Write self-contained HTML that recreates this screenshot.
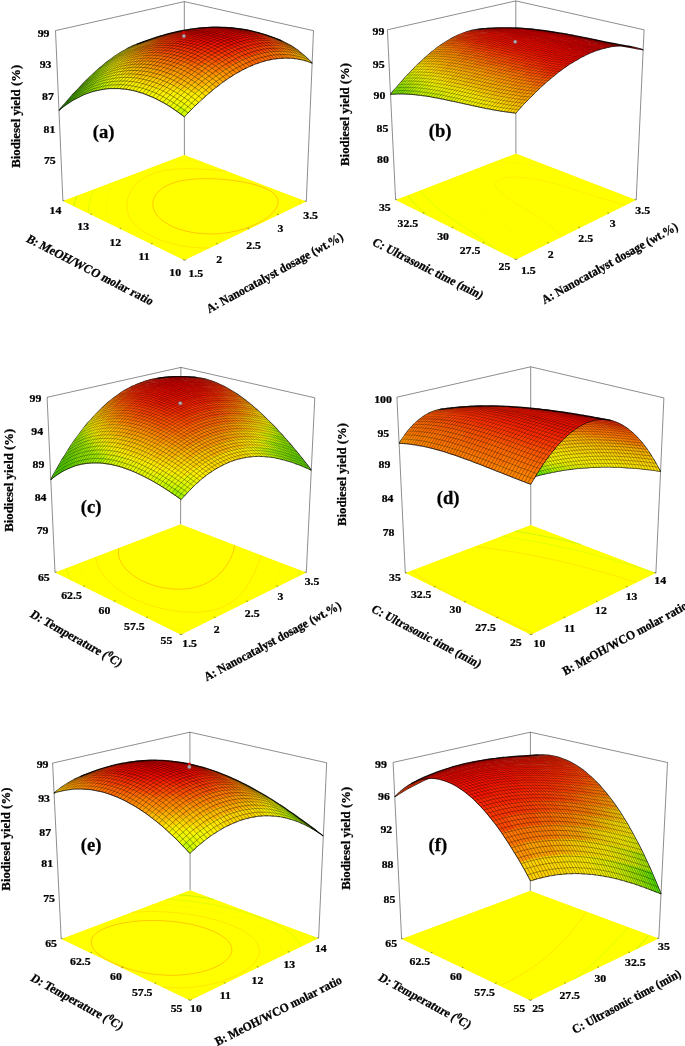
<!DOCTYPE html>
<html><head><meta charset="utf-8"><title>Response surface plots</title>
<style>
html,body{margin:0;padding:0;background:#fff;}
svg{display:block;will-change:transform;}
text{font-family:"Liberation Serif",serif;font-weight:bold;fill:#000;stroke:#000;stroke-width:.28px;}
</style></head><body>
<svg width="685" height="1046" viewBox="0 0 685 1046">
<rect width="685" height="1046" fill="#fff"/>
<g id="p_a">
<polygon points="184.4,260.3 306.3,201.5 184.4,155 62.9,200.9" fill="#ffff00"/>
<path d="M253.7 225.3 256.6 223.9 258.8 222.9 260.9 221.7 263.5 220.2 265.9 218.5 268.2 216.9 269.2 216 271.2 214.3 272.2 213.4 273.8 211.6 274.6 210.6 275.9 208.7 276.5 207.7 277 206.6 277.6 204.8 277.9 203.4 278 202.3 278 201.1 277.8 199.8 277.4 198.5 276.7 197 275.8 195.7 275 194.7 273.9 193.7 271.9 192 270.7 191.2 268.1 189.7 265.2 188.3 262.1 187 258.8 185.9 255.3 184.8 251.7 183.9 249.8 183.4 245.9 182.6 243.8 182.2 239.7 181.5 237.6 181.1 234.5 180.7 231 180.2 228.7 180 226.2 179.7 222.5 179.4 219.1 179.1 216.6 179 214 178.8 211.3 178.7 208.5 178.7 205.7 178.7 202.7 178.7 199.6 178.8 196.4 178.9 193.2 179.1 190.9 179.4 188.6 179.6 184.5 180.2 182.4 180.6 178.7 181.4 176.8 181.8 173.5 182.9 170.4 184 167.6 185.2 165 186.6 163.6 187.4 161.6 188.9 160.1 190 158.6 191.4 157.8 192.3 156.5 193.9 155.6 195.2 155 196.3 154.4 197.3 153.9 198.7 153.4 200.1 153.1 201.5 152.9 202.8 152.9 204.1 152.9 205.4 153.1 206.6 153.3 207.8 153.7 209.2 154.4 210.9 155.1 212.3 155.7 213.4 156.6 214.7 158 216.4 158.9 217.4 160.9 219.3 162 220.2 164.4 222 167 223.6 168.4 224.4 171.4 226 174.6 227.4 176.3 228.1 180 229.4 184 230.5 186.1 231.1 190.5 232 192.8 232.5 197 233.1 200.5 233.5 203.3 233.7 206.3 233.8 209.4 233.9 212.7 233.9 216.2 233.8 220 233.6 223.4 233.2 225.9 232.9 228.9 232.5 233 231.7 235.2 231.3 239.3 230.3 241.3 229.7 245.1 228.6 248.6 227.3 252 226 253.7 225.3" fill="none" stroke="#ff6a00" stroke-opacity=".75" stroke-width="0.5"/>
<path d="M299.6 204.7 300 203 300.2 201.4 300.2 200.3 300.2 199.1" fill="none" stroke="#ffb000" stroke-opacity=".75" stroke-width="0.4"/>
<path d="M227 171.2 224.5 170.9 222.2 170.7 219.3 170.4 215.6 170.1 212.9 169.9 210.6 169.7 208.2 169.5 205.3 169.3 202 169.2 198.8 169 195.8 168.9 192.9 168.8 190.2 168.8 187.4 168.8 184.5 168.8 181.7 168.9 179.2 169 176.7 169.1 174.4 169.3 171.2 169.6 167.8 170 165.7 170.3 161.9 171.1 160.1 171.5 156.6 172.4 153.5 173.4 150.6 174.5 147.9 175.8 145.3 177.1 144.1 177.9 141.9 179.3 140.5 180.4 138.9 181.7 137.9 182.5 136.2 184.3 135.3 185.2 134.5 186.1 133.2 187.8 132.3 188.9 131.7 190 131 191 130.2 192.4 129.5 193.9 128.9 195.3 128.5 196.4 128.1 197.6 127.7 198.8 127.4 200 127.2 201.3 127 202.6 126.9 203.9 126.8 205.3 126.8 206.7 127 208.2 127.1 209.6 127.4 210.8 127.7 212 128 213.1 128.6 214.7 129.4 216.5 129.9 217.6 130.5 218.7 131.9 220.8 132.7 221.8 133.8 223.2 135.3 224.8 136.5 225.9 138.3 227.6 140.6 229.4 141.8 230.4 144.4 232.1 147.1 233.8 150.1 235.4 153.2 236.9 156.5 238.4 160.1 239.8 163.8 241.2 167.6 242.4 169.8 243 174.1 244.1 176.4 244.7 181 245.6 183.5 246.1 186.3 246.5 190.9 247.1 194.2 247.4 197.1 247.7 200.1 247.8 203.2 248 206.5 248 210 248" fill="none" stroke="#ffb000" stroke-opacity=".75" stroke-width="0.4"/>
<path d="M180.7 258.5 183.8 258.9 186.6 259.3" fill="none" stroke="#f4ec00" stroke-opacity=".75" stroke-width="0.35"/>
<path d="M203.3 162.2 199.6 161.8 197.4 161.6 195.1 161.4 192.3 161.1 188.8 160.8 186 160.6 183.7 160.5 181.4 160.3 178.8 160.1 175.6 160 172.5 159.8" fill="none" stroke="#f4ec00" stroke-opacity=".75" stroke-width="0.35"/>
<path d="M116.4 180.7 115.8 181.7 115.1 182.6 114.4 183.7 113.5 185.1 112.7 186.6 112 187.8 111.5 188.8 110.9 189.9 110.4 191 109.9 192.2 109.3 193.6 108.8 195 108.3 196.3 107.9 197.7 107.5 199 107.2 200.3 106.9 201.6 106.7 202.9 106.5 204.2 106.4 205.5 106.3 206.8 106.3 208 106.3 209.3 106.3 210.5 106.4 211.7 106.6 213.2 106.9 214.8 107.3 216.4 107.7 217.6 108 218.8 108.6 220.2 109.5 222.1 110.1 223.2 110.7 224.3" fill="none" stroke="#f4ec00" stroke-opacity=".75" stroke-width="0.35"/>
<path d="M94.3 189.1 93.7 190.4 93.2 191.7 92.6 193.1 92.1 194.4 91.6 195.8 91.2 197.1 90.8 198.4 90.4 199.7 90.1 200.9 89.7 202.2 89.4 203.5 89.2 204.8 88.9 206.2 88.8 207.6 88.6 208.8 88.5 210.1 88.5 211.4 88.4 212.6" fill="none" stroke="#a8f000" stroke-opacity=".75" stroke-width="0.45"/>
<path d="M77 195.6 76.5 196.9 76 198.3 75.6 199.6 75.1 200.9 74.7 202.3 74.3 203.6 74 204.9 73.6 206.2" fill="none" stroke="#58e000" stroke-opacity=".75" stroke-width="0.45"/>
<path d="M62.9 200.9L55.5 30.6M55.5 30.6L184.3 1.6M184.3 1.6L313.5 30.7M313.5 30.7L306.3 201.5M184.3 1.6L184.4 155" fill="none" stroke="#000" stroke-opacity=".75" stroke-width=".6"/>
<path d="M184.4 260.3L182.8 259.5M217.9 244.1L216.3 243.4M249.3 229L247.6 228.3M278.7 214.8L277 214.1M306.3 201.5L304.6 200.8M184.4 260.3L186.1 259.5M150.9 244L152.6 243.2M119.7 228.7L121.3 228M90.4 214.4L92 213.7M62.9 200.9L64.5 200.3" fill="none" stroke="#000" stroke-opacity=".6" stroke-width=".7"/>
<g transform="scale(.2)" fill="none" stroke="#000" stroke-opacity="0.6" stroke-width="3" stroke-linejoin="round">
<path d="M295 552l17-20 17-19 16-19 17-19 17-18 17-18 16-17 17-17 16-16 17-16 16-15 16-14 17-14 16-14 16-12 16-12 16-12 16-10 16-10 16-9 15-9 16-8 15-7 16-6 15-5 16-5 15-4 15-2 15-3 15-1 15 0 15 1 15 1 15 3 14 3 15 4 14 6 14 6 15 7 14 8M1561 316l-18-18-17-16-18-15-17-14-17-12-18-12-17-9-17-9-17-8-17-6-17-6-17-5-16-3-17-3-17-2-16-2-17-1-16 0-16 1-16 1-16 2-16 1-16 3-16 3-15 3-16 3-15 3-16 4-15 4-15 4-15 3-15 4-15 4-14 4-15 3-14 4-15 3-14 3-14 3-14 2" stroke-opacity="0.8" stroke-width="6"/>
<g stroke="none"><path fill="#93e500" d="M936 227l14 8-28 5-14-8z"/><path fill="#a8ef00" d="M922 219l14 8 4 2-28 5-4-2-15-7z"/><path fill="#befa00" d="M907 213l15 6 4 2-28 6-5-2-14-6z"/><path fill="#cdfb00" d="M893 207l14 6 5 2-29 5-4-1-14-6z"/><path fill="#ddfb00" d="M879 203l14 4 4 2-28 6-4-2-15-4z"/><path fill="#ecfc00" d="M849 196l15 3 15 4 4 1-28 6-5-1-14-3-15-3z"/><path fill="#f2f800" d="M834 194l15 2 5 1-29 7-4-1-15-1z"/><path fill="#f9f400" d="M790 194l30-1 14 1 5 1-28 7-5 0-15-1-30 1z"/><path fill="#fff000" d="M698 217l31-11 30-8 31-4 4 0-28 8-5 0-30 5-31 9-31 11z"/><path fill="#f9f400" d="M650 238l32-15 16-6 4-2-28 10-5 2-15 7-31 17z"/><path fill="#f2f800" d="M619 257l16-10 15-9 5-2-28 12-4 3-16 9-16 10z"/><path fill="#ecfc00" d="M603 267l16-10 4-3-27 13-5 3-16 10z"/><path fill="#ddfb00" d="M587 278l16-11 4-3-27 13-5 3-16 12z"/><path fill="#cdfb00" d="M571 289l16-11 4-3-27 13-5 4-16 12z"/><path fill="#befa00" d="M538 315l16-13 17-13 4-3-27 14-5 4-16 12-16 14z"/><path fill="#a8ef00" d="M505 342l17-14 16-13 5-4-28 15-4 4-17 14-16 14z"/><path fill="#93e500" d="M472 372l17-15 16-15 5-4-27 16-5 4-16 15-17 16z"/><path fill="#7dda00" d="M456 388l16-16 5-5-27 17-5 5-16 16z"/><path fill="#6bd000" d="M422 421l17-17 17-16 5-5-27 17-5 5-17 17-16 17z"/><path fill="#5ac600" d="M389 456l17-18 16-17 5-5-26 18-5 5-17 18-17 18z"/><path fill="#48bc00" d="M372 474l17-18 5-5-27 19-5 5-17 19z"/><path fill="#3caf00" d="M338 512l17-19 17-19 5-5-27 19-5 6-16 19-17 19z"/><path fill="#30a300" d="M321 531l17-19 5-6-26 20-5 6-17 20z"/></g>
<g stroke="none"><path fill="#a8ef00" d="M965 220l14 9-33 7-14-8z"/><path fill="#befa00" d="M950 213l15 7 4 3-33 7-4-2-15-8z"/><path fill="#cdfb00" d="M936 206l14 7 5 2-33 7-5-2-14-6z"/><path fill="#ddfb00" d="M922 200l14 6 4 2-33 8-4-2-14-6z"/><path fill="#ecfc00" d="M907 196l15 4 4 2-33 8-4-2-15-4z"/><path fill="#f2f800" d="M893 192l14 4 5 1-33 8-5-1-14-4z"/><path fill="#f9f400" d="M878 189l15 3 4 1-33 8-4-1-15-3z"/><path fill="#fff000" d="M848 185l15 2 15 2 4 1-33 8-4-1-15-2-15 0z"/><path fill="#ffe300" d="M818 186l15-1 15 0 5 1-33 9-5 0-15 0-15 0z"/><path fill="#ffd500" d="M710 212l32-11 30-9 31-5 15-1 5-1-33 10-5 0-15 2-30 6-31 9-31 13z"/><path fill="#ffe300" d="M679 227l16-8 15-7 5-2-33 13-4 2-16 7-16 8z"/><path fill="#fff000" d="M647 244l16-9 16-8 4-3-32 14-5 2-16 9-15 10z"/><path fill="#f9f400" d="M615 265l16-11 16-10 5-2-33 14-4 3-16 10-17 11z"/><path fill="#f2f800" d="M599 276l16-11 5-3-33 15-5 3-16 12z"/><path fill="#ecfc00" d="M582 288l17-12 4-3-32 15-5 4-16 12z"/><path fill="#ddfb00" d="M566 300l16-12 5-4-32 16-5 4-16 13z"/><path fill="#cdfb00" d="M550 313l16-13 5-4-32 17-5 4-16 13z"/><path fill="#befa00" d="M517 341l16-14 17-14 5-4-32 17-5 4-17 14-16 15z"/><path fill="#a8ef00" d="M500 356l17-15 5-4-32 18-5 4-17 15z"/><path fill="#93e500" d="M467 388l16-16 17-16 5-4-32 18-5 4-16 16-17 17z"/><path fill="#7dda00" d="M433 421l17-17 17-16 5-5-32 19-5 5-17 17-16 17z"/><path fill="#6bd000" d="M416 438l17-17 5-5-31 20-5 5-17 18z"/><path fill="#5ac600" d="M382 475l17-19 17-18 5-5-31 20-5 6-17 18-17 19z"/><path fill="#48bc00" d="M365 494l17-19 5-6-31 21-5 6-17 19z"/><path fill="#3caf00" d="M348 513l17-19 5-6-31 21-5 6-17 19z"/></g>
<path stroke-opacity=".4" d="M308 541l-13 11 17-20 13-10 17-19-13 10 16-19 14-10 16-19-13 10 17-18 13-10 17-17-13 9 16-17 14-9 16-17M321 531l-13 10 17-19 13-10 17-19-13 10 17-19 13-10 17-18-14 9 17-18 14-9 16-17-13 9 17-17 13-9 17-16"/><path stroke-opacity=".35" d="M442 396l-13 9 16-16 14-9 16-15-13 8 16-15 14-8 16-14-14 8 17-14 13-8 17-13-14 7 16-12 14-7 16-12M456 388l-14 8 17-16 13-8 17-15-14 8 17-15 13-8 17-14-14 8 16-14 14-7 16-13-13 7 16-12 14-8 16-11"/><path stroke-opacity=".25" d="M573 285l-14 7 16-12 14-6 16-11-14 7 16-10 14-7 15-9-13 7 15-9 14-6 16-7-14 5 15-7 14-5 16-6-14 5 15-5 14-5 16-5-14 5 15-4 14-4 15-3-14 5 15-3 14-4 15-1-14 4 15 0 14-4 15 1M587 278l-14 7 16-11 14-7 16-10-14 6 16-10 14-6 15-9-14 6 16-8 14-6 16-7-14 6 15-7 15-5 15-6"/><path stroke-opacity=".45" d="M820 198l-14 4 15 1 14-3 15 2-14 4 14 3 14-3 15 4-14 3 14 6 14-3 15 6-15 3 15 7 14-3 14 9-14 2M834 194l-14 4 15 2 14-4 15 3-14 3 14 4 15-3 14 4-14 3 14 6 14-3 15 6-14 3 14 7 14-2 14 8-14 3"/><path stroke-opacity=".3" d="M713 211l-14 5 15-5 15-5 15-4-14 4 15-3 14-5 15-2-14 4 15-2 15-4 15-1-15 4 15 0 15-4 14 1"/>
<g stroke="none"><path fill="#befa00" d="M994 213l14 9-34 8-14-9z"/><path fill="#cdfb00" d="M979 206l15 7 4 3-33 8-5-3-14-7z"/><path fill="#ecfc00" d="M965 199l14 7 5 2-34 8-4-2-14-7z"/><path fill="#f2f800" d="M951 193l14 6 4 2-33 8-4-2-15-6z"/><path fill="#f9f400" d="M936 188l15 5 4 2-33 8-5-2-14-4z"/><path fill="#fff000" d="M922 184l14 4 5 2-34 8-4-1-15-4z"/><path fill="#ffe300" d="M892 179l15 2 15 3 4 1-33 9-5-1-14-3-15-2z"/><path fill="#ffd500" d="M877 177l15 2 5 0-34 9-4 0-15-1z"/><path fill="#ffc800" d="M847 177l15 0 15 0 5 1-34 9-4 0-15-1-15 1z"/><path fill="#ffbb00" d="M739 202l31-11 31-8 31-5 15-1 5 0-34 10-4 0-15 1-31 5-31 9-31 12z"/><path fill="#ffc800" d="M692 224l31-16 16-6 5-2-33 12-5 2-16 7-31 16z"/><path fill="#ffd500" d="M659 242l17-9 16-9 4-3-33 13-4 3-16 9-16 10z"/><path fill="#ffe300" d="M643 252l16-10 5-3-33 14-4 3-16 11z"/><path fill="#fff000" d="M627 263l16-11 5-3-33 14-4 4-17 11z"/><path fill="#f9f400" d="M594 287l17-12 16-12 5-3-33 15-5 3-16 12-16 12z"/><path fill="#f2f800" d="M578 300l16-13 5-4-32 16-5 3-17 13z"/><path fill="#ecfc00" d="M561 313l17-13 5-4-33 16-5 3-16 14z"/><path fill="#ddfb00" d="M545 327l16-14 5-4-32 16-5 4-17 15z"/><path fill="#cdfb00" d="M528 342l17-15 5-4-33 16-5 5-16 15z"/><path fill="#befa00" d="M511 357l17-15 5-5-32 17-5 5-17 15z"/><path fill="#a8ef00" d="M478 389l17-16 16-16 5-5-32 17-5 5-17 16-16 17z"/><path fill="#93e500" d="M461 406l17-17 5-5-32 18-5 5-17 17z"/><path fill="#7dda00" d="M427 440l17-17 17-17 5-5-32 17-5 6-17 17-17 18z"/><path fill="#6bd000" d="M410 459l17-19 5-5-32 19-5 5-17 18z"/><path fill="#5ac600" d="M375 496l17-19 18-18 5-6-32 19-5 5-17 19-17 19z"/></g>
<path stroke-opacity=".4" d="M334 522l-13 9 17-19 13-10 17-18-13 9 17-19 13-9 17-18-13 9 17-18 13-9 17-17-14 9 17-17 14-8 17-17M348 513l-14 9 17-20 14-8 17-19-14 9 17-19 14-9 17-18-14 9 17-18 14-8 17-17-14 8 17-16 14-8 16-16"/><path stroke-opacity=".35" d="M470 379l-14 9 16-16 14-8 17-15-14 8 16-15 14-8 17-13-14 7 16-13 14-8 16-12-14 7 17-13 13-6 17-12M483 372l-13 7 16-15 14-8 17-15-14 8 16-15 14-7 17-14-14 8 16-14 14-7 16-12-14 7 16-12 15-7 16-11"/><path stroke-opacity=".25" d="M601 271l-14 7 16-11 14-7 16-10-14 7 16-10 14-6 16-8-15 5 16-8 14-5 16-7-14 5 16-6 14-6 15-5M615 265l-14 6 16-11 14-6 16-10-14 6 16-9 14-6 16-8-14 6 15-8 15-6 15-7-14 6 16-7 14-5 16-5"/><path stroke-opacity=".3" d="M727 206l-14 5 16-5 14-5 15-4-14 5 15-4 14-4 16-3-15 5 16-2 14-4 15-1-14 4 15 0 14-4 15 2M742 201l-15 5 16-5 14-5 15-4-14 5 15-3 15-5 15-2-14 4 15-1 14-4 15-1-14 4 15 0 14-4 15 2"/><path stroke-opacity=".45" d="M849 191l-15 3 15 2 15-3 14 2-14 4 15 4 14-4 14 5-14 3 14 6 15-3 14 6-14 3 14 8 14-3 14 8-14 3M863 187l-14 4 15 2 14-4 15 3-15 3 15 4 14-3 15 4-15 4 15 6 14-4 14 7-14 3 14 8 15-4 14 9-15 3"/>
<g stroke="none"><path fill="#ddfb00" d="M1023 206l14 8-34 9-14-9z"/><path fill="#ecfc00" d="M1009 198l14 8 4 2-33 9-5-3-14-7z"/><path fill="#f2f800" d="M995 191l14 7 4 2-34 9-4-2-14-7z"/><path fill="#fff000" d="M980 185l15 6 4 2-34 9-4-2-15-6z"/><path fill="#ffe300" d="M966 180l14 5 5 2-34 9-5-2-14-5z"/><path fill="#ffd500" d="M951 176l15 4 4 2-34 9-4-2-15-4z"/><path fill="#ffc800" d="M922 170l14 3 15 3 5 1-34 9-5-1-14-3-15-2z"/><path fill="#ffbb00" d="M907 169l15 1 4 1-34 9-4 0-15-2z"/><path fill="#ffad00" d="M861 169l31-1 15 1 4 0-34 10-4-1-15 0-30 1z"/><path fill="#ffa000" d="M768 192l32-11 31-7 30-5 5 0-34 10-4 0-31 5-31 8-31 11z"/><path fill="#ffad00" d="M721 213l32-15 15-6 5-2-33 11-5 2-16 7-32 15z"/><path fill="#ffbb00" d="M689 231l16-9 16-9 5-2-34 12-5 2-16 9-16 10z"/><path fill="#ffc800" d="M672 241l17-10 4-3-33 13-5 3-16 10z"/><path fill="#ffd500" d="M640 263l16-11 16-11 5-3-33 13-5 3-16 11-17 12z"/><path fill="#ffe300" d="M623 275l17-12 5-3-34 13-5 4-16 12z"/><path fill="#fff000" d="M607 288l16-13 5-4-33 14-5 4-16 13z"/><path fill="#f9f400" d="M590 301l17-13 5-4-33 14-5 4-17 13z"/><path fill="#f2f800" d="M573 315l17-14 5-4-33 14-5 4-16 14z"/><path fill="#ecfc00" d="M557 329l16-14 5-5-32 15-5 4-17 15z"/><path fill="#ddfb00" d="M540 344l17-15 5-4-33 15-5 4-17 15z"/><path fill="#cdfb00" d="M523 359l17-15 5-5-33 16-5 4-17 16z"/><path fill="#befa00" d="M506 375l17-16 5-4-33 15-5 5-17 16z"/><path fill="#a8ef00" d="M472 409l17-17 17-17 5-4-32 15-6 5-16 17-17 17z"/><path fill="#93e500" d="M455 426l17-17 5-5-32 16-5 5-17 18z"/><path fill="#7dda00" d="M420 463l18-19 17-18 5-5-32 16-5 6-18 18-17 19z"/><path fill="#6bd000" d="M403 482l17-19 5-6-32 17-5 6-17 19z"/></g>
<path stroke-opacity=".45" d="M361 504l-13 9 17-19 14-9 17-19-14 9 17-19 14-8 17-18-14 8 17-17 14-8 17-17-14 8 17-16 14-8 16-16M878 183l-15 4 15 2 14-4 15 3-14 4 14 4 15-4 14 5-14 3 14 6 15-3 14 6-15 4 15 7 14-3 14 8-14 4M375 496l-14 8 18-19 13-8 18-18-14 7 17-18 14-8 17-17-14 7 17-17 14-7 17-17-14 7 17-16 14-7 16-16M892 179l-14 4 14 2 15-4 15 3-15 4 15 4 14-4 15 5-15 4 15 6 14-4 14 7-14 3 14 8 15-4 14 9-15 3"/><path stroke-opacity=".35" d="M497 364l-14 8 17-16 14-7 17-15-14 7 16-14 14-7 17-14-14 7 16-13 14-7 16-12-14 7 17-12 14-7 16-11"/><path stroke-opacity=".25" d="M629 258l-14 7 16-11 14-6 16-10-14 6 16-9 14-6 16-8-14 6 16-8 14-5 16-7-15 5 16-6 14-5 16-6M643 252l-14 6 16-10 14-6 17-9-15 5 16-9 15-5 16-8-15 5 16-7 14-6 16-6-14 5 15-6 15-5 15-5"/><path stroke-opacity=".3" d="M756 195l-14 6 15-5 14-5 16-4-15 5 16-3 14-5 15-2-14 5 15-1 15-5 15 0-15 4 15 0 15-4 15 2M770 191l-14 4 15-4 15-5 15-3-14 4 15-3 15-4 15-2-15 4 16-1 14-4 15 0-14 4 15 0 14-4 15 2"/><path stroke-opacity=".4" d="M511 357l-14 7 17-15 14-7 17-15-14 7 16-14 14-7 17-13-14 6 16-13 14-6 17-12-15 6 17-12 14-6 16-11"/>
<g stroke="none"><path fill="#f2f800" d="M1053 198l14 9-34 8-14-8z"/><path fill="#f9f400" d="M1039 190l14 8 4 3-34 8-4-2-14-8z"/><path fill="#fff000" d="M1025 184l14 6 4 3-34 8-4-2-15-7z"/><path fill="#ffe300" d="M1010 178l15 6 4 2-34 8-5-2-14-6z"/><path fill="#ffc800" d="M981 168l15 5 14 5 5 1-35 9-4-2-15-5-14-4z"/><path fill="#ffbb00" d="M966 165l15 3 4 2-34 9-4-2-15-3z"/><path fill="#ffad00" d="M952 163l14 2 5 1-35 9-4-1-15-2z"/><path fill="#ffa000" d="M922 160l15 1 15 2 4 0-34 9-5 0-15-2-15-1z"/><path fill="#ff9200" d="M891 161l16-1 15 0 4 0-34 10-5-1-15 1-15 1z"/><path fill="#ff8400" d="M798 183l32-11 31-7 30-4 5 0-34 9-5 1-31 4-31 7-31 11z"/><path fill="#ff9200" d="M750 204l32-15 16-6 5-2-34 10-5 2-16 7-32 15z"/><path fill="#ffa000" d="M718 221l16-9 16-8 5-3-34 11-5 3-16 8-16 10z"/><path fill="#ffad00" d="M685 242l17-11 16-10 5-2-34 11-5 3-16 10-16 10z"/><path fill="#ffbb00" d="M669 253l16-11 5-4-33 12-5 3-17 12z"/><path fill="#ffc800" d="M653 264l16-11 5-4-34 12-5 4-16 12z"/><path fill="#ffd500" d="M636 277l17-13 4-3-33 12-5 4-17 12z"/><path fill="#ffe300" d="M619 290l17-13 5-4-34 13-5 3-16 14z"/><path fill="#fff000" d="M603 303l16-13 5-4-33 13-5 4-17 13z"/><path fill="#f9f400" d="M586 318l17-15 5-4-34 13-5 4-17 15z"/><path fill="#f2f800" d="M569 332l17-14 5-5-34 13-5 5-16 15z"/><path fill="#ecfc00" d="M552 348l17-16 5-4-33 13-5 5-17 15z"/><path fill="#ddfb00" d="M535 364l17-16 5-5-33 14-5 4-17 16z"/><path fill="#cdfb00" d="M518 380l17-16 5-5-33 14-5 4-17 17z"/><path fill="#befa00" d="M501 397l17-17 5-5-33 14-5 5-17 17z"/><path fill="#a8ef00" d="M483 414l18-17 5-5-33 14-5 5-17 17z"/><path fill="#93e500" d="M449 451l17-19 17-18 6-5-33 14-5 5-18 18-17 19z"/><path fill="#7dda00" d="M431 469l18-18 5-6-33 14-5 6-17 19z"/></g>
<path stroke-opacity=".45" d="M389 489l-14 7 17-19 14-7 17-19-13 8 17-19 14-7 17-17-14 7 17-17 14-8 17-16-14 7 17-16 14-7 17-16M403 482l-14 7 17-19 14-7 18-19-15 7 18-18 14-7 17-17-14 7 17-18 14-6 17-17-14 7 17-16 14-7 17-15"/><path stroke-opacity=".4" d="M526 350l-15 7 17-15 14-7 17-14-14 6 16-14 15-6 16-13-14 6 16-13 15-6 16-12-14 6 16-12 14-6 17-10M540 344l-14 6 16-15 15-6 16-14-14 6 17-14 14-6 17-13-15 6 17-13 14-6 17-12-15 6 16-12 15-5 16-11"/><path stroke-opacity=".25" d="M658 247l-15 5 16-10 15-6 16-9-14 6 16-9 14-6 16-8-14 6 15-8 15-5 16-6-15 5 16-6 14-5 16-5M672 241l-14 6 16-11 15-5 16-9-15 5 16-9 15-5 16-8-15 5 16-7 15-5 15-6-14 5 15-6 15-5 16-5"/><path stroke-opacity=".3" d="M785 186l-15 5 16-5 15-5 15-3-15 5 16-3 14-5 16-1-15 4 15-1 15-4 15-1-15 5 15 0 15-4 15 1M800 181l-15 5 16-5 14-4 16-3-15 4 15-3 15-4 15-2-14 5 15-1 15-5 15 0-15 4 15 1 15-4 15 1"/><path stroke-opacity=".5" d="M907 174l-15 5 15 2 15-4 14 3-14 4 14 4 15-4 14 5-14 4 14 6 15-4 14 7-15 4 15 7 14-3 14 8-14 4M922 170l-15 4 15 3 14-4 15 3-15 4 15 4 15-4 14 5-15 4 15 6 15-4 14 7-15 4 14 8 15-4 14 8-15 4"/>
<g stroke="none"><path fill="#f9f400" d="M1083 191l14 8-34 9-14-9z"/><path fill="#ffe300" d="M1069 183l14 8 5 2-35 9-4-3-15-7z"/><path fill="#ffd500" d="M1055 176l14 7 4 2-34 9-5-2-14-7z"/><path fill="#ffc800" d="M1041 170l14 6 4 2-35 9-4-2-14-6z"/><path fill="#ffbb00" d="M1026 165l15 5 4 2-35 9-4-2-15-5z"/><path fill="#ffad00" d="M1011 161l15 4 4 2-34 8-5-1-14-4z"/><path fill="#ffa000" d="M997 158l14 3 5 1-35 9-4-1-15-4z"/><path fill="#ff9200" d="M982 155l15 3 4 1-35 8-4-1-15-2z"/><path fill="#ff8400" d="M952 153l15 1 15 1 4 1-34 9-5-1-15-2-15-1z"/><path fill="#ff7600" d="M906 155l31-2 15 0 4 0-34 9-5-1-15 0-30 3z"/><path fill="#ff6700" d="M828 175l32-10 31-7 15-3 5 0-35 8-4 1-16 2-31 8-31 10z"/><path fill="#ff7600" d="M780 195l32-14 16-6 5-2-35 9-4 2-16 6-32 15z"/><path fill="#ff8400" d="M748 213l16-9 16-9 5-2-34 10-5 2-16 9-16 9z"/><path fill="#ff9200" d="M732 222l16-9 5-3-35 10-4 3-17 10z"/><path fill="#ffa000" d="M699 244l16-11 17-11 5-3-35 11-5 3-16 10-16 11z"/><path fill="#ffad00" d="M682 255l17-11 5-4-34 11-5 3-17 12z"/><path fill="#ffbb00" d="M666 268l16-13 5-3-34 10-5 4-16 12z"/><path fill="#ffc800" d="M649 281l17-13 5-4-34 11-5 3-17 13z"/><path fill="#ffd500" d="M632 294l17-13 5-4-34 11-5 3-17 14z"/><path fill="#ffe300" d="M615 308l17-14 5-4-34 11-5 4-17 14z"/><path fill="#fff000" d="M598 323l17-15 5-4-34 11-5 4-16 15z"/><path fill="#f9f400" d="M581 338l17-15 6-5-34 12-5 4-17 15z"/><path fill="#f2f800" d="M564 354l17-16 6-4-34 11-5 4-17 16z"/><path fill="#ecfc00" d="M547 370l17-16 5-5-33 12-5 4-17 17z"/><path fill="#ddfb00" d="M530 387l17-17 5-5-33 12-5 5-18 17z"/><path fill="#befa00" d="M495 422l18-18 17-17 5-5-33 12-6 5-17 17-17 18z"/><path fill="#a8ef00" d="M478 441l17-19 5-5-33 12-5 5-18 18z"/><path fill="#93e500" d="M460 459l18-18 5-6-33 12-6 5-17 19z"/></g>
<path stroke-opacity=".5" d="M417 475l-14 7 17-19 14-7 18-18-14 6 17-18 14-6 17-17-14 6 17-17 14-6 17-17-14 6 17-16 14-6 17-15M937 167l-15 3 14 3 15-4 15 3-15 4 15 4 15-4 14 5-15 4 15 6 15-4 14 7-15 4 14 8 15-4 14 8-15 4M431 469l-14 6 17-19 15-5 17-19-14 6 17-18 14-6 18-17-15 6 17-17 15-6 17-16-15 5 17-16 15-5 17-16M952 163l-15 4 14 2 15-4 15 3-15 4 15 4 15-3 14 5-15 3 15 6 15-3 14 6-15 4 14 8 15-4 14 9-15 3"/><path stroke-opacity=".4" d="M554 338l-14 6 17-15 14-6 17-14-15 6 17-14 15-6 16-13-14 6 16-13 15-5 16-12-14 5 16-11 15-6 16-10M569 332l-15 6 17-15 15-5 17-15-15 6 17-14 14-5 17-13-15 5 17-12 15-6 16-11-15 5 17-12 14-4 17-11"/><path stroke-opacity=".25" d="M687 236l-15 5 17-10 14-5 16-9-14 5 16-9 14-5 16-7-14 4 16-7 14-5 16-6-15 5 16-6 15-5 16-4"/><path stroke-opacity=".3" d="M815 177l-15 4 15-4 15-4 16-4-15 5 15-3 15-4 15-2-15 4 16-1 15-4 15 0-15 4 15 1 15-4 15 2M702 231l-15 5 16-10 15-5 16-9-15 5 16-9 15-4 16-8-15 5 16-8 15-4 16-6-15 4 16-6 15-4 16-5-15 5 15-4 15-5 16-3-15 4 15-2 15-4 15-2-15 4 16-1 15-4 15 0-15 4 15 1 15-4 15 2"/>
<g stroke="none"><path fill="#ffe300" d="M1114 184l14 8-35 8-14-8z"/><path fill="#ffd500" d="M1100 176l14 8 4 2-35 8-4-2-14-8z"/><path fill="#ffbb00" d="M1086 170l14 6 4 2-35 8-4-2-15-7z"/><path fill="#ffad00" d="M1071 164l15 6 4 2-35 7-5-2-14-6z"/><path fill="#ffa000" d="M1057 159l14 5 5 2-36 7-4-2-15-5z"/><path fill="#ff9200" d="M1042 155l15 4 4 1-35 8-5-2-14-4z"/><path fill="#ff8400" d="M1027 152l15 3 5 1-36 8-4-2-15-3z"/><path fill="#ff7600" d="M998 147l15 2 14 3 5 0-35 8-5-1-15-3-15-1z"/><path fill="#ff6700" d="M983 147l15 0 4 1-35 7-5 0-15-1z"/><path fill="#ff5900" d="M937 149l31-2 15 0 4 0-35 7-5 0-15 0-30 2z"/><path fill="#ff4a00" d="M859 168l31-10 32-7 15-2 5-1-36 8-4 0-16 3-31 7-31 10z"/><path fill="#ff5900" d="M811 189l32-15 16-6 5-1-35 7-5 2-16 6-32 15z"/><path fill="#ff6700" d="M779 206l16-9 16-8 5-3-35 8-5 3-16 8-16 9z"/><path fill="#ff7600" d="M762 215l17-9 4-3-35 8-4 3-17 10z"/><path fill="#ff8400" d="M729 237l17-11 16-11 5-3-35 9-5 3-16 10-17 11z"/><path fill="#ff9200" d="M713 248l16-11 5-4-35 9-5 3-16 12z"/><path fill="#ffa000" d="M696 260l17-12 5-3-35 8-5 4-17 12z"/><path fill="#ffad00" d="M679 273l17-13 5-3-35 8-5 4-16 13z"/><path fill="#ffbb00" d="M662 287l17-14 5-4-34 9-5 4-17 13z"/><path fill="#ffc800" d="M645 301l17-14 5-4-34 8-5 4-17 15z"/><path fill="#ffd500" d="M628 315l17-14 6-5-35 9-5 5-17 14z"/><path fill="#ffe300" d="M611 330l17-15 6-4-35 9-5 4-17 15z"/><path fill="#fff000" d="M594 346l17-16 6-4-35 9-5 4-17 16z"/><path fill="#f9f400" d="M577 362l17-16 5-5-34 10-5 4-17 17z"/><path fill="#f2f800" d="M560 379l17-17 5-4-34 9-5 5-17 16z"/><path fill="#ddfb00" d="M542 397l18-18 5-5-34 9-5 5-18 18z"/><path fill="#cdfb00" d="M525 414l17-17 6-6-35 10-5 5-17 18z"/><path fill="#befa00" d="M507 433l18-19 5-5-34 9-5 6-18 18z"/><path fill="#a8ef00" d="M490 452l17-19 6-6-34 10-6 5-17 19z"/></g>
<path stroke-opacity=".5" d="M446 464l-15 5 18-18 14-6 18-18-15 5 17-18 15-5 17-17-14 5 17-17 14-5 18-16-15 5 17-16 15-5 17-16M967 159l-15 4 14 2 16-4 14 4-15 3 15 5 15-4 14 5-15 4 15 6 15-4 14 7-15 3 14 8 15-4 14 9-15 4M982 155l-15 4 15 2 15-3 14 3-15 4 15 4 15-4 15 5-16 4 15 6 15-4 14 7-15 4 14 7 15-3 14 8-15 4"/><path stroke-opacity=".45" d="M584 327l-15 5 17-14 15-5 16-14-14 4 16-13 15-5 17-13-15 5 17-13 14-4 17-12-15 5 16-11 15-5 17-10M598 323l-14 4 17-14 14-5 17-14-15 5 17-14 15-4 17-13-15 4 16-12 15-5 17-11-15 4 16-11 15-4 17-11"/><path stroke-opacity=".3" d="M717 227l-15 4 16-10 15-4 16-9-15 4 16-8 15-5 16-7-15 4 16-7 15-4 16-6-15 4 16-6 15-4 16-5-15 4 15-4 15-4 16-3-15 4 15-2 15-4 15-2-15 4 16-1 15-4 15 0-15 4 15 1 15-4 15 2M732 222l-15 5 16-10 15-4 16-9-15 4 16-9 15-4 16-7-15 4 16-7 15-4 16-6-15 4 16-6 15-4 16-4-15 3 15-4 15-3 16-3-15 3 15-2 15-4 16-1-16 3 16-1 15-3 15 0-15 3 15 1 15-3 15 1"/><path stroke-opacity=".55" d="M460 459l-14 5 17-19 15-4 17-19-14 5 17-18 15-5 17-17-15 5 17-17 15-5 17-16-14 5 17-16 14-5 17-15"/>
<g stroke="none"><path fill="#ffc800" d="M1145 177l14 9-36 7-14-8z"/><path fill="#ffbb00" d="M1131 170l14 7 4 3-35 7-5-2-14-8z"/><path fill="#ffad00" d="M1117 164l14 6 4 2-35 7-5-2-14-6z"/><path fill="#ffa000" d="M1102 158l15 6 4 2-36 6-4-1-14-6z"/><path fill="#ff9200" d="M1088 153l14 5 5 2-36 6-4-1-15-5z"/><path fill="#ff8400" d="M1073 149l15 4 4 2-35 6-5-1-14-4z"/><path fill="#ff7600" d="M1059 146l14 3 5 2-36 6-4-1-15-4z"/><path fill="#ff6700" d="M1044 144l15 2 4 1-36 6-4-1-15-2z"/><path fill="#ff5900" d="M1029 142l15 2 4 1-36 6-4-1-15-2z"/><path fill="#ff4a00" d="M999 142l15-1 15 1 4 1-35 6-5-1-15 0-15-1z"/><path fill="#fe3e00" d="M968 144l16-2 15 0 4 0-35 5-5 0-15 1-16 2z"/><path fill="#fd3200" d="M890 163l32-10 31-7 15-2 5-1-36 6-5 1-15 2-31 7-32 10z"/><path fill="#fe3e00" d="M842 183l32-14 16-6 5-2-36 6-5 2-16 6-32 15z"/><path fill="#ff4a00" d="M810 200l16-8 16-9 5-2-36 6-5 3-16 8-16 9z"/><path fill="#ff5900" d="M793 210l17-10 4-2-35 6-5 3-16 9z"/><path fill="#ff6700" d="M777 220l16-10 5-3-35 6-5 3-17 11z"/><path fill="#ff7600" d="M743 243l17-12 17-11 5-3-36 7-5 3-16 11-17 11z"/><path fill="#ff8400" d="M727 255l16-12 5-4-35 7-5 3-17 12z"/><path fill="#ff9200" d="M710 268l17-13 5-4-36 7-5 3-16 13z"/><path fill="#ffa000" d="M693 281l17-13 5-4-35 6-5 4-17 14z"/><path fill="#ffad00" d="M676 295l17-14 5-4-35 7-5 4-17 14z"/><path fill="#ffbb00" d="M659 310l17-15 5-4-35 6-5 5-17 14z"/><path fill="#ffc800" d="M642 325l17-15 5-5-35 7-5 4-17 15z"/><path fill="#ffd500" d="M625 341l17-16 5-5-35 7-5 4-17 16z"/><path fill="#fff000" d="M607 357l18-16 5-5-35 7-5 4-17 17z"/><path fill="#f9f400" d="M590 374l17-17 6-5-35 7-5 5-18 16z"/><path fill="#f2f800" d="M573 391l17-17 5-5-35 6-5 5-17 18z"/><path fill="#ecfc00" d="M555 409l18-18 5-5-35 6-5 6-18 18z"/><path fill="#cdfb00" d="M538 427l17-18 5-5-34 6-6 6-17 18z"/><path fill="#befa00" d="M520 446l18-19 5-5-35 6-5 6-18 19z"/></g>
<path stroke-opacity=".55" d="M475 455l-15 4 18-18 15-5 17-18-15 4 18-18 14-4 18-17-15 4 17-17 15-4 17-16-15 4 17-16 15-4 17-15M490 452l-15 3 18-19 14-3 18-19-15 4 17-18 15-3 18-18-15 4 17-17 15-4 17-16-15 4 17-16 15-4 17-15"/><path stroke-opacity=".45" d="M613 319l-15 4 17-15 15-4 17-14-15 4 17-13 15-4 17-13-15 4 16-13 15-3 17-12-15 4 16-11 16-4 16-10M997 152l-15 3 15 3 15-3 15 3-16 3 15 4 15-3 15 5-15 3 14 6 15-3 14 6-15 4 14 8 16-4 14 8-16 4M628 315l-15 4 17-15 15-3 17-14-15 3 17-13 15-4 17-13-15 4 16-12 16-4 16-11-15 3 17-11 15-3 16-11M1013 149l-16 3 15 3 15-3 15 3-15 3 14 4 16-3 14 5-15 3 14 6 16-3 14 6-16 3 15 8 15-3 14 8-15 3"/><path stroke-opacity=".3" d="M747 219l-15 3 16-9 15-4 16-9-15 4 16-9 16-3 16-8-16 4 16-7 16-4 16-6-16 4 16-6 15-3 16-5"/><path stroke-opacity=".25" d="M875 161l-15 4 15-4 16-4 15-3-15 4 15-3 16-3 15-2-15 4 15-1 15-3 15 0-15 3 15 1 15-4 15 2M890 158l-15 3 16-4 15-3 16-3-16 3 16-2 15-3 15-2-15 3 15 0 16-3 15 0-16 3 15 0 16-3 15 2"/><path stroke-opacity=".35" d="M762 215l-15 4 16-10 16-3 16-9-16 3 17-8 15-3 16-8-15 3 16-7 15-3 16-6-15 3 15-5 16-3 15-5"/>
<g stroke="none"><path fill="#ffbb00" d="M1177 173l14 7-36 6-15-8z"/><path fill="#ffa000" d="M1163 166l14 7 4 2-36 6-5-3-14-7z"/><path fill="#ff9200" d="M1148 159l15 7 4 2-36 5-5-2-14-6z"/><path fill="#ff8400" d="M1134 154l14 5 5 2-37 6-4-2-14-6z"/><path fill="#ff7600" d="M1120 149l14 5 4 1-36 6-4-2-15-5z"/><path fill="#ff6700" d="M1105 145l15 4 4 2-36 5-5-2-14-4z"/><path fill="#ff5900" d="M1090 142l15 3 4 2-36 4-4-1-15-3z"/><path fill="#ff4a00" d="M1075 140l15 2 5 1-37 5-4-1-15-2z"/><path fill="#fe3e00" d="M1046 138l15 1 14 1 5 1-36 4-5 0-15-2-15-1z"/><path fill="#fd3200" d="M1030 138l16 0 4 0-36 4-5 0-15 0z"/><path fill="#fc2600" d="M984 143l31-4 15-1 5 0-36 4-5 0-15 1-31 4z"/><path fill="#fa1f00" d="M922 160l31-10 31-7 5-1-36 4-5 1-31 7-32 10z"/><path fill="#fc2600" d="M890 173l16-7 16-6 4-2-36 4-5 2-16 6-16 7z"/><path fill="#fd3200" d="M857 188l16-8 17-7 4-2-36 4-5 2-16 7-16 8z"/><path fill="#fe3e00" d="M825 207l16-10 16-9 5-2-36 4-5 2-16 9-17 10z"/><path fill="#ff4a00" d="M808 217l17-10 4-3-36 4-5 3-16 10z"/><path fill="#ff5900" d="M791 228l17-11 5-3-36 4-5 3-17 11z"/><path fill="#ff6700" d="M775 239l16-11 5-4-36 5-5 3-16 11z"/><path fill="#ff7600" d="M758 251l17-12 5-3-36 4-5 3-17 13z"/><path fill="#ff8400" d="M741 264l17-13 5-3-36 4-5 4-17 12z"/><path fill="#ff9200" d="M724 278l17-14 5-4-36 5-5 3-17 14z"/><path fill="#ffa000" d="M707 292l17-14 5-4-35 4-6 4-17 14z"/><path fill="#ffad00" d="M690 306l17-14 5-5-35 5-6 4-17 14z"/><path fill="#ffbb00" d="M673 321l17-15 5-4-35 4-6 4-17 16z"/><path fill="#ffc800" d="M656 337l17-16 5-4-36 4-5 5-17 15z"/><path fill="#ffd500" d="M638 353l18-16 5-5-36 5-5 4-17 17z"/><path fill="#ffe300" d="M621 370l17-17 6-4-36 4-5 5-17 16z"/><path fill="#fff000" d="M603 388l18-18 5-5-35 4-5 5-18 18z"/><path fill="#f2f800" d="M586 406l17-18 6-5-36 4-5 5-17 18z"/><path fill="#ecfc00" d="M568 424l18-18 5-6-35 4-5 6-18 18z"/><path fill="#ddfb00" d="M550 443l18-19 6-5-36 4-5 5-18 19z"/></g>
<path stroke-opacity=".55" d="M505 449l-15 3 17-19 15-3 18-19-15 3 17-17 15-3 18-18-15 3 17-17 15-3 17-16-15 3 17-16 16-3 17-15"/><path stroke-opacity=".5" d="M644 312l-16 3 17-14 16-3 17-14-16 3 17-14 16-3 16-13-15 3 17-12 15-3 17-11-16 3 17-11 15-3 17-11M659 310l-15 2 17-14 15-3 17-14-15 3 17-14 15-2 17-13-16 2 17-12 15-2 17-12-15 3 16-11 16-3 16-10"/><path stroke-opacity=".35" d="M778 212l-16 3 17-9 15-3 16-9-15 3 16-8 15-3 17-8-16 3 16-7 16-3 15-6-15 3 16-5 15-3 16-5M793 210l-15 2 16-9 16-3 16-8-16 2 16-8 16-3 16-7-15 2 16-7 15-2 16-6-16 2 16-5 16-2 16-5"/><path stroke-opacity=".25" d="M906 155l-16 3 16-4 16-2 15-3-15 2 15-2 16-3 15-1-16 2 16 0 15-3 15 0-15 3 15 0 15-2 15 1M922 153l-16 2 16-3 15-3 16-3-16 3 16-3 15-2 16-2-16 3 15-1 16-2 15-1-16 3 15 1 16-3 15 2"/><path stroke-opacity=".45" d="M1028 146l-15 3 14 3 16-3 15 3-16 3 15 4 15-3 15 5-16 3 15 6 15-3 14 6-15 3 14 8 16-4 14 9-16 3M1044 144l-16 2 15 3 16-3 14 3-15 3 14 4 16-3 14 5-15 3 14 6 16-3 14 6-16 3 15 7 15-3 14 9-15 3"/><path stroke-opacity=".6" d="M520 446l-15 3 17-19 16-3 17-18-15 2 17-17 16-3 17-17-15 2 17-17 15-2 18-16-16 2 18-16 15-2 17-15"/>
<g stroke="none"><path fill="#ffa000" d="M1209 169l14 8-37 4-14-8z"/><path fill="#ff9200" d="M1195 163l14 6 4 3-37 4-4-3-14-7z"/><path fill="#ff8400" d="M1180 156l15 7 4 2-37 3-4-2-14-6z"/><path fill="#ff7600" d="M1166 151l14 5 5 2-37 4-4-2-15-6z"/><path fill="#ff6700" d="M1152 147l14 4 4 2-36 3-5-2-14-4z"/><path fill="#ff4a00" d="M1137 143l15 4 4 1-37 3-4-1-15-4z"/><path fill="#fe3e00" d="M1108 138l14 2 15 3 4 1-36 3-5-1-14-3-15-2z"/><path fill="#fd3200" d="M1093 137l15 1 4 1-37 2-4 0-15-2z"/><path fill="#fc2600" d="M1078 136l15 1 4 0-37 3-4-1-15-1z"/><path fill="#fa1f00" d="M1062 136l16 0 4 0-37 3-4-1-15 0z"/><path fill="#f81900" d="M1032 139l15-2 15-1 5 0-37 2-4 0-16 1-15 2z"/><path fill="#f61200" d="M938 165l31-12 32-8 31-6 4-1-36 2-5 1-31 5-31 9-32 11z"/><path fill="#f81900" d="M922 171l16-6 4-2-36 1-5 2-16 7z"/><path fill="#fa1f00" d="M905 179l17-8 4-2-36 2-5 2-16 8z"/><path fill="#fc2600" d="M873 196l16-9 16-8 5-2-36 1-5 3-16 8-17 9z"/><path fill="#fd3200" d="M856 205l17-9 5-3-37 2-5 3-16 9z"/><path fill="#fe3e00" d="M840 216l16-11 5-2-36 1-5 3-17 10z"/><path fill="#ff4a00" d="M807 238l16-11 17-11 5-3-37 1-5 3-16 11-17 12z"/><path fill="#ff5900" d="M790 250l17-12 5-3-37 1-5 4-17 12z"/><path fill="#ff6700" d="M773 263l17-13 5-3-37 1-5 4-17 13z"/><path fill="#ff7600" d="M756 276l17-13 5-4-36 2-6 4-16 13z"/><path fill="#ff8400" d="M739 290l17-14 5-4-36 2-5 4-17 14z"/><path fill="#ff9200" d="M722 305l17-15 5-4-36 2-5 4-18 15z"/><path fill="#ffa000" d="M704 320l18-15 5-4-36 1-6 5-17 15z"/><path fill="#ffbb00" d="M687 336l17-16 6-4-37 1-5 5-17 16z"/><path fill="#ffc800" d="M670 352l17-16 5-5-36 2-5 5-17 16z"/><path fill="#ffd500" d="M652 369l18-17 5-4-36 1-5 5-18 17z"/><path fill="#ffe300" d="M635 387l17-18 6-5-36 2-6 5-17 17z"/><path fill="#f9f400" d="M617 405l18-18 5-5-36 1-5 5-18 18z"/><path fill="#f2f800" d="M599 423l18-18 5-5-35 1-6 5-17 19z"/><path fill="#ecfc00" d="M582 443l17-20 6-5-36 1-5 6-18 18z"/></g>
<path stroke-opacity=".6" d="M535 444l-15 2 18-19 15-2 17-18-15 2 18-18 15-2 17-17-15 2 17-17 16-2 17-16-15 2 17-16 15-2 18-15M550 443l-15 1 18-19 15-1 18-18-16 1 18-18 15-1 18-18-16 2 18-17 15-2 18-16-16 2 17-16 16-2 17-15"/><path stroke-opacity=".5" d="M675 308l-16 2 17-15 16-2 17-14-16 2 17-13 15-2 17-13-15 2 16-12 16-2 17-12-16 2 17-11 15-2 17-10"/><path stroke-opacity=".4" d="M809 208l-16 2 17-10 15-1 16-9-15 2 16-9 16-1 16-8-16 2 16-7 16-2 16-6-16 2 16-5 16-2 15-5M825 207l-16 1 16-9 16-2 16-9-16 2 17-8 15-2 17-7-16 1 16-7 16-1 16-6-16 1 16-5 15-2 16-4"/><path stroke-opacity=".25" d="M937 151l-15 2 15-4 16-2 16-3-16 2 15-2 16-2 15-2-15 2 15 0 16-2 15-1-16 2 15 1 16-2 15 2M953 150l-16 1 16-4 16-1 15-3-15 1 15-2 16-2 15-1-16 1 16 0 15-2 16 0-16 1 15 1 16-1 14 1"/><path stroke-opacity=".45" d="M1060 142l-16 2 15 2 15-2 15 3-16 2 15 4 16-2 14 5-16 2 15 6 16-3 14 7-16 2 14 7 16-2 14 8-16 3M1075 140l-15 2 14 2 16-2 15 3-16 2 15 4 16-2 14 5-16 2 15 5 15-2 15 7-16 2 14 7 16-2 14 7-16 3"/><path stroke-opacity=".55" d="M690 306l-15 2 17-15 15-1 17-14-15 1 16-13 16-2 17-13-16 2 17-12 16-2 16-11-15 1 16-11 16-1 17-10"/>
<g stroke="none"><path fill="#ff9200" d="M1241 168l14 7-37 2-14-7z"/><path fill="#ff8400" d="M1227 161l14 7 4 2-37 2-4-2-14-7z"/><path fill="#ff7600" d="M1213 156l14 5 4 2-37 2-4-2-14-6z"/><path fill="#ff5900" d="M1198 151l15 5 4 1-37 2-4-2-15-5z"/><path fill="#ff4a00" d="M1184 146l14 5 5 1-37 1-5-1-14-5z"/><path fill="#fe3e00" d="M1169 143l15 3 4 2-37 0-4-1-15-4z"/><path fill="#fd3200" d="M1155 140l14 3 5 1-37 0-5-1-14-3z"/><path fill="#fc2600" d="M1140 138l15 2 4 1-37 0-4-1-15-2z"/><path fill="#fa1f00" d="M1125 137l15 1 4 1-37 0-4-1-15-1z"/><path fill="#f81900" d="M1110 137l15 0 5 0-38 0-4 0-15-1z"/><path fill="#f61200" d="M1095 137l15 0 5 0-38 0-4-1-15 1z"/><path fill="#f20f00" d="M1080 138l15-1 5 0-38-1-4 1-16 0z"/><path fill="#ee0b00" d="M970 166l32-12 31-9 31-5 16-2 4 0-37-1-5 0-15 2-31 6-31 8-32 12z"/><path fill="#f20f00" d="M954 172l16-6 5-2-37-1-5 2-16 6z"/><path fill="#f61200" d="M922 188l16-8 16-8 5-2-37-1-5 2-16 8-17 8z"/><path fill="#f81900" d="M905 197l17-9 4-2-37-1-5 2-16 9z"/><path fill="#fc2600" d="M889 207l16-10 5-3-37-1-5 3-16 10z"/><path fill="#fd3200" d="M856 228l16-11 17-10 5-3-37-1-5 3-17 10-17 11z"/><path fill="#fe3e00" d="M839 239l17-11 5-4-38-1-5 4-16 11z"/><path fill="#ff4a00" d="M822 251l17-12 5-3-37-1-5 3-17 12z"/><path fill="#ff5900" d="M805 264l17-13 5-3-37-1-5 3-17 13z"/><path fill="#ff6700" d="M788 278l17-14 5-4-37-1-5 4-17 14z"/><path fill="#ff7600" d="M771 292l17-14 5-4-37-2-5 5-17 14z"/><path fill="#ff8400" d="M754 306l17-14 5-4-37-2-5 5-17 14z"/><path fill="#ffa000" d="M737 322l17-16 5-4-37-1-5 4-17 15z"/><path fill="#ffad00" d="M719 338l18-16 5-5-37-1-5 4-18 16z"/><path fill="#ffbb00" d="M702 354l17-16 5-5-36-2-6 5-17 17z"/><path fill="#ffc800" d="M684 371l18-17 5-5-37-1-5 5-17 16z"/><path fill="#ffd500" d="M667 389l17-18 5-5-36-2-5 5-18 18z"/><path fill="#fff000" d="M649 407l18-18 5-6-37-1-5 5-18 18z"/><path fill="#f9f400" d="M631 425l18-18 5-6-36-1-6 5-17 18z"/><path fill="#f2f800" d="M613 445l18-20 5-5-36-2-5 5-18 20z"/></g>
<path stroke-opacity=".6" d="M566 443l-16 0 18-19 16 0 17-19-15 1 17-18 16-1 18-17-16 0 17-17 16 0 17-17-15 1 17-16 16 0 17-16"/><path stroke-opacity=".55" d="M706 305l-16 1 17-14 16-1 17-14-16 1 17-14 16-1 17-12-16 0 17-12 16-1 16-11-16 1 17-11 16-1 16-10M722 305l-16 0 17-14 16-1 17-14-16 1 17-14 16 0 17-13-16 1 17-13 16 0 16-11-16 0 17-11 16 0 16-11"/><path stroke-opacity=".4" d="M840 206l-15 1 16-10 16-1 16-9-16 1 16-8 16-1 17-7-16 1 16-7 16-1 16-6-16 1 15-6 16 0 16-5M1091 139l-16 1 15 2 16-1 15 3-16 1 15 4 16-1 14 4-16 2 14 5 16-1 15 6-16 2 14 7 16-2 14 8-16 1M1108 138l-17 1 15 2 16-1 15 3-16 1 15 4 16-1 14 4-16 1 14 6 16-2 15 7-16 1 14 7 16-2 14 8-16 2"/><path stroke-opacity=".25" d="M969 149l-16 1 16-4 16-1 15-3-16 1 16-3 16-1 15-1-16 1 15-1 16-1 16 0-16 1 15 1 16-2 14 2M985 149l-16 0 16-4 16 0 15-4-16 1 16-3 16 0 15-2-16 1 15-1 16-1 16 0-16 1 15 0 16 0 15 1"/><path stroke-opacity=".65" d="M582 443l-16 0 18-19 15-1 18-18-16 0 18-18 16 0 17-18-15 1 17-17 16-1 17-16-16 0 18-15 15-1 18-15"/><path stroke-opacity=".45" d="M856 205l-16 1 17-10 16 0 16-9-16 0 16-8 16 0 17-8-16 1 16-7 16 0 16-6-16 0 15-5 16-1 16-4"/>
<g stroke="none"><path fill="#ff8400" d="M1274 169l14 7-38 0-14-8z"/><path fill="#ff7600" d="M1260 163l14 6 4 2-38-1-4-2-14-6z"/><path fill="#ff6700" d="M1246 157l14 6 4 2-38-1-4-2-14-6z"/><path fill="#ff4a00" d="M1231 152l15 5 4 2-38-2-4-1-14-5z"/><path fill="#fe3e00" d="M1217 148l14 4 5 2-38-2-4-1-15-5z"/><path fill="#fd3200" d="M1202 145l15 3 4 2-38-2-4-2-14-3z"/><path fill="#fc2600" d="M1188 143l14 2 5 1-38-2-4-1-15-3z"/><path fill="#fa1f00" d="M1173 141l15 2 4 0-38-2-4-1-15-2z"/><path fill="#f81900" d="M1158 140l15 1 4 0-37-2-5-1-15-1z"/><path fill="#f20f00" d="M1143 139l15 1 4 0-37-3-5 0-15-1z"/><path fill="#ee0b00" d="M1113 141l15-1 15-1 4 1-37-3-5-1-15 1-15 1z"/><path fill="#ea0800" d="M1082 145l15-2 16-2 4 0-38-4-4 1-16 1-15 3z"/><path fill="#e60500" d="M1035 158l31-9 16-4 4 0-37-4-5 1-16 3-31 9z"/><path fill="#ea0800" d="M987 176l32-13 16-5 5-2-38-4-5 2-16 5-32 13z"/><path fill="#ee0b00" d="M971 184l16-8 5-2-38-4-5 2-16 8z"/><path fill="#f20f00" d="M954 192l17-8 5-3-38-4-5 3-16 8z"/><path fill="#f61200" d="M938 201l16-9 5-3-37-4-5 3-17 9z"/><path fill="#f81900" d="M922 210l16-9 5-3-38-4-5 3-16 9z"/><path fill="#fa1f00" d="M905 221l17-11 5-3-38-4-5 3-17 11z"/><path fill="#fd3200" d="M872 243l16-12 17-10 5-4-38-4-5 4-16 10-17 12z"/><path fill="#fe3e00" d="M855 255l17-12 5-3-38-4-5 3-17 12z"/><path fill="#ff4a00" d="M838 268l17-13 5-3-38-5-5 4-17 13z"/><path fill="#ff5900" d="M821 282l17-14 5-4-38-4-5 4-17 13z"/><path fill="#ff7600" d="M804 296l17-14 5-5-38-4-5 4-17 14z"/><path fill="#ff8400" d="M786 310l18-14 5-5-38-4-5 4-17 15z"/><path fill="#ff9200" d="M769 326l17-16 6-4-38-4-5 4-17 15z"/><path fill="#ffa000" d="M752 342l17-16 5-5-37-4-5 4-18 16z"/><path fill="#ffad00" d="M734 358l18-16 5-5-37-5-6 5-17 17z"/><path fill="#ffbb00" d="M717 375l17-17 5-5-37-4-5 5-18 17z"/><path fill="#ffc800" d="M699 393l18-18 5-5-37-4-6 5-17 17z"/><path fill="#ffe300" d="M681 411l18-18 5-6-37-4-5 5-18 18z"/><path fill="#fff000" d="M663 430l18-19 6-6-38-4-5 5-18 19z"/><path fill="#f9f400" d="M646 449l17-19 6-6-37-5-6 6-17 19z"/></g>
<path stroke-opacity=".65" d="M597 443l-15 0 17-20 16 1 18-19-16 0 18-18 16 0 17-17-16-1 18-17 16 1 17-17-16 0 17-16 16 1 18-16M613 445l-16-2 18-19 16 1 18-18-16-2 18-18 16 2 17-18-16-1 18-17 16 1 17-16-16-2 17-15 17 1 17-16"/><path stroke-opacity=".55" d="M738 305l-16 0 17-15 16 1 17-14-16-1 17-13 16 0 17-12-16-1 17-12 16 0 16-11-16 0 17-11 16 0 17-10"/><path stroke-opacity=".45" d="M873 206l-17-1 17-9 16 0 16-9-16 0 16-8 17 0 16-7-16-1 16-6 16 0 16-6-16 0 15-6 17 0 15-4M889 207l-16-1 16-10 16 1 17-9-17-1 17-8 16 1 16-8-16 0 16-7 16 1 16-6-16-1 16-6 16 1 16-5"/><path stroke-opacity=".25" d="M1001 149l-16 0 16-4 16 0 16-3-17-1 16-2 16 0 15-2-16 0 15-1 17 0 15 0-16 0 15 1 16 0 15 1M1018 149l-17 0 16-4 16 0 16-3-16 0 15-3 16 1 16-2-17-1 16-1 16 1 15 0-16-1 15 1 16 0 15 1"/><path stroke-opacity=".4" d="M1124 138l-16 0 14 2 17 0 14 3-16 0 15 4 16-1 14 5-16 0 14 5 17 0 14 6-16 1 14 6 16-1 14 8-16 1M1140 138l-16 0 15 2 16 0 14 3-16 0 15 3 16 0 14 5-16 0 15 5 16 0 14 5-16 1 14 6 16 0 14 7-16 1"/><path stroke-opacity=".6" d="M754 306l-16-1 17-14 16 1 17-14-16-1 17-14 16 1 17-13-16 0 17-13 16 1 17-11-17-1 17-11 16 1 17-10"/>
<g stroke="none"><path fill="#ff8400" d="M1307 173l14 7-38-4-14-7z"/><path fill="#ff6700" d="M1293 167l14 6 4 2-38-4-4-2-14-6z"/><path fill="#ff5900" d="M1279 162l14 5 4 2-38-5-4-1-14-6z"/><path fill="#ff4a00" d="M1264 157l15 5 4 1-38-4-4-2-15-5z"/><path fill="#fe3e00" d="M1250 153l14 4 5 1-38-4-5-2-14-4z"/><path fill="#fd3200" d="M1236 150l14 3 4 1-38-5-4-1-15-3z"/><path fill="#fa1f00" d="M1221 148l15 2 4 1-38-5-5-1-14-3z"/><path fill="#f81900" d="M1206 146l15 2 4 1-38-6-4-1-15-2z"/><path fill="#f61200" d="M1191 145l15 1 5 1-39-6-4-1-15-1z"/><path fill="#ee0b00" d="M1176 145l15 0 5 1-38-6-5-1-15 0z"/><path fill="#ea0800" d="M1146 147l15-1 15-1 5 0-38-6-5 0-15 0-15 1z"/><path fill="#e60500" d="M1036 176l32-12 32-9 31-6 15-2 5 0-39-7-4 0-16 2-31 6-31 9-32 12z"/><path fill="#ea0800" d="M1004 190l16-8 16-6 5-2-38-7-5 2-16 6-16 8z"/><path fill="#ee0b00" d="M988 198l16-8 5-2-38-7-5 2-16 8z"/><path fill="#f20f00" d="M971 207l17-9 5-2-39-7-4 2-17 9z"/><path fill="#f61200" d="M955 217l16-10 5-3-38-7-5 3-16 10z"/><path fill="#fa1f00" d="M938 227l17-10 5-3-38-7-5 3-17 10z"/><path fill="#fc2600" d="M922 238l16-11 5-3-38-7-5 3-17 11z"/><path fill="#fd3200" d="M905 250l17-12 5-3-39-7-5 3-16 11z"/><path fill="#fe3e00" d="M888 262l17-12 5-4-38-7-5 3-17 13z"/><path fill="#ff4a00" d="M871 275l17-13 5-4-38-7-5 4-17 12z"/><path fill="#ff5900" d="M854 288l17-13 5-4-38-7-5 3-17 14z"/><path fill="#ff6700" d="M837 302l17-14 5-4-38-7-5 4-17 14z"/><path fill="#ff7600" d="M819 317l18-15 5-4-38-7-5 4-18 15z"/><path fill="#ff8400" d="M802 332l17-15 6-5-38-7-6 5-17 15z"/><path fill="#ff9200" d="M785 348l17-16 5-4-38-8-5 5-17 16z"/><path fill="#ffad00" d="M767 365l18-17 5-5-38-7-5 5-18 16z"/><path fill="#ffbb00" d="M750 382l17-17 5-5-37-8-6 5-17 17z"/><path fill="#ffc800" d="M732 400l18-18 5-5-38-8-5 5-18 18z"/><path fill="#ffd500" d="M714 418l18-18 5-6-38-7-5 5-18 18z"/><path fill="#fff000" d="M696 437l18-19 5-6-37-7-6 5-17 19z"/><path fill="#f9f400" d="M678 456l18-19 6-6-38-8-5 6-18 19z"/></g>
<path stroke-opacity=".65" d="M629 446l-16-1 18-20 16 2 18-19-16-1 18-18 16 1 17-17-16-2 18-17 16 2 17-17-16-1 18-16 16 1 17-15M646 449l-17-3 18-19 16 3 18-19-16-3 18-18 16 3 18-18-17-2 18-17 16 2 18-16-17-3 18-16 16 3 17-16"/><path stroke-opacity=".6" d="M770 308l-16-2 17-14 16 1 17-14-16-1 17-14 16 2 17-13-16-2 17-12 16 2 17-12-16-1 16-11 17 1 16-10M786 310l-16-2 17-15 17 3 17-14-17-3 17-13 17 2 17-13-17-2 17-12 17 2 16-12-16-2 17-11 16 3 17-11"/><path stroke-opacity=".5" d="M905 208l-16-1 16-10 17 2 16-9-16-2 16-8 16 1 16-7-16-2 16-6 16 1 16-6-16-1 16-6 16 2 16-5M922 210l-17-2 17-9 16 2 16-9-16-2 16-9 17 3 16-8-17-2 16-7 17 2 16-6-17-2 16-5 17 2 16-5"/><path stroke-opacity=".3" d="M1034 151l-16-2 15-4 17 2 15-3-16-2 15-2 17 1 15-2-16-1 15-1 16 1 15 0-16-1 15 0 17 1 14 1M1051 153l-17-2 16-4 16 2 16-4-17-1 16-3 16 2 16-2-17-2 15-1 17 2 15-1-17-1 16 0 16 2 15 1"/><path stroke-opacity=".35" d="M1156 139l-16-1 15 2 16 1 15 3-17-1 15 3 16 1 15 4-17 0 15 5 16 0 14 6-16-1 14 7 16 0 14 7-16 0M1173 141l-17-2 15 2 17 2 14 2-16-1 14 3 17 1 14 4-16-1 14 5 17 1 14 6-17-1 14 6 17 1 14 7-17-1"/>
<g stroke="none"><path fill="#ff7600" d="M1340 180l14 6-38-7-14-7z"/><path fill="#ff6700" d="M1326 174l14 6 5 2-39-8-4-2-14-6z"/><path fill="#ff5900" d="M1312 169l14 5 5 2-39-8-4-2-14-5z"/><path fill="#ff4a00" d="M1298 165l14 4 5 2-39-9-4-1-15-5z"/><path fill="#fd3200" d="M1284 161l14 4 4 1-38-8-5-2-14-4z"/><path fill="#fc2600" d="M1269 158l15 3 4 1-39-8-4-2-14-3z"/><path fill="#fa1f00" d="M1255 156l14 2 5 1-39-9-4-1-15-2z"/><path fill="#f81900" d="M1240 155l15 1 4 1-39-9-4-1-15-2z"/><path fill="#f20f00" d="M1225 154l15 1 4 0-38-9-5-1-15-1z"/><path fill="#ee0b00" d="M1210 154l15 0 4 0-38-9-5-1-15 0z"/><path fill="#ea0800" d="M1180 156l15-1 15-1 4 0-38-10-5 0-15 1-15 1z"/><path fill="#e60500" d="M1070 185l32-12 31-9 31-6 16-2 4-1-38-9-5 0-15 2-31 6-32 9-32 11z"/><path fill="#ea0800" d="M1038 199l16-7 16-7 5-2-39-10-5 1-16 7-16 8z"/><path fill="#ee0b00" d="M1022 208l16-9 5-2-39-10-5 2-16 8z"/><path fill="#f20f00" d="M1005 217l17-9 4-3-38-10-5 2-17 9z"/><path fill="#f61200" d="M989 226l16-9 5-3-39-11-5 3-16 10z"/><path fill="#f81900" d="M972 236l17-10 5-3-39-10-5 3-17 10z"/><path fill="#fc2600" d="M955 247l17-11 5-3-39-10-5 3-16 11z"/><path fill="#fd3200" d="M938 259l17-12 5-3-38-10-5 3-17 11z"/><path fill="#fe3e00" d="M922 271l16-12 6-4-39-10-5 3-17 13z"/><path fill="#ff4a00" d="M905 284l17-13 5-4-39-10-5 4-17 12z"/><path fill="#ff5900" d="M887 297l18-13 5-4-39-10-5 3-17 14z"/><path fill="#ff6700" d="M870 312l17-15 6-4-39-10-5 4-17 14z"/><path fill="#ff7600" d="M853 326l17-14 5-5-38-10-5 4-18 15z"/><path fill="#ff8400" d="M836 342l17-16 5-4-38-11-6 5-17 15z"/><path fill="#ff9200" d="M818 358l18-16 5-5-39-10-5 4-17 16z"/><path fill="#ffa000" d="M801 374l17-16 5-5-38-11-5 5-18 17z"/><path fill="#ffad00" d="M783 391l18-17 5-5-39-10-5 5-17 17z"/><path fill="#ffc800" d="M765 409l18-18 5-5-38-10-5 5-18 17z"/><path fill="#ffd500" d="M747 428l18-19 6-5-39-11-5 5-18 19z"/><path fill="#ffe300" d="M730 447l17-19 6-6-39-11-5 6-18 19z"/><path fill="#f9f400" d="M712 466l18-19 5-6-38-11-6 6-18 19z"/></g>
<path stroke-opacity=".65" d="M662 452l-16-3 17-19 17 3 18-19-17-3 18-18 16 3 18-18-16-3 17-17 17 3 17-16-16-3 17-16 17 3 17-16M678 456l-16-4 18-19 16 4 18-19-16-4 17-18 17 4 18-18-17-4 18-17 16 4 18-17-17-3 18-16 16 3 17-15-16-4 17-14 17 3 17-14-17-4 17-13 17 4 17-13-17-4 17-12 17 4 17-12-17-4 17-11 16 4 17-10"/><path stroke-opacity=".6" d="M803 313l-17-3 18-14 16 3 17-15-16-2 17-14 16 3 17-13-16-3 17-12 16 3 17-12-17-3 17-10 17 2 16-10"/><path stroke-opacity=".5" d="M938 213l-16-3 16-9 17 3 16-9-17-3 17-8 16 2 17-7-17-3 16-7 17 3 16-6-17-3 16-5 16 2 16-4"/><path stroke-opacity=".35" d="M1067 156l-16-3 15-4 17 3 15-4-16-3 15-2 17 2 15-1-16-3 15-1 16 2 16 0-17-3 15 1 17 2 14 1"/><path stroke-opacity=".3" d="M1189 143l-16-2 15 2 16 2 15 2-17-2 15 3 16 2 15 4-17-2 15 5 16 2 14 5-16-1 14 6 16 2 14 7-16-2M1206 146l-17-3 15 2 17 3 15 2-17-3 14 3 17 3 14 4-16-3 14 5 17 3 14 5-17-3 14 7 17 2 14 7-17-2"/><path stroke-opacity=".55" d="M955 217l-17-4 17-9 16 3 17-9-17-3 16-9 17 4 16-8-16-3 16-7 16 4 16-7-16-3 15-6 17 4 16-5"/><path stroke-opacity=".4" d="M1084 159l-17-3 16-4 17 3 15-3-17-4 16-3 17 4 15-2-17-3 15-2 17 4 15-1-16-3 15 0 16 3 15 1"/>
<g stroke="none"><path fill="#ff7600" d="M1374 190l14 7-39-12-14-6z"/><path fill="#ff6700" d="M1360 185l14 5 4 2-38-11-5-2-14-6z"/><path fill="#ff5900" d="M1346 180l14 5 4 2-38-12-5-2-14-5z"/><path fill="#ff4a00" d="M1332 176l14 4 4 2-39-13-4-1-14-4z"/><path fill="#fe3e00" d="M1318 173l14 3 4 1-39-12-4-1-14-4z"/><path fill="#fd3200" d="M1303 170l15 3 4 1-39-13-4-1-15-3z"/><path fill="#fc2600" d="M1289 168l14 2 4 1-39-13-4-1-14-2z"/><path fill="#f81900" d="M1274 167l15 1 4 1-39-14-4 0-15-2z"/><path fill="#f61200" d="M1259 166l15 1 4 0-39-13-4-1-15-1z"/><path fill="#f20f00" d="M1244 166l15 0 4 0-39-13-4-1-15 0z"/><path fill="#ee0b00" d="M1229 167l15-1 5 0-40-14-4 0-15 1z"/><path fill="#ea0800" d="M1199 170l15-2 15-1 5 0-40-14-4 0-15 1-16 2z"/><path fill="#e60500" d="M1120 191l32-10 31-8 16-3 4 0-39-14-5 0-15 3-31 8-32 10z"/><path fill="#ea0800" d="M1088 204l16-6 16-7 5-1-39-14-5 1-16 6-16 7z"/><path fill="#ee0b00" d="M1056 220l16-8 16-8 5-2-39-14-5 2-16 8-17 8z"/><path fill="#f20f00" d="M1039 229l17-9 5-2-40-14-5 2-16 9z"/><path fill="#f81900" d="M1023 239l16-10 5-2-39-15-5 3-16 10z"/><path fill="#fa1f00" d="M1006 249l17-10 5-3-40-14-4 3-17 10z"/><path fill="#fc2600" d="M989 260l17-11 5-3-39-14-5 3-17 11z"/><path fill="#fd3200" d="M973 271l16-11 5-3-39-14-5 3-17 11z"/><path fill="#fe3e00" d="M956 284l17-13 5-3-40-14-5 3-16 13z"/><path fill="#ff4a00" d="M939 296l17-12 5-4-39-14-5 4-17 12z"/><path fill="#ff5900" d="M922 310l17-14 5-3-39-14-5 3-18 14z"/><path fill="#ff6700" d="M904 324l18-14 5-4-39-14-6 4-17 14z"/><path fill="#ff7600" d="M887 339l17-15 6-4-40-14-5 4-17 15z"/><path fill="#ff8400" d="M870 354l17-15 5-5-39-14-5 5-17 15z"/><path fill="#ff9200" d="M852 370l18-16 5-5-39-13-5 4-18 16z"/><path fill="#ffa000" d="M835 387l17-17 5-5-39-14-5 5-17 17z"/><path fill="#ffbb00" d="M817 404l18-17 5-5-39-14-5 5-18 17z"/><path fill="#ffc800" d="M799 422l18-18 5-5-39-14-5 5-18 18z"/><path fill="#ffd500" d="M781 440l18-18 5-6-38-14-6 6-18 18z"/><path fill="#ffe300" d="M763 459l18-19 6-5-39-14-6 5-17 19z"/><path fill="#f9f400" d="M745 479l18-20 6-6-39-14-5 6-18 19z"/></g>
<path stroke-opacity=".65" d="M695 461l-17-5 18-19 17 4 18-19-17-4 18-18 16 4 18-18-16-4 17-17 17 4 17-16-16-5 17-16 17 5 17-16-17-4 18-15 16 5 18-15-17-4 17-13 17 4 17-13-17-4 17-12 17 4 16-12-16-4 16-11 17 4 17-10M712 466l-17-5 18-20 17 6 17-19-16-6 17-18 17 5 18-18-17-5 18-17 17 5 17-16-17-5 18-16 17 5 17-16-17-5 17-14 17 5 17-15-16-5 17-13 17 5 17-13-17-5 17-12 16 5 17-12-17-5 17-11 17 5 17-10"/><path stroke-opacity=".55" d="M972 221l-17-4 16-10 17 4 17-8-17-5 16-8 17 4 16-7-17-5 16-6 17 4 16-6-17-5 16-5 17 4 16-5M989 226l-17-5 16-10 17 6 17-9-17-5 16-9 17 5 16-7-17-5 16-7 17 5 16-6-17-5 16-6 17 5 16-5"/><path stroke-opacity=".4" d="M1101 163l-17-4 16-4 16 4 16-3-17-4 16-3 16 4 16-2-17-4 15-1 17 4 15-1-17-4 15 0 17 4 15 1"/><path stroke-opacity=".25" d="M1223 150l-17-4 15 2 17 4 14 2-16-4 14 3 17 4 14 4-17-4 15 5 16 3 15 5-17-3 14 6 17 3 14 7-17-3M1240 155l-17-5 15 2 17 4 14 2-17-4 15 3 17 4 14 4-17-4 14 4 17 4 14 5-16-4 14 6 16 4 14 6-16-3"/><path stroke-opacity=".45" d="M1118 168l-17-5 15-4 17 5 16-3-17-5 15-3 17 5 16-2-17-5 15-1 17 5 15-1-17-5 15 0 17 5 15 1"/>
<g stroke="none"><path fill="#ff8400" d="M1408 205l14 6-39-16-14-6z"/><path fill="#ff7600" d="M1394 200l14 5 4 2-39-16-4-2-14-6z"/><path fill="#ff6700" d="M1380 195l14 5 5 1-40-16-4-2-14-5z"/><path fill="#ff4a00" d="M1366 191l14 4 5 2-40-17-4-2-14-4z"/><path fill="#fe3e00" d="M1352 188l14 3 4 1-39-17-4-1-14-3z"/><path fill="#fd3200" d="M1337 186l15 2 4 1-39-17-4-1-15-3z"/><path fill="#fc2600" d="M1323 184l14 2 5 0-40-17-4-1-15-2z"/><path fill="#fa1f00" d="M1308 182l15 2 4 0-39-17-5-1-14-1z"/><path fill="#f81900" d="M1293 182l15 0 5 1-40-18-4 0-15-1z"/><path fill="#f61200" d="M1278 182l15 0 5 0-40-18-4 0-15 0z"/><path fill="#f20f00" d="M1248 184l15-1 15-1 5 0-40-18-4 0-15 1-15 1z"/><path fill="#ee0b00" d="M1218 189l15-2 15-3 5 0-40-18-4 0-16 2-15 3z"/><path fill="#ea0800" d="M1155 208l31-11 32-8 4 0-39-19-5 1-31 8-32 10z"/><path fill="#ee0b00" d="M1123 221l16-7 16-6 5-2-40-18-5 1-16 7-16 6z"/><path fill="#f20f00" d="M1107 228l16-7 5-2-40-19-5 2-16 8z"/><path fill="#f61200" d="M1090 236l17-8 4-2-39-18-5 2-16 8z"/><path fill="#f81900" d="M1074 245l16-9 5-2-40-18-4 2-17 9z"/><path fill="#fa1f00" d="M1057 255l17-10 5-2-40-18-5 2-16 10z"/><path fill="#fc2600" d="M1041 265l16-10 5-3-39-18-5 3-17 10z"/><path fill="#fd3200" d="M1024 276l17-11 5-3-40-18-5 3-17 11z"/><path fill="#fe3e00" d="M990 299l17-12 17-11 5-3-40-18-5 3-16 11-17 13z"/><path fill="#ff4a00" d="M973 312l17-13 5-3-39-18-5 4-17 12z"/><path fill="#ff5900" d="M956 326l17-14 5-4-39-17-5 3-18 14z"/><path fill="#ff7600" d="M939 340l17-14 5-4-39-18-6 4-17 14z"/><path fill="#ff8400" d="M922 354l17-14 5-5-40-17-5 4-17 15z"/><path fill="#ff9200" d="M904 370l18-16 5-4-40-18-5 5-17 15z"/><path fill="#ffa000" d="M887 386l17-16 5-5-39-17-5 4-18 16z"/><path fill="#ffad00" d="M869 402l18-16 5-5-40-18-5 5-18 17z"/><path fill="#ffbb00" d="M851 419l18-17 5-5-39-17-6 5-17 17z"/><path fill="#ffc800" d="M834 437l17-18 6-5-40-17-5 5-18 18z"/><path fill="#ffd500" d="M816 455l18-18 5-5-40-18-5 6-18 18z"/><path fill="#fff000" d="M798 474l18-19 5-5-39-17-6 5-18 19z"/><path fill="#f9f400" d="M780 494l18-20 5-5-39-18-6 6-18 20z"/></g>
<path stroke-opacity=".65" d="M728 472l-16-6 18-19 16 5 18-19-17-5 18-19 17 6 18-18-17-6 18-17 17 6 17-16-17-6 18-16 17 6 17-16-17-6 17-14 17 5 17-14-17-6 18-13 17 6 17-13-17-6 16-12 18 6 16-12-17-6 17-11 17 6 17-10M745 479l-17-7 18-20 17 7 18-19-17-7 18-18 17 7 18-18-17-7 18-17 17 7 17-17-17-6 18-16 17 6 17-15-17-7 17-15 17 7 18-14-18-7 18-13 17 6 17-12-17-7 17-12 17 6 16-11-17-7 17-11 17 7 17-10"/><path stroke-opacity=".6" d="M1006 232l-17-6 16-9 17 5 17-8-17-6 16-9 17 6 16-7-17-6 16-7 17 6 16-6-17-6 16-6 17 6 16-5M1023 239l-17-7 16-10 17 7 17-9-17-6 16-9 17 7 16-8-17-6 16-7 17 7 16-7-17-6 16-6 17 7 16-5"/><path stroke-opacity=".45" d="M1135 174l-17-6 15-4 17 6 16-3-17-6 15-3 17 6 16-2-17-6 15-1 17 5 15 0-17-6 15 0 17 6 15 0M1152 181l-17-7 15-4 18 7 15-4-17-6 15-3 18 6 15-2-17-6 15-2 17 7 15-1-17-6 15 0 17 6 15 1"/><path stroke-opacity=".25" d="M1257 160l-17-5 15 1 17 6 14 2-17-6 15 3 17 5 14 4-17-5 14 4 17 5 14 5-17-5 14 6 17 5 14 6-17-5M1274 167l-17-7 15 2 17 6 14 2-17-6 15 2 17 7 14 3-17-6 14 4 17 6 14 5-17-6 14 6 17 5 14 7-17-6"/>
<g stroke="none"><path fill="#ff9200" d="M1443 224l13 5-39-20-14-6z"/><path fill="#ff8400" d="M1429 219l14 5 4 1-40-21-4-1-14-6z"/><path fill="#ff7600" d="M1415 214l14 5 4 1-40-21-4-2-14-4z"/><path fill="#ff6700" d="M1401 211l14 3 4 2-40-22-4-1-14-4z"/><path fill="#ff5900" d="M1386 208l15 3 4 1-40-22-4-1-14-3z"/><path fill="#ff4a00" d="M1372 205l14 3 5 1-40-22-4-1-15-3z"/><path fill="#fe3e00" d="M1357 204l15 1 4 1-39-22-5-1-14-2z"/><path fill="#fd3200" d="M1343 202l14 2 5 0-40-22-4-1-15-1z"/><path fill="#fc2600" d="M1328 202l15 0 4 1-40-23-4 0-15-1z"/><path fill="#fa1f00" d="M1298 203l15-1 15 0 5 0-40-22-5-1-15 1-15 0z"/><path fill="#f81900" d="M1283 205l15-2 5 0-40-23-5 0-15 2z"/><path fill="#f61200" d="M1237 213l31-6 15-2 5-1-40-23-5 1-15 2-31 6z"/><path fill="#f20f00" d="M1206 222l15-5 16-4 5-1-40-23-5 1-16 5-15 4z"/><path fill="#f61200" d="M1158 241l32-13 16-6 4-1-40-23-4 1-16 6-32 13z"/><path fill="#f81900" d="M1142 248l16-7 5-2-41-23-4 2-17 8z"/><path fill="#fa1f00" d="M1125 256l17-8 4-2-40-23-5 3-16 8z"/><path fill="#fc2600" d="M1092 274l17-9 16-9 5-2-40-23-5 3-16 9-17 9z"/><path fill="#fd3200" d="M1076 284l16-10 5-2-40-23-5 3-16 10z"/><path fill="#fe3e00" d="M1059 295l17-11 5-3-40-22-5 3-17 11z"/><path fill="#ff4a00" d="M1025 319l17-12 17-12 5-3-40-22-5 3-17 12-17 12z"/><path fill="#ff5900" d="M1008 331l17-12 5-4-40-22-5 4-17 13z"/><path fill="#ff6700" d="M991 344l17-13 5-4-40-21-5 4-17 13z"/><path fill="#ff7600" d="M974 358l17-14 5-3-40-22-5 4-17 14z"/><path fill="#ff8400" d="M957 373l17-15 5-4-40-21-5 4-18 15z"/><path fill="#ff9200" d="M939 388l18-15 5-4-40-22-6 5-17 15z"/><path fill="#ffa000" d="M922 404l17-16 5-4-40-21-5 4-18 16z"/><path fill="#ffad00" d="M904 421l18-17 5-5-40-21-6 5-17 17z"/><path fill="#ffbb00" d="M886 438l18-17 5-5-40-21-5 5-18 17z"/><path fill="#ffd500" d="M868 455l18-17 6-5-41-21-5 5-18 18z"/><path fill="#ffe300" d="M851 474l17-19 6-5-40-21-6 6-18 18z"/><path fill="#fff000" d="M832 493l19-19 5-6-40-21-6 6-17 19z"/><path fill="#f9f400" d="M814 512l18-19 6-6-40-21-5 6-19 20z"/></g>
<path stroke-opacity=".65" d="M762 486l-17-7 18-20 17 7 18-19-17-7 18-18 17 7 18-18-17-7 18-17 17 7 17-17-17-7 18-16 17 7 17-15-17-7 17-15 18 7 17-14-17-7 17-14 17 8 17-13-17-7 17-13 17 8 17-12-18-7 17-11 17 8 17-11M780 494l-18-8 18-20 18 8 18-19-18-8 18-18 18 8 17-18-17-8 18-17 17 8 18-16-18-9 18-16 17 9 18-16-18-8 18-15 17 9 17-14-17-9 17-13 17 8 17-13-17-8 17-12 17 8 17-11-17-9 16-10 18 8 16-10-17-9 17-9 17 8 16-9-17-8 16-8 18 8 16-7-18-9 17-7 17 9 16-6-17-9 15-6 18 9 15-5"/><path stroke-opacity=".6" d="M1040 246l-17-7 16-10 18 8 16-9-17-8 16-8 17 8 16-8-17-8 16-6 18 7 16-6-18-8 16-5 17 7 16-4"/><path stroke-opacity=".5" d="M1169 189l-17-8 16-4 17 7 15-3-17-8 16-3 17 8 15-2-17-8 15-1 17 7 15 0-17-8 15 0 17 7 15 1M1186 197l-17-8 16-5 17 9 16-4-18-8 16-3 17 9 15-3-17-8 15-2 17 9 15-1-17-8 15-1 17 9 15 0"/><path stroke-opacity=".3" d="M1291 174l-17-7 15 1 17 7 14 2-17-7 15 3 17 7 14 3-17-7 14 4 17 7 14 5-17-7 14 5 17 7 14 6-17-6M1308 182l-17-8 15 1 17 9 14 2-17-9 15 3 17 8 14 3-17-8 14 4 17 8 14 5-17-8 14 5 17 8 14 6-17-8"/>
<g stroke="none"><path fill="#ffa000" d="M1477 247l14 6-40-27-13-5z"/><path fill="#ff9200" d="M1463 243l14 4 4 2-39-27-4-1-14-5z"/><path fill="#ff8400" d="M1450 239l13 4 5 1-40-27-4-1-14-5z"/><path fill="#ff7600" d="M1435 235l15 4 4 1-40-27-4-2-15-3z"/><path fill="#ff6700" d="M1421 232l14 3 5 1-40-27-5-1-14-3z"/><path fill="#ff5900" d="M1392 228l15 2 14 2 4 1-40-27-4-1-14-3-15-2z"/><path fill="#ff4a00" d="M1378 227l14 1 5 1-40-28-5-1-14-1z"/><path fill="#fe3e00" d="M1348 227l15 0 15 0 4 0-40-27-4-1-15 0-15 0z"/><path fill="#fd3200" d="M1318 229l15-1 15-1 5 0-41-28-4 0-15 1-15 1z"/><path fill="#fc2600" d="M1193 265l32-13 32-10 31-8 30-5 5 0-41-28-4 0-31 6-31 7-31 11-32 12z"/><path fill="#fd3200" d="M1144 288l33-16 16-7 5-2-41-28-4 2-17 8-32 17z"/><path fill="#fe3e00" d="M1128 298l16-10 5-2-40-27-5 3-17 9z"/><path fill="#ff4a00" d="M1095 318l16-10 17-10 5-3-41-27-5 3-16 10-17 11z"/><path fill="#ff5900" d="M1078 329l17-11 5-3-41-26-5 3-17 11z"/><path fill="#ff6700" d="M1061 341l17-12 5-3-41-26-5 3-17 13z"/><path fill="#ff7600" d="M1044 354l17-13 5-3-41-26-5 4-17 12z"/><path fill="#ff8400" d="M1009 381l18-14 17-13 5-4-41-26-5 4-17 14-17 13z"/><path fill="#ff9200" d="M992 395l17-14 6-4-41-26-5 4-18 15z"/><path fill="#ffa000" d="M975 410l17-15 5-4-40-25-6 4-17 15z"/><path fill="#ffad00" d="M957 426l18-16 5-4-41-25-5 4-18 16z"/><path fill="#ffbb00" d="M939 442l18-16 5-5-40-25-6 5-17 17z"/><path fill="#ffc800" d="M922 459l17-17 6-5-41-24-5 5-18 17z"/><path fill="#ffe300" d="M904 477l18-18 5-5-41-24-5 5-18 17z"/><path fill="#fff000" d="M886 495l18-18 5-6-40-24-6 5-18 19z"/><path fill="#f9f400" d="M868 514l18-19 5-5-40-25-6 6-18 19z"/><path fill="#f2f800" d="M850 533l18-19 5-6-40-24-6 6-18 19z"/></g>
<path stroke-opacity=".65" d="M797 503l-17-9 18-20 17 9 18-19-17-9 18-18 17 9 18-18-18-9 18-17 17 9 18-17-17-8 17-16 18 8 17-15-17-9 17-14 17 9 18-14-18-9 17-14 18 9 17-12-18-10 17-12 18 9 17-11-18-9 17-11 17 9 17-10-18-9 17-10 17 10 17-9-18-10 17-8 17 10 16-8-17-9 16-7 17 9 16-6-17-9 16-6 17 10 16-5M814 512l-17-9 18-20 17 10 19-19-18-10 18-18 17 9 18-17-17-10 17-17 18 10 18-17-18-10 18-16 17 10 18-15-18-10 17-14 18 9 17-14-17-9 17-14 17 10 17-12-17-10 17-13 17 11 17-12-17-10 16-11 18 10 16-10-17-10 16-9 18 10 16-9-17-10 16-8 18 10 16-7-18-11 16-7 18 11 16-6-18-11 16-5 18 10 15-5"/><path stroke-opacity=".55" d="M1204 207l-18-10 16-4 17 10 16-4-17-10 15-2 17 9 16-2-18-10 15-1 18 9 15 0-18-10 15 0 18 9 14 1M1221 217l-17-10 15-4 18 10 15-3-17-11 15-3 18 11 15-2-17-11 15-2 17 11 15-1-17-10 15-1 17 11 15 0"/><path stroke-opacity=".35" d="M1325 192l-17-10 15 2 17 9 15 2-18-9 15 2 17 9 14 3-17-9 14 4 18 9 14 5-18-9 14 5 17 9 14 6-17-9"/><path stroke-opacity=".4" d="M1343 202l-18-10 15 1 17 11 15 1-17-10 14 2 17 11 15 3-18-11 15 4 17 10 14 5-17-10 13 5 18 10 13 5-17-9"/>
<g stroke="none"><path fill="#ffbb00" d="M1512 276l14 6-40-33-14-5z"/><path fill="#ffad00" d="M1498 272l14 4 4 2-40-33-4-1-14-5z"/><path fill="#ffa000" d="M1484 268l14 4 4 1-40-33-4-1-14-4z"/><path fill="#ff9200" d="M1470 264l14 4 5 1-41-33-4-1-14-4z"/><path fill="#ff8400" d="M1442 259l14 2 14 3 5 1-41-33-4-1-14-3-14-2z"/><path fill="#ff7600" d="M1428 258l14 1 4 1-40-33-4-1-15-2z"/><path fill="#ff6700" d="M1398 256l15 0 15 2 4 0-41-33-4-1-14-1-15 0z"/><path fill="#ff5900" d="M1384 256l14 0 5 0-41-33-4 0-15 0z"/><path fill="#ff4a00" d="M1338 261l31-4 15-1 4 0-41-33-4 0-15 1-30 4z"/><path fill="#fe3e00" d="M1229 293l32-13 31-9 31-8 15-2 5-1-41-33-4 1-16 2-31 8-31 10-32 13z"/><path fill="#ff4a00" d="M1180 316l33-16 16-7 5-2-41-32-5 2-16 7-33 17z"/><path fill="#ff5900" d="M1147 335l17-10 16-9 5-2-41-32-5 3-16 9-17 10z"/><path fill="#ff6700" d="M1130 345l17-10 5-3-41-31-5 3-17 11z"/><path fill="#ff7600" d="M1097 368l17-12 16-11 5-3-41-31-5 4-17 11-17 12z"/><path fill="#ff8400" d="M1080 380l17-12 5-4-41-30-6 4-17 12z"/><path fill="#ff9200" d="M1063 393l17-13 5-4-41-29-6 3-17 13z"/><path fill="#ffa000" d="M1045 407l18-14 5-4-42-30-5 4-17 14z"/><path fill="#ffad00" d="M1010 436l18-15 17-14 5-5-41-29-5 4-17 15-18 15z"/><path fill="#ffbb00" d="M993 451l17-15 6-5-42-29-5 5-17 15z"/><path fill="#ffc800" d="M975 467l18-16 5-5-41-28-5 4-18 17z"/><path fill="#ffe300" d="M957 484l18-17 6-5-42-28-5 5-18 17z"/><path fill="#fff000" d="M940 501l17-17 6-5-41-28-6 5-18 17z"/><path fill="#f9f400" d="M922 519l18-18 5-5-41-28-6 5-17 19z"/><path fill="#f2f800" d="M904 538l18-19 5-5-41-28-5 6-19 19z"/><path fill="#ecfc00" d="M885 557l19-19 5-6-41-27-6 6-18 19z"/></g>
<path stroke-opacity=".65" d="M832 522l-18-10 18-19 18 10 18-19-17-10 17-19 18 11 18-18-18-10 18-17 18 10 17-16-17-11 17-16 18 11 17-15-17-11 17-15 18 11 17-14-18-11 17-13 18 11 17-13-18-10 17-12 18 11 17-12-18-11 17-11 17 12 17-10-18-12 17-9 18 11 16-8-18-12 17-8 17 11 16-7-17-11 16-7 17 11 16-6-17-11 16-6 17 12 16-5M850 533l-18-11 18-19 18 11 18-19-18-11 18-18 18 11 18-18-18-11 18-17 17 11 18-16-18-11 18-16 18 11 17-15-18-11 18-15 17 12 18-14-18-12 17-13 18 12 17-13-18-12 17-11 18 11 17-11-18-12 16-10 18 12 17-10-18-12 17-10 17 12 17-8-18-12 16-9 18 13 16-7-18-13 16-7 18 13 16-6-18-13 16-5 18 12 16-4"/><path stroke-opacity=".55" d="M1239 229l-18-12 16-4 18 12 15-4-18-11 16-3 17 12 16-3-18-11 15-2 18 12 15-1-18-12 15 0 18 12 14 0"/><path stroke-opacity=".45" d="M1360 214l-17-12 14 2 18 11 14 2-17-12 14 3 18 11 14 3-17-11 14 3 17 12 14 4-17-11 14 5 17 11 14 6-18-12M1378 227l-18-13 15 1 17 13 15 2-18-13 15 2 17 13 14 3-17-13 14 4 18 13 13 4-17-13 14 5 17 12 14 6-17-12"/><path stroke-opacity=".6" d="M1257 242l-18-13 16-4 17 13 16-4-18-13 15-2 18 12 15-2-17-13 15-1 17 13 15-1-17-13 15 0 17 13 15 0"/>
<g stroke="none"><path fill="#ffe300" d="M1547 311l14 5-40-39-14-5z"/><path fill="#ffc800" d="M1519 302l14 4 14 5 4 1-40-39-4-1-14-5-14-4z"/><path fill="#ffbb00" d="M1506 299l13 3 5 2-41-40-4-1-14-3z"/><path fill="#ffad00" d="M1491 296l15 3 4 1-41-39-4-1-14-3z"/><path fill="#ffa000" d="M1477 294l14 2 5 1-41-39-4-1-14-2z"/><path fill="#ff9200" d="M1448 291l15 1 14 2 4 1-40-40-4 0-15-2-14-1z"/><path fill="#ff8400" d="M1419 291l15 0 14 0 5 1-41-40-4 0-15-1-15 1z"/><path fill="#ff7600" d="M1374 295l30-3 15-1 4 0-40-39-5 0-15 1-30 3z"/><path fill="#ff6700" d="M1249 332l32-13 31-10 31-8 31-6 5-1-41-39-5 1-31 6-31 9-32 11-32 14z"/><path fill="#ff7600" d="M1200 357l33-17 16-8 5-2-42-37-5 3-16 7-33 18z"/><path fill="#ff8400" d="M1167 376l16-10 17-9 5-3-42-36-5 3-16 10-17 10z"/><path fill="#ff9200" d="M1133 398l17-11 17-11 5-3-42-35-5 3-17 11-17 12z"/><path fill="#ffa000" d="M1116 410l17-12 5-3-42-35-5 4-17 12z"/><path fill="#ffad00" d="M1082 436l17-13 17-13 5-3-42-35-5 4-17 13-17 14z"/><path fill="#ffbb00" d="M1064 450l18-14 5-4-42-34-5 5-17 14z"/><path fill="#ffc800" d="M1047 465l17-15 5-4-41-33-5 4-18 15z"/><path fill="#ffd500" d="M1029 480l18-15 5-5-42-33-5 5-17 15z"/><path fill="#ffe300" d="M1012 496l17-16 5-5-41-32-5 4-18 16z"/><path fill="#fff000" d="M994 512l18-16 5-5-42-33-5 5-18 17z"/><path fill="#f9f400" d="M976 529l18-17 5-5-42-32-5 5-18 18z"/><path fill="#f2f800" d="M958 547l18-18 5-5-41-32-6 6-18 18z"/><path fill="#ecfc00" d="M940 565l18-18 5-5-41-32-6 6-18 18z"/><path fill="#cdfb00" d="M922 584l18-19 5-5-41-31-6 5-18 20z"/></g>
<path stroke-opacity=".65" d="M867 545l-17-12 18-19 18 12 18-19-18-12 18-18 18 12 18-18-18-12 17-17 18 12 18-16-18-12 18-16 17 12 18-15-18-12 17-14 18 12 18-13-18-13 17-13 18 12 17-12-18-13 17-12 18 13 16-11-17-13 16-10 18 13 17-10-18-13 16-10 18 14 17-9-18-13 16-8 18 13 16-7-18-13 16-7 18 14 16-6-18-14 16-6 18 14 15-4M885 557l-18-12 19-19 18 12 18-19-18-12 18-18 18 12 17-17-17-13 17-17 18 13 18-16-18-13 17-16 18 14 18-15-18-14 17-14 18 14 18-14-18-13 17-14 18 14 17-12-18-14 17-12 18 14 16-11-18-14 17-10 18 14 17-10-18-14 16-9 18 14 16-8-17-15 16-8 18 15 16-7-18-15 16-6 18 14 16-6-18-14 16-6 18 15 15-4-18-15 16-4 18 15 15-4-18-15 16-3 17 16 16-2-18-16 15-1 18 15 15-1-18-15 15 0 17 15 15 0"/><path stroke-opacity=".6" d="M1274 256l-17-14 15-4 18 14 15-4-17-14 15-3 18 14 15-2-18-14 15-1 18 14 15-1-18-14 15 0 18 14 14 0"/><path stroke-opacity=".5" d="M1395 241l-17-14 14 1 18 14 14 2-17-14 14 2 18 14 14 3-18-14 15 4 17 13 14 5-18-14 14 4 18 14 13 6-17-14M1413 256l-18-15 15 1 18 16 14 1-18-15 15 2 17 15 14 3-17-15 14 3 17 16 14 4-17-15 14 4 17 15 14 6-18-15"/>
<path stroke-opacity=".65" d="M904 571l-19-14 19-19 18 13 18-18-18-14 18-18 18 14 18-17-19-14 18-17 18 14 18-16-18-14 17-15 19 14 17-15-18-14 17-14 18 14 18-14-18-14 17-13 18 15 17-12-18-15 17-12 18 15 16-11-18-15 17-10 18 15 17-10-18-15 16-9 18 16 16-9-18-15 17-8 18 16 16-7-18-16 16-7 18 16 16-6-18-16 16-5 17 16 16-4-18-16 16-4 18 16 15-3-18-17 15-2 18 16 15-2-17-16 15-2 17 17 15-1-17-17 14 0 18 17 15 0M922 584l-18-13 18-20 18 14 18-18-18-14 18-18 18 14 18-17-18-14 17-17 19 15 17-16-18-15 18-15 18 15 17-15-18-15 17-14 19 15 17-13-18-16 17-12 18 15 17-12-18-15 17-12 18 16 17-11-19-16 17-10 18 16 17-9-18-17 16-8 18 16 17-8-19-17 17-7 18 16 16-6-18-17 16-7 18 17 16-5-18-18 15-5 18 18 16-5-18-17 16-4 17 18 16-4-18-17 15-3 18 18 15-2-18-18 15-1 18 18 15-1-18-18 15 0 18 18 14 0"/><path stroke-opacity=".55" d="M1431 273l-18-17 15 2 17 16 15 2-18-17 14 2 18 17 14 3-18-17 14 4 18 16 14 4-18-16 14 4 18 17 13 5-17-16M1448 291l-17-18 14 1 18 18 14 2-17-18 14 2 17 18 15 3-18-18 14 3 17 18 14 4-17-18 14 5 17 18 14 5-18-18"/>
<path d="M1391 197l14 6M1391 197l-17-7M1360 185l14 5M1360 185l-17-6M1329 174l14 5M1329 174l-17-5M1298 165l14 4M1298 165l-17-4M1267 157l14 4M1267 157l-17-4M1236 150l14 3M1236 150l-17-3M1204 145l15 2M1204 145l-16-2M1173 141l15 2M1173 141l-17-2M1142 138l14 1M1142 138l-17-1M1110 137l15 0M1110 137l-16-1M1094 136l-16 0M1062 136l16 0M1062 136l-16 1M1031 138l15-1M1031 138l-16 1M1015 139l-16 1M984 142l15-2M984 142l-16 2M968 144l-15 2M937 149l16-3M937 149l-15 2M922 151l-16 3M891 157l15-3M891 157l-16 4M875 161l-15 3M845 168l15-4M845 168l-15 4M830 172l-15 5M815 177l-15 4M784 186l16-5M784 186l-15 5M769 191l-14 5M755 196l-15 5M740 201l-14 5M726 206l-14 5M712 211l-14 6M698 217l15-6M713 211l-14 5M699 216l-14 5" stroke-opacity="0.75" stroke-width="6.5" stroke-linecap="round"/>
<path d="M922 584l18-19 18-18 18-18 18-17 18-16 17-16 18-15 17-15 18-14 17-13 17-13 17-12 17-11 17-11 16-10 17-9 16-9 17-8 16-8 16-6 16-7 16-5 15-5 16-5 15-3 16-4 15-2 15-2 15-1 15-1 15 0 14 0 15 1 14 2 14 2 15 3 13 3 14 4 14 5 14 5M922 584l-18-13-19-14-18-12-17-12-18-11-18-10-17-9-17-9-18-8-17-7-17-7-16-6-17-5-17-5-16-4-16-3-17-3-16-1-16-2-15 0-16 0-16 0-15 1-15 2-15 3-15 3-15 3-15 4-14 5-15 5-14 6-14 7-14 7-14 7-14 8-13 9-14 9-13 9-13 10-13 11" stroke-opacity="0.8" stroke-width="4"/>
</g>
<circle cx="183.9" cy="32.2" r="1.5" fill="#e00000"/>
<circle cx="183.9" cy="36.1" r="1.8" fill="#b8acb0" stroke="#7a5a60" stroke-width=".5"/>
<text transform="translate(49.5 37.3) scale(1 0.86)" font-size="11.8" text-anchor="end">99</text>
<text transform="translate(51.5 67.7) scale(1 0.86)" font-size="11.8" text-anchor="end">93</text>
<text transform="translate(53.8 99.9) scale(1 0.86)" font-size="11.8" text-anchor="end">87</text>
<text transform="translate(55.3 132.5) scale(1 0.86)" font-size="11.8" text-anchor="end">81</text>
<text transform="translate(55.7 163.7) scale(1 0.86)" font-size="11.8" text-anchor="end">75</text>
<text transform="translate(55.5 214.4) scale(1 0.86)" font-size="11.8" text-anchor="middle">14</text>
<text transform="translate(83.2 230.4) scale(1 0.86)" font-size="11.8" text-anchor="middle">13</text>
<text transform="translate(115.3 245.6) scale(1 0.86)" font-size="11.8" text-anchor="middle">12</text>
<text transform="translate(144 260.2) scale(1 0.86)" font-size="11.8" text-anchor="middle">11</text>
<text transform="translate(175.2 276.2) scale(1 0.86)" font-size="11.8" text-anchor="middle">10</text>
<text transform="translate(195.8 277.1) scale(1 0.86)" font-size="11.8" text-anchor="middle">1.5</text>
<text transform="translate(219.2 262.5) scale(1 0.86)" font-size="11.8" text-anchor="middle">2</text>
<text transform="translate(253.6 248.5) scale(1 0.86)" font-size="11.8" text-anchor="middle">2.5</text>
<text transform="translate(280.5 232.4) scale(1 0.86)" font-size="11.8" text-anchor="middle">3</text>
<text transform="translate(310.6 218.7) scale(1 0.86)" font-size="11.8" text-anchor="middle">3.5</text>
<text transform="translate(103.6 138.3)" font-size="18.6" text-anchor="middle">(a)</text>
<text transform="translate(19.6 116.3) rotate(-90)" font-size="12.8" text-anchor="middle">Biodiesel yield (%)</text>
<text transform="translate(87.9 273.3) rotate(27.2) skewX(-7) scale(0.94 1)" font-size="12.4" text-anchor="middle">B: MeOH/WCO molar ratio</text>
<text transform="translate(276.7 276.2) rotate(-28.7) scale(0.94 1)" font-size="12.4" text-anchor="middle">A: Nanocatalyst dosage (wt.%)</text>
</g>
<g id="p_b">
<polygon points="515.8,259.7 636.2,200 515.9,153.6 395.6,199.9" fill="#ffff00"/>
<path d="M407.8 195.2 408.4 196.1 409.8 197.9 410.5 198.8 411.9 200.6 412.7 201.5 414.2 203.2 415.1 204.1 416.8 205.9 417.6 206.7 419.4 208.5 420.3 209.3 422.2 211.1 423.7 212.4 425.2 213.7 427.2 215.4" fill="none" stroke="#78f000" stroke-opacity=".75" stroke-width="0.45"/>
<path d="M420.7 190.3 421.3 191.2 422.3 192.7 423.2 193.9 424.1 194.9 425.4 196.5 426.2 197.4 427.8 199.1 428.6 200 430.3 201.7 431.4 202.7 433.1 204.2 434.9 205.9 436 206.8 438 208.4 439.1 209.3 441.1 210.9 443.3 212.6 444.4 213.4 446.6 215.1 448.9 216.8 450.4 217.8 452.4 219.3 454.8 220.9 457.3 222.6 458.5 223.4 461 225.1 463.5 226.8 466 228.5 467.3 229.4 469.9 231.1 472.5 232.8 474.9 234.5 476.4 235.5 479 237.3 481.6 239.1 483.2 240.2 485.5 241.8 488.1 243.7 490.6 245.5 492 246.5 494.6 248.5 497 250.3" fill="none" stroke="#98f800" stroke-opacity=".75" stroke-width="0.45"/>
<path d="M560 170.6 557.1 170 553.5 169.1 551.7 168.7 548 168 546.2 167.6 542.4 166.9 540.5 166.5 536.7 165.8 534.7 165.5 531.5 165 528.8 164.5 526.8 164.3 522.8 163.7 520.5 163.4 518.4 163.2 515.1 162.9 511.9 162.5 509.6 162.4 507.3 162.2 504.9 162 501.7 161.9 498.7 161.8 495.8 161.7" fill="none" stroke="#e8f000" stroke-opacity=".75" stroke-width="0.35"/>
<path d="M449.6 179.2 449.7 180.2 449.9 181.3 450.4 182.8 451 184.2 451.5 185.1 452.1 186.2 453.2 187.9 453.9 188.8 454.9 190.1 456.1 191.4 457 192.3 458.6 193.9 459.5 194.9 461.3 196.4 462.8 197.7 464.3 198.9 466.4 200.5 467.4 201.3 469.6 202.9 471.9 204.5 473.1 205.3 475.4 206.9 477.8 208.5 479.6 209.6 481.5 210.8 484 212.4 486.6 214 488.4 215.1 490.5 216.4 493.1 218 495.7 219.6 498.1 221.1 499.7 222 502.4 223.7 505.1 225.4 507.1 226.7 509 228 511.7 229.7 514.3 231.5 515.6 232.4 518.2 234.2 520.7 236.1 522 237.1 524.5 239 525.8 240 528.2 242 530 243.6 531.8 245.1 533.7 246.9 535.2 248.4" fill="none" stroke="#e8f000" stroke-opacity=".75" stroke-width="0.35"/>
<path d="M625.8 205.1 623.8 204.6 619.8 203.6 615.9 202.5 613.9 202 610.1 200.9 606.4 199.8 603.3 198.9 600.9 198.1 597.3 197 593.8 195.9 590.3 194.7 588.3 194.1 585.1 193 581.6 191.9 578.2 190.8 574.8 189.7 571.7 188.7 569.7 188 566.2 187 562.8 185.9 559.3 184.9 557.6 184.4 554 183.4 550.4 182.5 548.6 182 544.9 181.1 543 180.7 539.2 179.9 537.2 179.5 533.2 178.8 531.1 178.5 528 178.1 524.6 177.7 522.2 177.5 519.8 177.3 517.2 177.1 514.3 177.1 511.5 177.1 508.2 177.4 504.7 177.8 502.8 178.2 499.6 179.3 497.5 180.6 496.4 181.6 495.8 182.5 495.4 183.7 495.4 184.9 495.7 186.2 496.4 187.7 497.2 189 497.9 189.9 499.4 191.6 500.5 192.5 502.2 194 503.4 195 505.6 196.6 506.7 197.4 509 199 511.4 200.6 512.7 201.3 515.2 202.9 517.7 204.4 519.8 205.7 521.6 206.7 524.3 208.3 526.9 209.8 528.7 210.9 530.9 212.2 533.5 213.8 536.2 215.5 537.5 216.3 540 218.1 542.2 219.6 543.8 220.7 546.2 222.5 547.4 223.5 549.8 225.4 550.9 226.4 553.1 228.4 554.2 229.4 556.3 231.5 557.4 232.6 558.7 234.1 560.3 236 561.3 237.1" fill="none" stroke="#ffc800" stroke-opacity=".75" stroke-width="0.35"/>
<path d="M395.6 199.9L387.4 29.8M387.4 29.8L515.8 0.9M515.8 0.9L644.1 29.8M644.1 29.8L636.2 200M515.8 0.9L515.9 153.6" fill="none" stroke="#000" stroke-opacity=".75" stroke-width=".6"/>
<path d="M515.8 259.7L514.2 258.8M549 243.2L547.4 242.4M580 227.8L578.4 227.1M609 213.4L607.4 212.8M636.2 200L634.5 199.3M515.8 259.7L517.5 258.8M482.6 243.2L484.3 242.4M451.6 227.8L453.3 227.1M422.7 213.4L424.3 212.7M395.6 199.9L397.2 199.3" fill="none" stroke="#000" stroke-opacity=".6" stroke-width=".7"/>
<g transform="scale(.2)" fill="none" stroke="#000" stroke-opacity="0.6" stroke-width="3" stroke-linejoin="round">
<path d="M1953 472l14-17 14-16 14-16 14-16 14-16 14-15 14-14 14-15 13-14 14-13 14-13 14-13 13-12 14-12 13-11 14-11 13-10 14-10 13-9 14-9 13-8 13-8 13-7 14-7 13-6 13-5 13-5 13-5 13-4 12-3 13-3 13-2 13-1 12-1 13 0 12 0 13 1 12 2 12 2 13 3 12 3 12 4 12 5 12 6 12 6 12 6 11 8 12 8M3216 249l-15-3-15-2-15-3-15-3-14-2-15-3-15-3-14-3-14-2-15-3-14-3-14-3-14-3-14-2-14-3-14-3-14-2-13-3-14-2-14-3-13-2-13-2-14-2-13-2-13-2-13-1-13-2-13-1-13-1-13-1-13-1-13-1-12 0-13 0-12 0-13 0-12 0-13 1-12 1-12 1-12 2-12 1-12 2-12 2-12 3-12 3-11 3-12 3" stroke-opacity="0.8" stroke-width="6"/>
<g stroke="none"><path fill="#ff5200" d="M2591 175l11 7 12 8-35 9-12-8-11-8z"/><path fill="#fd4400" d="M2579 169l12 6 3 2-35 9-3-3-12-6z"/><path fill="#fc3600" d="M2555 158l12 5 12 6 3 2-35 8-3-2-12-6-12-6z"/><path fill="#fa2800" d="M2519 147l36 11 4 2-36 7-3-2-36-12z"/><path fill="#f92100" d="M2394 149l38-7 37-1 38 4 12 2 3 1-35 6-3-1-13-3-37-5-37 1-39 6z"/><path fill="#fa2800" d="M2355 162l39-13 3 0-35 2-4 1-38 12z"/><path fill="#fc3600" d="M2329 172l13-5 13-5 4-2-35 2-4 2-13 5-13 5z"/><path fill="#fd4400" d="M2302 185l14-6 13-7 4-1-35 2-4 1-13 6-14 7z"/><path fill="#ff5200" d="M2289 193l13-8 4-2-35 2-4 2-13 7z"/><path fill="#ff6400" d="M2263 209l13-8 13-8 4-2-35 1-4 2-13 8-13 8z"/><path fill="#ff7600" d="M2236 227l13-9 14-9 4-3-35 2-4 2-14 9-13 9z"/><path fill="#ff8800" d="M2222 237l14-10 4-3-35 2-4 2-14 10z"/><path fill="#ff9500" d="M2209 247l13-10 4-3-34 1-5 3-13 10z"/><path fill="#ffa300" d="M2181 269l14-11 14-11 4-3-35 1-4 3-14 11-13 11z"/><path fill="#ffb000" d="M2168 281l13-12 5-3-35 1-4 3-14 12z"/><path fill="#ffbb00" d="M2154 293l14-12 4-4-35 2-4 3-13 12z"/><path fill="#ffc700" d="M2140 306l14-13 4-4-34 2-4 3-14 13z"/><path fill="#ffd200" d="M2126 319l14-13 4-4-34 1-4 4-14 13z"/><path fill="#ffe100" d="M2113 332l13-13 5-4-35 1-4 4-14 13z"/><path fill="#fbec00" d="M2099 346l14-14 4-4-34 1-5 4-13 14z"/><path fill="#f6f000" d="M2085 360l14-14 4-4-34 1-4 4-14 15z"/><path fill="#e4f300" d="M2071 375l14-15 4-4-34 1-4 5-14 14z"/><path fill="#d6f300" d="M2057 390l14-15 4-5-34 2-4 4-14 15z"/><path fill="#c8f200" d="M2043 405l14-15 4-5-34 2-4 4-14 16z"/><path fill="#b1ed00" d="M2029 421l14-16 4-4-34 1-4 5-14 16z"/><path fill="#99e900" d="M2015 437l14-16 4-5-34 2-4 5-14 16z"/><path fill="#82e400" d="M2000 453l15-16 4-5-34 2-4 5-14 16z"/><path fill="#7ce300" d="M1986 470l14-17 5-5-34 2-4 5-14 17z"/></g>
<g stroke="none"><path fill="#fc3600" d="M2638 176l12 7-39 8-12-8z"/><path fill="#fa2800" d="M2615 164l11 6 12 6 4 2-40 7-3-2-12-7-12-6z"/><path fill="#f92100" d="M2591 154l12 5 12 5 3 2-39 6-4-2-12-6-11-5z"/><path fill="#f71900" d="M2567 147l12 3 12 4 3 1-39 5-3-1-12-5-13-3z"/><path fill="#f61200" d="M2429 149l39-8 37-2 37 3 25 5 3 1-39 4-4-1-24-6-37-4-38 2-38 7z"/><path fill="#f71900" d="M2404 157l12-5 13-3 4-1-39 1-4 1-13 3-13 4z"/><path fill="#f92100" d="M2377 167l14-6 13-4 3-2-39 1-4 1-13 5-13 5z"/><path fill="#fa2800" d="M2351 179l13-6 13-6 4-2-39 0-4 2-13 6-13 6z"/><path fill="#fc3600" d="M2338 186l13-7 4-2-39 0-4 2-13 7z"/><path fill="#fd4400" d="M2311 201l14-8 13-7 4-2-39 0-4 2-13 7-14 8z"/><path fill="#ff5200" d="M2298 210l13-9 4-2-39-1-4 3-13 8z"/><path fill="#ff6400" d="M2271 228l14-10 13-8 4-3-39 0-4 2-13 9-14 9z"/><path fill="#ff7600" d="M2258 238l13-10 4-3-39-1-4 3-13 10z"/><path fill="#ff8800" d="M2244 248l14-10 4-3-39-1-4 3-14 10z"/><path fill="#ff9500" d="M2217 270l13-11 14-11 4-3-39-1-4 3-13 11-14 11z"/><path fill="#ffa300" d="M2203 282l14-12 4-3-39-1-4 3-14 12z"/><path fill="#ffb000" d="M2189 294l14-12 4-4-39 0-4 3-13 12z"/><path fill="#ffbb00" d="M2175 306l14-12 4-4-38 0-4 3-14 13z"/><path fill="#ffc700" d="M2162 319l13-13 5-3-39-1-4 4-14 13z"/><path fill="#ffd200" d="M2148 333l14-14 4-3-39-1-4 4-14 13z"/><path fill="#ffe100" d="M2134 347l14-14 4-4-39-1-4 4-14 14z"/><path fill="#fbec00" d="M2120 361l14-14 4-5-39 0-4 4-14 14z"/><path fill="#f6f000" d="M2106 375l14-14 4-5-38 0-5 4-14 15z"/><path fill="#e4f300" d="M2092 390l14-15 4-4-38-1-5 5-14 15z"/><path fill="#d6f300" d="M2077 406l15-16 4-4-38-1-5 5-14 15z"/><path fill="#c8f200" d="M2063 421l14-15 5-5-38 0-5 4-14 16z"/><path fill="#b1ed00" d="M2049 437l14-16 4-5-37 0-5 5-14 16z"/><path fill="#99e900" d="M2035 454l14-17 4-5-38 0-4 5-14 16z"/><path fill="#82e400" d="M2020 470l15-16 4-5-38 0-4 4-14 17z"/></g>
<path stroke-opacity=".4" d="M1964 471l-11 1 14-17 11-1 14-16-11 1 14-16 11-1 14-16-11 1 14-16 11 0 14-15-11 0 14-14 11-1 14-14-11 0 13-14 12 0 14-14-12 1 14-13 11-1 14-12-11 0 13-12 12 0 13-12-11 0 13-11 12 0 13-11M1975 471l-11 0 14-17 11 0 14-17-11 1 14-16 11-1 14-16-11 1 14-15 11-1 14-15-11 1 14-15 11-1 14-14-11 1 14-14 11-1 14-13-11 0 13-13 12 0 13-13-11 1 14-12 11-1 14-12-12 1 14-11 11-1 14-11M1986 470l-11 1 14-17 11-1 15-16-12 0 14-16 12 0 14-16-12 0 14-15 12 0 14-15-12 0 14-15 12 0 14-14-12 0 14-14 12 0 13-13-11 0 14-13 11 0 14-13-12 0 14-12 12 0 13-12-11 0 13-11 12 0 14-11"/><path stroke-opacity=".3" d="M2185 248l-11 0 13-10 12 0 13-10-11 0 13-9 12-1 13-8-11 0 13-8 12-1 13-7-12 0 13-7 12-1 13-6M2519 147l-12 2 12 3 12-2 12 4-12 2 12 4 12-2 12 5-12 2 12 6 12-2 12 6-12 3 12 7 11-3 12 8-12 3"/><path stroke-opacity=".2" d="M2292 180l-11 0 13-6 11-1 13-5-11 1 13-5 11-1 13-5-11 1 13-4 11-1 13-3-12 1 13-3 12-1 13-2-12 1 13-1 11-2 13-1-12 2 13 0 11-2 13 0-12 2 13 1 11-2 13 2-12 2 12 2 12-2 12 3M2407 145l-11 1 12-2 12-1 13-1-12 1 12 0 12-1 13 0-12 1 12 1 12-1 12 1-11 2 12 2 12-2 12 3M2419 144l-12 1 13-2 12-1 12-1-11 1 12 0 12-1 12 0-11 1 12 1 12-2 12 2-12 1 13 2 12-1 12 2"/><path stroke-opacity=".35" d="M2495 151l-11 2 12 3 11-2 13 4-12 2 12 5 12-2 12 5-12 3 12 6 11-3 12 6-11 3 11 8 12-3 12 8-12 3M2197 247l-12 1 14-10 12-1 13-10-12 1 14-10 11 0 14-9-12 1 14-9 11 0 13-8-11 1 13-8 12 0 13-7M2507 149l-12 2 12 3 12-2 12 4-11 2 12 5 11-3 12 5-11 3 11 6 12-3 12 7-12 2 12 8 12-3 11 8-11 3M2209 247l-12 0 14-10 11 0 14-10-12 0 13-9 12 0 14-9-12 0 13-8 12 0 13-8-12 0 14-7 11-1 14-6"/><path stroke-opacity=".25" d="M2304 179l-12 1 13-7 12 0 13-6-12 1 13-5 12-1 13-5-12 1 13-4 12-1 13-3-12 1 13-3 12-1 12-2M2316 179l-12 0 13-6 12-1 13-5-12 0 13-5 12 0 13-5-12 0 13-4 12 0 13-4-12 1 13-3 11-1 13-2"/>
<g stroke="none"><path fill="#f92100" d="M2675 172l11 7-40 5-11-7z"/><path fill="#f71900" d="M2651 161l12 5 12 6 3 2-40 5-3-2-12-7-12-6z"/><path fill="#f61200" d="M2627 152l12 4 12 5 4 2-40 3-4-2-12-5-12-5z"/><path fill="#f40f00" d="M2579 141l36 7 12 4 4 1-40 3-4-2-12-4-36-8z"/><path fill="#f20b00" d="M2517 140l37-1 25 2 4 0-41 1-3 0-25-3-37 1z"/><path fill="#f40f00" d="M2466 150l38-8 13-2 3 0-40 0-3 0-13 1-38 8z"/><path fill="#f61200" d="M2427 163l39-13 4-1-40-1-4 1-39 12z"/><path fill="#f71900" d="M2414 169l13-6 4-1-40-2-4 1-13 6z"/><path fill="#f92100" d="M2388 181l13-6 13-6 4-2-40-2-4 2-13 6-13 6z"/><path fill="#fa2800" d="M2374 188l14-7 3-2-39-2-4 2-14 7z"/><path fill="#fc3600" d="M2348 204l13-8 13-8 4-2-40-2-4 2-13 7-13 8z"/><path fill="#fd4400" d="M2334 212l14-8 4-3-40-2-4 2-14 8z"/><path fill="#ff5200" d="M2321 221l13-9 4-3-40-2-4 2-13 9z"/><path fill="#ff6400" d="M2294 240l13-10 14-9 4-3-40-2-4 2-13 10-14 10z"/><path fill="#ff7600" d="M2280 251l14-11 4-3-40-2-4 3-14 10z"/><path fill="#ff8800" d="M2253 273l13-12 14-10 4-3-39-3-5 3-13 11-14 11z"/><path fill="#ff9500" d="M2239 284l14-11 4-4-40-2-4 3-14 12z"/><path fill="#ffa300" d="M2225 296l14-12 4-3-39-3-5 4-13 12z"/><path fill="#ffb000" d="M2211 309l14-13 4-3-39-3-4 4-14 12z"/><path fill="#ffbb00" d="M2197 322l14-13 4-4-39-2-4 3-14 13z"/><path fill="#ffc700" d="M2183 335l14-13 4-4-39-3-4 4-14 14z"/><path fill="#ffd200" d="M2169 349l14-14 4-4-39-2-4 4-14 13z"/><path fill="#ffe100" d="M2155 363l14-14 4-4-39-3-4 4-14 15z"/><path fill="#fbec00" d="M2141 378l14-15 4-4-39-3-4 5-14 14z"/><path fill="#f6f000" d="M2127 392l14-14 4-5-39-2-4 4-14 15z"/><path fill="#e4f300" d="M2113 408l14-16 4-4-39-2-4 4-14 15z"/><path fill="#d6f300" d="M2099 423l14-15 4-5-39-2-4 4-14 16z"/><path fill="#c8f200" d="M2084 439l15-16 4-4-39-3-4 5-14 16z"/><path fill="#b1ed00" d="M2070 455l14-16 5-5-39-2-4 5-15 16z"/><path fill="#99e900" d="M2056 472l14-17 4-4-38-2-5 4-14 17z"/></g>
<path stroke-opacity=".45" d="M1998 470l-12 0 14-17 12 0 14-16-11 0 14-16 11 0 14-16-11 0 14-15 11 0 14-15-11 0 14-15 11 0 14-14M2009 470l-11 0 14-17 11 0 14-16-11 0 14-16 12 0 14-16-12 0 14-15 12 0 14-15-12 0 14-15 12 0 14-14M2020 470l-11 0 14-17 12 1 14-17-12 0 15-16 11 0 14-15-11-1 14-15 12 0 14-15-12 0 14-15 12 1 14-14"/><path stroke-opacity=".4" d="M2110 346l-11 0 14-14 11 0 14-13-12 0 14-13 12 0 14-13-12 0 14-12 11 0 14-12-12 0 14-11 12 0 13-11M2122 346l-12 0 14-14 12 0 14-13-12 0 14-13 12 0 13-13-11 0 13-12 12 0 14-11-12-1 14-11 12 0 13-10M2134 347l-12-1 14-14 12 1 14-14-12 0 14-13 11 0 14-12-12-1 14-12 12 1 14-12-12 0 14-12 11 1 14-11"/><path stroke-opacity=".35" d="M2220 247l-11 0 13-10 12 0 13-10-11 0 13-9 12 0 13-9-11 0 13-8 12 0 13-8-12 0 13-8 12 0 13-6M2232 248l-12-1 14-10 12 0 13-10-12 0 14-9 12 0 13-9-12 0 14-8 11 0 14-8-12 0 13-8 12 1 13-7M2244 248l-12 0 14-11 12 1 13-10-12-1 14-9 12 0 13-8-12-1 13-8 12 0 14-8-12 0 13-7 12 0 13-7"/><path stroke-opacity=".25" d="M2327 179l-11 0 13-7 12 0 13-5-12 0 13-5 12-1 13-4-12 0 13-4 12 0 12-4-11 0 12-3 12 0 13-2M2339 179l-12 0 14-7 11 0 14-5-12 0 13-6 12 0 13-4-12 0 13-4 11-1 13-3-12 0 13-3 12 0 13-3M2351 179l-12 0 13-7 12 1 13-6-11 0 13-6 12 0 13-4-12 0 12-5 12 0 13-3-12 0 13-3 12 0 13-3"/><path stroke-opacity=".15" d="M2431 144l-12 0 13-2 12 0 12-1-12 0 13 0 12-1 12 0-12 1 13 0 12-1 12 2-12 1 13 2 11-2 13 3M2443 143l-12 1 13-2 12-1 12-1-12 1 13-1 12-1 12 0-12 1 13 0 12 0 12 1-12 1 12 1 12-1 13 3M2455 143l-12 0 13-2 12 0 12-1-12 0 13-1 12 0 12 0-12 0 13 1 12-1 12 1-12 1 12 1 12 0 13 2"/><path stroke-opacity=".3" d="M2531 146l-12 1 12 3 12-1 12 3-12 2 12 4 12-1 12 4-12 2 12 6 12-2 12 6-12 2 11 7 12-2 12 7-12 3M2543 145l-12 1 12 3 12-1 12 3-12 1 12 5 12-2 12 5-12 1 12 6 12-2 11 6-11 2 11 7 12-2 12 7-12 2M2555 144l-12 1 12 3 12-1 12 3-12 1 12 4 12-1 12 5-12 1 12 5 12-1 11 6-12 1 12 7 12-2 12 7-12 2"/>
<g stroke="none"><path fill="#f61200" d="M2700 165l12 6 11 6-40 2-12-6-12-6z"/><path fill="#f40f00" d="M2676 156l12 4 12 5 3 2-40 1-4-1-12-6-11-5z"/><path fill="#f20b00" d="M2628 144l36 8 12 4 4 1-41 1-3-2-12-4-37-9z"/><path fill="#f00800" d="M2554 143l37-2 37 3 4 0-41-1-4 0-36-4-38 1z"/><path fill="#f20b00" d="M2503 153l38-8 13-2 4-1-41-2-4 0-13 2-38 8z"/><path fill="#f40f00" d="M2464 167l39-14 4-1-41-3-4 1-39 13z"/><path fill="#f61200" d="M2451 172l13-5 4-2-41-3-4 1-13 5z"/><path fill="#f71900" d="M2424 185l14-7 13-6 4-1-41-4-4 1-13 6-13 7z"/><path fill="#f92100" d="M2411 192l13-7 4-2-40-4-4 2-13 7z"/><path fill="#fa2800" d="M2384 208l14-8 13-8 4-2-40-4-4 2-14 7-13 8z"/><path fill="#fc3600" d="M2371 216l13-8 4-3-40-4-4 2-13 9z"/><path fill="#fd4400" d="M2358 225l13-9 4-2-40-5-4 3-14 9z"/><path fill="#ff5200" d="M2344 235l14-10 4-3-41-4-4 3-13 9z"/><path fill="#ff6400" d="M2317 255l13-11 14-9 4-3-40-5-4 3-14 10-14 10z"/><path fill="#ff7600" d="M2303 266l14-11 4-3-41-5-4 3-13 11z"/><path fill="#ff8800" d="M2289 277l14-11 4-4-40-4-4 3-14 11z"/><path fill="#ff9500" d="M2262 301l13-13 14-11 4-4-40-4-4 3-14 12-14 12z"/><path fill="#ffa300" d="M2248 313l14-12 4-4-40-5-5 4-13 13z"/><path fill="#ffb000" d="M2234 326l14-13 4-4-40-4-4 4-14 13z"/><path fill="#ffbb00" d="M2220 339l14-13 4-4-40-4-4 4-14 13z"/><path fill="#ffc700" d="M2206 353l14-14 4-4-40-4-4 4-14 14z"/><path fill="#ffd200" d="M2191 367l15-14 4-4-40-4-4 4-14 14z"/><path fill="#ffe100" d="M2177 381l14-14 5-4-40-4-4 4-14 14z"/><path fill="#fbec00" d="M2163 396l14-15 5-4-40-4-4 4-15 15z"/><path fill="#f2f400" d="M2149 411l14-15 4-4-39-4-5 4-14 15z"/><path fill="#e4f300" d="M2135 427l14-16 4-4-40-4-4 4-14 16z"/><path fill="#d6f300" d="M2120 443l15-16 4-5-40-4-4 5-14 16z"/><path fill="#c8f200" d="M2106 459l14-16 4-5-39-4-4 5-15 16z"/><path fill="#b1ed00" d="M2091 476l15-17 4-5-39-4-5 5-14 17z"/></g>
<path stroke-opacity=".45" d="M2032 471l-12-1 15-16 11 0 15-16-12-1 14-16 12 1 14-16-12 0 15-16 11 1 14-15-11-1 14-14 11 0 14-14M2044 471l-12 0 14-17 12 1 14-17-11 0 14-16 12 0 14-15-12-1 14-15 12 1 14-15-12-1 14-15 12 1 14-14M2056 472l-12-1 14-16 12 0 14-16-12-1 15-16 12 1 14-15-12-1 14-15 12 0 14-14-12-1 14-15 12 1 14-14"/><path stroke-opacity=".4" d="M2145 347l-11 0 14-14 11 0 14-13-11-1 13-13 12 1 14-12-12-1 14-12 12 0 14-11-12-1 13-11 12 1 14-11M2157 348l-12-1 14-14 12 1 14-13-12-1 14-13 12 1 14-13-12 0 14-13 12 1 14-11-12-1 13-11 12 0 14-10M2169 349l-12-1 14-14 12 1 14-13-12-1 14-13 12 1 14-13-12-1 14-12 12 1 14-11-12-1 13-12 12 1 14-10"/><path stroke-opacity=".35" d="M2256 249l-12-1 14-10 12 0 13-9-12-1 14-10 12 1 13-9-12 0 13-9 12 1 14-8-12-1 13-7 12 0 13-7M2268 250l-12-1 14-11 12 1 13-10-12 0 14-10 12 1 13-9-12-1 13-8 12 1 14-8-12-1 13-8 12 1 13-7M2280 251l-12-1 14-11 12 1 13-10-12-1 14-9 12 1 13-9-12-1 13-8 13 1 13-8-12-1 13-8 12 1 14-7"/><path stroke-opacity=".25" d="M2363 179l-12 0 13-6 12 0 14-6-13 0 14-6 12 1 13-5-12 0 12-5 13 1 12-4-12 0 13-3 12 0 13-3"/><path stroke-opacity=".15" d="M2467 143l-12 0 13-2 12 0 12-1-12 0 13-1 12 0 12 0-12 0 13 0 12 0 12 1-12 0 12 2 12-1 13 2M2479 144l-12-1 13-2 12 1 12-2-12 0 13-1 12 0 13 0-13 0 13 0 12 0 12 1-12 0 12 1 13 0 12 2M2491 144l-12 0 13-2 12 0 13-2-13 0 13-1 12 0 13 0-12 0 12 0 12 0 13 1-13 0 13 1 12 0 12 2"/><path stroke-opacity=".3" d="M2567 143l-12 1 12 3 12-1 12 3-12 1 12 4 12-1 12 4-12 2 12 5 12-1 12 5-13 2 12 6 12-1 12 7-12 1M2375 180l-12-1 13-6 13 1 13-6-12-1 13-5 12 0 13-4-12-1 13-4 12 0 13-3-13-1 13-3 12 0 13-2M2579 143l-12 0 12 3 12-1 12 4-12 0 12 4 12-1 12 5-12 0 12 6 12-1 12 5-12 1 11 7 12-2 12 7-12 2M2388 181l-13-1 14-6 12 1 13-6-12-1 13-6 12 1 13-5-12 0 13-5 12 1 13-4-12 0 12-4 13 1 12-3M2591 143l-12 0 12 2 12 0 12 3-12 1 12 3 12 0 12 4-12 1 12 5 12-1 12 5-12 1 11 6 13-1 11 7-12 1"/>
<g stroke="none"><path fill="#f40f00" d="M2749 171l12 6-42 0-11-6z"/><path fill="#f20b00" d="M2726 161l11 5 12 5 4 2-42 0-3-2-12-6-12-5z"/><path fill="#f00800" d="M2654 145l36 6 36 10 3 2-41-1-4-2-35-12-37-6z"/><path fill="#ec0500" d="M2617 144l37 1 3 0-41-3-4 0-37-1z"/><path fill="#f00800" d="M2553 154l38-7 26-3 3 0-41-3-4 0-25 1-38 8z"/><path fill="#f20b00" d="M2515 167l38-13 4 0-41-5-4 1-39 11z"/><path fill="#f40f00" d="M2488 178l14-6 13-5 3-2-41-5-4 1-13 5-13 6z"/><path fill="#f61200" d="M2462 190l13-6 13-6 4-2-41-6-4 2-13 6-13 7z"/><path fill="#f71900" d="M2449 197l13-7 4-2-41-5-4 2-14 7z"/><path fill="#f92100" d="M2435 205l14-8 4-2-42-6-4 3-13 7z"/><path fill="#fa2800" d="M2409 222l13-9 13-8 4-2-41-6-4 2-13 8-14 9z"/><path fill="#fc3600" d="M2395 231l14-9 4-3-42-6-4 3-13 9z"/><path fill="#fd4400" d="M2381 240l14-9 4-3-41-6-4 3-14 9z"/><path fill="#ff5200" d="M2368 250l13-10 4-3-41-6-4 3-13 10z"/><path fill="#ff6400" d="M2340 271l14-11 14-10 4-3-41-6-4 3-14 10-14 11z"/><path fill="#ff7600" d="M2327 282l13-11 4-3-41-6-4 3-13 11z"/><path fill="#ff8800" d="M2313 294l14-12 4-3-41-6-4 3-14 12z"/><path fill="#ff9500" d="M2299 306l14-12 4-4-41-6-4 4-14 12z"/><path fill="#ffa300" d="M2271 331l14-13 14-12 4-4-41-6-4 4-14 13-14 12z"/><path fill="#ffb000" d="M2257 345l14-14 4-4-41-5-4 3-14 14z"/><path fill="#ffbb00" d="M2243 358l14-13 4-4-41-6-4 4-14 13z"/><path fill="#ffc700" d="M2228 372l15-14 4-4-41-6-4 4-14 15z"/><path fill="#ffd900" d="M2214 387l14-15 5-4-41-6-4 5-14 14z"/><path fill="#ffe800" d="M2200 401l14-14 4-5-40-5-4 4-15 15z"/><path fill="#fbec00" d="M2186 417l14-16 4-4-40-6-5 5-14 15z"/><path fill="#f2f400" d="M2171 432l15-15 4-5-41-6-4 5-14 16z"/><path fill="#e4f300" d="M2157 448l14-16 5-5-41-5-4 5-14 15z"/><path fill="#d6f300" d="M2142 464l15-16 4-5-40-5-4 4-15 17z"/><path fill="#c8f200" d="M2128 480l14-16 5-5-41-5-4 5-14 16z"/></g>
<path stroke-opacity=".45" d="M2067 473l-11-1 14-17 12 1 14-16-12-1 15-16 11 1 15-15-12-1 14-16 12 2 14-15-12-1 14-15 12 1 14-14M2079 474l-12-1 15-17 12 2 14-17-12-1 14-16 12 2 15-16-12-1 14-15 12 1 14-15-12-1 14-15 12 2 14-15M2091 476l-12-2 15-16 12 1 14-16-12-2 14-15 13 1 14-16-12-1 14-15 12 1 14-15-12-1 14-14 12 1 15-14"/><path stroke-opacity=".4" d="M2181 350l-12-1 14-14 12 1 14-13-12-1 14-13 12 1 14-12-12-2 14-12 12 2 14-12-12-1 13-12 12 2 14-11M2193 351l-12-1 14-14 12 2 14-14-12-1 14-13 12 2 14-13-12-1 14-12 12 1 14-12-12-1 13-11 13 1 13-11M2206 353l-13-2 14-13 13 1 14-13-13-2 14-12 13 1 14-12-13-2 14-12 12 1 14-11-12-2 14-11 12 2 14-11"/><path stroke-opacity=".35" d="M2292 252l-12-1 14-11 12 1 13-9-12-2 14-9 12 1 13-9-12-1 14-8 12 1 13-8-12-1 13-8 12 1 14-7M2304 253l-12-1 14-11 12 2 14-10-13-1 14-10 12 2 14-9-13-2 14-8 12 1 13-8-12-1 13-8 13 2 13-7M2317 255l-13-2 14-10 12 1 14-9-12-2 13-9 13 1 13-9-12-1 13-9 12 2 14-8-13-2 14-7 12 1 13-7"/><path stroke-opacity=".3" d="M2400 182l-12-1 13-6 12 1 13-6-12-1 13-6 12 1 13-5-12-1 13-4 12 1 13-4-12-1 13-3 12 1 13-3M2412 184l-12-2 13-6 12 1 13-6-12-1 13-6 12 1 14-5-13-1 13-4 12 1 13-4-12-1 13-3 12 1 13-3M2424 185l-12-1 13-7 13 1 13-6-13-1 13-6 13 2 13-5-12-2 12-4 13 1 13-4-13-1 13-3 13 1 12-3"/><path stroke-opacity=".15" d="M2504 145l-13-1 13-2 12 1 13-2-12-1 12-1 13 1 12-1-12 0 12 0 12 0 13 1-12 0 12 1 12 0 12 2M2516 146l-12-1 12-2 13 1 12-2-12-1 13-1 12 1 12-1-12-1 12 0 13 1 12 0-12 0 12 1 12 0 13 2M2528 147l-12-1 13-2 12 1 13-2-13-1 13-1 12 1 13-1-13-1 13 0 12 1 13 0-13-1 12 1 13 1 12 2"/><path stroke-opacity=".25" d="M2603 143l-12 0 12 2 13 0 12 3-13 0 12 4 13 0 12 4-13 0 12 5 12-1 12 6-12 0 12 6 12 0 11 6-12 1M2616 143l-13 0 13 2 12 0 12 3-12 0 12 4 12 0 12 4-12 0 11 4 13 0 11 5-12 1 12 6 12-1 12 6-13 1M2628 144l-12-1 12 2 12 1 12 2-12 0 12 4 12 0 12 4-12 0 12 4 12 0 12 5-13 0 12 6 13 0 11 6-12 0"/>
<g stroke="none"><path fill="#f20b00" d="M2787 173l12 6-42-2-12-6z"/><path fill="#f00800" d="M2752 160l35 13 4 2-42-2-4-2-35-14z"/><path fill="#ec0500" d="M2604 157l38-6 38-2 36 3 36 8 4 1-42-3-4-1-36-9-36-4-38 1-38 6z"/><path fill="#f00800" d="M2566 168l38-11 4-1-42-6-4 1-38 11z"/><path fill="#f20b00" d="M2540 178l13-5 13-5 4-1-42-7-4 2-13 4-13 5z"/><path fill="#f40f00" d="M2514 190l13-6 13-6 4-1-42-7-4 1-13 6-14 6z"/><path fill="#f61200" d="M2487 204l13-7 14-7 3-2-42-7-4 2-13 7-13 7z"/><path fill="#f71900" d="M2474 212l13-8 4-2-42-7-4 2-13 7z"/><path fill="#f92100" d="M2460 220l14-8 4-3-42-7-4 2-14 8z"/><path fill="#fa2800" d="M2447 228l13-8 4-3-42-7-4 2-13 9z"/><path fill="#fc3600" d="M2433 237l14-9 4-2-42-8-4 3-14 9z"/><path fill="#fd4400" d="M2406 257l14-10 13-10 4-2-42-8-4 3-13 9-14 10z"/><path fill="#ff5200" d="M2392 267l14-10 4-3-42-8-4 3-14 11z"/><path fill="#ff6400" d="M2378 278l14-11 4-3-42-7-4 3-13 10z"/><path fill="#ff7600" d="M2351 301l13-12 14-11 4-3-41-8-4 3-14 12-14 11z"/><path fill="#ff8800" d="M2337 313l14-12 4-4-42-7-4 3-14 12z"/><path fill="#ff9500" d="M2323 325l14-12 4-4-42-7-4 3-14 13z"/><path fill="#ffa300" d="M2309 338l14-13 4-4-42-7-4 4-14 13z"/><path fill="#ffb000" d="M2294 351l15-13 4-4-42-7-4 4-14 13z"/><path fill="#ffbb00" d="M2280 365l14-14 5-4-42-7-4 4-14 14z"/><path fill="#ffc700" d="M2266 379l14-14 4-4-41-7-4 4-14 14z"/><path fill="#ffd200" d="M2252 393l14-14 4-4-41-7-4 4-15 14z"/><path fill="#ffd900" d="M2237 408l15-15 4-4-41-7-5 4-14 15z"/><path fill="#ffe800" d="M2223 423l14-15 5-5-42-7-4 5-14 15z"/><path fill="#f6f000" d="M2209 438l14-15 4-5-41-7-4 5-15 16z"/><path fill="#f2f400" d="M2194 454l15-16 4-4-41-7-5 5-14 15z"/><path fill="#e4f300" d="M2180 470l14-16 4-5-41-6-4 4-14 16z"/><path fill="#c8f200" d="M2165 487l15-17 4-5-41-6-4 4-15 17z"/></g>
<path stroke-opacity=".45" d="M2103 477l-12-1 15-17 12 2 14-17-12-1 15-16 12 2 14-16-12-2 14-15 12 2 14-15-12-2 14-14 13 2 14-14-12-2 14-14 12 2 14-13-12-2 14-13 12 2 14-13-12-1 13-13 13 2 14-12-13-1 14-11 12 1 14-11M2116 479l-13-2 15-16 12 1 14-16-12-2 15-15 12 1 14-15-12-2 14-15 13 2 14-15-13-2 15-14 12 1 14-14-12-1 14-14 12 2 14-14-12-1 14-13 12 2 14-13-12-2 14-12 12 2 14-12-12-2 13-11 13 2 14-11M2128 480l-12-1 14-17 12 2 15-16-13-2 15-16 12 2 15-15-13-2 15-15 12 1 14-14-12-2 14-15 12 2 15-14-13-2 14-13 13 2 14-14-13-2 14-12 13 1 14-12-13-2 14-12 13 2 14-12-13-2 14-11 12 2 14-11"/><path stroke-opacity=".4" d="M2329 256l-12-1 13-11 13 2 13-10-12-1 14-10 12 2 13-9-12-2 13-8 13 1 13-8-12-1 13-8 13 2 13-7M2342 258l-13-2 14-10 12 2 14-10-13-2 14-9 12 2 14-9-13-2 14-9 12 2 14-8-13-2 14-7 12 1 13-7M2354 260l-12-2 13-10 13 2 13-10-12-2 13-9 13 2 14-9-13-2 13-9 13 2 13-8-12-2 13-8 13 2 13-7"/><path stroke-opacity=".3" d="M2437 187l-13-2 14-7 12 2 13-6-12-2 13-5 12 1 13-5-12-1 13-5 12 2 13-4-12-2 13-3 12 1 13-3M2449 188l-12-1 13-7 13 2 13-6-13-2 13-6 13 2 13-5-13-2 13-4 13 1 13-4-13-1 13-4 13 2 12-3M2462 190l-13-2 14-6 12 2 13-6-12-2 13-6 13 2 13-5-13-2 13-5 13 2 12-4-12-2 13-3 12 1 13-3"/><path stroke-opacity=".2" d="M2541 148l-13-1 13-2 13 1 12-2-12-1 12-1 13 1 12-1-12-1 12 0 13 1 12 0-12-1 12 1 12 1 13 1M2553 150l-12-2 13-2 12 1 13-2-13-1 13-1 12 1 13-1-13-1 13 0 12 1 13 0-13-1 12 1 13 1 12 1M2566 151l-13-1 13-3 13 2 12-2-12-2 12-1 13 1 13-1-13-1 12 0 13 1 12 0-12-1 12 1 13 1 12 1"/><path stroke-opacity=".25" d="M2641 144l-13 0 12 2 13 0 12 3-13-1 12 4 13 0 12 4-13 0 12 4 13 0 11 5-12 0 12 6 12 0 12 6-13 0M2653 145l-12-1 12 2 12 1 12 3-12-1 12 3 12 1 12 3-12 0 12 4 12 1 12 4-13 0 12 6 13 0 11 6-12 0M2666 146l-13-1 12 2 13 1 12 3-13-1 12 3 13 1 12 3-13-1 12 5 13 0 11 5-12-1 12 6 12 0 12 6-13 0"/>
<g stroke="none"><path fill="#f00800" d="M2826 177l12 5-43-3-12-6z"/><path fill="#ec0500" d="M2743 156l36 6 35 11 12 4 4 2-43-4-4-2-11-5-36-11-36-7z"/><path fill="#e80300" d="M2706 155l37 1 4 1-43-6-4-1-37-1z"/><path fill="#ec0500" d="M2631 167l38-8 37-4 4 0-43-6-4 0-37 3-38 8z"/><path fill="#f00800" d="M2592 180l39-13 3-1-42-7-4 1-39 12z"/><path fill="#f20b00" d="M2566 191l13-5 13-6 4-1-43-8-4 1-13 6-13 5z"/><path fill="#f40f00" d="M2539 204l13-6 14-7 4-1-43-8-4 1-13 6-14 7z"/><path fill="#f61200" d="M2526 212l13-8 4-2-43-8-4 2-13 7z"/><path fill="#f71900" d="M2512 219l14-7 4-3-43-8-4 2-13 8z"/><path fill="#f92100" d="M2485 236l14-9 13-8 4-2-42-8-4 2-14 8-13 9z"/><path fill="#fa2800" d="M2472 245l13-9 5-3-43-8-4 3-14 9z"/><path fill="#fc3600" d="M2458 254l14-9 4-3-43-8-4 3-13 9z"/><path fill="#fd4400" d="M2445 264l13-10 4-2-42-9-4 3-14 10z"/><path fill="#ff5200" d="M2431 275l14-11 4-3-43-8-4 3-14 10z"/><path fill="#ff6400" d="M2403 297l14-12 14-10 4-3-43-9-4 3-14 11-13 11z"/><path fill="#ff7600" d="M2389 308l14-11 4-4-42-8-4 3-14 12z"/><path fill="#ff8800" d="M2375 320l14-12 4-3-42-9-4 4-14 12z"/><path fill="#ff9500" d="M2347 345l14-12 14-13 4-3-42-9-4 4-14 12-14 13z"/><path fill="#ffa300" d="M2333 359l14-14 4-3-42-9-4 4-14 13z"/><path fill="#ffb000" d="M2319 372l14-13 4-4-42-8-4 3-15 14z"/><path fill="#ffbb00" d="M2304 386l15-14 4-4-42-8-5 4-14 14z"/><path fill="#ffc700" d="M2290 400l14-14 5-4-43-8-4 4-14 14z"/><path fill="#ffd200" d="M2276 415l14-15 4-4-42-8-4 4-14 15z"/><path fill="#ffe100" d="M2261 430l15-15 4-4-42-8-4 4-15 15z"/><path fill="#fbec00" d="M2247 446l14-16 5-4-42-8-5 4-14 16z"/><path fill="#f2f400" d="M2232 461l15-15 4-5-42-8-4 5-15 15z"/><path fill="#e4f300" d="M2218 477l14-16 5-4-42-8-5 4-14 17z"/><path fill="#d6f300" d="M2203 494l15-17 4-4-42-8-4 5-15 16z"/></g>
<path stroke-opacity=".45" d="M2140 482l-12-2 14-16 13 2 14-16-12-2 14-16 13 2 14-15-12-2 14-16 12 2 15-14-13-2 14-15 13 2 14-14-12-2 14-13 12 2 14-14-12-2 14-13 12 3 14-13-12-2 14-12 12 2 14-12-12-2 13-11 13 2 14-11M2153 484l-13-2 15-16 12 2 15-16-13-2 15-16 12 2 14-15-12-2 14-16 13 3 14-15-12-2 14-15 12 2 15-14-13-2 14-13 13 2 14-13-13-3 14-12 13 2 14-13-13-2 14-12 13 2 14-11-13-3 14-11 13 2 13-10M2165 487l-12-3 14-16 13 2 14-16-12-2 14-16 13 2 14-15-13-2 15-15 12 2 15-15-13-2 14-15 13 3 14-14-12-3 14-13 12 2 15-13-13-2 14-13 13 2 14-12-13-3 14-12 13 3 13-12-12-2 14-12 12 3 14-11"/><path stroke-opacity=".4" d="M2367 262l-13-2 14-10 12 2 14-10-13-2 14-9 13 2 13-9-12-2 13-9 13 2 13-8-13-2 14-8 12 2 14-7M2379 265l-12-3 13-10 13 2 14-10-13-2 14-9 12 2 14-9-13-2 14-9 12 2 14-8-13-2 13-8 13 3 13-7M2392 267l-13-2 14-11 13 3 14-10-13-3 13-9 13 2 14-9-13-2 13-9 13 3 14-8-13-3 13-7 13 2 13-7"/><path stroke-opacity=".3" d="M2475 192l-13-2 13-6 13 2 13-6-13-2 14-6 12 2 13-5-12-2 13-5 12 2 13-4-13-2 13-4 13 2 13-3M2487 195l-12-3 13-6 13 2 13-6-13-2 13-6 13 2 13-5-13-2 13-5 13 2 13-4-13-2 13-4 13 2 13-3"/><path stroke-opacity=".2" d="M2579 153l-13-2 13-2 13 2 12-2-13-2 13-2 13 2 12-1-12-2 12 0 13 2 12 0-13-2 13 1 12 1 12 2-12-2 12 2 13 1 12 3-13-1 12 3 13 1 12 3-13-1 12 4 12 1 12 5-13-1 12 5 13 1 11 5-12 0M2592 155l-13-2 13-2 12 1 13-2-13-1 13-2 12 2 13-1-13-2 13 0 12 1 13 0-13-1 12 0 13 2 12 1-13-1 13 1 12 2 12 2-12-1 12 3 12 1 12 3-12-1 11 4 13 1 12 4-13 0 12 5 12 0 12 6-13-1M2604 157l-12-2 12-3 13 3 13-3-13-2 12-1 13 2 13-1-13-2 12-1 13 2 13 0-13-2 12 1 13 2 12 1-13-2 12 2 13 1 12 2-13-1 12 3 13 1 12 3-13-1 12 4 13 1 12 4-13-1 11 5 13 1 12 6-13-1"/><path stroke-opacity=".35" d="M2500 197l-13-2 14-7 13 2 13-6-13-2 13-6 13 2 13-5-13-2 13-5 13 2 13-4-13-2 13-4 13 2 12-3"/>
<g stroke="none"><path fill="#ec0500" d="M2830 171l35 11 12 5-43-5-12-5-35-13z"/><path fill="#e80300" d="M2721 165l37-3 37 2 35 7 4 1-43-6-4-2-36-7-36-3-38 3z"/><path fill="#ec0500" d="M2657 179l39-10 25-4 4-1-44-8-4 1-25 4-38 10z"/><path fill="#f00800" d="M2618 194l39-15 4-1-43-9-4 2-39 14z"/><path fill="#f20b00" d="M2592 206l13-6 13-6 4-2-43-9-4 2-13 6-13 6z"/><path fill="#f40f00" d="M2579 213l13-7 4-2-44-9-3 2-14 7z"/><path fill="#f61200" d="M2552 228l13-8 14-7 4-2-44-9-4 2-13 7-13 7z"/><path fill="#f71900" d="M2539 236l13-8 4-3-43-9-4 2-14 9z"/><path fill="#f92100" d="M2525 244l14-8 4-3-44-9-4 3-13 8z"/><path fill="#fa2800" d="M2511 253l14-9 4-2-43-9-4 2-14 9z"/><path fill="#fc3600" d="M2498 263l13-10 4-2-43-10-4 3-14 10z"/><path fill="#fd4400" d="M2470 283l14-10 14-10 4-3-44-9-4 3-13 10-14 10z"/><path fill="#ff5200" d="M2456 294l14-11 4-3-43-9-4 3-14 11z"/><path fill="#ff6400" d="M2442 305l14-11 5-3-44-10-4 4-14 11z"/><path fill="#ff7600" d="M2414 329l14-12 14-12 5-3-44-10-4 4-14 11-14 12z"/><path fill="#ff8800" d="M2400 341l14-12 5-4-44-9-4 3-14 13z"/><path fill="#ff9500" d="M2386 354l14-13 5-4-44-9-4 4-14 13z"/><path fill="#ffa300" d="M2372 367l14-13 4-4-43-9-4 4-14 13z"/><path fill="#ffb000" d="M2358 380l14-13 4-4-43-9-4 4-14 13z"/><path fill="#ffbb00" d="M2343 394l15-14 4-4-43-9-4 4-15 14z"/><path fill="#ffc700" d="M2329 409l14-15 5-4-43-9-5 4-14 15z"/><path fill="#ffd200" d="M2315 423l14-14 4-5-43-9-4 5-14 14z"/><path fill="#ffd900" d="M2300 438l15-15 4-4-43-9-4 4-15 15z"/><path fill="#ffe800" d="M2286 454l14-16 4-4-42-9-5 4-14 16z"/><path fill="#f6f000" d="M2271 469l15-15 4-5-43-9-4 5-15 16z"/><path fill="#f2f400" d="M2256 485l15-16 4-4-42-9-5 5-14 16z"/><path fill="#e4f300" d="M2242 502l14-17 5-4-43-9-4 5-15 16z"/></g>
<path stroke-opacity=".5" d="M2178 489l-13-2 15-17 12 2 15-16-13-2 15-16 12 3 15-16-13-2 14-15 13 2 14-15-12-2 14-14 13 2 14-14M2190 491l-12-2 14-17 13 3 14-16-12-3 14-15 13 2 14-15-12-3 14-15 13 3 14-15-13-3 15-14 12 3 15-14M2203 494l-13-3 15-16 13 2 14-16-13-2 15-16 13 3 14-16-13-2 15-15 13 2 14-15-13-2 14-14 13 2 15-14"/><path stroke-opacity=".45" d="M2293 367l-13-2 14-14 13 3 14-14-12-2 14-13 12 3 14-13-12-2 14-12 12 2 14-12-13-2 14-11 13 2 14-11M2306 370l-13-3 14-13 13 2 14-13-13-3 14-12 13 2 14-12-13-3 14-12 13 3 14-12-13-3 14-11 13 3 14-11M2319 372l-13-2 14-14 13 3 14-14-13-2 14-13 13 3 14-13-13-2 14-12 13 2 14-11-13-3 14-11 13 2 14-10"/><path stroke-opacity=".4" d="M2405 269l-13-2 14-10 13 2 13-10-12-2 13-10 13 3 14-9-13-3 13-8 13 2 13-8-12-2 13-8 13 2 13-7M2418 272l-13-3 14-10 13 3 13-10-13-3 14-9 13 2 13-9-12-2 13-9 13 3 13-8-13-3 14-8 13 3 13-7M2431 275l-13-3 14-10 13 2 13-10-13-2 14-10 13 3 13-9-13-3 14-8 13 2 13-8-13-2 14-8 13 3 13-8"/><path stroke-opacity=".35" d="M2513 199l-13-2 14-7 12 3 14-7-13-2 13-6 13 3 13-6-13-2 13-5 13 3 13-5-13-2 13-4 13 3 12-4M2526 202l-13-3 13-6 13 2 14-6-13-3 13-5 13 2 13-5-13-3 13-4 13 2 13-4-13-3 13-3 13 2 12-3M2539 204l-13-2 13-7 13 3 14-7-13-2 13-6 13 3 13-6-13-2 13-5 13 3 13-5-13-2 13-4 13 2 12-3"/><path stroke-opacity=".2" d="M2617 159l-13-2 13-2 13 2 13-3-13-2 12-1 13 2 13-1-13-2 12-1 13 2 13 0-13-2 12 1 13 1 12 1-13-1 12 1 13 2 12 2-13-2 12 3 13 2 12 3-13-2 12 4 13 1 12 5-13-2 11 5 13 2 12 5-13-1M2730 154l-13-2 12 2 13 2 12 2-13-2 12 3 13 1 12 3-13-1 12 3 13 2 11 4-12-1 11 5 13 1 12 5-13-1M2743 156l-13-2 12 2 13 2 12 2-13-2 12 2 13 2 12 3-13-2 12 4 13 1 11 5-13-2 12 5 13 1 12 5-13-1"/><path stroke-opacity=".25" d="M2630 162l-13-3 13-2 13 2 13-2-13-3 12-1 13 2 13-1-13-2 12-1 13 2 12 0-12-2 12 0 13 2 12 1M2643 164l-13-2 13-3 13 2 13-2-13-2 12-2 13 2 13-1-13-2 12-1 13 2 13 0-14-2 13 0 13 2 12 1"/>
<g stroke="none"><path fill="#ec0500" d="M2894 185l11 4 12 4-44-6-11-5-12-5z"/><path fill="#e80300" d="M2749 175l37-4 37 0 36 4 35 10 3 1-44-7-3-2-35-9-36-6-37 0-38 4z"/><path fill="#ec0500" d="M2698 188l38-10 13-3 3 0-44-10-4 1-12 2-39 11z"/><path fill="#f00800" d="M2659 203l39-15 4-1-45-10-4 2-39 14z"/><path fill="#f20b00" d="M2632 215l14-6 13-6 4-2-45-9-4 1-13 6-13 6z"/><path fill="#f40f00" d="M2606 229l13-7 13-7 4-2-44-10-4 2-13 7-14 7z"/><path fill="#f61200" d="M2592 237l14-8 4-2-45-10-4 2-13 8z"/><path fill="#f71900" d="M2579 245l13-8 4-3-44-9-4 2-13 8z"/><path fill="#f92100" d="M2565 253l14-8 4-3-44-9-4 2-14 9z"/><path fill="#fa2800" d="M2538 272l14-10 13-9 4-2-44-10-4 3-14 9-13 9z"/><path fill="#fc3600" d="M2524 282l14-10 4-3-44-10-4 3-14 10z"/><path fill="#fd4400" d="M2510 292l14-10 4-3-44-10-4 3-14 10z"/><path fill="#ff5200" d="M2496 303l14-11 4-3-44-10-4 3-14 11z"/><path fill="#ff6400" d="M2468 325l14-11 14-11 5-3-44-10-5 3-14 11-13 12z"/><path fill="#ff7600" d="M2454 337l14-12 5-3-44-10-4 4-15 12z"/><path fill="#ff8800" d="M2440 350l14-13 5-3-44-10-5 4-14 12z"/><path fill="#ff9500" d="M2426 362l14-12 5-4-44-10-5 4-14 13z"/><path fill="#ffa300" d="M2398 389l14-13 14-14 4-3-44-10-4 4-14 13-14 14z"/><path fill="#ffb000" d="M2383 403l15-14 4-4-44-9-4 4-15 13z"/><path fill="#ffbb00" d="M2369 417l14-14 4-4-43-10-5 4-14 15z"/><path fill="#ffc700" d="M2354 432l15-15 4-4-44-10-4 5-14 14z"/><path fill="#ffd200" d="M2340 447l14-15 5-5-44-9-4 4-15 15z"/><path fill="#ffe800" d="M2325 462l15-15 4-5-43-9-5 4-14 16z"/><path fill="#fbec00" d="M2310 478l15-16 4-4-43-10-4 5-15 16z"/><path fill="#f2f400" d="M2296 494l14-16 5-5-44-9-4 5-15 16z"/><path fill="#e4f300" d="M2281 510l15-16 4-5-43-9-5 5-14 16z"/></g>
<path stroke-opacity=".5" d="M2216 496l-13-2 15-17 12 3 15-16-13-3 15-15 13 2 14-15-13-3 15-15 13 3 14-15-13-3 14-14 13 3 15-14M2229 499l-13-3 14-16 13 3 15-16-13-3 15-16 13 3 14-15-13-3 15-15 13 2 14-14-13-3 14-14 13 3 15-14M2242 502l-13-3 14-16 13 2 15-16-13-2 15-16 13 3 14-16-13-2 15-16 13 3 14-14-13-3 14-14 13 2 15-14"/><path stroke-opacity=".45" d="M2332 375l-13-3 14-13 13 2 14-13-13-3 14-12 13 2 14-12-13-3 14-12 13 3 14-12-13-2 14-12 13 3 14-11M2345 378l-13-3 14-14 13 3 14-13-13-3 14-13 13 3 14-12-13-3 14-12 13 3 14-12-13-3 14-11 13 3 14-11M2358 380l-13-2 14-14 13 3 14-13-13-3 14-13 13 3 14-12-13-3 14-12 13 3 14-12-13-3 14-11 13 3 14-11"/><path stroke-opacity=".4" d="M2444 277l-13-2 14-11 13 3 13-10-13-3 14-9 13 3 14-9-14-3 14-9 13 3 14-8-14-3 14-7 13 2 13-7M2457 280l-13-3 14-10 13 3 13-10-13-3 14-9 13 3 14-9-13-3 13-9 13 3 14-8-13-3 13-8 13 3 13-7M2470 283l-13-3 14-10 13 3 14-10-14-3 14-9 13 2 14-9-13-2 13-9 14 3 13-8-13-3 13-8 13 3 14-7"/><path stroke-opacity=".35" d="M2552 207l-13-3 13-6 14 2 13-6-13-3 13-5 13 2 13-5-13-3 13-4 13 2 13-4-13-3 13-4 13 3 13-3M2565 210l-13-3 14-7 13 3 13-6-13-3 13-6 13 3 13-5-13-3 13-5 13 3 13-4-13-3 13-4 13 3 13-4M2579 213l-14-3 14-7 13 3 13-6-13-3 13-6 13 3 13-5-13-3 13-5 13 3 13-5-13-2 13-4 13 3 13-4"/><path stroke-opacity=".25" d="M2657 167l-14-3 13-3 13 3 13-2-13-3 12-2 13 3 13-2-13-2 12-1 13 3 13-1-13-2 12 0 13 3 12 0M2670 169l-13-2 12-3 13 3 13-3-13-2 12-2 14 2 12-1-13-3 12 0 14 2 12 0-13-3 12 1 13 2 12 1M2683 172l-13-3 12-2 14 2 12-2-13-3 13-2 13 3 12-1-13-3 13-1 13 3 12-1-13-2 12 0 13 2 13 1"/><path stroke-opacity=".2" d="M2756 158l-13-2 12 2 13 2 12 2-13-2 12 2 13 2 12 3-13-2 12 3 13 2 12 4-14-1 12 4 13 2 12 5-13-2M2769 161l-13-3 12 2 13 2 12 2-13-2 12 2 13 2 12 3-13-2 12 3 13 2 12 4-13-2 11 5 13 1 12 5-13-1"/><path stroke-opacity=".15" d="M2783 163l-14-2 12 1 14 2 12 2-14-2 12 2 14 2 11 3-13-2 12 3 13 2 12 4-13-2 11 4 13 2 12 5-13-2"/>
<g stroke="none"><path fill="#e80300" d="M2777 187l38-6 36-2 37 2 35 8 35 11-45-7-35-13-35-7-36-4-37 2-38 6z"/><path fill="#ec0500" d="M2726 202l38-12 13-3 4-1-45-10-4 1-13 3-38 12z"/><path fill="#f00800" d="M2700 212l13-5 13-5 4-1-45-11-4 2-13 5-13 5z"/><path fill="#f20b00" d="M2673 224l13-6 14-6 4-1-45-11-4 2-14 6-13 6z"/><path fill="#f40f00" d="M2647 238l13-7 13-7 4-2-45-10-4 2-13 7-13 7z"/><path fill="#f61200" d="M2633 246l14-8 4-2-45-10-4 2-14 8z"/><path fill="#f71900" d="M2606 263l14-9 13-8 4-2-45-11-4 3-13 8-14 8z"/><path fill="#f92100" d="M2592 272l14-9 4-3-45-10-4 2-13 9z"/><path fill="#fa2800" d="M2579 281l13-9 5-3-45-10-4 2-14 10z"/><path fill="#fc3600" d="M2565 291l14-10 4-3-45-10-4 3-14 10z"/><path fill="#fd4400" d="M2551 301l14-10 4-3-45-10-4 3-14 10z"/><path fill="#ff5200" d="M2523 323l14-11 14-11 4-3-45-10-4 3-14 11-14 11z"/><path fill="#ff6400" d="M2509 334l14-11 4-3-44-10-5 3-14 12z"/><path fill="#ff7600" d="M2495 346l14-12 4-3-44-10-5 4-14 11z"/><path fill="#ff8800" d="M2467 371l14-12 14-13 4-3-44-10-5 3-14 13-14 13z"/><path fill="#ff9500" d="M2452 385l15-14 4-3-45-10-4 4-14 13z"/><path fill="#ffa300" d="M2438 398l14-13 5-4-45-10-4 4-14 13z"/><path fill="#ffb000" d="M2424 412l14-14 4-4-44-10-4 4-15 14z"/><path fill="#ffbb00" d="M2409 426l15-14 4-4-45-10-4 4-14 14z"/><path fill="#ffc700" d="M2395 441l14-15 5-4-45-10-4 4-15 15z"/><path fill="#ffd200" d="M2380 456l15-15 4-5-44-9-5 4-14 15z"/><path fill="#ffe100" d="M2365 471l15-15 4-5-44-10-4 5-15 15z"/><path fill="#fbec00" d="M2351 487l14-16 5-5-45-9-4 4-15 16z"/><path fill="#f6f000" d="M2336 503l15-16 4-5-44-10-5 5-14 16z"/><path fill="#f2f400" d="M2321 519l15-16 4-5-44-10-4 5-15 16z"/></g>
<path stroke-opacity=".5" d="M2255 505l-13-3 14-17 13 3 15-16-13-3 15-15 13 2 14-15-13-3 15-15 13 3 14-15-13-2 14-15 14 3 14-14M2268 507l-13-2 14-17 13 3 15-16-13-3 15-16 13 3 14-15-13-3 15-15 13 3 14-15-13-3 15-14 13 3 14-14M2281 510l-13-3 14-16 14 3 14-16-13-3 15-16 13 3 15-15-14-3 15-15 13 3 15-15-14-3 15-14 13 3 15-14"/><path stroke-opacity=".45" d="M2371 383l-13-3 14-13 13 3 14-13-13-3 14-13 14 3 14-13-14-2 14-12 14 2 14-11-14-3 14-11 14 3 13-11M2384 386l-13-3 14-13 13 3 15-14-14-2 15-13 13 3 14-13-13-3 14-12 13 3 14-11-13-3 14-11 13 3 14-11M2398 389l-14-3 14-13 14 3 14-14-13-3 14-12 13 3 14-13-13-3 14-12 13 3 14-11-13-3 14-11 13 3 14-11"/><path stroke-opacity=".4" d="M2483 286l-13-3 14-10 13 3 14-10-13-3 13-10 14 3 13-9-13-3 14-8 13 3 13-8-13-3 13-8 14 3 13-7M2497 289l-14-3 14-10 14 3 13-10-13-3 14-10 13 3 14-9-14-3 14-8 13 3 14-8-14-3 14-8 13 3 14-7M2510 292l-13-3 14-10 13 3 14-10-14-3 14-10 14 3 13-9-13-3 13-8 14 3 13-8-13-3 13-8 14 3 13-7"/><path stroke-opacity=".35" d="M2592 216l-13-3 13-7 13 3 14-6-14-3 13-6 14 3 13-5-14-3 13-5 14 3 13-5-14-3 13-3 14 2 12-3M2606 219l-14-3 13-7 14 3 13-6-13-3 13-6 13 3 13-6-13-2 13-5 13 3 13-5-13-3 13-4 13 3 13-3M2619 222l-13-3 13-7 13 3 14-6-14-3 13-6 14 3 13-5-14-4 13-4 14 3 13-5-14-3 13-4 14 3 12-3"/><path stroke-opacity=".25" d="M2696 175l-13-3 13-3 13 3 13-2-14-3 13-2 13 3 13-2-14-2 13-1 13 2 12 0-13-3 12 0 14 3 12 1M2710 178l-14-3 13-3 13 3 13-3-13-2 12-2 14 2 12-1-13-3 12-1 14 3 12 0-14-3 13 0 13 3 12 0M2723 181l-13-3 12-3 14 3 13-3-14-3 13-2 13 3 13-1-14-3 13-1 13 3 12-1-13-2 12 0 14 2 12 1"/><path stroke-opacity=".15" d="M2796 166l-13-3 12 1 13 3 12 1-13-2 12 2 13 2 12 3-14-2 12 3 13 2 12 4-13-2 11 4 14 2 11 5-13-2M2809 168l-13-2 12 1 13 2 12 2-13-3 12 2 13 3 12 2-13-2 11 3 14 3 12 3-14-2 12 4 13 2 12 5-14-2M2823 171l-14-3 12 1 14 3 12 1-14-2 12 2 14 2 12 3-14-3 12 4 13 2 12 4-13-3 11 4 13 3 12 4-13-2"/>
<g stroke="none"><path fill="#e80300" d="M2806 199l38-7 37-4 36 1 36 5 34 10 12 4-45-8-12-5-35-10-35-6-37-1-37 3-38 8z"/><path fill="#ec0500" d="M2767 211l39-12 4-1-46-10-4 1-38 12z"/><path fill="#f00800" d="M2728 227l39-16 4-1-46-10-3 1-40 16z"/><path fill="#f20b00" d="M2702 241l13-7 13-7 4-1-46-11-4 2-13 6-13 7z"/><path fill="#f40f00" d="M2688 248l14-7 4-2-46-11-4 2-14 7z"/><path fill="#f61200" d="M2661 263l14-8 13-7 4-2-46-11-4 2-13 8-13 8z"/><path fill="#f71900" d="M2648 272l13-9 4-2-45-10-4 2-14 9z"/><path fill="#f92100" d="M2634 281l14-9 4-3-46-10-4 3-14 9z"/><path fill="#fa2800" d="M2620 290l14-9 4-3-46-10-4 3-13 9z"/><path fill="#fc3600" d="M2593 310l14-10 13-10 4-3-45-10-4 3-14 10-14 10z"/><path fill="#fd4400" d="M2579 321l14-11 4-3-46-10-4 3-14 11z"/><path fill="#ff5200" d="M2565 332l14-11 4-3-46-10-4 3-14 11z"/><path fill="#ff6400" d="M2551 344l14-12 4-3-46-10-4 3-14 12z"/><path fill="#ff7600" d="M2522 368l15-13 14-11 4-4-46-10-4 4-14 11-14 13z"/><path fill="#ff8800" d="M2508 380l14-12 5-4-46-10-4 4-14 13z"/><path fill="#ff9500" d="M2494 393l14-13 4-3-45-10-4 4-15 13z"/><path fill="#ffa300" d="M2479 407l15-14 4-3-45-10-5 4-14 13z"/><path fill="#ffb000" d="M2450 435l15-14 14-14 5-4-46-10-4 4-14 14-15 14z"/><path fill="#ffbb00" d="M2436 450l14-15 5-4-46-10-4 4-14 15z"/><path fill="#ffc700" d="M2421 465l15-15 4-5-45-10-4 5-15 15z"/><path fill="#ffd900" d="M2406 480l15-15 5-5-46-10-4 5-15 15z"/><path fill="#ffe800" d="M2392 496l14-16 5-5-45-9-5 4-14 16z"/><path fill="#fbec00" d="M2377 512l15-16 4-5-45-10-4 5-15 16z"/><path fill="#f2f400" d="M2362 528l15-16 4-5-45-10-4 5-15 16z"/></g>
<path stroke-opacity=".5" d="M2294 513l-13-3 15-16 13 3 15-16-14-3 15-16 13 3 15-15-13-3 14-15 14 3 14-15-13-3 14-14 14 3 14-14M2308 516l-14-3 15-16 13 3 15-16-13-3 14-16 14 3 15-15-14-3 15-15 13 3 15-15-14-3 15-14 13 3 14-14M2321 519l-13-3 14-16 14 3 15-16-14-3 15-16 13 3 15-15-13-3 14-15 14 3 14-15-13-3 14-14 14 3 14-14"/><path stroke-opacity=".45" d="M2411 392l-13-3 14-13 13 3 15-14-14-3 14-12 14 3 14-13-14-3 14-12 14 3 14-11-14-3 14-11 14 3 14-11M2424 395l-13-3 14-13 14 3 14-14-13-3 14-12 13 3 14-13-13-3 14-12 14 3 14-11-14-3 14-11 14 3 13-11M2438 398l-14-3 15-13 13 3 15-14-14-3 14-12 14 3 14-13-14-3 15-12 13 3 14-11-13-3 14-11 13 3 14-11"/><path stroke-opacity=".4" d="M2524 295l-14-3 14-10 14 3 13-10-13-3 14-10 13 3 14-9-14-3 14-8 13 3 14-8-14-3 14-8 13 3 14-7M2537 298l-13-3 14-10 13 3 14-10-14-3 14-10 14 4 13-9-13-4 13-8 14 3 13-8-13-3 13-8 14 3 13-7M2551 301l-14-3 14-10 14 3 14-10-14-3 14-9 13 3 14-9-14-3 14-9 14 3 13-8-14-3 14-8 14 3 13-7"/><path stroke-opacity=".35" d="M2633 225l-14-3 13-7 14 3 13-6-13-3 13-6 13 3 13-5-13-3 13-5 13 3 13-5-13-3 13-4 13 3 13-3M2646 228l-13-3 13-7 14 3 13-6-14-3 13-6 14 3 13-5-14-3 13-5 14 3 13-5-14-3 13-4 14 3 13-3M2660 231l-14-3 14-7 13 3 13-6-13-3 13-6 14 3 13-5-14-3 13-5 14 3 13-5-14-3 13-4 13 3 13-3"/><path stroke-opacity=".25" d="M2737 184l-14-3 13-3 14 3 12-3-13-3 12-2 14 3 12-1-13-3 12-1 14 3 12-1-14-3 13 0 13 3 12 1M2751 187l-14-3 13-3 13 3 13-3-14-3 13-2 13 3 13-1-14-3 13-1 13 3 13-1-14-3 12 0 14 3 12 0M2764 190l-13-3 12-3 14 3 13-3-14-3 12-2 14 3 13-1-14-3 12-1 14 3 12-1-13-3 12 0 13 3 13 0"/><path stroke-opacity=".15" d="M2836 174l-13-3 12 1 13 3 12 1-13-3 12 2 13 3 12 2-13-2 11 3 14 2 11 4-13-2 11 4 14 2 11 4-13-2M2850 176l-14-2 12 1 14 2 12 2-14-3 12 2 14 3 12 2-14-3 12 3 13 3 12 3-14-2 12 4 14 2 11 5-14-3M2864 179l-14-3 12 1 14 3 12 1-14-2 12 2 13 2 12 3-13-3 11 3 14 3 12 3-14-3 12 4 13 3 12 4-14-2"/>
<g stroke="none"><path fill="#e80300" d="M2995 203l34 9 12 4-46-9-12-4-34-10z"/><path fill="#e40000" d="M2923 197l36 1 36 5 3 1-46-10-3-1-36-5-36-1z"/><path fill="#e80300" d="M2848 209l38-8 37-4 4 0-47-10-3 0-37 4-38 7z"/><path fill="#ec0500" d="M2797 226l39-14 12-3 4-1-46-11-4 1-13 4-39 13z"/><path fill="#f00800" d="M2771 237l13-6 13-5 4-2-47-10-4 1-13 6-13 6z"/><path fill="#f20b00" d="M2744 250l13-7 14-6 4-2-47-10-4 2-13 6-14 7z"/><path fill="#f40f00" d="M2717 265l14-8 13-7 4-2-47-10-4 2-13 7-13 7z"/><path fill="#f61200" d="M2704 273l13-8 4-3-46-10-4 2-14 9z"/><path fill="#f71900" d="M2690 281l14-8 4-3-47-10-4 3-13 8z"/><path fill="#f92100" d="M2663 299l13-9 14-9 4-2-46-11-4 3-14 9-14 9z"/><path fill="#fa2800" d="M2649 309l14-10 4-2-47-10-4 2-14 10z"/><path fill="#fc3600" d="M2635 319l14-10 4-3-47-10-4 3-14 10z"/><path fill="#fd4400" d="M2621 330l14-11 4-3-46-10-5 3-13 11z"/><path fill="#ff5200" d="M2593 352l14-11 14-11 4-3-46-10-4 3-14 11-15 12z"/><path fill="#ff6400" d="M2579 364l14-12 4-3-46-10-5 4-14 12z"/><path fill="#ff7600" d="M2564 376l15-12 4-3-46-10-5 4-14 12z"/><path fill="#ff8800" d="M2550 389l14-13 5-3-47-10-4 4-14 13z"/><path fill="#ff9500" d="M2521 416l15-14 14-13 4-4-46-9-4 4-14 13-15 13z"/><path fill="#ffa300" d="M2507 430l14-14 5-4-46-10-5 4-14 14z"/><path fill="#ffb000" d="M2492 444l15-14 4-5-46-9-4 4-15 14z"/><path fill="#ffbb00" d="M2478 458l14-14 5-5-46-9-5 4-14 15z"/><path fill="#ffc700" d="M2463 473l15-15 4-4-46-10-4 5-15 15z"/><path fill="#ffd200" d="M2448 489l15-16 4-4-46-10-4 5-15 15z"/><path fill="#ffe100" d="M2433 504l15-15 5-5-46-10-5 5-14 16z"/><path fill="#fbec00" d="M2419 521l14-17 5-4-46-10-4 5-15 16z"/><path fill="#f6f000" d="M2404 537l15-16 4-5-46-10-4 5-15 16z"/></g>
<path stroke-opacity=".5" d="M2335 522l-14-3 15-16 13 3 15-16-13-3 14-16 14 3 15-15-14-3 15-15 13 3 15-15-14-3 15-14 13 3 15-14M2348 525l-13-3 14-16 14 3 15-16-14-3 15-16 14 3 14-15-13-3 14-15 14 3 15-15-14-3 14-14 14 3 14-14M2362 528l-14-3 15-16 14 3 15-16-14-3 15-16 13 3 15-15-14-3 15-15 14 3 14-15-13-3 14-14 14 3 14-14"/><path stroke-opacity=".45" d="M2452 401l-14-3 14-13 14 3 14-14-13-3 14-12 14 3 14-13-14-3 14-12 14 4 14-12-14-3 14-11 14 3 14-11M2465 404l-13-3 14-13 14 3 14-14-14-3 15-12 13 3 15-13-14-3 14-11 14 3 14-12-14-3 14-11 14 3 14-11M2479 407l-14-3 15-13 14 2 14-13-14-3 14-12 14 3 15-13-14-3 14-11 14 3 14-12-14-3 14-11 14 3 14-11"/><path stroke-opacity=".4" d="M2565 304l-14-3 14-10 14 3 14-10-14-3 13-9 14 3 14-9-14-3 14-9 13 3 14-8-14-3 14-8 13 3 14-7M2579 307l-14-3 14-10 14 3 13-10-13-3 13-9 14 3 14-9-14-3 13-9 14 3 14-8-14-3 13-8 14 4 14-8M2593 310l-14-3 14-10 14 3 13-10-14-3 14-9 14 3 14-9-14-3 13-9 14 3 14-8-14-3 13-7 14 3 14-7"/><path stroke-opacity=".35" d="M2674 234l-14-3 13-7 14 3 13-6-14-3 14-6 13 3 14-5-14-3 13-5 14 3 12-4-13-4 12-4 14 4 13-4M2688 237l-14-3 13-7 14 4 13-7-14-3 13-6 14 3 13-5-13-3 13-5 13 3 13-4-14-3 13-4 14 3 13-4M2702 241l-14-4 13-6 14 3 13-7-14-3 13-6 14 4 13-6-14-3 13-5 14 3 13-4-14-3 13-4 14 3 13-4"/><path stroke-opacity=".25" d="M2778 193l-14-3 13-3 14 3 12-3-13-3 12-2 14 3 12-1-13-3 12-1 14 3 12-1-14-3 12 0 14 3 12 0M2792 196l-14-3 13-3 14 3 12-2-14-4 13-2 14 3 12-1-14-3 13-1 14 3 12-1-14-3 12 0 14 3 12 0M2806 199l-14-3 13-3 14 3 12-2-14-3 13-3 14 4 12-2-14-3 13-1 14 3 12-1-14-3 12 0 14 3 12 0"/><path stroke-opacity=".15" d="M2877 182l-13-3 12 1 13 3 12 1-13-3 11 2 14 3 12 2-14-2 12 3 14 2 11 4-13-3 11 4 14 2 11 5-13-3M2891 185l-14-3 12 1 14 3 12 1-14-3 12 2 14 3 12 2-14-3 12 3 14 3 11 3-14-2 12 3 14 3 11 4-14-2M2905 188l-14-3 12 1 14 3 12 1-14-3 12 2 14 3 12 2-14-3 12 3 13 3 12 3-14-3 12 4 13 3 12 4-14-3"/>
<g stroke="none"><path fill="#e80300" d="M3049 214l35 11-47-10-35-10z"/><path fill="#e40000" d="M2954 207l36-1 36 4 23 4 4 1-47-9-4-1-23-5-36-4-36 1z"/><path fill="#e80300" d="M2879 221l38-9 37-5 4 0-48-10-3 0-38 5-38 9z"/><path fill="#ec0500" d="M2840 235l39-14 3-1-47-10-4 1-38 14z"/><path fill="#f00800" d="M2801 252l39-17 4-2-48-10-3 2-40 17z"/><path fill="#f20b00" d="M2774 266l13-7 14-7 3-2-47-10-4 2-13 7-14 7z"/><path fill="#f40f00" d="M2760 273l14-7 4-2-48-10-4 2-13 8z"/><path fill="#f61200" d="M2733 290l14-9 13-8 4-2-47-10-4 3-14 8-13 8z"/><path fill="#f71900" d="M2720 299l13-9 4-3-47-9-4 2-14 9z"/><path fill="#f92100" d="M2706 308l14-9 4-3-48-10-4 3-14 9z"/><path fill="#fa2800" d="M2692 318l14-10 4-3-47-9-5 2-13 10z"/><path fill="#fc3600" d="M2664 338l14-10 14-10 4-3-47-10-4 3-14 10-14 11z"/><path fill="#fd4400" d="M2650 349l14-11 4-3-47-9-4 3-14 11z"/><path fill="#ff5200" d="M2636 361l14-12 4-3-47-9-4 3-14 12z"/><path fill="#ff6400" d="M2622 373l14-12 4-4-47-9-4 4-15 11z"/><path fill="#ff7600" d="M2593 397l14-12 15-12 4-4-47-9-5 3-14 13-14 12z"/><path fill="#ff8800" d="M2579 410l14-13 4-3-47-10-4 4-14 13z"/><path fill="#ff9500" d="M2564 424l15-14 4-3-47-10-4 4-15 14z"/><path fill="#ffa300" d="M2550 438l14-14 5-4-48-9-4 4-14 14z"/><path fill="#ffb000" d="M2520 467l15-15 15-14 4-4-47-9-4 4-15 14-15 15z"/><path fill="#ffbb00" d="M2506 482l14-15 5-5-47-9-5 5-14 14z"/><path fill="#ffc700" d="M2491 497l15-15 4-5-47-9-4 4-15 16z"/><path fill="#ffd900" d="M2476 513l15-16 4-5-47-9-4 5-15 16z"/><path fill="#ffe800" d="M2461 529l15-16 5-5-47-9-5 5-15 16z"/><path fill="#fbec00" d="M2446 545l15-16 5-5-47-9-5 5-15 16z"/></g>
<path stroke-opacity=".5" d="M2376 531l-14-3 15-16 14 3 15-16-14-3 14-16 14 3 15-15-14-3 15-15 14 3 14-15-14-3 15-14 14 3 14-14M2390 534l-14-3 15-16 14 3 14-16-13-3 14-16 14 3 15-16-14-2 15-15 14 3 14-15-14-3 15-14 14 3 14-14M2404 537l-14-3 15-16 14 3 14-17-14-2 15-16 14 3 15-16-14-3 15-14 14 2 14-14-14-3 15-14 14 3 14-14"/><path stroke-opacity=".45" d="M2493 410l-14-3 15-14 14 3 14-13-14-3 14-12 14 3 15-13-14-3 14-11 14 3 14-12-14-3 14-11 14 3 14-11M2507 413l-14-3 15-14 14 3 14-13-14-3 14-12 14 3 15-13-14-3 14-11 14 2 14-11-14-3 14-11 14 3 14-11M2521 416l-14-3 15-14 14 3 14-13-14-3 14-12 14 2 15-12-14-3 14-12 14 3 14-11-14-3 14-11 14 3 14-11"/><path stroke-opacity=".4" d="M2607 313l-14-3 14-10 14 3 13-10-14-3 14-9 14 3 14-9-14-3 13-9 14 4 14-9-14-3 13-7 14 3 14-7M2621 316l-14-3 14-10 14 3 13-10-14-3 14-9 14 3 14-9-14-3 13-8 14 3 14-8-14-4 13-7 14 3 14-7M2635 319l-14-3 14-10 14 3 14-10-15-3 14-9 14 3 14-9-14-3 13-8 15 3 13-8-14-3 13-8 15 3 13-7"/><path stroke-opacity=".35" d="M2716 244l-14-3 13-7 14 3 13-6-14-4 13-5 14 3 13-6-14-3 13-5 14 3 13-4-14-3 13-4 14 3 13-4M2730 247l-14-3 13-7 14 3 13-6-14-3 13-6 14 3 14-6-15-3 13-5 15 4 12-5-14-3 13-4 14 3 13-3M2744 250l-14-3 13-7 14 3 14-6-15-3 13-6 15 3 13-5-14-4 13-4 14 3 13-5-15-3 13-4 15 3 12-3"/><path stroke-opacity=".25" d="M2820 202l-14-3 13-3 14 3 12-2-14-3 13-2 14 3 12-2-14-3 13-1 14 3 12-1-14-3 12 0 14 3 12 0M2834 206l-14-4 13-3 14 4 12-3-14-3 13-2 14 3 12-2-14-3 13-1 14 3 12-1-14-3 12 0 14 3 12 0M2848 209l-14-3 13-3 14 3 13-3-15-3 13-2 14 3 12-2-14-3 13-1 14 3 12-1-14-3 12 0 14 3 12 0"/><path stroke-opacity=".15" d="M2919 191l-14-3 12 1 14 3 12 1-14-3 12 2 14 3 12 2-14-3 11 3 14 3 12 3-14-3 11 4 14 2 12 5-14-3M2933 194l-14-3 12 1 14 3 12 1-14-3 12 2 14 3 12 2-14-3 11 3 14 3 12 3-14-3 11 3 14 3 12 4-14-2M2947 197l-14-3 12 1 14 3 12 1-14-3 12 2 14 3 12 2-14-3 11 3 14 2 12 4-14-3 11 3 14 3 12 4-14-3"/>
<g stroke="none"><path fill="#e80300" d="M3116 229l11 4-48-9-11-4z"/><path fill="#e40000" d="M2973 219l37-4 36 1 35 4 35 9 3 1-48-9-3-1-35-9-35-5-36-1-37 4z"/><path fill="#e80300" d="M2910 234l38-11 25-4 4-1-48-9-4 0-25 5-39 10z"/><path fill="#ec0500" d="M2871 248l39-14 4-1-49-10-4 1-38 15z"/><path fill="#f00800" d="M2844 260l14-6 13-6 4-1-49-10-3 2-14 6-13 6z"/><path fill="#f20b00" d="M2818 274l13-7 13-7 4-2-48-9-4 2-13 7-14 7z"/><path fill="#f40f00" d="M2791 289l13-8 14-7 4-2-48-9-5 2-13 7-13 8z"/><path fill="#f61200" d="M2777 297l14-8 4-2-48-9-4 2-14 9z"/><path fill="#f71900" d="M2750 316l13-10 14-9 4-2-48-9-4 3-14 9-14 9z"/><path fill="#f92100" d="M2736 325l14-9 4-3-48-9-5 3-13 10z"/><path fill="#fa2800" d="M2722 335l14-10 4-3-48-8-4 3-14 10z"/><path fill="#fc3600" d="M2708 346l14-11 4-3-48-8-4 3-14 10z"/><path fill="#fd4400" d="M2694 357l14-11 4-3-48-9-4 3-14 11z"/><path fill="#ff5200" d="M2666 380l14-12 14-11 4-3-48-9-4 3-14 12-15 12z"/><path fill="#ff6400" d="M2651 392l15-12 4-4-48-8-5 4-14 12z"/><path fill="#ff7600" d="M2637 405l14-13 5-3-49-9-4 4-14 13z"/><path fill="#ff8800" d="M2608 431l14-13 15-13 4-4-48-8-4 4-15 13-14 13z"/><path fill="#ff9500" d="M2593 445l15-14 4-4-48-8-4 4-15 14z"/><path fill="#ffa300" d="M2579 459l14-14 5-4-48-8-5 4-14 14z"/><path fill="#ffb000" d="M2564 474l15-15 4-4-48-8-4 4-15 15z"/><path fill="#ffbb00" d="M2549 489l15-15 4-4-47-9-5 5-15 15z"/><path fill="#ffc700" d="M2534 505l15-16 5-4-48-9-5 5-14 15z"/><path fill="#ffd200" d="M2519 520l15-15 5-5-48-8-4 4-15 16z"/><path fill="#ffd900" d="M2504 537l15-17 5-4-48-9-4 5-15 16z"/><path fill="#ffe800" d="M2489 553l15-16 5-5-48-9-4 5-15 17z"/></g>
<path stroke-opacity=".5" d="M2418 540l-14-3 15-16 14 2 15-16-15-3 15-15 14 3 15-16-14-3 15-15 14 3 15-14-15-3 15-14 14 2 15-14M2432 543l-14-3 15-17 14 3 15-16-14-3 14-15 15 2 14-15-14-3 15-15 14 3 15-15-14-2 14-15 14 3 15-14M2446 545l-14-2 15-17 14 3 15-16-14-3 15-16 14 3 15-15-15-3 15-15 14 3 15-15-14-3 14-14 15 3 14-14"/><path stroke-opacity=".45" d="M2536 418l-15-2 15-14 14 3 14-13-14-3 14-13 15 3 14-12-14-3 14-12 14 3 14-11-14-3 14-11 14 3 14-11M2550 421l-14-3 14-13 14 3 15-13-15-3 15-13 14 3 14-12-14-3 14-12 14 3 15-11-15-3 14-11 15 3 14-11M2564 424l-14-3 14-13 15 2 14-13-14-2 14-13 14 3 15-12-15-3 14-12 15 3 14-12-14-2 14-11 14 2 14-10"/><path stroke-opacity=".4" d="M2649 322l-14-3 14-10 14 3 14-10-14-3 13-9 15 3 13-9-14-3 14-8 14 3 14-9-15-2 14-8 14 3 13-7M2664 325l-15-3 14-10 15 3 13-10-14-3 14-9 14 3 14-9-15-3 14-8 14 2 14-8-14-3 13-7 14 3 14-7M2678 328l-14-3 14-10 14 3 14-10-15-3 14-9 15 3 13-9-14-3 13-9 15 3 13-8-14-3 13-7 15 3 13-7"/><path stroke-opacity=".35" d="M2758 253l-14-3 13-7 15 3 13-6-14-3 13-6 14 3 13-5-14-3 13-5 14 3 13-5-14-3 13-4 14 3 13-3M2773 256l-15-3 14-7 14 3 13-6-14-3 13-6 14 3 13-5-14-3 13-5 14 3 13-5-14-3 13-4 14 3 13-3M2787 259l-14-3 13-7 15 3 13-6-15-3 13-6 15 3 13-5-15-3 13-5 15 3 13-5-15-3 13-4 15 3 12-3"/><path stroke-opacity=".25" d="M2863 212l-15-3 13-3 14 3 13-3-14-3 12-2 14 3 13-2-15-3 13-1 14 3 12-1-14-3 12 0 14 3 13 0M2877 215l-14-3 12-3 15 3 12-3-14-3 12-2 15 3 12-2-14-3 12-1 14 3 13-1-15-3 12 0 15 3 12 0M2891 218l-14-3 13-3 14 3 13-3-15-3 13-2 14 3 13-2-15-3 12-1 15 3 12-1-14-3 12 0 14 3 12 0"/><path stroke-opacity=".15" d="M2962 200l-15-3 12 1 15 3 11 1-14-3 12 2 14 3 12 2-14-3 11 2 15 3 11 3-14-2 11 3 15 3 11 4-14-3M2976 203l-14-3 12 1 14 3 12 1-15-3 12 2 15 3 11 2-14-3 12 2 14 3 11 3-14-3 12 4 14 3 11 4-14-3M2990 206l-14-3 12 1 14 3 12 1-14-3 12 2 14 3 12 2-15-3 12 2 14 3 12 3-15-3 12 4 14 3 12 4-15-3"/>
<g stroke="none"><path fill="#e40000" d="M3005 229l37-5 36-1 36 3 34 8 23 7-48-9-23-7-35-8-35-3-37 1-37 5z"/><path fill="#e80300" d="M2942 246l38-12 25-5 4-1-49-9-4 1-25 5-39 12z"/><path fill="#ec0500" d="M2902 261l40-15 3-2-49-8-4 1-39 16z"/><path fill="#f00800" d="M2876 274l13-7 13-6 4-2-49-8-4 2-13 6-13 7z"/><path fill="#f20b00" d="M2849 288l14-7 13-7 4-2-49-8-4 2-14 7-13 7z"/><path fill="#f40f00" d="M2822 304l14-8 13-8 4-2-49-8-4 2-14 8-13 9z"/><path fill="#f61200" d="M2808 313l14-9 4-2-49-8-4 3-14 9z"/><path fill="#f71900" d="M2794 322l14-9 4-3-49-7-4 3-14 9z"/><path fill="#f92100" d="M2767 342l14-10 13-10 5-3-50-7-4 3-14 9-13 11z"/><path fill="#fa2800" d="M2753 352l14-10 4-3-49-7-4 3-14 10z"/><path fill="#fc3600" d="M2739 363l14-11 4-3-49-7-4 3-15 11z"/><path fill="#fd4400" d="M2724 375l15-12 4-3-49-7-5 3-14 11z"/><path fill="#ff5200" d="M2710 386l14-11 5-4-49-7-5 3-14 12z"/><path fill="#ff6400" d="M2681 411l15-12 14-13 4-3-49-7-4 3-14 12-15 13z"/><path fill="#ff7600" d="M2667 424l14-13 5-4-49-7-5 4-14 13z"/><path fill="#ff8800" d="M2652 438l15-14 4-4-49-7-4 4-14 14z"/><path fill="#ff9500" d="M2623 466l15-14 14-14 5-4-49-7-4 4-15 13-15 15z"/><path fill="#ffa300" d="M2608 481l15-15 5-4-49-8-5 5-14 14z"/><path fill="#ffb000" d="M2594 496l14-15 5-5-49-7-4 4-15 15z"/><path fill="#ffbb00" d="M2579 511l15-15 4-5-49-7-4 4-15 16z"/><path fill="#ffc700" d="M2564 527l15-16 4-5-49-7-4 5-15 16z"/><path fill="#ffd200" d="M2549 543l15-16 4-5-48-7-5 5-15 16z"/><path fill="#ffe100" d="M2534 560l15-17 4-5-48-7-5 5-15 16z"/></g>
<path stroke-opacity=".5" d="M2460 548l-14-3 15-16 14 3 15-17-14-2 15-16 14 3 15-16-14-2 14-15 15 2 15-14-15-3 15-14 14 2 15-14M2475 551l-15-3 15-16 15 2 15-16-15-3 15-15 15 2 15-15-15-3 15-15 14 3 15-15-14-2 14-15 15 3 14-14M2489 553l-14-2 15-17 14 3 15-17-14-2 15-16 14 3 15-16-14-2 14-15 15 2 15-15-15-2 15-14 14 2 15-14"/><path stroke-opacity=".45" d="M2579 426l-15-2 15-14 14 3 15-13-15-3 14-12 15 2 14-12-14-2 14-12 14 2 15-11-15-3 14-11 15 3 14-11M2593 429l-14-3 14-13 15 2 14-13-14-2 14-13 15 3 14-12-15-3 14-12 15 3 14-12-14-2 14-11 14 2 14-10M2608 431l-15-2 15-14 14 3 15-13-15-3 15-12 14 2 15-12-15-2 14-12 15 2 14-11-15-3 14-11 15 3 14-11"/><path stroke-opacity=".4" d="M2693 330l-15-2 14-10 15 2 13-10-14-2 14-9 14 2 14-9-15-2 14-9 14 3 14-8-15-3 14-7 14 2 14-7M2707 333l-14-3 14-10 14 3 14-10-15-3 14-9 15 3 13-9-14-3 13-8 15 3 14-8-15-3 13-8 15 3 13-7M2722 335l-15-2 14-10 15 2 14-9-15-3 14-9 14 2 14-9-15-2 14-8 15 2 13-8-14-2 13-8 15 3 13-7"/><path stroke-opacity=".35" d="M2802 261l-15-2 14-7 14 3 13-7-14-2 13-6 14 3 14-6-15-2 13-5 14 3 13-5-14-3 13-4 14 3 13-3M2816 264l-14-3 13-6 15 2 13-6-15-3 13-5 15 2 13-5-14-3 12-4 15 2 13-4-15-3 13-4 15 3 13-3M2831 267l-15-3 14-7 14 3 14-6-15-3 13-6 15 3 13-5-15-3 13-5 15 3 13-4-15-3 13-4 15 3 12-4"/><path stroke-opacity=".25" d="M2906 221l-15-3 13-3 15 3 12-3-14-3 12-2 15 3 12-2-14-3 12-1 14 3 13-1-15-3 12 0 15 3 12 0M2921 224l-15-3 13-3 14 2 13-2-15-3 13-2 14 3 13-2-15-3 12-1 15 3 12-1-14-3 12 0 14 3 12 0M2935 226l-14-2 12-4 15 3 12-2-14-3 12-2 15 3 12-2-14-3 12-1 15 3 12-1-15-3 12 0 15 3 12 0"/><path stroke-opacity=".15" d="M3005 209l-15-3 12 1 15 3 12 1-15-3 12 2 14 3 12 2-14-3 11 2 15 3 11 3-14-3 11 4 15 2 11 4-14-2M3019 212l-14-3 12 1 14 3 12 1-14-3 11 2 15 2 12 2-15-2 12 2 14 3 12 3-15-3 12 3 14 3 11 4-14-3M3034 215l-15-3 12 1 15 3 12 1-15-3 12 1 14 3 12 2-14-3 11 3 15 3 11 3-14-3 11 3 15 3 11 4-15-3"/>
<g stroke="none"><path fill="#e40000" d="M3026 241l37-8 37-3 36 1 35 5 34 9 11 4-49-9-12-4-34-8-35-5-36-1-37 4-37 7z"/><path fill="#e80300" d="M2974 256l39-12 13-3 3-1-50-8-3 1-13 4-39 13z"/><path fill="#ec0500" d="M2935 273l39-17 4-1-50-7-4 2-39 17z"/><path fill="#f00800" d="M2895 294l40-21 4-2-50-6-4 2-40 20z"/><path fill="#f20b00" d="M2881 302l14-8 4-2-50-7-4 2-14 8z"/><path fill="#f40f00" d="M2854 318l14-8 13-8 4-3-50-6-4 2-14 9-13 8z"/><path fill="#f61200" d="M2840 327l14-9 4-2-50-6-4 2-14 10z"/><path fill="#f71900" d="M2826 337l14-10 4-2-50-6-4 3-14 9z"/><path fill="#f92100" d="M2798 357l14-10 14-10 4-3-50-6-4 3-14 10-14 11z"/><path fill="#fa2800" d="M2784 368l14-11 5-3-51-5-4 3-14 11z"/><path fill="#fc3600" d="M2770 380l14-12 4-3-50-6-4 4-14 11z"/><path fill="#fd4400" d="M2756 391l14-11 4-4-50-5-4 3-14 12z"/><path fill="#ff5200" d="M2741 404l15-13 4-3-50-6-4 4-15 12z"/><path fill="#ff6400" d="M2712 429l15-13 14-12 5-4-50-6-5 4-14 13-14 13z"/><path fill="#ff7600" d="M2698 443l14-14 5-4-50-5-4 4-15 13z"/><path fill="#ff8800" d="M2683 457l15-14 4-4-50-6-4 4-15 14z"/><path fill="#ff9500" d="M2669 471l14-14 5-5-50-5-5 4-14 14z"/><path fill="#ffa300" d="M2639 501l15-15 15-15 4-4-50-6-4 4-15 15-15 15z"/><path fill="#ffb000" d="M2624 516l15-15 4-5-49-6-5 5-15 16z"/><path fill="#ffbb00" d="M2609 532l15-16 4-4-49-6-5 5-15 15z"/><path fill="#ffc700" d="M2594 549l15-17 4-4-49-6-5 4-15 17z"/><path fill="#ffd200" d="M2579 566l15-17 4-5-49-6-5 5-15 16z"/></g>
<path stroke-opacity=".5" d="M2504 556l-15-3 15-16 15 2 15-16-15-3 15-15 15 2 15-16-15-2 15-15 15 2 14-14-14-3 14-14 15 2 15-13M2519 558l-15-2 15-17 15 2 15-16-15-2 15-16 15 2 15-15-15-3 15-15 15 3 14-15-15-2 15-15 15 3 15-14M2534 560l-15-2 15-17 15 2 15-16-15-2 15-16 15 2 15-15-15-2 15-15 14 2 15-15-15-2 15-14 15 2 14-14"/><path stroke-opacity=".45" d="M2623 434l-15-3 14-13 15 2 15-13-15-2 14-13 15 2 14-12-14-2 14-12 15 2 14-11-15-2 14-11 15 2 14-10M2638 436l-15-2 14-14 15 2 15-13-15-2 14-13 15 3 14-13-15-2 15-12 14 3 15-12-15-2 14-11 15 2 14-10M2652 438l-14-2 14-14 15 2 14-13-14-2 14-12 15 2 14-13-15-2 14-11 15 2 15-12-15-2 14-11 15 2 14-10"/><path stroke-opacity=".4" d="M2737 338l-15-3 14-10 15 3 14-10-15-2 13-10 15 3 14-9-15-3 14-8 15 3 13-8-15-3 14-7 15 2 13-7M2752 340l-15-2 14-10 15 2 13-10-14-2 13-9 15 2 14-9-15-2 14-8 15 2 13-8-15-2 14-8 15 2 13-7M2767 342l-15-2 14-10 15 2 13-10-15-2 14-9 15 2 14-9-15-2 14-8 15 2 13-8-15-2 14-8 15 3 13-7"/><path stroke-opacity=".35" d="M2846 269l-15-2 13-7 15 3 14-7-15-2 13-6 15 3 13-6-15-2 13-5 15 3 13-5-15-2 13-4 14 2 13-3M2861 271l-15-2 13-6 15 2 13-6-14-3 13-5 15 2 13-5-15-3 13-4 15 2 13-4-15-3 12-4 15 3 13-3M2876 274l-15-3 13-6 15 2 13-6-15-2 14-6 15 2 13-5-15-2 13-5 15 3 13-5-15-2 12-4 15 2 13-3"/><path stroke-opacity=".25" d="M2950 229l-15-3 13-3 15 3 12-3-15-2 13-2 15 2 12-1-15-3 13-1 14 3 13-1-15-3 12 0 15 3 12 0M2965 232l-15-3 13-3 15 3 12-3-15-3 13-2 15 3 12-2-15-2 12-1 15 2 12-1-14-2 12 0 15 2 12 0M2980 234l-15-2 13-3 15 2 12-2-15-3 13-2 15 3 12-2-15-3 12-1 15 3 12-1-15-3 13 0 14 3 12 0"/><path stroke-opacity=".15" d="M3049 218l-15-3 12 1 15 2 11 1-14-2 11 1 15 3 12 2-15-3 12 3 14 3 12 2-15-2 12 3 14 3 12 4-15-3M3064 220l-15-2 12 0 14 3 12 1-15-3 12 2 15 3 12 2-15-3 11 3 15 2 12 3-15-3 11 4 15 3 11 3-14-2M3078 223l-14-3 11 1 15 3 12 1-15-3 12 2 15 2 11 2-14-2 11 2 15 3 11 3-14-3 11 4 15 2 11 4-15-3"/>
<path stroke-opacity=".5" d="M2549 562l-15-2 15-17 15 2 15-16-15-2 15-16 15 2 15-15-15-2 14-15 15 1 15-14-15-2 15-14 15 1 15-13M2564 564l-15-2 15-17 15 2 15-16-15-2 15-16 15 2 15-16-15-1 14-16 16 2 14-15-15-1 15-15 15 2 15-14M2579 566l-15-2 15-17 15 2 15-17-15-1 15-16 15 1 15-15-15-2 15-15 15 2 15-15-16-2 15-14 15 2 15-14"/><path stroke-opacity=".45" d="M2668 440l-16-2 15-14 15 2 15-13-16-2 15-12 15 1 14-12-15-2 14-11 16 1 14-11-15-2 14-11 15 2 14-10M2683 441l-15-1 14-14 15 2 15-13-15-2 14-13 15 2 14-12-15-2 15-12 15 2 14-11-15-2 14-11 15 2 14-11M2698 443l-15-2 14-13 15 1 15-13-15-1 14-13 15 2 15-13-16-1 15-12 15 2 14-12-15-1 14-11 15 1 14-10"/><path stroke-opacity=".4" d="M2782 344l-15-2 14-10 15 2 14-10-16-2 14-9 15 2 14-9-15-2 14-8 15 2 13-8-15-2 14-7 15 2 13-7M2797 345l-15-1 14-10 15 1 14-9-15-2 13-9 16 2 13-9-15-2 14-8 15 2 14-8-16-2 14-7 15 2 13-7M2812 347l-15-2 14-10 15 2 14-10-15-1 14-9 15 1 14-8-16-2 14-8 15 2 14-8-15-2 13-7 15 1 14-6"/><path stroke-opacity=".35" d="M2891 276l-15-2 13-7 15 2 14-6-16-2 14-6 15 3 13-6-15-2 13-4 15 2 13-4-15-3 12-4 15 3 13-4M2906 278l-15-2 13-7 16 2 13-6-15-2 13-5 15 2 13-5-15-3 13-4 15 2 13-4-15-2 12-4 16 2 12-3M2922 280l-16-2 14-7 15 2 13-6-15-2 13-5 15 2 13-6-15-1 13-5 15 2 13-4-15-2 13-4 15 2 13-3"/><path stroke-opacity=".25" d="M2995 236l-15-2 13-3 15 2 12-2-15-2 13-2 15 2 12-2-15-2 12-1 15 2 12 0-15-3 12 0 15 2 12 1M3010 239l-15-3 13-3 15 3 12-3-15-2 13-2 15 2 12-1-15-3 12-1 15 3 13-1-16-2 12-1 16 3 12 0M3026 241l-16-2 13-3 15 2 13-3-16-2 13-2 15 2 12-1-15-2 12-1 16 2 12-1-15-2 12 0 15 2 12 0"/><path stroke-opacity=".15" d="M3093 226l-15-3 12 1 15 2 12 1-15-2 12 1 15 3 11 2-15-3 12 3 15 2 11 3-15-2 12 3 15 3 11 4-15-3M3109 228l-16-2 12 0 15 3 12 1-15-3 12 2 15 2 11 2-15-2 12 2 15 3 11 3-15-3 12 4 15 2 11 4-15-2M3124 230l-15-2 11 1 16 2 11 1-15-2 12 1 15 3 12 2-16-3 12 3 15 2 11 3-15-2 12 3 15 3 11 4-15-3"/>
<path d="M3159 234l-15-3M3144 231l-15-2M3129 229l-15-3M3114 226l11 2M3125 228l-14-2M3111 226l-15-3M3096 223l-15-3M3081 220l-14-3M3067 217l-15-2M3052 215l-14-3M3038 212l-15-3M3023 209l-14-3M3009 206l-14-3M2995 203l-14-3M2981 200l-14-3M2967 197l-14-3M2953 194l-14-3M2939 191l-14-3M2925 188l-14-2M2899 183l12 3M2899 183l-13-2M2886 181l-14-3M2872 178l-13-3M2859 175l-14-2M2845 173l-13-3M2820 168l12 2M2820 168l-13-2M2807 166l-14-2M2793 164l-13-2M2780 162l-13-2M2755 158l12 2M2755 158l-13-2M2742 156l-13-2M2729 154l-13-2M2704 151l12 1M2704 151l-13-2M2691 149l-13-1M2678 148l-12-2M2654 145l12 1M2654 145l-13-1M2641 144l-13-1M2616 142l12 1M2616 142l-12-1M2604 141l-13-1M2579 140l12 0M2579 140l-13-1M2566 139l-12 0M2554 139l-12 0M2530 139l12 0M2530 139l-13 0M2517 139l-12 0M2493 139l12 0M2493 139l-12 0M2481 139l-12 1M2456 141l13-1M2456 141l-12 0M2444 141l-11 1M2420 143l13-1M2420 143l-12 1M2408 144l-11 2" stroke-opacity="0.75" stroke-width="6.5" stroke-linecap="round"/>
<path d="M2579 566l15-17 15-17 15-16 15-15 15-15 15-15 14-14 15-14 14-14 15-13 14-12 15-13 14-11 14-12 14-11 14-10 14-10 14-10 14-9 14-8 13-8 14-8 13-8 14-6 13-7 13-6 13-5 13-6 13-4 13-4 13-4 13-3 12-3 13-3 12-2 12-1 13-1 12-1 12 0 12 0 12 1 11 1 12 2 12 2 11 2 11 3 12 4 11 4M2579 566l-15-2-15-2-15-2-15-2-15-2-15-3-14-2-15-3-14-3-14-2-14-3-14-3-14-3-14-3-14-3-14-3-13-3-14-3-13-3-14-3-13-3-13-3-13-2-13-3-13-3-13-3-13-2-13-3-12-2-13-2-12-3-13-2-12-2-12-1-13-2-12-1-12-2-12-1-11-1-12-1-12 0-12-1-11 0-11 0-12 0-11 1-11 0-11 1" stroke-opacity="0.8" stroke-width="4"/>
</g>
<circle cx="515.2" cy="41.8" r="1.8" fill="#b8acb0" stroke="#7a5a60" stroke-width=".5"/>
<text transform="translate(384.3 34.9) scale(1 0.86)" font-size="11.8" text-anchor="end">99</text>
<text transform="translate(384.6 67.7) scale(1 0.86)" font-size="11.8" text-anchor="end">95</text>
<text transform="translate(385.3 99.4) scale(1 0.86)" font-size="11.8" text-anchor="end">90</text>
<text transform="translate(388.4 132.3) scale(1 0.86)" font-size="11.8" text-anchor="end">85</text>
<text transform="translate(388.9 163.3) scale(1 0.86)" font-size="11.8" text-anchor="end">80</text>
<text transform="translate(384.8 211.1) scale(1 0.86)" font-size="11.8" text-anchor="middle">35</text>
<text transform="translate(407.8 227.2) scale(1 0.86)" font-size="11.8" text-anchor="middle">32.5</text>
<text transform="translate(443.1 239.8) scale(1 0.86)" font-size="11.8" text-anchor="middle">30</text>
<text transform="translate(470 254.4) scale(1 0.86)" font-size="11.8" text-anchor="middle">27.5</text>
<text transform="translate(504.5 269.5) scale(1 0.86)" font-size="11.8" text-anchor="middle">25</text>
<text transform="translate(528.3 273.6) scale(1 0.86)" font-size="11.8" text-anchor="middle">1.5</text>
<text transform="translate(550.7 258.1) scale(1 0.86)" font-size="11.8" text-anchor="middle">2</text>
<text transform="translate(585.7 242.1) scale(1 0.86)" font-size="11.8" text-anchor="middle">2.5</text>
<text transform="translate(612.6 226.6) scale(1 0.86)" font-size="11.8" text-anchor="middle">3</text>
<text transform="translate(642.7 214.3) scale(1 0.86)" font-size="11.8" text-anchor="middle">3.5</text>
<text transform="translate(440.2 137.4)" font-size="18.6" text-anchor="middle">(b)</text>
<text transform="translate(349.1 114.4) rotate(-90)" font-size="12.8" text-anchor="middle">Biodiesel yield (%)</text>
<text transform="translate(425.7 271.8) rotate(26.7) skewX(-7) scale(0.94 1)" font-size="12.4" text-anchor="middle">C: Ultrasonic time (min)</text>
<text transform="translate(611.6 266.6) rotate(-29.2) scale(0.94 1)" font-size="12.4" text-anchor="middle">A: Nanocatalyst dosage (wt.%)</text>
</g>
<g id="p_c">
<polygon points="181,634.8 306.3,572.5 180.6,524.2 55,572.4" fill="#ffff00"/>
<path d="M118.9 547.9 118.6 549.1 118.5 550.4 118.4 551.5 118.4 552.7 118.4 553.8 118.6 555 118.8 556.1 119.2 557.6 119.7 559.2 120.1 560.3 120.6 561.4 121.3 562.6 122.3 564.4 123 565.3 123.9 566.6 125.2 568.2 126 569.1 127.8 571 128.8 571.8 130.8 573.6 132.2 574.6 134.2 576.1 136.7 577.7 139.4 579.3 140.8 580.1 143.8 581.5 147 582.9 148.7 583.6 152.2 584.8 156 586 158.5 586.7 162.3 587.5 164.6 587.9 169.3 588.6 172.2 588.9 175 589.1 178.1 589.2 181.5 589.1 185.2 588.9 188.6 588.5 191 588.2 195.4 587.2 197.4 586.7 201.1 585.5 204.5 584.1 207.5 582.6 210.3 581.1 212.8 579.4 214 578.6 216.2 576.8 217.5 575.8 219.3 574.1 220.3 573 222 571.3 222.8 570.4 224.3 568.5 225.1 567.5 225.9 566.3 227.1 564.5 227.8 563.6 228.4 562.5 229.5 560.6 230 559.6 230.5 558.5 231.2 557.2 231.9 555.6 232.3 554.5 232.7 553.4 233.1 552.4 233.5 550.9 233.9 549.5 234.2 548.2 234.4 547.1 234.5 546.1 234.6 545" fill="none" stroke="#ff6a00" stroke-opacity=".75" stroke-width="0.5"/>
<path d="M95.7 556.8 95.9 558 96.1 559.5 96.5 561.1 96.8 562.3 97.1 563.3 97.5 564.4 98.2 566.1 98.8 567.6 99.3 568.6 100 569.9 101 571.6 101.6 572.7 102.6 574.1 103.7 575.6 104.5 576.6 106.1 578.5 106.9 579.5 108.7 581.4 109.7 582.3 111.7 584.2 112.7 585.1 114.9 586.9 116.9 588.5 118.4 589.6 120.9 591.3 123.5 593 125.5 594.2 127.7 595.5 130.6 597.1 133.7 598.6 137 600.1 140.4 601.6 143 602.7 145.8 603.7 149.6 605 153.6 606.3 155.7 606.9 160 608 162.2 608.6 166.8 609.6 169.2 610 173.6 610.8 177 611.2 179.7 611.6 182.7 611.9 186.7 612.1 190.5 612.3 193.9 612.3 197.2 612.2 200.2 612 203.3 611.7 208.1 611.1 210.8 610.6 214.1 609.9 217.4 608.9 221.3 607.6 224.7 606.1 227.9 604.5 230.8 602.8 233.4 601 235.3 599.5 236.9 598.2 239 596.2 240 595.2 241.8 593.2 242.7 592.1 244 590.5 245.1 589 245.9 588 247.3 585.8 248 584.8 248.7 583.5 249.9 581.6 250.5 580.5 251.1 579.3 252.1 577.3 252.7 576.2 253.2 575.1 254 573.5 254.7 571.9 255.2 570.9 255.7 569.8 256.5 568 257 566.6 257.5 565.6 257.9 564.4 258.6 562.7 259.1 561.4 259.5 560.4 259.9 559.3 260.5 557.6 261 556.3 261.3 555.2" fill="none" stroke="#ffb000" stroke-opacity=".75" stroke-width="0.4"/>
<path d="M274 588.6 274.6 586.7 275 585.3 275.3 584.1 275.7 582.9 276.2 581.1 276.7 579.5 277 578.3 277.4 577.2 277.8 575.7 278.3 573.9 278.7 572.7 279 571.6 279.4 570.4 279.9 568.6 280.3 567.3 280.6 566.2 280.9 565.1 281.5 563.5" fill="none" stroke="#f4ec00" stroke-opacity=".75" stroke-width="0.35"/>
<path d="M161 624.9 164 625.7 168.3 626.8 171.1 627.4 174.8 628.2 178.5 628.9 181.1 629.4 186 630.2 189.3 630.7" fill="none" stroke="#f4ec00" stroke-opacity=".75" stroke-width="0.35"/>
<path d="M79.6 563 79.9 564.1 80.1 565.1 80.5 566.6 81 568.3 81.4 569.5 81.9 570.5 82.5 572 83.2 573.7 83.8 574.7 84.4 576 85.5 577.8 86.1 578.9 87 580.3 88.2 581.9 88.9 582.9 90.4 584.9 91.3 585.9 93 587.9 93.9 588.9 95.7 590.8 96.7 591.8 98.7 593.7" fill="none" stroke="#f4ec00" stroke-opacity=".75" stroke-width="0.35"/>
<path d="M298.1 576.6 298.5 574.8 298.8 573.2 299 572.1 299.2 571" fill="none" stroke="#a8f000" stroke-opacity=".75" stroke-width="0.45"/>
<path d="M66.5 568 66.8 569.1 67.2 570.7 67.7 572.4 68.1 573.4 68.5 574.5 69.2 576.3 69.8 577.7 70.3 578.8 71.1 580.3" fill="none" stroke="#a8f000" stroke-opacity=".75" stroke-width="0.45"/>
<path d="M55 572.4L47.1 397.3M47.1 397.3L180.9 367.4M180.9 367.4L314.8 397.8M314.8 397.8L306.3 572.5M180.9 367.4L180.6 524.2" fill="none" stroke="#000" stroke-opacity=".75" stroke-width=".6"/>
<path d="M181 634.8L179.3 633.9M215.6 617.6L213.9 616.8M247.9 601.5L246.2 600.8M278.1 586.5L276.4 585.8M306.3 572.5L304.6 571.9M181 634.8L182.7 633.9M146.2 617.5L147.9 616.8M113.8 601.5L115.5 600.7M83.4 586.5L85.1 585.8M55 572.4L56.7 571.7" fill="none" stroke="#000" stroke-opacity=".6" stroke-width=".7"/>
<g transform="scale(.2)" fill="none" stroke="#000" stroke-opacity="0.6" stroke-width="3" stroke-linejoin="round">
<path d="M254 2399l14-27 15-26 14-25 14-24 15-23 14-23 14-22 14-21 15-20 14-19 14-19 14-18 14-17 15-16 14-16 14-15 14-14 14-14 14-13 13-12 14-12 14-11 14-10 14-10 13-9 14-9 13-8 14-7 13-7 14-6 13-6 13-5 14-5 13-5 13-3 13-4 13-3 13-2 13-2 12-2 13-1 13-1 12-1 13 0 12 0 13 1 12 1 12 1M1556 2351l-14-19-15-19-14-18-15-18-14-18-15-17-14-17-15-17-14-16-14-16-15-15-14-16-14-15-14-14-14-14-14-14-14-13-14-13-14-13-14-12-14-12-14-11-13-11-14-10-14-10-13-10-14-9-13-8-14-8-13-8-13-7-14-7-13-6-13-6-13-5-13-5-13-4-13-4-13-3-13-2-12-2-13-2-13-1-12-1-13 1-12 0-12 1-13 2" stroke-opacity="0.8" stroke-width="6"/>
<g stroke="none"><path fill="#f72a00" d="M917 1884l12 0 12 2-37 3-12-1-12-1z"/><path fill="#f52200" d="M879 1883l38 1 3 0-37 3-3 0-38-1z"/><path fill="#f21a00" d="M751 1904l39-10 39-7 38-4 12 0 4 0-37 3-4 0-12 1-38 4-39 7-39 12z"/><path fill="#f52200" d="M711 1919l40-15 3-1-36 6-4 1-40 16z"/><path fill="#f72a00" d="M697 1925l14-6 4-1-37 6-4 2-14 6z"/><path fill="#fa3200" d="M670 1939l14-7 13-7 4-2-37 7-4 2-13 7-14 7z"/><path fill="#fc3f00" d="M657 1946l13-7 4-2-37 7-4 2-13 8z"/><path fill="#fd4b00" d="M643 1954l14-8 4-2-37 8-4 2-14 9z"/><path fill="#ff5800" d="M615 1972l14-9 14-9 4-2-37 8-4 3-13 9-14 10z"/><path fill="#ff6500" d="M602 1982l13-10 5-3-37 10-4 3-14 10z"/><path fill="#ff7300" d="M588 1993l14-11 4-3-37 10-4 3-14 11z"/><path fill="#ff8000" d="M574 2004l14-11 4-4-37 11-4 3-14 12z"/><path fill="#ff8d00" d="M560 2015l14-11 4-4-36 12-5 3-13 12z"/><path fill="#ff9b00" d="M546 2028l14-13 4-3-36 12-4 3-14 13z"/><path fill="#ffa800" d="M532 2041l14-13 4-4-36 12-4 4-14 14z"/><path fill="#ffb500" d="M518 2054l14-13 4-4-36 13-4 4-14 14z"/><path fill="#ffd000" d="M504 2069l14-15 4-4-36 14-4 4-14 15z"/><path fill="#ffdb00" d="M489 2084l15-15 4-5-36 15-4 4-14 16z"/><path fill="#ffe500" d="M475 2099l14-15 5-5-36 15-4 5-15 16z"/><path fill="#f2f300" d="M461 2116l14-17 4-4-35 15-5 5-14 17z"/><path fill="#e5f700" d="M447 2133l14-17 4-5-35 16-5 5-14 18z"/><path fill="#d8fa00" d="M432 2151l15-18 4-5-36 17-4 5-14 19z"/><path fill="#b6f500" d="M418 2169l14-18 5-6-36 18-4 6-14 19z"/><path fill="#9def00" d="M404 2189l14-20 4-5-35 18-4 6-15 20z"/><path fill="#94eb00" d="M389 2209l15-20 4-6-35 19-5 6-14 21z"/><path fill="#8ce800" d="M375 2230l14-21 5-6-36 20-4 6-14 22z"/><path fill="#78e400" d="M360 2252l15-22 4-6-35 21-4 6-14 23z"/><path fill="#6ee200" d="M346 2274l14-22 5-7-35 22-4 7-15 23z"/><path fill="#64df00" d="M331 2298l15-24 4-6-34 22-5 7-14 24z"/><path fill="#5fde00" d="M317 2322l14-24 5-7-35 23-4 7-14 25z"/><path fill="#57dc00" d="M303 2347l14-25 4-7-34 24-4 7-15 26z"/><path fill="#4ed900" d="M288 2373l15-26 4-8-34 25-5 8-14 27z"/></g>
<g stroke="none"><path fill="#f52200" d="M954 1885l13 1 12 1-41-1-13-1-12-1z"/><path fill="#f21a00" d="M930 1884l12 0 12 1 4 0-41-1-4 0-12-1-13 0z"/><path fill="#ef1400" d="M892 1885l38-1 3 0-41-1-4 0-38 1z"/><path fill="#ed0e00" d="M775 1908l39-12 39-7 39-4 4 0-42-1-4 0-38 5-39 8-39 12z"/><path fill="#ef1400" d="M748 1917l14-5 13-4 4-2-41 2-4 1-14 5-13 6z"/><path fill="#f21a00" d="M721 1929l14-6 13-6 4-1-41 2-4 2-14 6-13 6z"/><path fill="#f52200" d="M694 1942l14-7 13-6 4-2-41 3-4 2-14 7-13 8z"/><path fill="#f72a00" d="M680 1950l14-8 4-2-41 5-4 2-14 8z"/><path fill="#fa3200" d="M666 1958l14-8 4-2-41 5-4 2-14 9z"/><path fill="#fc3f00" d="M653 1967l13-9 5-2-41 5-5 3-13 9z"/><path fill="#fd4b00" d="M639 1976l14-9 4-3-41 6-4 3-14 10z"/><path fill="#ff5800" d="M625 1986l14-10 4-2-41 6-4 3-14 10z"/><path fill="#ff6500" d="M611 1997l14-11 4-3-41 7-4 3-14 12z"/><path fill="#ff7300" d="M597 2008l14-11 4-3-41 7-4 4-14 11z"/><path fill="#ff8000" d="M583 2020l14-12 4-4-41 9-4 3-14 13z"/><path fill="#ff8d00" d="M569 2032l14-12 4-4-41 9-4 4-14 13z"/><path fill="#ff9b00" d="M554 2045l15-13 4-4-41 10-4 4-14 13z"/><path fill="#ffa800" d="M540 2059l14-14 5-4-41 10-4 4-14 15z"/><path fill="#ffb500" d="M526 2073l14-14 5-5-41 12-4 4-14 15z"/><path fill="#ffc300" d="M512 2088l14-15 4-4-40 11-4 5-14 16z"/><path fill="#ffdb00" d="M497 2104l15-16 4-5-40 13-4 5-15 16z"/><path fill="#ffe500" d="M483 2120l14-16 5-5-40 13-5 5-14 18z"/><path fill="#fff000" d="M469 2137l14-17 4-5-40 14-4 6-14 17z"/><path fill="#e5f700" d="M454 2155l15-18 4-5-40 15-4 5-15 19z"/><path fill="#d8fa00" d="M440 2174l14-19 4-5-39 16-5 5-14 20z"/><path fill="#b6f500" d="M425 2193l15-19 4-6-40 17-4 6-14 20z"/><path fill="#9def00" d="M411 2214l14-21 5-5-40 17-4 6-15 21z"/><path fill="#94eb00" d="M396 2235l15-21 4-6-39 18-5 6-14 22z"/><path fill="#82e600" d="M382 2257l14-22 4-7-39 19-4 7-15 22z"/><path fill="#78e400" d="M367 2279l15-22 4-7-39 20-5 6-14 24z"/><path fill="#69e100" d="M352 2303l15-24 4-7-39 21-4 7-14 24z"/><path fill="#64df00" d="M338 2327l14-24 5-7-39 21-4 7-15 25z"/><path fill="#57dc00" d="M323 2352l15-25 4-7-39 22-4 7-14 26z"/></g>
<path stroke-opacity=".4" d="M265 2389l-11 10 14-27 12-9 14-26-11 9 14-25 11-8 15-24-12 8 15-23 11-8 14-22-11 7 14-22 12-7 14-21M277 2381l-12 8 15-26 11-8 14-26-11 8 14-24 12-8 14-24-11 8 14-23 12-7 14-22-12 7 15-22 11-7 15-20M288 2373l-11 8 14-26 12-8 14-25-12 7 15-24 11-7 15-24-12 7 15-22 11-7 15-22-12 7 14-22 12-6 15-20-12 6 14-20 12-6 14-18-12 5 15-18 12-5 14-17-12 5 14-17 12-5 14-15-12 4 14-15 13-4 14-15"/><path stroke-opacity=".35" d="M380 2201l-12 7 15-20 11-7 15-19-12 7 14-19 12-6 14-18-12 6 14-17 12-6 14-16-11 6 14-16 11-5 15-15M392 2195l-12 6 14-20 12-6 14-19-11 6 14-18 12-6 14-17-12 5 14-17 12-5 14-16-12 5 14-15 12-5 15-15M518 2054l-12 4 14-13 12-4 14-13-12 3 14-12 12-4 14-11-12 3 13-11 13-3 14-11-13 3 14-10 12-3 14-9"/><path stroke-opacity=".3" d="M494 2063l-12 5 14-14 12-5 14-13-12 4 14-13 12-4 13-12-12 4 14-12 12-4 14-11-12 4 14-10 12-4 14-9M506 2058l-12 5 14-14 12-4 14-14-12 5 14-13 12-4 14-12-13 4 14-12 12-3 14-11-12 3 14-10 12-3 14-9"/><path stroke-opacity=".25" d="M605 1969l-12 3 13-9 12-3 14-9-12 3 13-8 13-3 13-7-12 3 13-7 13-3 13-6-12 3 13-6 12-3 14-5M617 1966l-12 3 13-9 13-3 13-9-12 3 14-8 12-2 13-7-12 2 14-7 12-2 13-6-12 2 13-6 13-2 13-5M629 1963l-12 3 14-9 12-3 14-8-13 2 14-7 12-2 14-7-13 2 14-7 12-2 14-6-13 2 14-6 12-1 13-5"/><path stroke-opacity=".15" d="M713 1912l-13 3 14-5 12-3 13-4-12 2 13-3 12-3 13-3-12 2 13-3 12-2 13-2-12 2 13-2 12-2 13-2M725 1910l-12 2 13-5 12-1 13-5-12 2 13-4 12-1 13-3-12 1 13-3 12-1 13-3-12 2 13-2 12-2 13-1-12 1 12-1 13-1 12-1-12 1 13 0 12-2 13 0-13 1 13 1 12-1 12 0-12 1 12 1 13-1 12 1-12 1M841 1885l-12 1 13-1 12-1 13-1-13 1 13-1 12 0 13 0-12 0 12 1 12-1 13 1-13 0 13 1 12-1 12 2-12 0"/><path stroke-opacity=".2" d="M817 1887l-13 2 13-1 12-2 13-1-12 2 12-1 13-1 12-1-12 2 12 0 13-1 12 0-12 2 12 1 12-2 13 1-13 2M737 1909l-12 1 13-4 13-2 13-4-13 1 13-3 13-1 13-3-13 1 13-3 13-1 13-2-13 0 13-2 13 0 12-2"/>
<g stroke="none"><path fill="#f52200" d="M1005 1892l12 1-42-6-12-1z"/><path fill="#f21a00" d="M993 1891l12 1 4 0-42-6-4 0-12-1z"/><path fill="#ef1400" d="M955 1890l38 1 3 0-42-6-3 0-38-1z"/><path fill="#ed0e00" d="M930 1891l13-1 12 0 4 0-42-6-4 0-12 0-13 1z"/><path fill="#ea0800" d="M800 1915l40-11 39-8 38-5 13 0 4-1-42-5-4 0-13 1-38 5-39 9-40 12z"/><path fill="#ed0e00" d="M759 1930l41-15 4-1-42-3-4 1-41 17z"/><path fill="#ef1400" d="M746 1936l13-6 4-1-42-2-4 2-13 7z"/><path fill="#f21a00" d="M718 1950l14-7 14-7 4-1-42-1-4 2-14 7-14 7z"/><path fill="#f52200" d="M705 1958l13-8 4-2-41 0-5 2-13 9z"/><path fill="#f72a00" d="M691 1966l14-8 4-2-42 0-4 3-14 8z"/><path fill="#fa3200" d="M677 1975l14-9 4-2-42 1-4 2-14 10z"/><path fill="#fc3f00" d="M649 1994l14-10 14-9 4-3-42 2-4 3-14 10-14 10z"/><path fill="#fd4b00" d="M635 2005l14-11 4-3-42 3-4 3-14 11z"/><path fill="#ff5800" d="M621 2016l14-11 4-3-42 3-4 3-14 12z"/><path fill="#ff6500" d="M606 2028l15-12 4-4-42 5-4 3-14 13z"/><path fill="#ff7300" d="M592 2040l14-12 5-4-42 5-4 4-14 13z"/><path fill="#ff8d00" d="M578 2053l14-13 4-4-41 6-4 4-14 13z"/><path fill="#ff9b00" d="M563 2067l15-14 4-4-41 6-4 4-15 15z"/><path fill="#ffa800" d="M549 2081l14-14 5-4-41 7-5 4-14 15z"/><path fill="#ffb500" d="M535 2096l14-15 4-4-41 7-4 5-14 16z"/><path fill="#ffd000" d="M520 2112l15-16 4-4-41 8-4 5-15 16z"/><path fill="#ffdb00" d="M506 2129l14-17 5-5-41 9-5 5-14 18z"/><path fill="#ffe500" d="M491 2146l15-17 4-5-41 9-4 6-15 18z"/><path fill="#f2f300" d="M477 2164l14-18 5-5-41 10-5 6-14 18z"/><path fill="#e5f700" d="M462 2182l15-18 4-6-41 12-4 5-14 20z"/><path fill="#c7f700" d="M447 2202l15-20 4-5-40 12-4 6-15 20z"/><path fill="#a5f200" d="M433 2222l14-20 5-6-41 13-4 6-15 21z"/><path fill="#9def00" d="M418 2243l15-21 4-6-40 14-5 6-14 22z"/><path fill="#8ce800" d="M403 2265l15-22 4-6-40 15-4 6-15 23z"/><path fill="#82e600" d="M389 2288l14-23 5-6-40 15-5 7-14 23z"/><path fill="#6ee200" d="M374 2311l15-23 4-7-40 16-4 7-15 25z"/><path fill="#69e100" d="M359 2336l15-25 4-7-39 17-5 8-14 25z"/></g>
<path stroke-opacity=".45" d="M300 2365l-12 8 15-26 11-7 15-25-12 7 14-24 12-7 15-23-12 6 14-22 12-6 15-22-12 6 14-21 12-6 15-20M311 2358l-11 7 14-25 12-7 14-25-11 7 14-24 12-6 15-23-12 6 14-22 12-6 15-21-12 5 14-21 12-5 15-20M323 2352l-12 6 15-25 12-6 14-24-12 5 15-23 12-6 15-22-12 5 14-22 12-5 15-21-12 5 14-21 12-5 15-19"/><path stroke-opacity=".4" d="M416 2183l-12 6 14-20 12-5 14-18-12 5 15-18 12-5 14-17-12 5 14-17 12-4 14-15-12 4 15-15 12-4 14-14M428 2178l-12 5 14-19 12-4 14-19-12 5 15-18 12-4 14-17-12 4 14-16 12-4 15-15-13 4 15-15 12-4 14-13M440 2174l-12 4 14-18 12-5 15-18-13 4 15-17 12-4 14-16-12 3 14-16 13-3 14-15-12 3 14-15 12-2 14-14"/><path stroke-opacity=".35" d="M530 2051l-12 3 14-13 12-4 14-13-12 4 14-13 12-3 14-11-12 3 14-11 12-3 14-10-12 2 13-10 13-2 14-9M542 2048l-12 3 14-14 12-3 14-12-12 2 14-12 12-2 14-12-12 3 14-11 12-2 14-10-12 2 14-10 12-2 14-9M554 2045l-12 3 14-14 13-2 14-12-13 2 14-12 13-2 14-11-13 1 14-10 13-2 14-10-13 2 14-10 13-1 13-9"/><path stroke-opacity=".3" d="M642 1961l-13 2 14-9 12-2 14-8-12 2 13-7 13-2 13-7-12 2 13-7 13-1 13-6-12 1 13-5 12-1 14-5M654 1959l-12 2 13-9 13-1 13-8-12 1 14-7 12-1 14-7-13 1 14-6 12-1 14-6-13 1 13-5 13-1 13-5M666 1958l-12 1 14-8 12-1 14-8-13 1 14-7 13-1 13-6-12 0 13-6 13 0 13-6-12 0 13-5 13 0 13-4"/><path stroke-opacity=".2" d="M750 1908l-13 1 14-5 12-1 13-3-12 0 13-3 12-1 13-3-12 1 13-3 12-1 13-2-12 1 13-2 12-1 13-1M762 1907l-12 1 13-5 13 0 13-4-13 1 13-4 13 0 13-3-13 0 13-3 13 0 13-2-13 0 13-2 13 1 13-2"/><path stroke-opacity=".1" d="M854 1885l-13 0 13-1 13 0 12-1-12 0 12 0 13 0 12 0-12 0 12 0 13 0 12 0-12 1 12 0 13 0 12 1-13 1M867 1885l-13 0 13-1 12 0 13-1-13 0 13 0 12 0 13 0-13 0 13 0 12 0 13 1-13-1 13 1 12 1 12 1-12-1"/><path stroke-opacity=".25" d="M775 1908l-13-1 14-4 12 0 13-3-12-1 13-3 12 0 14-2-13-1 13-3 13 1 12-2-12-1 13-1 12 0 13-1"/><path stroke-opacity=".15" d="M879 1886l-12-1 12-1 13 1 13-1-13-1 12 0 13 1 13 0-13-1 12 0 13 1 12 1-12-1 12 1 13 1 12 1-13-1"/>
<g stroke="none"><path fill="#f52200" d="M1044 1903l12 1-43-11-12-2z"/><path fill="#f21a00" d="M1019 1901l13 1 12 1 3 0-42-11-4-1-12-1-12 0z"/><path fill="#ef1400" d="M994 1900l13 1 12 0 4 0-43-11-3 0-13-1-12 0z"/><path fill="#ed0e00" d="M969 1901l13-1 12 0 4 1-43-12-3 0-13 0-13 1z"/><path fill="#ea0800" d="M931 1903l38-2 4 0-43-11-4 0-38 3z"/><path fill="#e60500" d="M839 1922l40-10 39-7 13-2 4 0-43-10-4 0-13 2-39 8-40 12z"/><path fill="#ea0800" d="M798 1936l41-14 4-1-43-8-4 2-40 15z"/><path fill="#ed0e00" d="M771 1948l14-6 13-6 4-1-42-7-4 2-14 6-14 7z"/><path fill="#ef1400" d="M743 1962l14-7 14-7 4-2-43-5-4 2-13 7-14 8z"/><path fill="#f21a00" d="M729 1970l14-8 4-2-42-4-4 2-14 8z"/><path fill="#f52200" d="M716 1978l13-8 5-3-43-3-4 2-14 9z"/><path fill="#f72a00" d="M701 1987l15-9 4-3-43-3-4 3-14 9z"/><path fill="#fa3200" d="M687 1996l14-9 5-3-43-3-4 3-14 10z"/><path fill="#fc3f00" d="M673 2006l14-10 5-3-43-2-4 3-14 11z"/><path fill="#fd4b00" d="M659 2016l14-10 5-3-43-1-4 3-14 11z"/><path fill="#ff5800" d="M645 2028l14-12 4-3-42 0-4 3-14 12z"/><path fill="#ff6500" d="M631 2039l14-11 4-4-42 0-4 4-15 12z"/><path fill="#ff7300" d="M616 2052l15-13 4-3-42 1-5 3-14 13z"/><path fill="#ff8000" d="M602 2065l14-13 5-4-43 2-4 3-14 14z"/><path fill="#ff8d00" d="M587 2079l15-14 4-4-42 2-4 4-15 15z"/><path fill="#ff9b00" d="M573 2093l14-14 5-5-42 3-5 5-14 15z"/><path fill="#ffa800" d="M558 2108l15-15 4-4-42 3-4 5-15 16z"/><path fill="#ffc300" d="M544 2124l14-16 5-4-42 4-5 5-14 16z"/><path fill="#ffd000" d="M529 2141l15-17 4-5-42 5-4 5-15 18z"/><path fill="#ffdb00" d="M514 2158l15-17 4-5-41 5-5 6-14 18z"/><path fill="#fff000" d="M500 2176l14-18 5-5-42 6-4 6-15 18z"/><path fill="#f2f300" d="M485 2195l15-19 4-6-41 8-5 5-14 20z"/><path fill="#d8fa00" d="M470 2214l15-19 4-6-41 8-4 6-15 20z"/><path fill="#b6f500" d="M455 2235l15-21 5-6-42 9-4 6-15 21z"/><path fill="#9def00" d="M441 2256l14-21 5-6-41 9-5 6-14 22z"/><path fill="#94eb00" d="M426 2278l15-22 4-7-41 11-4 6-15 23z"/><path fill="#8ce800" d="M411 2301l15-23 4-7-41 11-4 7-15 24z"/><path fill="#78e400" d="M396 2324l15-23 4-7-40 12-5 7-15 24z"/></g>
<path stroke-opacity=".45" d="M335 2346l-12 6 15-25 12-6 14-24-12 6 15-24 12-5 15-22-12 5 14-22 12-5 15-21-12 5 14-21 12-4 15-19M347 2341l-12 5 15-25 12-5 14-24-12 5 15-23 12-5 15-22-12 5 14-22 12-4 15-21-12 4 14-20 13-3 14-19M359 2336l-12 5 15-25 12-5 15-23-13 4 15-23 12-4 15-22-12 4 14-21 13-4 14-20-12 3 15-19 12-4 15-18"/><path stroke-opacity=".4" d="M452 2170l-12 4 14-19 12-3 15-18-12 3 14-17 12-3 15-16-13 3 15-16 12-3 14-15-12 3 14-14 13-3 14-13M464 2167l-12 3 14-18 13-4 14-17-12 3 14-17 13-3 14-16-12 3 14-16 13-2 14-15-13 2 15-14 12-2 14-13M477 2164l-13 3 15-19 12-2 15-17-13 2 15-17 12-2 15-16-13 2 15-15 12-2 14-14-12 1 14-14 13-1 14-13"/><path stroke-opacity=".35" d="M567 2043l-13 2 15-13 12-2 14-12-12 2 14-12 12-2 14-11-12 2 14-11 12-1 14-10-12 1 14-9 12-1 14-8M579 2041l-12 2 14-13 13-1 14-12-13 1 14-12 13-1 14-10-13 0 14-10 13-1 14-9-13 0 14-9 13 0 14-8M592 2040l-13 1 15-12 12-1 15-12-13 1 14-12 13 0 14-11-13 1 14-11 13 0 14-9-13 0 14-9 13 0 14-8"/><path stroke-opacity=".3" d="M679 1958l-13 0 14-8 13 0 14-8-13 0 14-7 12 0 14-6-13 0 14-6 12 0 14-5-13-1 14-5 12 1 14-5M692 1958l-13 0 14-8 13 0 13-8-12 0 13-7 13 1 14-7-13 0 13-6 13 1 14-6-13 0 13-5 13 1 13-5M705 1958l-13 0 14-8 12 0 14-7-13-1 14-6 13 0 13-6-12-1 13-5 13 1 13-5-12-2 13-4 13 1 13-4"/><path stroke-opacity=".25" d="M788 1908l-13 0 13-5 13 1 13-4-13 0 13-4 13 1 13-2-12-1 13-3 12 1 13-2-13-1 13-2 13 2 13-2M800 1909l-12-1 13-4 13 1 13-3-13-2 13-3 13 2 13-3-13-1 13-3 13 2 13-2-13-2 13-1 13 1 13-1M813 1911l-13-2 14-4 12 2 14-3-13-2 13-3 13 2 13-3-13-2 13-2 13 2 13-2-13-2 13-2 13 3 12-2"/><path stroke-opacity=".15" d="M892 1887l-13-1 13-1 13 1 12 0-12-2 12 0 13 2 12 0-12-2 12 0 13 2 12 1-13-2 13 1 12 1 13 2-13-2"/><path stroke-opacity=".2" d="M905 1889l-13-2 13-1 12 2 13 0-13-2 13 0 13 1 12 1-13-2 13 0 13 2 12 1-13-2 12 0 13 3 12 1-12-2M917 1891l-12-2 12-1 13 3 13-1-13-2 13-1 12 3 13 0-13-2 13 0 12 3 13 0-13-2 12 1 13 2 12 1-13-2"/>
<g stroke="none"><path fill="#f72a00" d="M1083 1919l12 1-43-17-12-1z"/><path fill="#f52200" d="M1071 1917l12 2 4 0-43-17-4 0-12-1z"/><path fill="#f21a00" d="M1046 1916l13 0 12 1 4 1-44-17-3 0-13-1-12 0z"/><path fill="#ef1400" d="M1021 1915l13 0 12 1 4 0-43-16-4 0-13-1-12 0z"/><path fill="#ed0e00" d="M996 1916l13-1 12 0 4 0-43-16-4 0-13 1-13 0z"/><path fill="#ea0800" d="M944 1920l39-4 13 0 4-1-44-15-4 0-12 1-39 5z"/><path fill="#e60500" d="M865 1937l40-10 39-7 4-1-43-14-4 1-40 8-40 12z"/><path fill="#ea0800" d="M824 1951l41-14 4-1-44-12-4 2-40 15z"/><path fill="#ed0e00" d="M797 1963l13-6 14-6 4-1-43-10-4 1-14 6-14 7z"/><path fill="#ef1400" d="M769 1977l14-7 14-7 4-2-44-9-4 2-14 7-13 8z"/><path fill="#f21a00" d="M755 1985l14-8 4-2-43-8-4 2-14 8z"/><path fill="#f52200" d="M727 2002l14-9 14-8 4-3-43-7-4 2-14 9-14 10z"/><path fill="#f72a00" d="M713 2011l14-9 4-3-43-6-4 3-15 10z"/><path fill="#fa3200" d="M698 2021l15-10 4-3-43-5-5 3-14 10z"/><path fill="#fc3f00" d="M684 2032l14-11 5-3-44-5-4 3-14 11z"/><path fill="#fd4b00" d="M670 2043l14-11 4-3-43-5-4 3-14 12z"/><path fill="#ff5800" d="M655 2055l15-12 4-3-43-4-4 3-15 13z"/><path fill="#ff6500" d="M641 2067l14-12 5-4-43-3-5 4-14 13z"/><path fill="#ff7300" d="M626 2080l15-13 4-4-43-2-4 4-15 14z"/><path fill="#ff8000" d="M612 2094l14-14 5-4-43-1-5 4-14 14z"/><path fill="#ff9b00" d="M597 2109l15-15 4-4-43-1-4 4-15 15z"/><path fill="#ffa800" d="M583 2124l14-15 5-5-43 0-5 4-14 16z"/><path fill="#ffb500" d="M568 2140l15-16 4-5-43 1-4 4-15 17z"/><path fill="#ffd000" d="M553 2156l15-16 4-5-42 1-5 5-14 17z"/><path fill="#ffdb00" d="M538 2174l15-18 4-5-42 2-4 5-15 18z"/><path fill="#ffe500" d="M523 2192l15-18 5-6-43 3-4 5-15 19z"/><path fill="#f2f300" d="M509 2211l14-19 5-6-42 4-5 5-15 20z"/><path fill="#e5f700" d="M494 2230l15-19 4-6-42 4-5 6-14 20z"/><path fill="#c7f700" d="M479 2251l15-21 4-6-42 5-4 6-15 22z"/><path fill="#a5f200" d="M464 2272l15-21 4-6-42 5-4 7-15 22z"/><path fill="#9def00" d="M449 2294l15-22 4-6-42 6-4 7-15 22z"/><path fill="#8ce800" d="M434 2317l15-23 4-6-41 7-5 6-15 24z"/></g>
<path stroke-opacity=".45" d="M371 2331l-12 5 15-25 12-4 15-23-12 4 14-23 13-3 14-22-12 3 15-21 12-3 15-20-13 3 15-20 12-2 15-19M383 2327l-12 4 15-24 12-3 15-23-12 3 15-22 12-4 15-21-13 3 15-21 13-3 14-19-12 2 14-19 13-2 15-19-13 2 15-17 12-2 15-17-13 2 15-17 13-1 14-15-13 1 15-15 13-1 14-14-13 1 15-14 12 0 15-13M514 2158l-12 1 14-17 13-1 15-17-13 1 15-16 12-1 15-15-13 1 15-15 12 0 15-14-13 0 14-13 13 0 15-13"/><path stroke-opacity=".4" d="M489 2161l-12 3 14-18 13-2 14-17-12 2 14-17 13-2 14-15-12 1 14-15 13-1 14-14-13 1 15-14 13-1 14-13-13 1 14-12 13-1 14-11-12 0 14-11 12 0 15-11-13 0 14-10 13 1 14-10-13 0 14-9 13 1 13-8M618 2039l-13 0 14-12 13 0 14-11-13 0 14-11 13 0 14-10-12-1 14-9 13 0 14-9-13-1 14-8 12 1 14-8M631 2039l-13 0 14-12 13 1 14-12-13 0 14-11 13 1 14-10-13-1 15-10 12 2 15-9-13-2 13-8 13 2 14-8"/><path stroke-opacity=".35" d="M717 1959l-12-1 13-8 13 1 14-7-13-1 14-7 13 2 13-6-13-2 14-5 13 1 13-5-13-1 14-5 13 2 13-4M730 1960l-13-1 14-8 13 2 14-7-13-2 14-6 13 2 13-6-13-2 14-6 13 2 13-4-13-3 14-4 13 2 13-4M743 1962l-13-2 14-7 13 2 14-7-13-2 14-6 13 2 13-6-13-2 14-6 13 3 13-5-13-2 14-5 13 3 13-4"/><path stroke-opacity=".3" d="M826 1913l-13-2 13-4 13 2 14-3-13-2 13-3 13 2 13-3-13-2 13-2 13 2 13-1-13-3 13-1 13 2 12-1M839 1915l-13-2 13-4 13 3 14-3-13-3 13-3 13 3 13-3-13-3 13-2 13 3 13-1-13-3 13-2 13 3 12 0M852 1918l-13-3 13-3 13 3 14-3-13-3 13-3 13 3 13-2-13-4 13-2 13 4 13-2-13-3 13-2 13 4 12-1"/><path stroke-opacity=".2" d="M930 1894l-13-3 13 0 13 2 13 0-13-3 12 0 13 3 13 0-13-3 12 1 13 3 13 0-13-3 12 1 13 3 12 1-13-3"/><path stroke-opacity=".25" d="M943 1898l-13-4 13-1 13 4 13 0-13-4 12 0 13 3 13 1-13-4 12 1 13 3 13 1-13-4 12 1 13 4 12 1-13-4M956 1901l-13-3 13-1 13 4 13-1-13-3 12-1 13 4 13 1-13-4 12 0 13 4 13 1-13-4 12 1 13 4 12 1-13-4"/><path stroke-opacity=".5" d="M396 2324l-13 3 15-23 13-3 15-23-13 3 15-23 13-2 14-21-12 2 15-21 12-2 15-19-13 2 15-19 13-2 14-18"/>
<g stroke="none"><path fill="#fa3200" d="M1111 1937l12 1 12 2-44-22-12-1-12-1z"/><path fill="#f72a00" d="M1098 1936l13 1 3 1-43-22-4 0-12-1z"/><path fill="#f52200" d="M1074 1935l12 0 12 1 4 0-44-21-3 0-13-1-12 0z"/><path fill="#f21a00" d="M1061 1934l13 1 3 0-44-21-3 0-13 0z"/><path fill="#ef1400" d="M1023 1934l38 0 4 0-44-20-4 0-38 1z"/><path fill="#ed0e00" d="M984 1937l39-3 4 0-44-20-4 1-39 3z"/><path fill="#ea0800" d="M864 1965l41-13 40-9 39-6 4 0-44-19-4 0-39 7-40 11-41 14z"/><path fill="#ed0e00" d="M823 1982l41-17 4-1-44-15-4 1-41 19z"/><path fill="#ef1400" d="M795 1996l14-7 14-7 4-2-44-13-4 2-14 7-14 8z"/><path fill="#f21a00" d="M781 2003l14-7 4-2-44-12-4 2-14 8z"/><path fill="#f52200" d="M753 2021l14-9 14-9 4-2-44-11-4 2-14 9-14 10z"/><path fill="#f72a00" d="M738 2030l15-9 4-3-44-10-4 3-15 10z"/><path fill="#fa3200" d="M724 2040l14-10 5-3-44-9-5 3-14 10z"/><path fill="#fc3f00" d="M710 2051l14-11 4-3-44-9-4 3-14 11z"/><path fill="#fd4b00" d="M695 2062l15-11 4-4-44-8-4 3-15 12z"/><path fill="#ff5800" d="M681 2074l14-12 5-4-44-7-5 3-14 13z"/><path fill="#ff6500" d="M666 2086l15-12 4-4-44-7-4 4-15 13z"/><path fill="#ff7300" d="M652 2099l14-13 5-4-44-6-5 4-14 14z"/><path fill="#ff8000" d="M637 2113l15-14 4-4-44-5-4 4-15 14z"/><path fill="#ff8d00" d="M622 2128l15-15 4-4-43-5-5 4-14 16z"/><path fill="#ffa800" d="M607 2143l15-15 5-5-44-4-4 5-15 16z"/><path fill="#ffb500" d="M593 2159l14-16 5-5-44-3-4 5-15 16z"/><path fill="#ffc300" d="M578 2176l15-17 4-5-43-3-5 5-15 18z"/><path fill="#ffdb00" d="M563 2193l15-17 4-5-43-2-5 5-14 18z"/><path fill="#ffe500" d="M548 2211l15-18 4-5-43-2-4 6-15 19z"/><path fill="#f2f300" d="M533 2230l15-19 4-5-43-1-4 6-15 20z"/><path fill="#e5f700" d="M518 2250l15-20 4-5-43 0-4 6-15 20z"/><path fill="#c7f700" d="M503 2271l15-21 4-6-43 1-4 6-15 22z"/><path fill="#a5f200" d="M488 2292l15-21 4-6-43 1-4 7-15 22z"/><path fill="#9def00" d="M472 2315l16-23 4-6-43 2-4 7-15 23z"/></g>
<path stroke-opacity=".5" d="M408 2321l-12 3 15-23 12-3 15-23-12 3 15-22 12-2 15-21-13 2 15-21 13-1 15-20-13 2 15-19 12-1 15-18M421 2319l-13 2 15-23 13-2 15-23-13 2 15-21 13-2 15-21-13 2 15-20 13-2 14-19-12 1 14-18 13-1 15-18M434 2317l-13 2 15-23 13-2 15-22-13 1 15-21 13-1 15-21-13 1 15-20 13 0 14-19-13 0 15-18 13 0 15-18"/><path stroke-opacity=".45" d="M527 2157l-13 1 15-17 13-1 15-17-13 1 14-16 13 0 15-15-13 0 14-14 13 0 15-14-13 0 14-13 13 0 15-12M540 2156l-13 1 15-17 13-1 14-16-12 0 14-15 13 0 15-15-13 0 14-14 13 0 15-13-13-1 14-13 13 1 15-12M553 2156l-13 0 15-17 13 1 15-16-14-1 15-15 13 1 15-15-13-1 14-14 13 1 15-13-13-1 14-13 13 2 15-12"/><path stroke-opacity=".4" d="M644 2040l-13-1 14-11 13 0 14-10-13-2 14-10 13 1 14-10-13-1 14-9 14 1 14-8-13-2 13-8 14 2 13-8M657 2041l-13-1 14-12 13 2 14-11-13-1 14-11 13 2 15-10-14-2 15-9 13 2 14-8-13-2 14-8 13 2 14-7M670 2043l-13-2 14-11 13 2 14-11-13-2 14-10 14 2 14-9-13-3 14-9 13 3 14-8-13-3 14-8 13 3 14-7"/><path stroke-opacity=".35" d="M756 1964l-13-2 14-7 13 2 14-6-13-3 14-6 13 3 13-6-13-3 14-5 13 3 13-5-13-3 14-4 13 3 13-3M770 1967l-14-3 14-7 13 3 14-6-13-3 14-6 13 3 14-6-14-3 14-5 13 4 14-5-14-4 14-4 13 4 13-3M783 1970l-13-3 13-7 14 3 13-6-13-3 14-6 13 3 14-5-13-4 13-4 13 3 14-4-13-4 13-4 13 4 14-3"/><path stroke-opacity=".3" d="M865 1922l-13-4 13-3 13 3 14-3-13-3 13-3 13 4 13-2-13-4 13-2 13 4 13-2-13-4 13-1 13 4 12 0M878 1926l-13-4 13-4 14 4 13-2-13-5 13-2 13 4 13-2-13-4 13-2 13 4 13-1-13-5 13-1 13 5 13-1M892 1930l-14-4 14-4 13 5 13-3-13-4 13-3 13 5 13-2-13-5 13-2 13 5 13-1-13-5 13-1 13 5 13 0-13-6 12 0 14 5 12 0-13-5 12 0 14 5 12 1-13-6 12 1 14 5 12 1-13-5 12 1 13 6 12 1-13-6"/><path stroke-opacity=".25" d="M969 1906l-13-5 13 0 13 4 13 0-13-5 12 0 13 5 13 0-13-4 12 0 13 5 13 1-13-5 12 1 13 5 12 1-13-5M983 1910l-14-4 13-1 13 5 13 0-13-5 12 0 13 5 13 0-13-5 12 1 13 5 13 1-13-5 12 1 13 5 12 1-13-5"/>
<g stroke="none"><path fill="#fd4b00" d="M1151 1961l12 2 12 1-44-26-12-2-12-1z"/><path fill="#fc3f00" d="M1139 1960l12 1 4 1-45-27-3 0-13-1z"/><path fill="#fa3200" d="M1114 1958l13 1 12 1 4 0-45-26-4 0-12-1-12-1z"/><path fill="#f72a00" d="M1102 1957l12 1 4 0-45-25-3-1-13 0z"/><path fill="#f52200" d="M1076 1956l13 1 13 0 3 0-44-25-4 0-12 0-13 0z"/><path fill="#f21a00" d="M1051 1957l13 0 12-1 4 1-44-25-4 0-13 0-13 1z"/><path fill="#ef1400" d="M1012 1960l39-3 4 0-45-24-4 0-39 4z"/><path fill="#ed0e00" d="M878 1992l41-14 40-10 40-7 13-1 4-1-45-23-4 1-13 2-40 8-40 12-41 15z"/><path fill="#ef1400" d="M836 2011l42-19 4-1-45-18-4 1-42 21z"/><path fill="#f21a00" d="M808 2025l14-7 14-7 4-2-45-17-4 3-14 7-14 9z"/><path fill="#f52200" d="M793 2034l15-9 4-2-45-15-4 3-14 8z"/><path fill="#f72a00" d="M779 2043l14-9 5-3-45-14-4 2-15 10z"/><path fill="#fa3200" d="M765 2052l14-9 4-3-44-14-5 3-14 10z"/><path fill="#fc3f00" d="M736 2073l14-11 15-10 4-3-45-13-4 3-14 11-15 11z"/><path fill="#fd4b00" d="M721 2084l15-11 4-4-44-11-5 3-14 12z"/><path fill="#ff5800" d="M707 2096l14-12 5-3-45-12-4 4-15 12z"/><path fill="#ff6500" d="M692 2108l15-12 4-4-44-10-5 3-14 14z"/><path fill="#ff7300" d="M677 2122l15-14 4-3-44-10-4 4-15 14z"/><path fill="#ff8000" d="M663 2136l14-14 5-4-45-10-4 5-15 14z"/><path fill="#ff9b00" d="M648 2150l15-14 4-5-44-8-5 4-15 15z"/><path fill="#ffa800" d="M633 2166l15-16 4-4-44-8-5 4-14 17z"/><path fill="#ffb500" d="M618 2182l15-16 4-5-44-7-4 5-15 16z"/><path fill="#ffc300" d="M603 2199l15-17 4-5-44-7-4 5-15 18z"/><path fill="#ffdb00" d="M588 2216l15-17 4-6-44-5-4 5-15 18z"/><path fill="#ffe500" d="M573 2235l15-19 4-5-44-5-4 5-15 19z"/><path fill="#f2f300" d="M558 2254l15-19 4-6-44-4-4 5-15 20z"/><path fill="#e5f700" d="M542 2274l16-20 4-6-44-4-4 6-15 21z"/><path fill="#c7f700" d="M527 2295l15-21 5-6-44-3-4 6-15 21z"/><path fill="#a5f200" d="M512 2316l15-21 5-7-44-2-4 6-15 23z"/></g>
<path stroke-opacity=".5" d="M446 2316l-12 1 15-23 13-1 15-22-13 1 15-21 13-1 15-20-13 0 15-19 13-1 14-18-13 0 15-18 13 0 15-17M459 2315l-13 1 16-23 13-1 15-21-13 0 15-21 13 0 15-20-13 0 15-20 13 1 15-19-14 0 15-18 13 1 15-17M472 2315l-13 0 16-23 13 0 15-21-13 0 15-21 13 0 15-20-13 0 15-19 13 0 15-18-13-1 14-17 14 1 15-17"/><path stroke-opacity=".45" d="M566 2157l-13-1 15-16 13 0 15-15-13-1 14-15 13 1 15-15-13-1 14-14 14 2 14-13-13-2 14-12 14 2 14-12M579 2158l-13-1 15-17 13 1 15-15-13-1 14-15 14 1 14-14-13-2 15-13 13 2 14-13-13-2 15-12 13 2 14-11M593 2159l-14-1 15-17 13 2 15-15-13-2 15-15 13 2 15-14-14-2 15-13 13 2 15-12-14-3 15-12 13 3 15-11"/><path stroke-opacity=".4" d="M683 2045l-13-2 14-11 13 2 15-10-14-3 15-10 13 3 14-9-13-3 14-9 13 3 14-8-13-3 14-8 13 3 14-7M696 2048l-13-3 14-11 14 3 14-10-13-3 14-10 13 3 14-9-13-3 14-9 14 4 14-8-14-4 14-8 14 4 14-6M710 2051l-14-3 15-11 13 3 14-10-13-3 14-10 14 4 14-9-14-4 15-8 13 3 14-7-13-4 14-8 13 5 14-7-13-4 13-7 14 5 14-6-14-5 14-5 13 5 14-5-13-5 13-4 14 5 13-4-13-5 13-4 13 6 14-3"/><path stroke-opacity=".35" d="M796 1973l-13-3 14-7 13 4 14-6-14-4 14-6 13 5 14-6-13-4 13-5 14 5 13-4-13-5 13-4 14 5 13-3-13-5 13-3 13 5 13-3-13-5 13-2 14 5 13-2-14-5 13-2 14 6 13-1-14-6 13-1 13 6 13-1M810 1978l-14-5 14-6 13 4 14-6-13-4 13-5 14 4 14-5-14-5 14-4 13 5 14-4-14-5 14-4 13 5 13-3-13-5 13-3 14 5 13-2-14-6 14-2 13 6 13-2-13-6 13-1 13 6 13-1-13-6 12-1 14 6 12-1M932 1946l-14-6 14-3 13 6 13-2-13-6 13-2 13 6 13-2-13-6 13-1 13 6 13-1-13-6 13-1 13 6 13 0"/><path stroke-opacity=".3" d="M1009 1921l-13-5 13-1 13 6 12 0-13-6 13 0 13 6 12 1-13-6 13 0 13 7 12 0-13-6 12 2 13 6 12 1-13-6M1022 1927l-13-6 13 0 13 6 13 0-14-6 13 0 13 7 13 0-14-6 13 1 13 6 12 1-13-7 12 2 14 6 12 2-14-7M1036 1934l-14-7 13 0 14 7 12 0-13-7 12 1 14 7 12 0-13-7 12 1 13 7 13 1-14-7 13 1 13 7 12 2-13-7"/>
<g stroke="none"><path fill="#ff7300" d="M1204 1991l12 2-45-31-12-2z"/><path fill="#ff6500" d="M1192 1989l12 2 4 0-45-30-4-1-12-1z"/><path fill="#ff5800" d="M1167 1986l13 2 12 1 4 1-45-31-4 0-12-2-13-1z"/><path fill="#fd4b00" d="M1155 1985l12 1 4 1-45-30-4-1-12-1z"/><path fill="#fc3f00" d="M1130 1983l13 1 12 1 4 0-45-29-4-1-12 0-13-1z"/><path fill="#fa3200" d="M1105 1983l13 0 12 0 4 1-45-30-4 0-13 0-12 0z"/><path fill="#f72a00" d="M1092 1983l13 0 4 0-46-29-3 0-13 1z"/><path fill="#f52200" d="M1066 1983l13 0 13 0 4 0-45-29-4 1-13 0-13 1z"/><path fill="#f21a00" d="M1027 1987l39-4 4 0-45-27-4 0-39 5z"/><path fill="#ef1400" d="M905 2017l42-14 40-10 40-6 4-1-45-26-4 1-40 8-41 11-41 16z"/><path fill="#f21a00" d="M863 2036l42-19 4-1-45-22-4 2-42 20z"/><path fill="#f52200" d="M835 2051l14-8 14-7 4-2-45-20-4 2-14 8-15 8z"/><path fill="#f72a00" d="M821 2059l14-8 4-3-45-18-5 2-14 9z"/><path fill="#fa3200" d="M806 2068l15-9 4-3-46-17-4 2-14 10z"/><path fill="#fc3f00" d="M777 2087l15-10 14-9 5-3-46-17-4 3-15 10-14 10z"/><path fill="#fd4b00" d="M763 2098l14-11 5-3-46-16-4 3-15 12z"/><path fill="#ff5800" d="M748 2109l15-11 4-3-45-16-5 4-14 12z"/><path fill="#ff6500" d="M733 2121l15-12 4-3-45-15-4 4-15 12z"/><path fill="#ff7300" d="M719 2134l14-13 5-3-46-14-4 3-15 14z"/><path fill="#ff8000" d="M704 2147l15-13 4-4-45-13-5 4-15 14z"/><path fill="#ff8d00" d="M689 2161l15-14 4-4-45-13-5 5-14 14z"/><path fill="#ff9b00" d="M674 2176l15-15 4-4-45-12-4 4-15 16z"/><path fill="#ffa800" d="M659 2192l15-16 4-4-45-12-4 5-15 16z"/><path fill="#ffc300" d="M644 2208l15-16 4-5-45-11-4 5-15 17z"/><path fill="#ffd000" d="M629 2225l15-17 4-5-45-10-4 5-15 18z"/><path fill="#ffdb00" d="M614 2243l15-18 4-5-45-10-4 6-15 18z"/><path fill="#fff000" d="M598 2261l16-18 4-6-45-8-4 5-15 19z"/><path fill="#f2f300" d="M583 2281l15-20 5-5-45-8-4 5-16 20z"/><path fill="#e5f700" d="M568 2301l15-20 5-6-45-8-5 6-15 21z"/><path fill="#c7f700" d="M553 2322l15-21 4-6-44-7-5 6-15 22z"/></g>
<path stroke-opacity=".5" d="M486 2315l-14 0 16-23 13 1 15-22-13 0 15-21 13 1 15-20-13-1 15-19 13 2 15-19-13-1 15-17 13 1 15-16M499 2315l-13 0 15-22 13 0 15-21-13-1 15-20 13 1 15-19-13-2 15-18 13 1 15-18-13-2 15-17 13 2 15-16M512 2316l-13-1 15-22 13 2 15-21-13-2 15-20 14 2 15-19-14-2 15-19 14 2 15-17-14-3 15-17 14 3 15-16-14-3 15-16 14 3 15-14-14-4 15-14 13 4 15-14-14-3 15-13 14 4 14-12-13-4 14-11 14 4 14-11"/><path stroke-opacity=".45" d="M606 2161l-13-2 14-16 14 2 15-15-14-2 15-15 13 3 15-14-13-3 14-13 14 3 14-12-13-3 14-12 14 3 14-11-13-3 14-11 14 4 14-10-14-4 15-9 13 4 14-9-13-4 14-9 14 5 14-8-14-4 14-7 14 4 14-6M619 2163l-13-2 15-16 13 2 15-15-13-2 14-14 14 2 14-13-13-3 15-13 13 3 15-12-14-3 15-12 13 4 15-11-14-4 15-10 13 4 14-10-13-4 14-9 14 4 14-9-14-4 15-8 13 5 14-8-13-5 14-7 13 5 14-6M750 2062l-13-4 14-10 14 4 14-9-14-5 15-9 13 5 15-9-14-5 14-7 14 5 14-7-14-6 14-7 14 6 14-6"/><path stroke-opacity=".4" d="M837 1987l-14-5 14-6 13 5 14-6-13-5 13-5 14 5 14-4-14-6 14-4 13 6 14-4-14-6 13-3 14 6 13-3M850 1992l-13-5 13-6 14 5 14-5-14-6 14-5 13 6 14-4-13-6 13-4 14 6 13-4-13-6 13-3 14 6 13-3M864 1998l-14-6 14-6 14 6 13-5-13-6 13-5 14 6 14-4-14-6 14-4 13 6 14-3-14-7 14-3 13 7 14-3"/><path stroke-opacity=".35" d="M945 1952l-13-6 13-3 14 6 13-2-14-6 13-2 14 6 13-1-14-7 13-1 14 7 13-1-14-7 13-1 14 7 12 0M959 1958l-14-6 14-3 13 7 13-2-13-7 13-2 13 7 14-1-14-7 13-1 13 7 13-1-13-7 13-1 13 8 13 0M973 1965l-14-7 13-2 14 7 13-2-14-7 13-2 14 8 13-2-13-7 12-1 14 7 13 0-14-8 13 0 14 8 12-1"/><path stroke-opacity=".3" d="M1049 1941l-13-7 13 0 13 7 13 0-14-7 13 1 13 7 13 1-14-8 12 1 14 8 12 1-13-8 12 1 13 8 12 2-13-8M1063 1949l-14-8 13 0 14 8 12 0-13-8 12 1 14 8 12 0-13-7 12 1 13 7 13 2-14-8 12 1 14 8 12 2-14-8M1076 1956l-13-7 13 0 13 8 13 0-14-8 13 1 13 8 13 1-14-9 12 1 14 9 12 1-13-8 12 1 13 9 12 1-13-8"/>
<g stroke="none"><path fill="#ff8d00" d="M1233 2021l12 2 12 2-45-35-12-2-12-2z"/><path fill="#ff8000" d="M1221 2019l12 2 4 1-46-35-3-1-12-1z"/><path fill="#ff7300" d="M1209 2018l12 1 4 1-46-35-3 0-13-2z"/><path fill="#ff6500" d="M1184 2015l13 1 12 2 3 0-45-34-4-1-12-1-12-1z"/><path fill="#ff5800" d="M1159 2013l13 1 12 1 4 0-46-33-3-1-13 0-13-1z"/><path fill="#fd4b00" d="M1134 2012l13 0 12 1 4 0-46-33-4 0-12 0-13 0z"/><path fill="#fc3f00" d="M1121 2012l13 0 4 0-46-32-4 0-13 0z"/><path fill="#fa3200" d="M1082 2013l39-1 4 0-46-32-4 0-39 3z"/><path fill="#f72a00" d="M1056 2016l13-2 13-1 4 0-46-31-4 1-13 1-13 2z"/><path fill="#f52200" d="M905 2057l42-16 42-13 40-9 27-3 4-1-46-29-4 0-27 5-41 10-41 14-42 19z"/><path fill="#f72a00" d="M877 2071l14-7 14-7 5-2-47-23-4 2-14 7-14 8z"/><path fill="#fa3200" d="M848 2087l15-8 14-8 4-2-46-22-4 2-15 8-14 9z"/><path fill="#fc3f00" d="M834 2096l14-9 5-2-47-22-4 3-14 10z"/><path fill="#fd4b00" d="M805 2116l14-11 15-9 4-3-46-20-4 3-15 10-14 10z"/><path fill="#ff5800" d="M790 2126l15-10 4-3-46-20-4 3-15 12z"/><path fill="#ff6500" d="M775 2138l15-12 4-3-46-19-4 4-15 12z"/><path fill="#ff7300" d="M761 2150l14-12 5-4-46-18-5 4-15 13z"/><path fill="#ff8000" d="M746 2163l15-13 4-4-46-17-5 4-14 13z"/><path fill="#ff8d00" d="M731 2176l15-13 4-4-46-17-4 4-15 14z"/><path fill="#ff9b00" d="M716 2190l15-14 4-4-46-16-4 4-15 15z"/><path fill="#ffa800" d="M701 2205l15-15 4-4-46-15-4 4-15 16z"/><path fill="#ffb500" d="M686 2221l15-16 4-4-46-15-4 5-15 16z"/><path fill="#ffc300" d="M670 2238l16-17 4-5-46-14-4 5-15 17z"/><path fill="#ffd000" d="M655 2255l15-17 5-5-46-14-4 5-16 18z"/><path fill="#ffe500" d="M640 2273l15-18 5-5-46-13-5 5-15 19z"/><path fill="#fff000" d="M625 2292l15-19 5-5-46-13-5 6-15 19z"/><path fill="#e5f700" d="M609 2312l16-20 4-6-45-12-5 6-15 20z"/><path fill="#d8fa00" d="M594 2332l15-20 5-6-46-12-4 6-16 21z"/></g>
<path stroke-opacity=".55" d="M525 2318l-13-2 15-21 14 1 15-20-14-2 16-20 13 2 15-19-13-2 15-19 13 3 15-18-13-2 15-17 13 3 15-16M539 2320l-14-2 16-22 13 3 15-21-13-2 15-20 14 2 15-18-14-3 15-18 14 3 15-18-14-3 15-16 14 3 15-16M553 2322l-14-2 15-21 14 2 15-20-14-3 16-20 13 3 16-18-14-3 15-18 14 3 15-17-14-4 15-16 14 4 15-16"/><path stroke-opacity=".5" d="M646 2169l-13-3 15-16 13 4 15-15-13-3 14-14 14 3 15-13-14-4 15-12 13 4 15-12-14-4 15-11 14 4 14-10M660 2172l-14-3 15-15 14 3 15-14-14-4 15-14 14 4 14-12-13-5 14-12 14 4 15-11-14-5 15-11 13 5 15-10M674 2176l-14-4 15-15 14 4 15-14-14-4 15-14 14 5 14-13-14-4 15-13 14 5 15-11-14-5 14-11 14 5 15-10"/><path stroke-opacity=".45" d="M764 2067l-14-5 15-10 14 5 14-9-14-5 14-9 14 5 14-8-13-6 14-7 14 5 14-7-14-5 14-7 14 6 14-6M778 2072l-14-5 15-10 13 5 15-9-14-5 14-9 14 6 14-8-14-6 15-8 13 6 14-6-13-7 14-6 13 6 14-5M792 2077l-14-5 14-10 14 6 15-9-14-6 14-8 14 6 14-8-14-6 14-8 14 7 14-7-14-6 14-7 14 7 14-6"/><path stroke-opacity=".4" d="M878 2004l-14-6 14-6 13 7 14-5-14-7 14-5 14 7 14-4-14-7 13-4 14 7 14-3-14-7 13-3 14 7 13-2M891 2011l-13-7 13-5 14 6 14-5-14-6 14-5 14 7 13-4-13-7 13-4 14 8 13-4-13-7 13-3 14 8 13-3M905 2017l-14-6 14-6 14 7 14-4-14-8 14-4 14 7 13-3-14-8 14-3 14 7 13-3-14-8 14-2 14 8 13-2"/><path stroke-opacity=".35" d="M986 1973l-13-8 13-2 14 8 13-2-14-8 13-1 14 7 13-1-14-8 13-1 14 8 13 0-14-8 13 0 13 8 13 0-14-9 13 1 14 8 12 1-13-9 12 1 14 8 12 1-13-8 12 1 13 9 13 1-14-9 12 2 14 9 12 1-14-9M1000 1980l-14-7 14-2 13 7 14-1-14-8 13-2 14 9 13-1-14-9 13-1 14 9 12 0-13-9 12 0 14 8 13 1-14-9 13 0 13 9 13 1-14-9 13 0 13 10 13 1-14-10 12 2 14 9 12 1-13-9 12 2 13 9 12 2-13-10M1014 1989l-14-9 13-2 14 9 13-2-13-8 13-1 13 8 13-1-13-8 13-1 13 9 13 0-14-9 13-1 14 10 13 0-14-9 12 0 14 9 13 1-14-9 12 1 14 9 12 1-13-9 12 1 14 10 12 1-14-10 12 2 14 10 12 2-14-10"/>
<g stroke="none"><path fill="#ffb500" d="M1275 2057l12 2 12 3-46-40-12-2-12-2z"/><path fill="#ffa800" d="M1263 2055l12 2 3 1-45-40-4 0-12-2z"/><path fill="#ff9b00" d="M1251 2053l12 2 3 1-45-39-4-1-12-2z"/><path fill="#ff8d00" d="M1226 2049l12 2 13 2 3 1-46-39-3-1-13-1-12-1z"/><path fill="#ff8000" d="M1214 2048l12 1 4 1-46-38-4 0-12-1z"/><path fill="#ff7300" d="M1189 2046l12 1 13 1 3 0-46-37-3 0-13-1-13-1z"/><path fill="#ff6500" d="M1163 2044l13 1 13 1 3 0-46-37-4 0-12 0-13 0z"/><path fill="#ff5800" d="M1138 2044l12 0 13 0 4 1-46-36-4 0-13 0-13 0z"/><path fill="#fd4b00" d="M1112 2045l13-1 13 0 3 0-46-35-4 0-13 1-13 1z"/><path fill="#fc3f00" d="M1072 2049l40-4 3 0-46-34-4 0-40 6z"/><path fill="#fa3200" d="M920 2095l42-18 42-14 41-10 27-4 4-1-47-32-4 1-27 5-41 11-42 16-42 20z"/><path fill="#fc3f00" d="M891 2110l15-8 14-7 4-2-47-26-4 2-15 8-14 8z"/><path fill="#fd4b00" d="M862 2127l15-9 14-8 4-3-47-24-4 2-14 9-15 10z"/><path fill="#ff5800" d="M833 2147l15-10 14-10 5-3-48-23-4 3-14 10-15 11z"/><path fill="#ff6500" d="M818 2158l15-11 4-3-47-23-4 4-15 11z"/><path fill="#ff7300" d="M803 2169l15-11 5-3-47-22-5 3-15 12z"/><path fill="#ff8000" d="M788 2182l15-13 5-3-47-21-5 3-15 13z"/><path fill="#ff8d00" d="M773 2195l15-13 5-4-47-21-5 4-14 14z"/><path fill="#ff9b00" d="M758 2208l15-13 5-4-47-20-4 4-15 14z"/><path fill="#ffa800" d="M743 2223l15-15 5-4-47-19-4 4-15 15z"/><path fill="#ffb500" d="M728 2238l15-15 5-5-47-19-4 5-16 16z"/><path fill="#ffc300" d="M713 2254l15-16 5-5-47-18-5 5-15 16z"/><path fill="#ffd000" d="M698 2271l15-17 4-5-46-18-5 5-15 18z"/><path fill="#ffdb00" d="M682 2288l16-17 4-5-46-18-5 6-15 18z"/><path fill="#fff000" d="M667 2307l15-19 5-5-47-17-4 6-16 19z"/><path fill="#f2f300" d="M652 2326l15-19 5-6-47-16-5 6-15 19z"/><path fill="#e5f700" d="M636 2346l16-20 4-6-46-16-5 6-15 21z"/></g>
<path stroke-opacity=".55" d="M566 2325l-13-3 15-21 14 3 15-20-14-3 15-20 14 4 15-19-13-3 15-18 14 4 15-17-14-4 15-16 14 4 15-16M580 2328l-14-3 16-21 13 4 16-20-14-4 15-19 14 4 15-19-14-4 16-17 13 4 16-17-14-4 15-16 14 4 15-15M594 2332l-14-4 15-20 14 4 16-20-14-4 15-19 14 4 15-18-14-5 15-17 14 5 16-17-14-5 15-16 14 5 15-15"/><path stroke-opacity=".5" d="M688 2180l-14-4 15-15 14 5 15-14-14-5 15-13 13 5 15-13-14-5 15-12 14 6 15-12-14-5 14-11 14 6 15-10M702 2185l-14-5 15-14 14 5 15-14-14-5 14-13 14 5 15-12-14-6 15-11 14 5 15-11-14-6 14-10 14 6 15-10M716 2190l-14-5 15-14 14 5 15-13-14-6 14-13 15 6 14-12-14-6 15-12 14 6 15-10-14-7 14-10 14 6 15-9"/><path stroke-opacity=".45" d="M806 2083l-14-6 14-9 14 6 15-9-14-6 14-8 14 6 14-7-14-7 14-7 14 7 14-7-14-7 14-6 14 7 14-5M820 2089l-14-6 14-9 14 6 15-8-14-7 14-8 14 7 14-7-14-7 14-7 14 7 14-7-14-7 14-6 14 8 14-6M834 2096l-14-7 14-9 14 7 15-8-14-7 14-8 14 7 14-7-14-7 14-7 14 7 14-6-14-8 14-5 14 8 14-5"/><path stroke-opacity=".4" d="M919 2025l-14-8 14-5 14 8 14-5-14-7 14-5 14 8 13-3-14-8 14-4 14 8 13-2-14-9 14-2 14 8 13-2M933 2032l-14-7 14-5 14 8 14-5-14-8 14-4 14 8 13-3-14-8 14-4 14 9 13-3-14-8 14-3 14 9 13-2-14-9 13-1 14 9 13-2-14-9 13-1 14 10 13-1-14-9 13-1 14 10 13 0-14-10 13 0 14 10 12 1M947 2041l-14-9 14-4 14 8 14-4-14-9 14-4 14 9 13-3-14-9 14-3 14 9 13-3-14-9 14-2 14 9 13-1-14-10 13-1 14 9 13-1-14-10 13 0 14 9 13 0-14-10 13 0 14 10 13 0-14-10 13 0 14 10 12 1"/><path stroke-opacity=".35" d="M1028 1997l-14-8 13-2 14 9 13-2-14-9 13-1 14 9 13 0-14-10 13 0 14 9 13 0-14-9 13 0 14 9 12 1-13-10 12 0 14 10 12 1-13-10 12 1 14 10 12 1-14-10 13 2 13 10 13 1-14-10 12 2 14 10 12 2-14-10M1145 2003l-14-10 13 0 14 10 12 1-14-10 13 1 14 10 12 2-14-11 12 2 14 10 12 2-13-11 12 2 13 11 12 2-13-11M1159 2013l-14-10 13 0 14 11 12 1-14-11 13 1 14 11 12 2-14-11 12 1 14 11 12 2-14-11 12 2 14 11 12 2-14-11"/>
<g stroke="none"><path fill="#ffdb00" d="M1317 2096l12 3 12 3-46-44-12-2-12-3z"/><path fill="#ffd000" d="M1305 2094l12 2 4 1-47-43-3-1-12-2z"/><path fill="#ffc300" d="M1293 2092l12 2 4 1-47-43-3-1-13-2z"/><path fill="#ffb500" d="M1269 2087l12 2 12 3 4 0-47-42-4-1-12-2-12-1z"/><path fill="#ffa800" d="M1256 2085l13 2 3 1-46-42-4 0-13-2z"/><path fill="#ff9b00" d="M1231 2082l13 2 12 1 4 1-47-41-4-1-12-1-13-1z"/><path fill="#ff8d00" d="M1219 2081l12 1 4 1-47-40-4-1-12 0z"/><path fill="#ff8000" d="M1193 2079l13 1 13 1 3 1-46-40-4 0-13-1-13 0z"/><path fill="#ff7300" d="M1168 2079l12 0 13 0 4 1-47-39-4 0-13 0-13 0z"/><path fill="#ff6500" d="M1141 2079l14 0 13 0 3 0-47-38-4 0-13 1-13 1z"/><path fill="#ff5800" d="M1102 2083l39-4 4 0-47-37-4 1-40 5z"/><path fill="#fd4b00" d="M935 2136l43-20 42-16 41-10 41-7 4-1-48-35-4 1-41 8-41 13-42 17-43 21z"/><path fill="#ff5800" d="M906 2152l14-9 15-7 4-3-48-28-4 2-15 9-14 9z"/><path fill="#ff6500" d="M876 2171l15-10 15-9 4-3-48-27-4 3-15 9-14 11z"/><path fill="#ff7300" d="M862 2181l14-10 5-3-48-26-4 3-15 11z"/><path fill="#ff8000" d="M832 2204l15-12 15-11 4-3-48-26-4 4-15 11-15 13z"/><path fill="#ff8d00" d="M817 2216l15-12 4-4-47-24-5 4-15 13z"/><path fill="#ff9b00" d="M802 2229l15-13 4-4-47-23-5 4-15 13z"/><path fill="#ffa800" d="M787 2243l15-14 4-4-47-23-5 4-15 15z"/><path fill="#ffb500" d="M771 2258l16-15 4-4-47-23-5 5-15 15z"/><path fill="#ffc300" d="M756 2274l15-16 5-4-48-22-4 4-15 16z"/><path fill="#ffd000" d="M741 2290l15-16 5-5-48-22-4 5-16 17z"/><path fill="#ffdb00" d="M726 2307l15-17 4-5-47-21-5 5-15 18z"/><path fill="#fff000" d="M710 2325l16-18 4-5-47-21-5 6-15 18z"/><path fill="#f2f300" d="M695 2344l15-19 5-6-48-20-4 6-16 19z"/><path fill="#e5f700" d="M679 2363l16-19 4-6-47-20-5 6-15 20z"/></g>
<path stroke-opacity=".55" d="M608 2336l-14-4 15-20 14 4 16-20-14-4 15-19 14 5 15-18-14-5 15-17 15 5 15-17-14-5 15-16 14 6 15-15M622 2341l-14-5 15-20 14 5 16-20-14-5 15-18 14 5 15-18-14-5 16-17 14 5 15-16-14-6 15-15 14 6 15-15M636 2346l-14-5 15-20 15 5 15-19-14-6 15-18 14 5 16-17-15-6 16-17 14 6 15-16-14-6 15-15 14 6 15-15"/><path stroke-opacity=".5" d="M730 2196l-14-6 15-14 14 6 15-13-14-6 15-13 14 6 15-12-15-6 15-12 14 7 15-11-14-6 14-11 15 7 14-9M744 2202l-14-6 15-14 14 6 15-13-14-6 15-13 14 6 15-11-14-7 14-11 15 7 14-11-14-7 15-10 14 8 14-10M758 2208l-14-6 15-14 14 7 15-13-14-7 15-13 14 7 15-11-14-7 15-11 14 7 15-10-15-8 15-9 14 7 15-9"/><path stroke-opacity=".45" d="M848 2103l-14-7 14-9 15 7 14-8-14-7 14-8 14 8 14-7-14-8 14-7 15 8 14-6-15-8 14-5 15 8 14-5M862 2110l-14-7 15-9 14 8 14-8-14-8 14-7 14 8 15-7-15-8 15-7 14 8 14-5-14-9 14-5 14 9 14-5M877 2118l-15-8 15-8 14 8 15-8-15-8 14-7 15 8 14-7-14-8 14-7 14 9 14-5-14-9 14-5 14 8 14-4"/><path stroke-opacity=".4" d="M962 2049l-15-8 14-5 14 9 14-4-14-9 14-4 14 9 13-3-14-9 14-3 14 9 13-2-14-10 14-2 14 10 13-2-14-9 13-2 14 10 13-1-14-10 13-1 14 11 13-1-14-10 13 0 14 10 13 1-14-11 13 0 14 11 12 1M976 2058l-14-9 13-4 15 8 13-3-14-9 14-4 14 9 14-3-15-9 14-3 14 10 14-2-15-10 14-2 14 10 13-2-14-10 13-1 14 10 13 0-14-11 13 0 14 10 13 0-14-11 13 0 14 11 13 1-14-11 13 0 14 11 12 1M990 2067l-14-9 14-5 14 10 14-4-15-9 14-4 14 10 14-3-14-10 13-2 14 10 14-2-14-10 13-2 14 10 13-1-14-11 13-1 15 11 13-1-15-10 13-1 15 11 12 0-14-11 13 0 14 11 13 1-14-11 13 0 14 12 12 1"/><path stroke-opacity=".35" d="M1173 2024l-14-11 13 1 14 11 12 1-14-11 13 1 13 11 13 2-14-11 12 1 14 12 12 2-14-12 12 2 14 12 12 2-14-12M1187 2035l-14-11 13 1 14 11 12 2-14-12 12 1 14 12 13 2-14-12 12 2 14 12 12 2-14-12 12 2 14 12 12 2-14-12M1201 2047l-14-12 13 1 14 12 12 1-14-11 12 1 14 12 13 2-14-12 12 2 14 12 12 2-14-12 12 2 14 12 12 3-14-13"/>
<g stroke="none"><path fill="#e5f700" d="M1371 2142l12 3-46-47-12-3z"/><path fill="#f2f300" d="M1360 2139l11 3 4 1-47-47-3-1-12-3z"/><path fill="#fff000" d="M1348 2136l12 3 3 1-47-47-3-1-12-2z"/><path fill="#ffe500" d="M1324 2131l12 3 12 2 3 1-47-46-3-1-12-2-12-3z"/><path fill="#ffdb00" d="M1311 2129l13 2 3 1-47-46-3-1-13-2z"/><path fill="#ffd000" d="M1287 2124l12 2 12 3 4 0-47-45-4-1-12-1-12-2z"/><path fill="#ffc300" d="M1274 2122l13 2 4 1-48-44-3-1-13-1z"/><path fill="#ffb500" d="M1249 2119l13 2 12 1 4 1-47-44-4 0-13-2-12 0z"/><path fill="#ffa800" d="M1237 2118l12 1 4 1-47-43-4 0-13-1z"/><path fill="#ff9b00" d="M1211 2116l13 1 13 1 3 0-47-42-4 0-13-1-13 0z"/><path fill="#ff8d00" d="M1185 2116l13 0 13 0 4 1-48-42-4 0-13 0-13 1z"/><path fill="#ff8000" d="M1159 2117l13-1 13 0 4 0-48-40-4 0-13 1-13 1z"/><path fill="#ff7300" d="M1118 2121l41-4 4 0-48-39-4 0-41 6z"/><path fill="#ff6500" d="M964 2172l43-20 43-16 41-10 27-5 4-1-48-37-4 1-27 6-42 12-42 17-43 22z"/><path fill="#ff7300" d="M921 2197l43-25 5-2-49-32-4 3-44 27z"/><path fill="#ff8000" d="M906 2207l15-10 4-2-49-30-4 3-15 11z"/><path fill="#ff8d00" d="M876 2229l15-11 15-11 4-3-48-29-5 4-15 11-15 11z"/><path fill="#ff9b00" d="M861 2241l15-12 4-3-48-28-5 3-15 13z"/><path fill="#ffa800" d="M846 2254l15-13 4-4-48-27-5 4-15 13z"/><path fill="#ffb500" d="M816 2281l15-14 15-13 4-4-48-27-5 4-15 14-15 15z"/><path fill="#ffc300" d="M800 2296l16-15 4-4-48-25-5 4-15 15z"/><path fill="#ffd000" d="M785 2312l15-16 5-4-49-25-4 4-15 17z"/><path fill="#ffe500" d="M769 2329l16-17 5-4-49-25-4 5-16 17z"/><path fill="#fff000" d="M754 2347l15-18 5-5-48-24-5 5-15 18z"/><path fill="#f2f300" d="M738 2365l16-18 5-6-49-23-4 5-16 19z"/><path fill="#e5f700" d="M723 2384l15-19 5-6-48-23-5 6-15 19z"/></g>
<path stroke-opacity=".55" d="M650 2351l-14-5 16-20 14 5 15-19-14-5 15-19 15 6 15-17-14-6 15-17 14 6 15-16-14-6 15-15 15 6 15-14M665 2357l-15-6 16-20 14 6 16-19-15-6 16-18 14 6 15-17-14-6 15-17 15 7 15-16-15-7 16-15 14 7 15-14M679 2363l-14-6 15-20 15 7 15-19-14-7 15-18 15 7 15-17-15-7 16-16 14 7 15-16-14-7 15-15 15 7 15-14"/><path stroke-opacity=".5" d="M773 2215l-15-7 15-13 15 6 15-12-15-7 15-13 15 8 15-12-15-7 15-11 14 7 15-10-14-7 14-10 15 8 14-9M787 2222l-14-7 15-14 14 8 15-13-14-7 15-12 14 7 15-11-14-8 14-11 15 8 14-9-14-9 15-9 14 8 15-8M802 2229l-15-7 15-13 15 7 15-12-15-8 15-12 15 8 15-11-15-8 15-11 14 9 15-10-15-8 15-10 15 9 14-9"/><path stroke-opacity=".45" d="M891 2126l-14-8 14-8 15 8 14-8-14-8 14-7 14 8 14-6-14-9 14-6 15 9 14-5-15-9 14-6 15 10 14-5-15-9 14-4 14 9 14-3-14-10 13-3 15 10 13-3-14-10 13-2 15 10 13-2-14-10 13-2 14 11 14-1M906 2135l-15-9 15-8 14 9 14-8-14-9 14-7 15 9 14-6-15-9 15-6 14 9 14-5-14-9 14-5 14 9 14-4-14-10 13-4 15 10 14-3-15-10 14-3 14 10 14-2-15-11 14-2 14 11 14-2-15-11 13-1 15 11 13-1M920 2143l-14-8 14-8 15 9 14-8-15-9 15-7 14 10 15-6-15-10 14-6 15 10 14-5-15-10 14-5 15 10 14-4-15-10 14-4 14 11 14-3-14-11 13-3 15 11 13-2-14-11 13-2 15 11 13-2-14-11 13-1 14 11 13-1"/><path stroke-opacity=".4" d="M1113 2057l-15-11 14-1 14 11 13 0-14-12 13 0 14 11 13 1-15-12 13 0 14 12 13 1-14-12 13 1 14 12 12 1M1127 2068l-14-11 13-1 14 11 13 0-14-11 13-1 14 12 13 0-14-11 12 0 15 12 12 1-14-12 13 1 14 12 13 1M1141 2079l-14-11 13-1 15 12 13 0-15-12 13 0 14 12 13 0-14-12 13 1 14 12 13 1-15-12 13 1 14 12 13 2-14-13 12 2 14 12 13 2-15-13 13 2 14 13 12 3-14-14 12 3 14 13 12 2-14-13 12 2 14 14 12 3-14-14"/><path stroke-opacity=".35" d="M1215 2059l-14-12 13 1 14 12 12 2-14-13 12 2 14 12 13 2-14-12 12 2 14 13 12 2-14-13 12 2 14 13 12 3-14-13M1230 2071l-15-12 13 1 14 13 12 1-14-12 12 1 15 13 12 2-14-13 12 3 14 13 12 2-14-13 12 2 14 13 12 3-14-13"/>
<g stroke="none"><path fill="#a5f200" d="M1414 2189l12 3-47-51-12-3z"/><path fill="#b6f500" d="M1403 2185l11 4 4 1-47-51-4-1-12-3z"/><path fill="#c7f700" d="M1391 2182l12 3 3 1-47-50-4-1-12-3z"/><path fill="#d8fa00" d="M1379 2179l12 3 3 1-47-50-4-1-12-3z"/><path fill="#e5f700" d="M1367 2176l12 3 3 1-47-50-4-1-12-2z"/><path fill="#f2f300" d="M1343 2170l12 3 12 3 3 1-47-50-4 0-12-3-12-2z"/><path fill="#fff000" d="M1330 2167l13 3 3 1-47-48-4-1-13-2z"/><path fill="#ffe500" d="M1318 2165l12 2 4 1-48-47-4-1-12-2z"/><path fill="#ffdb00" d="M1293 2161l13 2 12 2 4 1-48-47-4-1-12-1-13-2z"/><path fill="#ffd000" d="M1280 2159l13 2 4 1-48-46-4-1-13-1z"/><path fill="#ffc300" d="M1255 2157l13 1 12 1 4 1-48-46-4 0-13-1-12 0z"/><path fill="#ffb500" d="M1229 2155l13 1 13 1 4 0-49-44-3 0-13-1-13 0z"/><path fill="#ffa800" d="M1203 2155l13 0 13 0 4 0-48-43-4 0-14 1-13 0z"/><path fill="#ff9b00" d="M1176 2157l14-1 13-1 4 0-49-42-4 0-13 1-13 2z"/><path fill="#ff8d00" d="M1136 2162l40-5 4-1-48-41-4 1-41 6z"/><path fill="#ff8000" d="M995 2210l43-20 42-15 42-11 14-2 4-1-49-39-4 0-14 4-42 12-42 17-44 22z"/><path fill="#ff8d00" d="M951 2236l44-26 4-2-49-34-5 3-44 28z"/><path fill="#ff9b00" d="M921 2257l15-11 15-10 4-2-49-32-5 3-15 10-14 11z"/><path fill="#ffa800" d="M906 2269l15-12 4-3-49-31-4 3-15 12z"/><path fill="#ffb500" d="M876 2294l15-13 15-12 4-4-49-30-4 3-16 13-15 14z"/><path fill="#ffc300" d="M860 2308l16-14 4-4-49-29-5 4-15 14z"/><path fill="#ffd000" d="M845 2322l15-14 5-4-49-29-5 4-15 15z"/><path fill="#ffdb00" d="M830 2338l15-16 5-4-50-28-4 4-16 16z"/><path fill="#ffe500" d="M814 2354l16-16 4-5-49-28-5 5-15 17z"/><path fill="#fff000" d="M799 2371l15-17 5-5-49-27-5 5-15 17z"/><path fill="#f2f300" d="M783 2389l16-18 4-5-49-27-4 5-16 19z"/><path fill="#e5f700" d="M768 2408l15-19 5-5-49-27-5 6-16 19z"/></g>
<path stroke-opacity=".55" d="M694 2370l-15-7 16-19 14 6 16-18-15-7 16-18 14 7 15-17-14-7 15-16 15 7 15-15-15-8 16-15 14 8 15-14M708 2377l-14-7 15-20 15 7 15-18-14-7 15-18 15 7 15-17-15-7 16-16 14 7 16-15-15-7 15-15 15 8 15-14M723 2384l-15-7 16-20 14 8 16-18-15-8 16-18 14 8 16-17-15-8 15-16 15 8 16-15-15-8 15-14 15 8 15-13-15-9 15-13 15 9 15-12-15-9 15-11 15 9 15-11-15-9 15-10 15 9 14-9-15-9 15-9 15 10 14-8"/><path stroke-opacity=".5" d="M816 2237l-14-8 15-13 14 8 15-12-14-8 15-12 14 8 15-11-14-8 14-10 15 8 15-9-15-9 15-9 14 9 15-8M831 2245l-15-8 15-13 15 8 15-12-15-8 15-12 15 9 15-11-15-9 15-10 15 9 14-9-14-9 14-9 15 9 15-8-15-9 14-8 15 10 14-7-14-10 14-7 15 10 14-5-15-11 14-5 15 10 14-4-15-11 14-4 15 10 14-3M964 2172l-14-10 14-7 15 9 14-6-15-10 15-7 14 11 15-6-15-10 14-6 15 11 14-5-15-10 14-5 15 11 13-3"/><path stroke-opacity=".45" d="M935 2153l-15-10 15-7 14 9 15-7-15-10 14-6 15 9 14-6-14-9 14-6 14 10 14-5-14-10 14-5 14 11 14-4-14-11 13-3 15 11 14-3-15-11 14-3 14 11 14-2-15-11 14-2 14 11 13-1-14-12 13-1 15 12 13-1M1063 2118l-15-11 14-3 15 11 13-3-14-11 13-3 15 11 13-2-14-11 13-2 15 12 13-1-15-12 14-1 14 12 13-1M1077 2129l-14-11 14-3 14 11 14-3-15-11 14-3 14 12 14-2-15-12 14-1 14 12 14-1-15-12 13-1 15 12 13 0"/><path stroke-opacity=".4" d="M1156 2091l-15-12 14 0 14 12 13 0-14-12 12 0 15 12 13 1-15-13 13 1 14 13 13 1-14-13 12 1 15 13 12 2-14-13 12 1 14 14 13 2-14-14 12 2 14 14 12 2-14-13 12 2 14 14 12 2-14-14 12 3 14 14 12 3-14-14M1170 2103l-14-12 13 0 14 12 13 1-14-13 13 0 14 13 13 1-14-13 12 1 15 13 12 1-14-13 13 1 14 14 12 1-14-13 12 2 15 13 12 2-14-13 12 2 14 14 12 2-14-14 12 3 14 14 12 3-14-15 12 3 14 14 12 3-14-14M1185 2116l-15-13 13 0 15 13 13 0-15-12 13 0 15 13 13 1-15-13 13 1 14 13 13 2-15-14 13 2 14 13 13 2-15-14 13 2 14 14 12 3-14-15 12 3 15 14 12 3-15-15 12 3 15 14 12 3-15-14 12 2 14 15 12 3-14-15"/>
<g stroke="none"><path fill="#8ce800" d="M1458 2238l11 4-47-55-12-3z"/><path fill="#94eb00" d="M1434 2230l12 4 12 4 3 1-48-54-3-1-12-3-12-4z"/><path fill="#9def00" d="M1422 2227l12 3 4 2-48-54-4-1-12-3z"/><path fill="#a5f200" d="M1410 2223l12 4 4 1-48-53-4-1-12-3z"/><path fill="#b6f500" d="M1398 2220l12 3 4 1-48-52-4-1-12-3z"/><path fill="#c7f700" d="M1386 2217l12 3 4 1-48-52-4-1-12-2z"/><path fill="#d8fa00" d="M1362 2211l12 3 12 3 4 1-48-52-4 0-12-3-12-2z"/><path fill="#e5f700" d="M1350 2208l12 3 4 1-49-51-3 0-13-2z"/><path fill="#f2f300" d="M1337 2206l13 2 3 1-48-50-4 0-12-2z"/><path fill="#fff000" d="M1312 2201l13 2 12 3 4 0-49-49-3 0-13-2-13-1z"/><path fill="#ffe500" d="M1299 2200l13 1 4 1-49-48-4 0-13-1z"/><path fill="#ffdb00" d="M1274 2197l13 1 12 2 4 0-49-47-4 0-12-1-13-1z"/><path fill="#ffd000" d="M1248 2196l13 0 13 1 4 1-49-47-4 0-13 0-14 0z"/><path fill="#ffc300" d="M1221 2196l13 0 14 0 4 0-50-45-4 0-13 1-13 1z"/><path fill="#ffb500" d="M1194 2198l14-1 13-1 4 0-49-44-4 1-14 1-13 2z"/><path fill="#ffa800" d="M1153 2204l41-6 4 0-49-43-4 1-41 8z"/><path fill="#ff9b00" d="M1026 2251l43-21 43-15 41-11 5 0-50-41-4 1-42 12-43 17-43 22z"/><path fill="#ffa800" d="M981 2278l45-27 4-2-50-36-4 2-45 29z"/><path fill="#ffb500" d="M951 2299l15-11 15-10 5-3-50-35-5 4-15 10-15 12z"/><path fill="#ffc300" d="M936 2311l15-12 5-3-50-34-5 4-15 12z"/><path fill="#ffd000" d="M906 2337l15-13 15-13 5-4-50-32-5 3-15 13-15 14z"/><path fill="#ffdb00" d="M891 2351l15-14 5-4-51-32-4 4-15 15z"/><path fill="#ffe500" d="M875 2366l16-15 4-4-50-32-4 5-16 15z"/><path fill="#fff000" d="M860 2382l15-16 5-4-50-31-5 4-15 17z"/><path fill="#f2f300" d="M844 2399l16-17 4-4-50-31-4 5-16 17z"/><path fill="#e5f700" d="M829 2417l15-18 5-5-50-30-5 5-15 18z"/><path fill="#d8fa00" d="M813 2435l16-18 4-5-50-31-4 6-16 19z"/></g>
<path stroke-opacity=".55" d="M738 2392l-15-8 15-19 15 8 16-19-15-7 15-18 15 8 16-16-15-9 15-16 15 9 15-15-14-9 15-14 15 9 15-13-15-9 15-13 15 9 15-12-15-9 15-11 15 9 15-10-15-10 15-10 14 10 15-9-15-10 15-8 15 10 14-8M753 2400l-15-8 15-19 15 8 16-18-15-9 15-17 15 8 16-16-15-8 15-16 15 8 15-14-15-9 16-14 15 9 15-13-15-9 15-13 15 9 15-11-15-10 15-11 15 10 15-11-15-9 14-10 15 10 15-9-15-10 15-8 15 10 14-8M768 2408l-15-8 15-19 15 8 16-18-15-8 15-18 15 9 16-16-15-9 15-16 15 9 15-14-15-9 16-14 15 9 15-13-15-9 15-13 15 10 15-12-15-9 15-11 15 9 15-10-15-10 14-9 15 10 15-9-15-10 15-8 15 10 14-7"/><path stroke-opacity=".5" d="M979 2182l-15-10 15-8 15 11 14-7-15-10 14-6 15 10 14-5-14-11 14-5 15 11 14-4-15-12 14-4 14 12 14-4M994 2192l-15-10 15-7 15 10 14-6-15-11 14-6 15 11 14-5-15-11 15-5 14 11 14-4-14-11 13-4 15 11 14-3M1009 2203l-15-11 15-7 15 11 14-6-15-11 14-6 15 11 14-5-15-11 14-5 15 12 14-4-15-12 14-4 15 12 14-3"/><path stroke-opacity=".45" d="M1092 2140l-15-11 14-3 15 11 14-2-15-12 13-2 15 12 14-2-15-12 13-1 15 12 13-1-14-12 13-1 15 13 13 0M1107 2152l-15-12 14-3 15 12 13-2-14-12 13-2 15 12 13-1-14-13 13-1 15 13 13-1-15-13 14 0 14 13 13 0M1122 2164l-15-12 14-3 15 13 13-3-15-12 14-2 15 13 13-1-15-13 14-1 15 13 13-1-15-13 13 0 15 13 13 0"/><path stroke-opacity=".4" d="M1200 2129l-15-13 13 0 15 13 13 0-15-13 13 1 14 13 13 1-14-13 12 1 15 14 12 1-14-13 12 1 15 14 12 2-14-14 12 2 15 14 12 3-15-14 13 2 14 15 12 2-14-14 12 2 14 15 12 3-14-15 11 3 15 15 11 4-14-16M1214 2142l-14-13 13 0 14 13 13 1-14-14 12 1 15 14 13 1-15-14 13 2 14 14 13 1-15-14 13 2 14 14 13 3-15-15 13 2 14 15 12 3-14-15 12 3 14 14 12 3-14-15 12 3 14 15 12 4-14-16 12 3 14 16 12 3-15-15M1229 2155l-15-13 13 0 15 14 13 1-15-14 13 1 15 14 12 1-14-14 12 2 15 14 13 2-15-15 12 2 15 15 12 2-14-14 12 2 15 15 12 3-15-15 12 2 15 16 12 3-15-16 12 3 15 16 12 3-15-15 12 3 14 16 12 3-14-16"/>
<g stroke="none"><path fill="#6ee200" d="M1501 2291l12 4-48-58-12-4z"/><path fill="#78e400" d="M1478 2282l12 4 11 5 4 1-48-58-4-1-11-4-12-3z"/><path fill="#82e600" d="M1466 2278l12 4 3 1-48-56-3-1-12-4z"/><path fill="#8ce800" d="M1443 2270l11 4 12 4 4 1-48-56-4-1-12-4-12-3z"/><path fill="#94eb00" d="M1431 2266l12 4 3 1-48-55-4-1-12-3z"/><path fill="#9def00" d="M1406 2259l13 3 12 4 3 1-48-54-4-1-12-3-12-3z"/><path fill="#a5f200" d="M1394 2256l12 3 4 1-49-53-3-1-13-3z"/><path fill="#b6f500" d="M1382 2253l12 3 4 1-49-53-4-1-12-2z"/><path fill="#c7f700" d="M1369 2250l13 3 4 1-50-52-3-1-13-2z"/><path fill="#d8fa00" d="M1357 2247l12 3 4 1-49-51-4-1-12-2z"/><path fill="#e5f700" d="M1332 2243l12 2 13 2 4 1-50-50-3-1-13-2-13-1z"/><path fill="#f2f300" d="M1319 2242l13 1 3 1-49-50-4 0-13-1z"/><path fill="#fff000" d="M1293 2239l13 1 13 2 4 0-50-49-4 0-13-1-13 0z"/><path fill="#ffe500" d="M1267 2238l13 1 13 0 4 1-50-48-4 0-13 0-13 0z"/><path fill="#ffdb00" d="M1240 2239l13 0 14-1 4 1-50-47-4 0-14 1-13 1z"/><path fill="#ffd000" d="M1213 2242l14-2 13-1 4 0-50-45-4 0-14 2-13 2z"/><path fill="#ffc300" d="M1158 2253l41-9 14-2 4-1-50-44-4 1-14 2-42 11z"/><path fill="#ffb500" d="M1072 2286l43-19 43-14 4-1-51-42-4 1-43 16-43 21z"/><path fill="#ffc300" d="M1028 2311l44-25 4-2-51-39-4 3-44 27z"/><path fill="#ffd000" d="M983 2344l45-33 4-2-51-37-4 3-45 33z"/><path fill="#ffdb00" d="M968 2356l15-12 4-4-51-36-4 4-15 13z"/><path fill="#ffe500" d="M937 2383l15-14 16-13 4-4-51-35-4 4-16 13-15 14z"/><path fill="#fff000" d="M922 2398l15-15 5-4-51-35-5 4-15 15z"/><path fill="#f2f300" d="M906 2413l16-15 4-5-51-34-4 4-16 16z"/><path fill="#e5f700" d="M890 2430l16-17 5-4-51-34-5 4-15 17z"/><path fill="#d8fa00" d="M875 2447l15-17 5-5-51-34-4 5-16 18z"/><path fill="#c7f700" d="M859 2466l16-19 5-5-51-33-5 5-16 19z"/></g>
<path stroke-opacity=".55" d="M783 2417l-15-9 15-19 15 9 16-18-15-9 15-17 15 9 16-16-15-9 15-16 15 10 15-15-15-9 16-14 15 10 15-13-15-10 15-12 15 10 15-12-15-10 15-11 15 11 15-10-15-11 14-9 15 10 15-8-15-11 15-8 15 11 14-7M798 2426l-15-9 15-19 15 9 16-17-15-10 15-17 15 10 16-16-15-10 15-15 15 9 16-14-16-10 16-13 15 10 15-13-15-10 15-12 15 10 15-11-15-11 15-10 15 10 15-10-15-10 14-10 16 11 14-8-15-11 15-8 15 11 14-7M813 2435l-15-9 15-19 16 10 15-18-15-9 15-17 16 9 15-16-15-9 15-16 16 10 15-14-15-10 15-13 15 10 15-13-15-10 15-12 15 10 15-11-15-10 15-11 15 11 15-10-15-11 15-9 15 11 15-8-16-11 15-8 15 11 15-7"/><path stroke-opacity=".5" d="M1024 2214l-15-11 15-7 15 11 14-6-15-11 14-6 15 12 14-5-15-12 14-4 15 11 14-3-15-12 14-4 15 12 14-3M1039 2225l-15-11 15-7 15 11 14-5-15-12 14-5 15 11 14-4-15-12 14-5 16 12 13-3-15-12 14-4 15 13 14-3M1055 2236l-16-11 15-7 15 12 14-6-15-11 14-6 16 12 14-4-16-12 15-5 15 13 14-4-16-12 14-3 15 12 14-2"/><path stroke-opacity=".45" d="M1137 2176l-15-12 14-2 15 12 13-2-15-13 14-1 15 13 13-1-15-13 14-1 15 13 13 0-15-14 13 0 15 14 13 0M1152 2189l-15-13 14-2 15 13 13-2-15-13 14-1 15 13 13-1-15-13 14-1 14 13 14 0-15-13 13 0 15 13 13 1M1167 2202l-15-13 14-2 15 13 13-2-15-13 14-1 15 13 13-1-15-13 13-1 15 14 14 0-15-14 13 0 15 14 13 1"/><path stroke-opacity=".4" d="M1244 2169l-15-14 13 1 15 14 13 1-15-14 13 1 14 14 13 2-15-15 13 2 15 15 12 2-14-15 12 2 15 15 12 2-15-15 13 3 14 15 12 3-14-15 12 3 14 15 12 3-14-15 12 3 14 16 12 3-14-16 11 4 15 16 11 3-14-16M1259 2183l-15-14 13 1 15 14 12 1-14-14 12 1 15 15 13 1-15-14 13 2 14 14 13 3-15-15 13 2 14 15 13 3-15-16 12 3 15 16 12 3-15-16 12 3 15 16 12 3-15-16 12 4 15 16 11 4-14-17 12 4 14 16 12 4-15-17M1274 2197l-15-14 13 1 15 14 12 2-15-15 13 2 15 14 13 2-15-15 12 2 15 16 13 2-15-15 12 2 15 16 12 3-14-16 12 3 14 16 12 3-14-16 12 3 14 16 12 4-14-17 12 4 14 16 12 4-15-16 12 3 15 17 11 4-14-17"/>
<g stroke="none"><path fill="#5fde00" d="M1534 2341l11 5 11 5-48-61-11-5-12-4z"/><path fill="#64df00" d="M1522 2336l12 5 3 1-48-60-4-1-11-4z"/><path fill="#69e100" d="M1511 2331l11 5 4 1-49-59-3-1-12-5z"/><path fill="#6ee200" d="M1487 2322l12 4 12 5 3 1-49-58-3-2-12-4-12-3z"/><path fill="#78e400" d="M1475 2318l12 4 4 1-49-57-4-1-12-4z"/><path fill="#82e600" d="M1451 2309l12 4 12 5 4 1-49-57-4-1-12-4-12-3z"/><path fill="#8ce800" d="M1439 2306l12 3 4 2-49-56-4-1-12-3z"/><path fill="#94eb00" d="M1415 2299l12 3 12 4 4 1-50-55-3-1-13-3-12-3z"/><path fill="#9def00" d="M1402 2296l13 3 3 1-49-54-4-1-13-2z"/><path fill="#a5f200" d="M1390 2293l12 3 4 1-50-54-4 0-12-2z"/><path fill="#b6f500" d="M1364 2288l13 2 13 3 4 1-50-53-4 0-13-2-13-2z"/><path fill="#c7f700" d="M1352 2286l12 2 4 1-50-51-4-1-13-1z"/><path fill="#d8fa00" d="M1339 2285l13 1 4 1-51-51-4 0-13-1z"/><path fill="#e5f700" d="M1313 2283l13 1 13 1 4 0-51-50-4 0-13-1-13 0z"/><path fill="#f2f300" d="M1286 2282l14 0 13 1 4 0-51-49-4 0-13 0-14 1z"/><path fill="#fff000" d="M1259 2284l14-1 13-1 4 0-51-47-4 0-13 1-14 2z"/><path fill="#ffe500" d="M1218 2290l41-6 4 0-51-47-4 1-41 7z"/><path fill="#ffdb00" d="M1060 2357l44-26 44-21 42-14 28-6 4-1-51-45-4 1-28 8-43 16-43 21-45 28z"/><path fill="#ffe500" d="M1030 2378l15-11 15-10 4-3-51-39-5 3-15 11-15 11z"/><path fill="#fff000" d="M999 2403l16-13 15-12 4-3-51-38-5 3-15 13-15 13z"/><path fill="#f2f300" d="M984 2417l15-14 5-4-52-37-4 4-16 14z"/><path fill="#e5f700" d="M953 2447l16-16 15-14 5-4-52-38-5 5-15 14-16 16z"/><path fill="#d8fa00" d="M938 2463l15-16 5-5-52-37-5 5-15 17z"/><path fill="#c7f700" d="M922 2480l16-17 4-5-52-36-4 5-16 17z"/><path fill="#a5f200" d="M906 2498l16-18 5-5-52-36-5 5-16 18z"/></g>
<path stroke-opacity=".55" d="M828 2445l-15-10 16-18 15 10 16-18-16-10 16-17 15 10 16-15-16-11 16-15 15 11 15-15-15-10 15-13 16 10 15-12-16-11 15-12 16 11 15-11-16-11 15-10 16 11 15-10-16-11 15-9 15 11 15-8-15-11 14-8 16 12 14-7M844 2455l-16-10 16-18 15 10 16-18-15-10 15-17 16 11 15-16-15-10 15-15 15 10 16-14-16-11 16-13 15 11 15-13-15-10 15-12 15 11 15-11-15-11 15-10 15 11 15-9-15-12 14-9 16 12 14-8-15-12 15-7 15 12 14-7M859 2466l-15-11 15-18 16 10 15-17-15-11 16-16 15 10 16-15-16-11 15-15 16 11 15-14-15-11 15-13 16 11 15-12-16-12 15-11 16 11 15-11-16-11 15-10 16 11 14-9-15-11 15-9 15 12 15-8-16-12 15-7 15 12 15-7"/><path stroke-opacity=".5" d="M1070 2248l-15-12 14-6 15 12 15-6-16-12 15-5 15 13 14-5-15-12 14-4 15 12 14-3-15-13 13-3 16 13 13-2M1085 2260l-15-12 14-6 16 12 14-5-15-13 14-4 15 12 14-4-15-13 14-4 15 13 14-3-15-13 14-3 15 13 14-2M1101 2272l-16-12 15-6 15 13 14-6-15-12 14-5 16 13 14-4-16-13 14-4 16 13 13-3-15-13 14-3 15 14 14-2"/><path stroke-opacity=".45" d="M1182 2215l-15-13 14-2 15 13 14-1-16-14 14-1 15 14 13-1-15-14 13 0 16 14 13 0-15-14 13 0 15 15 13 1M1198 2228l-16-13 14-2 15 14 14-2-15-13 13-1 15 14 13-1-15-14 14 0 15 14 13 1-15-15 13 1 15 14 13 2M1213 2242l-15-14 13-1 16 13 13-1-15-14 13 0 15 14 14-1-16-14 14 0 15 15 13 0-15-14 13 0 15 15 13 2"/><path stroke-opacity=".4" d="M1289 2212l-15-15 13 1 15 15 12 2-15-15 13 1 15 15 13 3-15-16 12 3 15 15 12 3-14-16 12 3 15 15 12 3-15-15 12 3 15 16 12 3-15-16 12 3 15 17 12 3-15-16 12 3 15 17 11 4-14-17 12 4 14 17 12 4-15-17M1304 2227l-15-15 13 1 15 15 12 2-15-15 13 1 15 16 12 2-14-15 12 2 15 16 12 2-15-15 13 2 15 16 12 4-15-17 12 4 15 16 12 4-15-17 12 4 15 16 12 4-15-17 12 4 14 17 12 5-15-18 12 4 15 18 11 4-14-18M1319 2242l-15-15 13 1 15 15 12 2-15-15 13 2 15 15 12 3-15-16 13 3 15 16 12 3-15-17 13 3 14 17 13 3-15-16 12 3 15 17 12 4-15-17 12 3 14 18 12 4-14-18 11 4 15 18 12 4-15-17 12 4 14 18 12 4-15-18"/>
<path stroke-opacity=".55" d="M875 2476l-16-10 16-19 15 11 16-18-16-10 16-17 16 11 15-16-15-10 15-15 16 11 15-14-16-11 16-13 15 11 15-12-15-11 15-12 15 12 15-11-15-12 15-10 15 12 15-9-16-12 15-8 16 12 14-8-15-12 14-7 16 12 14-6M890 2487l-15-11 15-18 16 11 16-18-16-11 16-16 15 11 16-15-16-12 16-14 15 11 16-14-16-11 15-13 16 12 15-12-16-12 15-11 16 11 15-10-16-12 15-10 16 12 15-9-16-12 15-8 15 12 15-7-16-13 15-7 16 13 14-6M906 2498l-16-11 16-18 16 11 16-17-16-12 15-16 16 12 16-16-16-11 15-15 16 12 15-14-15-12 15-12 16 11 15-12-16-11 15-12 16 12 15-10-16-12 15-10 16 12 14-8-15-13 14-8 16 13 15-8-16-12 15-7 15 13 15-7"/><path stroke-opacity=".5" d="M1116 2285l-15-13 14-5 16 12 14-5-16-13 15-4 15 13 14-4-15-13 14-4 15 13 14-2-16-14 14-2 16 13 13-1M1132 2298l-16-13 15-6 15 13 15-5-16-13 14-4 16 13 14-4-16-13 14-4 16 14 13-3-15-13 14-3 15 14 14-1M1148 2310l-16-12 14-6 16 13 14-5-15-13 14-4 15 13 14-3-15-14 14-3 15 14 14-3-16-14 14-2 16 14 13-1"/><path stroke-opacity=".45" d="M1228 2256l-15-14 14-2 15 14 13-1-15-14 13 0 16 14 13 0-15-15 13 1 15 14 13 1-15-15 13 1 15 15 13 2M1244 2270l-16-14 14-2 15 14 14 0-16-15 14 0 15 15 13 0-15-15 13 0 15 15 13 1-15-15 13 1 15 16 13 1M1259 2284l-15-14 13-2 16 15 13-1-15-14 13 0 16 14 13 1-16-15 13 0 16 16 13 1-16-16 13 2 16 15 12 2"/><path stroke-opacity=".4" d="M1334 2257l-15-15 13 1 15 16 12 2-15-16 13 2 15 16 12 3-15-16 13 3 15 16 12 3-15-16 12 3 15 16 12 4-14-17 12 4 14 17 12 4-14-17 11 4 15 17 12 4-15-17 12 4 15 18 11 4-14-18 11 5 15 18 11 4-14-18M1349 2272l-15-15 13 2 15 15 13 3-16-16 13 2 15 16 13 3-16-16 13 3 15 16 12 4-15-17 12 3 15 17 12 4-15-17 12 4 15 17 12 4-15-17 12 4 15 18 12 4-15-18 12 5 14 18 12 4-15-18 12 5 14 18 12 5-15-19M1364 2288l-15-16 13 2 15 16 13 3-15-16 12 2 15 17 13 3-15-17 12 3 15 17 12 4-15-17 12 3 15 17 12 4-15-17 12 4 15 18 12 4-15-18 12 5 15 17 12 5-15-18 11 5 15 18 12 5-15-19 11 5 15 19 11 5-14-19"/>
<path d="M967 1886l12 1M929 1883l13 1M967 1886l-13-1M942 1884l12 1M892 1883l12 0M929 1883l-12 0M904 1883l13 0M892 1883l-13 0M867 1883l12 0M829 1886l13-1M867 1883l-13 1M842 1885l12-1M829 1886l-12 1M804 1889l13-2M804 1889l-12 2" stroke-opacity="0.75" stroke-width="6.5" stroke-linecap="round"/>
<path d="M906 2498l16-18 16-17 15-16 16-16 15-14 15-14 16-13 15-12 15-11 15-10 15-10 14-8 15-8 15-8 14-6 15-7 14-5 14-5 14-4 14-3 14-3 14-3 14-2 13-1 14-1 13-1 14 0 13 1 13 1 13 1 13 1 12 2 13 2 13 3 12 3 13 3 12 3 12 4 12 3 12 4 12 5 12 4 12 4 12 5 11 5 12 5 11 5 11 5M906 2498l-16-11-15-11-16-10-15-11-16-10-15-10-15-9-15-9-15-9-15-8-15-8-15-8-15-7-14-7-15-7-14-6-15-6-14-5-14-5-14-5-14-4-14-4-14-3-13-3-14-2-14-2-13-2-13-1-13 0-14 0-13 0-13 1-12 1-13 2-13 2-12 3-13 3-12 4-12 5-12 5-12 5-12 6-12 6-11 7-12 8-11 8-12 8-11 10" stroke-opacity="0.8" stroke-width="4"/>
</g>
<circle cx="180.3" cy="403.2" r="1.8" fill="#b8acb0" stroke="#7a5a60" stroke-width=".5"/>
<text transform="translate(41.3 402.2) scale(1 0.86)" font-size="11.8" text-anchor="end">99</text>
<text transform="translate(43.1 434.6) scale(1 0.86)" font-size="11.8" text-anchor="end">94</text>
<text transform="translate(44.3 467.9) scale(1 0.86)" font-size="11.8" text-anchor="end">89</text>
<text transform="translate(46.5 501.2) scale(1 0.86)" font-size="11.8" text-anchor="end">84</text>
<text transform="translate(48.5 534.4) scale(1 0.86)" font-size="11.8" text-anchor="end">79</text>
<text transform="translate(43.8 580.6) scale(1 0.86)" font-size="11.8" text-anchor="middle">65</text>
<text transform="translate(71.5 598.7) scale(1 0.86)" font-size="11.8" text-anchor="middle">62.5</text>
<text transform="translate(104.5 614.1) scale(1 0.86)" font-size="11.8" text-anchor="middle">60</text>
<text transform="translate(134.3 629.6) scale(1 0.86)" font-size="11.8" text-anchor="middle">57.5</text>
<text transform="translate(166.4 643.9) scale(1 0.86)" font-size="11.8" text-anchor="middle">55</text>
<text transform="translate(189.6 646.8) scale(1 0.86)" font-size="11.8" text-anchor="middle">1.5</text>
<text transform="translate(216.6 633.1) scale(1 0.86)" font-size="11.8" text-anchor="middle">2</text>
<text transform="translate(252.2 617) scale(1 0.86)" font-size="11.8" text-anchor="middle">2.5</text>
<text transform="translate(280.5 600.1) scale(1 0.86)" font-size="11.8" text-anchor="middle">3</text>
<text transform="translate(312 584.9) scale(1 0.86)" font-size="11.8" text-anchor="middle">3.5</text>
<text transform="translate(91.1 512.9)" font-size="18.6" text-anchor="middle">(c)</text>
<text transform="translate(12.9 480.2) rotate(-90)" font-size="12.8" text-anchor="middle">Biodiesel yield (%)</text>
<text transform="translate(74.1 641.7) rotate(29.4) skewX(-7) scale(0.94 1)" font-size="12.4" text-anchor="middle">D: Temperature (<tspan dy="-4.6" font-size="8.6">0</tspan><tspan dy="4.6">C)</tspan></text>
<text transform="translate(274.4 644.7) rotate(-28.4) scale(0.94 1)" font-size="12.4" text-anchor="middle">A: Nanocatalyst dosage (wt.%)</text>
</g>
<g id="p_d">
<polygon points="530.9,634.8 655.9,573.1 530.8,524.9 405.3,573.1" fill="#ffff00"/>
<path d="M581.4 544.4 578.5 543.7 574.7 542.8 572.9 542.3 569.1 541.5 566.8 541 563.4 540.2 560.1 539.5 557.7 539 553.9 538.2 552 537.8 548.2 537 546.3 536.6 542.4 535.9 540.4 535.5 536.6 534.8 534.6 534.4 531.2 533.8 528.7 533.4 526.1 532.9 522.8 532.4 520.8 532 516.8 531.4 514.7 531.1" fill="none" stroke="#60f000" stroke-opacity=".75" stroke-width="0.45"/>
<path d="M655.9 573.1 652.1 571.9 648.4 570.6 644.6 569.5 640.9 568.3 638.3 567.5 635.3 566.5 631.6 565.4 627.8 564.3 624.1 563.2 622.2 562.6 618.5 561.5 614.8 560.4 612.2 559.7 609.1 558.9 605.4 557.8 601.8 556.8 599.8 556.3 596 555.3 592.4 554.4 590.3 553.8 586.6 552.9 583.9 552.2 580.9 551.5 577.1 550.5 575.2 550.1 571.4 549.2 568.7 548.6 565.6 547.9 561.8 547 559.8 546.6 556 545.7 554 545.3 550.1 544.5 548.2 544.1 544.3 543.3 542.3 542.9 538.4 542.2 536.4 541.8 532.4 541 530.4 540.7 526.6 540 524.4 539.6 521.4 539.1 518.4 538.5 516.4 538.2 512.3 537.5 510.2 537.2 507 536.7 504.1 536.3 502 536" fill="none" stroke="#a0f800" stroke-opacity=".75" stroke-width="0.4"/>
<path d="M636.8 582.5 632.9 581.3 631 580.7 627.1 579.5 623.3 578.3 619.4 577.1 617.5 576.5 613.6 575.4 609.7 574.2 606.6 573.3 603.9 572.6 600 571.5 596.3 570.4 594.2 569.9 590.3 568.8 587 567.9 584.5 567.3 580.5 566.3 578.5 565.7 574.7 564.8 570.7 563.8 568.7 563.3 564.8 562.4 562.8 561.9 558.8 561 556.2 560.4 552.9 559.6 549.6 558.9 546.8 558.3 543.3 557.6 540.8 557.1 537.3 556.4 534.7 555.8 531.6 555.2 528.5 554.6 526 554.2 522.3 553.5 520.2 553.1 516.1 552.4 513.9 552 510.6 551.5 507.6 551 505.4 550.7 501.2 550 499 549.7 496.7 549.4 492.4 548.8 490.1 548.5 487.9 548.2 483.9 547.7 481.1 547.4 478.8 547.2 476 546.9" fill="none" stroke="#ffb000" stroke-opacity=".75" stroke-width="0.4"/>
<path d="M412.3 570.5 414.2 572.1 416.1 573.8 417.2 574.6 419.4 576.2 421.6 577.8 422.8 578.6 425.2 580.2 427.6 581.8 430.1 583.4 432.7 584.9 434 585.7 436.7 587.2 439.4 588.8 442.2 590.3 445.1 591.8 447.9 593.3 450.9 594.9 453.9 596.4 456.9 597.9 460 599.4 463.1 601 466.2 602.5 469.4 604 472.6 605.5 475.9 607.1 479.2 608.6 482.5 610.1 485.9 611.7 489.3 613.2 492.7 614.8 496.1 616.4 499.6 617.9 503.1 619.5 506.6 621.1 508.3 621.9 511.9 623.5 515.5 625.2 519 626.8 522.6 628.4 526.3 630.1 529.9 631.8 533.5 633.5" fill="none" stroke="#ffb000" stroke-opacity=".75" stroke-width="0.4"/>
<path d="M405.3 573.1L396.9 397.2M396.9 397.2L530.7 366.8M530.7 366.8L663.9 397.9M663.9 397.9L655.9 573.1M530.7 366.8L530.8 524.9" fill="none" stroke="#000" stroke-opacity=".75" stroke-width=".6"/>
<path d="M530.9 634.8L529.2 633.9M565.4 617.7L563.7 617M597.6 601.9L595.9 601.1M627.7 587L626 586.3M655.9 573.1L654.2 572.4M530.9 634.8L532.7 633.9M496.4 617.8L498.1 617M464.1 602L465.8 601.2M433.8 587.1L435.5 586.4M405.3 573.1L407 572.5" fill="none" stroke="#000" stroke-opacity=".6" stroke-width=".7"/>
<g transform="scale(.2)" fill="none" stroke="#000" stroke-opacity="0.6" stroke-width="3" stroke-linejoin="round">
<path d="M1996 2217l14-22 15-21 14-19 15-17 15-16 15-14 14-12 15-11 15-10 14-8 15-7 15-6 14-4 15-3 14-2 15 0 14 0 15 1 14 3 14 3 14 5 15 5 14 6 14 7 14 8 13 8 14 10 14 10 13 10 14 11 13 12 14 12 13 12 13 13 13 14 13 13 13 14 13 15 13 14 12 15 13 15 12 15 13 15 12 16 12 15 12 15 12 16 12 15M3303 2357l-15-3-16-2-15-2-15-2-15-1-15-2-14-2-15-1-15-1-14-1-15-1-14-1-15-1-14-1-14 0-14 0-14-1-14 0-14 0-14 0-14 1-13 0-14 1-14 0-13 1-13 1-14 1-13 1-13 1-13 1-13 2-13 2-13 1-13 2-13 2-12 2-13 2-13 3-12 2-12 3-13 2-12 3-12 3-12 3-12 3-12 3-12 4-12 3" stroke-opacity="0.8" stroke-width="6"/>
<g stroke="none"><path fill="#70ed00" d="M2666 2347l12 15 12 16-36 10-12-15-12-16z"/><path fill="#80f000" d="M2654 2331l12 16 3 4-35 11-4-5-12-15z"/><path fill="#98f300" d="M2642 2315l12 16 3 5-35 11-4-5-12-15z"/><path fill="#c8f800" d="M2629 2300l13 15 3 5-36 11-3-4-12-16z"/><path fill="#d5f700" d="M2617 2284l12 16 4 4-36 12-3-5-13-15z"/><path fill="#e3f500" d="M2605 2269l12 15 4 5-36 12-4-5-12-15z"/><path fill="#f5f300" d="M2592 2254l13 15 3 4-36 12-3-4-13-15z"/><path fill="#faf100" d="M2580 2239l12 15 4 4-36 12-4-4-12-15z"/><path fill="#fff000" d="M2567 2224l13 15 3 4-36 13-3-5-13-14z"/><path fill="#ffeb00" d="M2554 2210l13 14 4 5-36 12-4-4-13-15z"/><path fill="#ffe200" d="M2541 2196l13 14 4 4-36 13-4-5-13-14z"/><path fill="#ffd900" d="M2515 2169l13 13 13 14 4 4-36 12-4-4-13-13-13-14z"/><path fill="#ffd100" d="M2502 2156l13 13 4 4-36 12-4-4-13-13z"/><path fill="#ffc800" d="M2489 2144l13 12 4 4-36 12-4-4-13-12z"/><path fill="#ffc100" d="M2476 2132l13 12 4 3-36 12-4-3-14-12z"/><path fill="#ffbb00" d="M2462 2120l14 12 4 3-37 12-4-3-13-12z"/><path fill="#ffb400" d="M2449 2110l13 10 4 4-36 11-4-3-14-11z"/><path fill="#ffa000" d="M2435 2099l14 11 4 3-37 11-4-3-13-10z"/><path fill="#ff9600" d="M2421 2090l14 9 4 4-36 11-4-3-14-10z"/><path fill="#ff8e00" d="M2408 2081l13 9 5 3-37 11-4-3-14-10z"/><path fill="#ff7d00" d="M2380 2066l14 7 14 8 4 3-36 10-5-3-13-8-14-8z"/><path fill="#ff7300" d="M2366 2059l14 7 4 2-36 10-4-3-14-7z"/><path fill="#ff6a00" d="M2324 2044l42 15 4 2-36 9-4-2-43-16z"/><path fill="#ff6000" d="M2295 2039l14 2 15 3 4 2-36 8-5-2-14-3-14-3z"/><path fill="#ff5700" d="M2252 2040l43-1 4 1-36 7-4-1-44-1z"/><path fill="#ff4f00" d="M2208 2051l44-11 4-1-36 6-5 0-43 9z"/><path fill="#ff5700" d="M2164 2073l44-22 4-2-36 4-4 1-44 21z"/><path fill="#ff6000" d="M2134 2095l15-12 15-10 4-3-36 3-4 2-15 10-15 11z"/><path fill="#ff6a00" d="M2105 2122l15-14 14-13 5-4-36 2-5 3-14 12-15 14z"/><path fill="#ff7300" d="M2075 2156l15-17 15-17 4-4-36 0-4 4-15 16-15 17z"/><path fill="#ff7d00" d="M2061 2176l14-20 5-5-36-1-5 5-14 19z"/><path fill="#ff8500" d="M2046 2197l15-21 4-6-36-1-4 5-15 21z"/><path fill="#ff9600" d="M2031 2219l15-22 4-7-35-1-5 6-14 22z"/></g>
<g stroke="none"><path fill="#70ed00" d="M2714 2353l12 16-40 10-12-16z"/><path fill="#80f000" d="M2702 2337l12 16 4 5-40 10-4-5-12-15z"/><path fill="#b0f500" d="M2690 2321l12 16 4 5-40 10-4-4-12-16z"/><path fill="#c8f800" d="M2678 2305l12 16 4 4-40 12-4-5-12-16z"/><path fill="#d5f700" d="M2666 2289l12 16 4 4-40 12-4-5-12-15z"/><path fill="#f0f400" d="M2654 2273l12 16 4 5-41 11-3-4-12-16z"/><path fill="#f5f300" d="M2641 2258l13 15 3 5-40 12-3-5-13-15z"/><path fill="#faf100" d="M2629 2243l12 15 4 4-40 13-4-5-12-15z"/><path fill="#fff000" d="M2616 2228l13 15 4 4-41 12-3-4-13-15z"/><path fill="#ffe700" d="M2604 2213l12 15 4 4-40 12-4-4-13-15z"/><path fill="#ffe200" d="M2591 2199l13 14 3 4-40 13-4-5-12-14z"/><path fill="#ffd900" d="M2578 2185l13 14 4 4-41 12-3-4-13-14z"/><path fill="#ffd100" d="M2552 2158l13 13 13 14 4 4-40 12-4-4-13-14-13-13z"/><path fill="#ffc800" d="M2539 2145l13 13 4 4-40 12-4-4-13-13z"/><path fill="#ffbb00" d="M2526 2133l13 12 4 4-41 12-3-4-14-12z"/><path fill="#ffb400" d="M2512 2121l14 12 4 4-41 12-4-4-13-12z"/><path fill="#ffaa00" d="M2499 2110l13 11 4 4-40 11-4-3-13-11z"/><path fill="#ff9600" d="M2486 2100l13 10 4 4-40 11-4-3-14-11z"/><path fill="#ff8e00" d="M2472 2090l14 10 4 3-41 11-4-3-14-10z"/><path fill="#ff8500" d="M2458 2081l14 9 4 3-40 11-5-3-13-10z"/><path fill="#ff7d00" d="M2445 2072l13 9 4 3-40 10-4-3-14-9z"/><path fill="#ff7300" d="M2417 2058l14 7 14 7 4 3-41 10-4-3-14-8-14-8z"/><path fill="#ff6a00" d="M2389 2046l14 5 14 7 4 2-41 9-4-3-14-6-14-6z"/><path fill="#ff6000" d="M2375 2042l14 4 4 2-41 8-4-2-14-5z"/><path fill="#ff5700" d="M2346 2036l15 2 14 4 4 1-41 8-4-2-14-4-14-3z"/><path fill="#ff4f00" d="M2318 2034l14 0 14 2 5 1-41 6-4-1-15-2-14-1z"/><path fill="#ff4600" d="M2230 2055l44-16 44-5 4 0-41 5-4 0-44 4-43 14z"/><path fill="#ff4f00" d="M2201 2073l14-10 15-8 5-2-41 2-4 2-15 7-15 9z"/><path fill="#ff5700" d="M2171 2096l15-13 15-10 4-3-40 0-5 3-14 10-15 12z"/><path fill="#ff6000" d="M2156 2109l15-13 5-4-41-1-4 4-15 13z"/><path fill="#ff6a00" d="M2127 2141l15-17 14-15 5-4-41-1-4 4-15 14-14 16z"/><path fill="#ff7300" d="M2097 2179l15-20 15-18 4-5-40-2-4 4-15 18-15 19z"/><path fill="#ff7d00" d="M2083 2200l14-21 5-6-40-3-5 5-15 21z"/><path fill="#ff8e00" d="M2068 2224l15-24 4-6-40-4-5 6-14 23z"/></g>
<path stroke-opacity=".45" d="M2007 2217l-11 0 14-22 12 0 15-21-12 0 14-19 12 0 15-17-12 0 15-16 12 0 15-14-12 0 14-12 12-1 15-11M2465 2152l-12 4 13 12 12-4 13 13-12 4 13 14 12-5 13 14-12 4 13 14 12-4 13 14-12 5 13 14 12-4 12 15M2019 2218l-12-1 15-22 12 1 15-21-12-1 14-19 12 1 15-18-12 0 15-16 12 0 15-14-12 0 14-13 12 0 15-12M2477 2147l-12 5 13 12 12-4 13 13-12 4 13 13 12-4 13 14-12 4 13 14 12-4 13 14-12 4 13 15 12-4 12 15M2031 2219l-12-1 15-22 12 1 15-21-12-1 14-19 12 0 15-17-12-1 15-16 12 0 15-14-12 0 14-13 12 0 15-12M2489 2144l-12 3 13 13 12-4 13 13-12 4 13 13 12-4 13 14-12 4 13 14 12-4 13 14-12 4 13 15 12-4 12 15"/><path stroke-opacity=".25" d="M2125 2084l-12 1 15-10 12-1 14-8-12 1 15-7 12-1 15-6-12 1 14-4 12-2 15-3-12 2 14-2 12-2 15-1M2137 2083l-12 1 15-10 12-1 14-8-12 1 15-7 12-1 15-6-12 1 14-5 12-1 15-3-12 1 14-2 12-2 15-1M2149 2083l-12 0 15-10 12 0 15-9-13 1 15-7 12-1 15-6-12 1 14-5 13-1 14-4-12 2 14-3 13-1 14-1"/><path stroke-opacity=".3" d="M2242 2042l-12 3 14 0 12-2 15 1-12 2 14 3 12-3 14 3-12 3 14 5 12-3 15 5-12 3 14 6 12-3 14 7M2254 2040l-12 2 14 1 12-3 15 2-12 2 14 2 12-2 14 3-12 2 14 5 13-3 14 5-12 3 14 6 12-3 14 7M2266 2039l-12 1 14 0 13-2 14 1-12 3 14 2 12-3 15 3-13 3 15 4 12-3 14 5-12 3 14 6 12-3 14 7"/><path stroke-opacity=".4" d="M2356 2072l-12 3 14 8 12-4 13 9-12 3 14 10 12-4 14 10-12 4 13 10 12-4 14 11-12 4 13 12 12-5 14 13M2368 2069l-12 3 14 7 12-3 14 8-13 4 14 9 12-4 14 10-12 4 13 10 13-4 13 11-12 4 13 11 12-3 14 11M2380 2066l-12 3 14 7 12-3 14 8-12 3 13 9 12-3 14 9-12 4 14 10 12-3 13 10-12 4 13 12 13-4 13 12"/><path stroke-opacity=".5" d="M2568 2262l-12 4 13 15 12-4 12 15-12 4 13 15 11-4 13 16-12 4 12 15 12-4 12 16-12 3 12 16 12-4 12 16-12 3M2580 2258l-12 4 13 15 12-4 12 15-12 4 12 15 12-4 13 16-12 4 12 15 12-4 12 16-12 4 12 15 12-3 12 15-12 4M2592 2254l-12 4 13 15 12-4 12 15-12 4 12 15 12-3 13 15-12 4 12 15 12-3 12 16-12 3 12 16 12-4 12 16-12 3"/>
<g stroke="none"><path fill="#80f000" d="M2751 2345l12 16-41 9-11-16z"/><path fill="#b0f500" d="M2739 2328l12 17 4 4-41 10-3-5-12-16z"/><path fill="#c8f800" d="M2727 2312l12 16 4 5-41 10-3-5-12-16z"/><path fill="#e3f500" d="M2715 2295l12 17 4 5-41 9-3-4-12-16z"/><path fill="#f0f400" d="M2703 2279l12 16 4 5-41 10-3-4-13-16z"/><path fill="#f5f300" d="M2691 2264l12 15 4 5-41 11-4-5-12-16z"/><path fill="#faf100" d="M2679 2248l12 16 4 4-41 11-4-5-12-15z"/><path fill="#ffeb00" d="M2666 2233l13 15 3 5-41 10-3-4-13-15z"/><path fill="#ffe700" d="M2654 2218l12 15 4 4-41 11-4-4-12-15z"/><path fill="#ffe200" d="M2641 2203l13 15 3 4-41 11-3-4-13-15z"/><path fill="#ffd900" d="M2628 2189l13 14 4 5-41 10-4-4-13-14z"/><path fill="#ffd100" d="M2616 2175l12 14 4 4-41 11-4-4-13-14z"/><path fill="#ffc800" d="M2603 2162l13 13 3 4-41 11-4-4-13-14z"/><path fill="#ffc100" d="M2590 2149l13 13 3 4-41 10-4-4-13-13z"/><path fill="#ffbb00" d="M2577 2136l13 13 4 4-42 10-4-4-13-13z"/><path fill="#ffb400" d="M2563 2124l14 12 3 4-41 10-4-4-13-12z"/><path fill="#ffa000" d="M2550 2113l13 11 4 4-41 10-4-4-13-12z"/><path fill="#ff9600" d="M2537 2102l13 11 4 3-41 10-4-4-14-11z"/><path fill="#ff8500" d="M2523 2092l14 10 4 3-42 10-4-4-13-10z"/><path fill="#ff7d00" d="M2510 2082l13 10 4 3-41 9-4-3-14-10z"/><path fill="#ff7300" d="M2482 2065l14 8 14 9 4 3-42 9-4-3-13-9-14-9z"/><path fill="#ff6a00" d="M2455 2051l13 7 14 7 4 3-41 8-4-3-14-8-14-7z"/><path fill="#ff6000" d="M2441 2046l14 5 4 2-42 7-4-2-14-6z"/><path fill="#ff5700" d="M2412 2037l15 4 14 5 4 1-42 7-4-2-14-5-14-5z"/><path fill="#ff4f00" d="M2398 2034l14 3 5 1-42 6-4-2-14-3z"/><path fill="#ff4600" d="M2370 2031l14 1 14 2 5 1-42 5-4-1-14-3-15-1z"/><path fill="#fe3f00" d="M2341 2032l14-1 15 0 4 0-41 4-5 0-14-1-15 1z"/><path fill="#fd3700" d="M2283 2049l43-14 15-3 4 0-41 3-5 0-14 2-44 12z"/><path fill="#fe3f00" d="M2253 2065l15-9 15-7 4-2-41 0-5 2-15 6-14 8z"/><path fill="#ff4600" d="M2238 2075l15-10 5-3-42-1-4 2-15 10z"/><path fill="#ff4f00" d="M2209 2098l15-12 14-11 5-3-42-2-4 3-15 10-14 12z"/><path fill="#ff5700" d="M2194 2113l15-15 4-3-41-3-4 3-15 14z"/><path fill="#ff6000" d="M2179 2128l15-15 4-5-41-3-4 4-15 15z"/><path fill="#ff6a00" d="M2149 2164l15-19 15-17 5-4-42-4-4 4-15 17-15 18z"/><path fill="#ff7300" d="M2135 2184l14-20 5-5-41-6-5 6-14 20z"/><path fill="#ff7d00" d="M2120 2206l15-22 4-6-41-5-4 6-15 21z"/><path fill="#ff8500" d="M2105 2230l15-24 4-6-41-6-4 6-15 23z"/></g>
<path stroke-opacity=".45" d="M2043 2220l-12-1 15-22 12 1 15-22-12 0 14-20 13 1 14-18-12 0 15-17 12 1 15-15-12 0 14-13 13 0 14-12M2501 2140l-12 4 13 12 12-4 13 13-12 4 13 13 13-4 12 14-12 4 13 14 12-4 13 14-12 4 13 15 12-4 12 15M2056 2222l-13-2 15-22 12 1 15-21-12-2 15-19 12 1 15-18-13-1 15-16 12 0 15-14-12-1 15-13 12 0 15-12M2513 2136l-12 4 13 12 13-3 13 12-13 4 14 13 12-3 13 13-13 4 13 14 13-4 12 15-12 3 13 15 12-4 13 15M2526 2133l-13 3 14 13 12-4 13 13-12 3 13 14 12-4 13 14-12 3 13 14 12-3 13 14-13 4 13 14 12-3 13 15"/><path stroke-opacity=".25" d="M2161 2083l-12 0 15-10 12 0 15-9-12 0 14-7 13-1 14-6-12 1 15-5 12-1 14-4-12 1 15-2 12-2 14-1"/><path stroke-opacity=".3" d="M2278 2037l-12 2 15-1 12-1 14 0-12 2 14 2 13-2 14 3-12 2 14 4 12-2 14 5-12 2 14 6 12-3 14 7M2174 2083l-13 0 15-10 12 0 15-10-12 1 15-8 12 0 14-7-12 1 15-5 12-1 15-4-13 1 15-3 12-1 15-1-13 1 15 0 12-2 15 1-13 1 15 2 12-2 14 3-12 2 14 4 12-2 14 4-12 3 14 5 13-2 14 6M2186 2083l-12 0 14-10 13 0 14-10-12 0 15-7 12-1 15-6-13 0 15-5 13-1 14-4-12 1 14-3 13-1 14-2-12 2 14-1 13-1 14 0-12 2 14 1 12-1 15 2-13 2 14 4 13-2 14 4-13 2 15 6 12-3 14 7"/><path stroke-opacity=".4" d="M2392 2063l-12 3 14 7 12-3 14 8-12 3 13 9 13-3 13 9-12 3 14 11 12-4 13 11-12 3 14 12 12-4 13 12M2405 2060l-13 3 14 7 12-3 14 8-12 3 14 9 12-3 14 9-13 3 14 10 12-3 14 11-13 3 14 11 12-3 13 11M2417 2058l-12 2 13 7 13-2 14 7-13 3 14 9 12-3 14 9-12 3 13 10 13-3 13 10-12 4 13 11 12-4 14 12"/><path stroke-opacity=".5" d="M2604 2250l-12 4 13 15 12-4 12 15-12 4 12 16 13-4 12 15-12 4 12 16 12-4 12 16-12 4 12 15 12-3 12 16-12 3M2617 2246l-13 4 13 15 12-4 12 16-12 3 13 16 12-4 12 16-12 3 12 16 12-3 12 16-12 3 12 16 12-3 12 16-12 3M2068 2224l-12-2 14-23 13 1 14-21-12-1 15-20 12 1 15-18-12-1 14-17 13 1 14-15-12 0 15-14 12 1 15-13M2629 2243l-12 3 12 15 12-3 13 15-13 4 13 15 12-3 12 16-12 3 12 16 12-3 12 16-12 3 12 16 12-3 12 16-12 3"/>
<g stroke="none"><path fill="#b0f500" d="M2789 2337l12 17-42 8-12-17z"/><path fill="#c8f800" d="M2777 2320l12 17 3 5-41 8-4-5-11-16z"/><path fill="#e3f500" d="M2765 2304l12 16 4 5-42 9-3-5-12-16z"/><path fill="#f0f400" d="M2753 2287l12 17 4 5-42 8-3-4-12-17z"/><path fill="#f5f300" d="M2741 2271l12 16 4 5-42 9-3-5-13-16z"/><path fill="#faf100" d="M2729 2255l12 16 4 5-42 9-4-5-12-15z"/><path fill="#ffeb00" d="M2717 2240l12 15 4 5-42 9-4-4-12-16z"/><path fill="#ffe700" d="M2704 2224l13 16 3 4-41 10-4-5-13-15z"/><path fill="#ffe200" d="M2692 2209l12 15 4 5-42 9-4-4-12-15z"/><path fill="#ffd900" d="M2679 2195l13 14 3 5-41 9-4-4-13-15z"/><path fill="#ffd100" d="M2666 2181l13 14 4 4-42 10-4-5-12-14z"/><path fill="#ffc800" d="M2654 2167l12 14 4 4-42 9-3-4-13-14z"/><path fill="#ffc100" d="M2641 2153l13 14 3 4-41 9-4-4-13-13z"/><path fill="#ffbb00" d="M2628 2141l13 12 4 4-42 10-4-4-13-13z"/><path fill="#ffb400" d="M2615 2128l13 13 4 3-42 9-4-3-13-13z"/><path fill="#ffa000" d="M2602 2117l13 11 4 4-42 9-4-4-13-12z"/><path fill="#ff8e00" d="M2588 2105l14 12 3 3-42 9-3-4-14-11z"/><path fill="#ff8500" d="M2575 2095l13 10 4 4-42 8-4-3-13-11z"/><path fill="#ff7d00" d="M2561 2085l14 10 4 3-42 8-4-3-14-11z"/><path fill="#ff7300" d="M2548 2076l13 9 5 3-43 8-4-4-13-9z"/><path fill="#ff6a00" d="M2521 2060l13 7 14 9 4 3-42 7-4-3-14-9-14-8z"/><path fill="#ff6000" d="M2493 2047l14 6 14 7 4 2-42 6-5-2-13-8-14-6z"/><path fill="#ff5700" d="M2479 2041l14 6 4 2-42 5-4-2-14-6z"/><path fill="#ff4f00" d="M2465 2037l14 4 4 2-42 5-4-2-14-5z"/><path fill="#ff4600" d="M2451 2034l14 3 4 1-42 5-4-2-14-4z"/><path fill="#fe3f00" d="M2437 2031l14 3 4 1-42 3-4-1-15-3z"/><path fill="#fd3700" d="M2408 2029l14 1 15 1 4 1-42 3-5-1-14-2-14-1z"/><path fill="#fc3000" d="M2306 2059l44-20 44-9 14-1 4 1-42 2-4-1-15 0-43 7-44 18z"/><path fill="#fd3700" d="M2291 2068l15-9 5-3-43-2-4 2-15 8z"/><path fill="#fe3f00" d="M2277 2078l14-10 5-3-42-3-5 2-14 10z"/><path fill="#ff4600" d="M2262 2090l15-12 4-3-42-4-4 3-15 11z"/><path fill="#ff4f00" d="M2232 2118l15-15 15-13 4-4-42-4-4 3-15 13-15 14z"/><path fill="#ff6000" d="M2202 2152l15-18 15-16 5-4-42-6-5 4-15 16-15 17z"/><path fill="#ff6a00" d="M2187 2171l15-19 5-6-42-6-5 5-14 19z"/><path fill="#ff7300" d="M2173 2192l14-21 5-6-42-7-4 6-15 20z"/><path fill="#ff7d00" d="M2158 2214l15-22 4-7-42-7-4 6-15 22z"/><path fill="#ff8500" d="M2143 2238l15-24 4-7-42-8-4 7-15 23z"/></g>
<path stroke-opacity=".5" d="M2080 2225l-12-1 15-24 12 2 15-21-13-2 15-20 12 2 15-19-12-1 15-17 12 1 15-15-13-1 15-13 13 0 14-12M2641 2239l-12 4 12 15 13-4 12 16-12 3 12 16 12-3 12 15-12 4 12 16 13-3 12 16-13 3 12 16 12-3 12 16-12 3M2092 2228l-12-3 15-23 12 2 15-22-12-1 14-20 13 1 15-18-13-2 15-17 13 2 14-16-12-1 15-14 12 1 15-12M2654 2236l-13 3 13 15 12-3 12 16-12 3 12 16 13-4 12 16-13 3 13 17 12-3 12 16-12 3 11 16 13-3 12 17-13 2M2105 2230l-13-2 15-24 13 2 15-22-13-2 15-20 12 2 15-19-12-1 15-17 12 1 15-15-13-2 15-14 13 1 15-12M2666 2233l-12 3 12 15 13-3 12 16-13 3 13 15 12-3 12 16-12 3 12 17 12-3 12 16-12 3 12 16 12-2 12 16-12 3"/><path stroke-opacity=".3" d="M2198 2084l-12-1 15-10 12 0 15-9-13-1 15-8 13 0 14-6-12 0 15-6 12 0 15-4-13 0 15-3 12 0 15-2M2211 2085l-13-1 15-11 13 1 14-10-12 0 15-9 12 1 15-7-13 0 15-6 13 0 14-5-12 1 14-3 13-1 14-2M2224 2086l-13-1 15-11 12 1 15-10-13-1 15-8 13 0 15-7-13 0 15-6 12 0 15-5-13 0 15-3 12 0 15-3"/><path stroke-opacity=".25" d="M2316 2034l-13 0 15 0 12-1 14 0-12 1 14 2 13-2 14 3-12 1 14 4 12-2 14 4-12 2 14 5 12-2 14 6M2328 2033l-12 1 14-1 13-1 14 0-13 1 15 1 12-1 15 2-13 2 14 3 13-2 14 4-13 2 14 5 13-2 14 6M2341 2032l-13 1 15-1 12-1 15 0-13 1 14 1 13-1 14 2-12 1 14 3 12-1 15 4-13 1 14 5 13-1 14 5"/><path stroke-opacity=".4" d="M2429 2055l-12 3 14 7 12-3 14 8-12 2 13 9 13-3 13 9-12 3 14 10 12-3 14 10-13 3 13 11 13-3 13 12M2442 2053l-13 2 14 7 13-2 14 7-13 3 14 8 12-2 14 9-13 2 14 10 13-3 13 11-12 2 13 11 12-3 14 12M2455 2051l-13 2 14 7 12-2 14 7-12 2 13 9 13-3 14 9-13 3 14 9 12-2 14 10-13 3 13 10 13-2 13 11"/><path stroke-opacity=".45" d="M2538 2130l-12 3 13 12 12-3 14 13-13 3 13 13 13-3 12 13-12 4 13 14 12-4 13 15-12 3 12 15 13-4 12 15M2551 2127l-13 3 13 12 13-3 13 13-12 3 13 13 12-3 13 13-13 3 13 14 13-3 13 14-13 4 13 14 12-3 13 15M2563 2124l-12 3 13 12 13-3 13 13-13 3 13 13 13-3 13 13-13 3 13 14 12-3 13 14-12 3 12 15 13-3 12 15"/>
<g stroke="none"><path fill="#c8f800" d="M2827 2331l12 17-42 7-12-17z"/><path fill="#d5f700" d="M2815 2314l12 17 4 5-42 7-4-5-12-17z"/><path fill="#f0f400" d="M2804 2297l11 17 4 5-42 7-4-5-12-16z"/><path fill="#f5f300" d="M2792 2280l12 17 3 5-42 8-4-5-12-17z"/><path fill="#faf100" d="M2780 2264l12 16 3 5-42 8-4-5-12-16z"/><path fill="#ffeb00" d="M2767 2248l13 16 3 5-42 8-4-5-12-16z"/><path fill="#ffe700" d="M2755 2232l12 16 4 5-42 8-4-5-12-16z"/><path fill="#ffe200" d="M2743 2217l12 15 4 5-43 8-3-5-13-15z"/><path fill="#ffd900" d="M2730 2202l13 15 4 5-43 8-4-5-12-15z"/><path fill="#ffd100" d="M2718 2188l12 14 4 5-42 8-4-5-13-14z"/><path fill="#ffc800" d="M2705 2173l13 15 4 4-43 8-4-4-12-15z"/><path fill="#ffc100" d="M2692 2160l13 13 4 5-43 8-3-5-13-13z"/><path fill="#ffbb00" d="M2680 2147l12 13 4 4-42 8-4-4-13-14z"/><path fill="#ffaa00" d="M2667 2134l13 13 3 4-42 7-4-4-13-13z"/><path fill="#ffa000" d="M2654 2122l13 12 4 4-43 7-4-4-13-12z"/><path fill="#ff8e00" d="M2640 2110l14 12 3 4-42 7-4-4-13-12z"/><path fill="#ff8500" d="M2627 2100l13 10 4 4-42 7-4-4-14-11z"/><path fill="#ff7d00" d="M2614 2089l13 11 4 3-43 6-4-3-13-10z"/><path fill="#ff7300" d="M2600 2080l14 9 4 3-43 7-4-3-13-10z"/><path fill="#ff6a00" d="M2573 2063l14 8 13 9 4 3-42 6-4-3-14-10-14-8z"/><path fill="#ff6000" d="M2560 2056l13 7 4 2-42 6-5-3-13-8z"/><path fill="#ff5700" d="M2546 2049l14 7 4 2-43 5-4-3-14-7z"/><path fill="#ff4f00" d="M2532 2044l14 5 4 2-43 4-4-2-14-6z"/><path fill="#ff4600" d="M2518 2039l14 5 4 1-43 4-4-2-14-5z"/><path fill="#fe3f00" d="M2504 2035l14 4 4 1-43 3-4-1-14-5z"/><path fill="#fd3700" d="M2490 2032l14 3 4 1-43 3-4-2-14-3z"/><path fill="#fc3000" d="M2462 2029l14 1 14 2 4 1-43 2-4-1-14-2-14-2z"/><path fill="#f92900" d="M2345 2063l44-22 44-10 29-2 4 1-43 0-4 0-29 0-44 9-44 19z"/><path fill="#fc3000" d="M2330 2072l15-9 5-3-43-4-5 2-14 9z"/><path fill="#fd3700" d="M2316 2083l14-11 5-2-43-5-4 2-15 11z"/><path fill="#fe3f00" d="M2301 2096l15-13 4-3-43-5-4 3-15 11z"/><path fill="#ff4600" d="M2286 2110l15-14 4-4-43-6-4 3-15 14z"/><path fill="#ff4f00" d="M2271 2125l15-15 4-4-42-7-5 4-15 14z"/><path fill="#ff5700" d="M2256 2142l15-17 5-5-43-7-5 4-15 16z"/><path fill="#ff6000" d="M2241 2160l15-18 5-5-43-8-5 4-14 18z"/><path fill="#ff6a00" d="M2226 2179l15-19 5-6-43-8-4 5-15 19z"/><path fill="#ff7300" d="M2196 2223l15-22 15-22 5-5-43-10-4 6-15 21-15 22z"/><path fill="#ff7d00" d="M2181 2248l15-25 5-6-43-10-4 6-15 24z"/></g>
<path stroke-opacity=".5" d="M2117 2232l-12-2 15-24 12 3 15-22-12-3 14-20 13 2 15-19-13-2 15-17 13 2 15-16-13-1 15-15 12 2 15-13M2679 2230l-13 3 13 15 12-3 13 16-13 3 12 15 13-2 12 16-13 2 12 17 13-3 12 16-13 3 12 17 13-3 11 17-12 2M2130 2235l-13-3 15-23 13 2 15-22-13-2 15-21 13 2 15-19-13-2 15-17 12 2 15-16-12-2 14-14 13 1 15-13M2691 2227l-12 3 12 15 13-3 12 16-12 3 12 16 12-3 12 16-12 3 12 16 12-3 12 17-12 2 12 17 12-2 12 16-13 3M2143 2238l-13-3 15-24 13 3 15-22-13-3 15-21 12 3 15-19-12-3 14-17 13 2 15-16-13-2 15-15 13 2 15-13M2704 2224l-13 3 13 15 13-2 12 15-13 3 12 16 13-3 12 16-13 3 12 16 13-2 12 16-13 3 12 17 13-3 12 17-13 2"/><path stroke-opacity=".35" d="M2236 2087l-12-1 14-11 13 1 15-11-13 0 15-9 13 1 14-8-12 0 14-6 13 0 14-5-12 0 14-3 13-1 15-2M2249 2088l-13-1 15-11 13 1 15-11-13-1 15-8 12 1 15-8-13-1 15-6 13 1 14-6-13 0 15-4 13 1 14-3M2262 2090l-13-2 15-11 13 1 14-10-12-2 14-8 13 1 15-8-13-1 15-6 13 0 14-5-13-1 15-3 13 0 14-3"/><path stroke-opacity=".25" d="M2354 2032l-13 0 14-1 13 0 14-1-12 1 14 1 13-1 14 2-13 1 14 3 13-1 14 3-12 2 14 5 12-2 14 6M2366 2032l-12 0 14-1 13-1 14 0-13 0 15 1 13-1 14 2-13 1 14 3 13-1 14 3-13 1 14 5 13-1 14 5M2379 2032l-13 0 15-2 13 0 14-1-13 1 15 0 12 0 15 1-13 1 14 3 13-1 14 3-13 1 14 5 13-2 14 6"/><path stroke-opacity=".4" d="M2467 2050l-12 1 13 7 13-2 14 7-13 2 14 8 13-2 13 9-12 2 13 10 13-3 13 10-12 3 13 11 13-3 13 11M2480 2048l-13 2 14 6 13-2 14 7-13 2 14 8 12-2 14 9-13 2 14 9 13-2 13 10-13 2 14 11 12-2 14 11M2493 2047l-13 1 14 6 13-1 14 7-13 1 13 8 13-2 14 9-13 2 14 9 12-2 14 10-13 2 13 11 13-3 14 12"/><path stroke-opacity=".45" d="M2576 2121l-13 3 14 12 12-3 13 13-12 3 13 13 12-3 13 13-12 3 12 14 13-3 13 14-13 3 13 15 12-3 13 15M2589 2119l-13 2 13 12 13-2 13 12-13 3 13 13 13-3 13 13-13 3 13 14 13-3 12 14-12 3 12 15 13-3 12 15M2602 2117l-13 2 13 12 13-3 13 13-13 2 13 13 13-3 13 14-13 2 13 14 12-2 13 14-13 2 13 15 13-3 12 15"/>
<g stroke="none"><path fill="#d5f700" d="M2866 2326l12 17-43 6-12-17z"/><path fill="#f0f400" d="M2854 2309l12 17 4 5-43 6-4-5-11-17z"/><path fill="#f5f300" d="M2843 2291l11 18 4 5-43 6-3-5-12-17z"/><path fill="#faf100" d="M2831 2275l12 16 3 6-43 6-3-5-12-17z"/><path fill="#fff000" d="M2819 2258l12 17 3 5-43 6-3-5-12-16z"/><path fill="#ffe700" d="M2807 2242l12 16 3 5-43 7-3-5-12-16z"/><path fill="#ffe200" d="M2794 2226l13 16 3 5-43 7-3-5-13-16z"/><path fill="#ffd900" d="M2782 2211l12 15 4 5-43 7-4-5-12-15z"/><path fill="#ffd100" d="M2770 2196l12 15 4 5-43 6-4-4-13-15z"/><path fill="#ffc800" d="M2757 2182l13 14 3 5-43 6-4-4-12-15z"/><path fill="#ffc100" d="M2745 2168l12 14 4 4-43 7-4-5-13-14z"/><path fill="#ffbb00" d="M2732 2154l13 14 3 4-43 6-4-4-12-14z"/><path fill="#ffaa00" d="M2719 2141l13 13 4 4-44 7-3-5-13-13z"/><path fill="#ffa000" d="M2706 2129l13 12 4 4-43 6-4-4-13-12z"/><path fill="#ff8e00" d="M2693 2117l13 12 4 3-43 6-4-3-13-12z"/><path fill="#ff7d00" d="M2680 2106l13 11 4 3-43 6-4-3-13-12z"/><path fill="#ff7300" d="M2654 2085l13 10 13 11 4 3-44 5-3-3-14-11-13-10z"/><path fill="#ff6a00" d="M2640 2076l14 9 4 3-44 5-4-3-13-10z"/><path fill="#ff6000" d="M2613 2060l14 8 13 8 4 3-43 4-4-3-14-8-14-9z"/><path fill="#ff5700" d="M2599 2053l14 7 4 2-43 4-5-3-13-7z"/><path fill="#ff4f00" d="M2586 2047l13 6 5 2-44 3-4-2-14-6z"/><path fill="#ff4600" d="M2572 2042l14 5 4 2-44 3-4-2-14-6z"/><path fill="#fe3f00" d="M2558 2038l14 4 4 2-44 2-4-2-14-5z"/><path fill="#fc3000" d="M2530 2032l14 3 14 3 4 1-44 2-4-2-14-4-14-3z"/><path fill="#f92900" d="M2487 2031l43 1 4 1-44 0-4-1-43-2z"/><path fill="#f72100" d="M2414 2052l44-16 29-5 4 0-43-1-5 0-29 3-43 14z"/><path fill="#f92900" d="M2370 2079l44-27 5-2-44-5-4 2-44 25z"/><path fill="#fc3000" d="M2355 2090l15-11 5-3-44-7-4 3-15 11z"/><path fill="#fd3700" d="M2340 2103l15-13 5-3-44-7-4 3-15 12z"/><path fill="#fe3f00" d="M2326 2118l14-15 5-3-44-8-4 3-15 14z"/><path fill="#ff4600" d="M2311 2134l15-16 4-5-44-8-4 4-15 15z"/><path fill="#ff5700" d="M2296 2151l15-17 4-5-43-9-5 4-15 17z"/><path fill="#ff6000" d="M2281 2169l15-18 4-5-43-10-5 5-15 18z"/><path fill="#ff6a00" d="M2251 2211l15-21 15-21 4-5-43-11-5 6-15 20-15 21z"/><path fill="#ff7300" d="M2236 2234l15-23 4-6-43-12-5 7-15 22z"/><path fill="#ff7d00" d="M2221 2259l15-25 4-7-43-11-5 6-14 25z"/></g>
<path stroke-opacity=".5" d="M2156 2241l-13-3 15-24 13 3 14-22-12-3 14-21 13 3 15-20-13-2 15-18 13 2 15-16-13-2 15-15 13 2 15-13M2717 2222l-13 2 13 16 12-3 13 16-13 2 12 16 13-2 12 16-13 2 12 17 13-3 12 17-13 2 12 17 13-2 11 17-12 2M2168 2244l-12-3 15-24 12 3 15-22-13-3 15-21 13 2 15-19-13-3 15-18 13 3 15-17-13-2 15-15 13 2 15-13M2730 2219l-13 3 12 15 13-2 12 15-12 3 12 16 13-3 12 17-13 2 12 16 13-2 12 17-13 2 12 17 12-2 12 17-13 2M2743 2217l-13 2 12 16 13-3 12 16-13 2 13 16 13-2 12 16-13 3 12 16 13-2 11 17-12 2 11 17 13-2 12 17-13 2"/><path stroke-opacity=".35" d="M2275 2092l-13-2 15-12 13 2 14-11-13-1 15-9 13 1 15-8-13-1 15-7 13 1 14-5-13-1 15-4 13 0 14-3M2288 2094l-13-2 15-12 13 2 14-11-13-2 15-9 13 1 15-8-13-1 15-7 13 1 14-6-13 0 15-5 13 1 14-3M2301 2096l-13-2 15-12 13 1 14-11-13-1 15-10 13 2 15-9-13-1 15-7 13 1 14-6-13-1 15-4 13 1 14-4"/><path stroke-opacity=".25" d="M2392 2032l-13 0 15-2 13 0 14-1-13 0 14 1 13 0 15 1-13 0 14 3 13-1 14 3-13 1 14 4 13-1 14 6"/><path stroke-opacity=".4" d="M2506 2046l-13 1 14 6 13-2 14 7-13 2 13 7 13-1 14 8-13 2 13 9 13-2 14 10-13 2 13 10 13-2 13 11M2519 2045l-13 1 14 5 13-1 14 7-13 1 13 8 13-2 14 9-13 1 13 9 13-2 14 10-13 2 13 10 13-2 13 11M2532 2044l-13 1 14 5 13-1 14 7-13 1 13 7 13-1 14 8-13 2 13 8 13-1 14 9-13 2 13 10 13-1 13 10"/><path stroke-opacity=".45" d="M2614 2114l-12 3 13 11 13-2 13 12-13 3 13 12 13-2 12 13-12 3 12 14 13-3 13 14-13 3 13 14 12-2 13 15M2627 2112l-13 2 14 12 13-2 13 12-13 2 13 13 13-2 12 13-13 2 13 14 13-2 13 14-13 2 12 15 13-3 13 15M2640 2110l-13 2 14 12 13-2 13 12-13 2 13 13 13-2 12 13-13 2 13 14 13-3 13 15-13 2 12 14 13-2 13 15"/><path stroke-opacity=".2" d="M2405 2033l-13-1 15-2 13 0 14-1-13 0 14 1 13-1 15 1-13 1 14 2 13 0 14 3-13 0 14 4 13 0 14 5M2418 2033l-13 0 15-3 13 1 14-1-13-1 14 0 14 0 14 1-13 0 14 3 13-1 14 3-13 1 14 4 13-1 14 5"/><path stroke-opacity=".55" d="M2181 2248l-13-4 15-24 13 3 15-22-13-3 15-22 13 3 15-19-13-3 15-18 13 3 15-17-13-3 15-15 13 3 15-14"/>
<g stroke="none"><path fill="#e3f500" d="M2906 2322l11 18-43 4-12-18z"/><path fill="#f5f300" d="M2894 2304l12 18 3 5-43 5-4-6-12-17z"/><path fill="#faf100" d="M2882 2287l12 17 4 6-44 4-4-5-11-17z"/><path fill="#fff000" d="M2870 2270l12 17 4 5-44 5-3-5-12-17z"/><path fill="#ffe700" d="M2859 2254l11 16 4 5-44 5-3-5-12-16z"/><path fill="#ffe200" d="M2846 2237l13 17 3 5-44 5-3-5-12-16z"/><path fill="#ffd900" d="M2834 2222l12 15 4 5-44 6-3-5-13-16z"/><path fill="#ffd100" d="M2822 2206l12 16 4 4-44 6-4-5-12-15z"/><path fill="#ffc800" d="M2810 2191l12 15 4 5-44 5-4-4-12-15z"/><path fill="#ffc100" d="M2797 2177l13 14 3 5-44 5-3-4-13-15z"/><path fill="#ffbb00" d="M2785 2163l12 14 4 4-44 6-4-5-12-14z"/><path fill="#ffaa00" d="M2772 2150l13 13 3 4-44 5-3-4-13-13z"/><path fill="#ffa000" d="M2759 2137l13 13 4 4-44 5-4-4-13-13z"/><path fill="#ff8e00" d="M2746 2125l13 12 4 4-44 5-4-4-13-13z"/><path fill="#ff7d00" d="M2733 2113l13 12 4 3-44 5-4-4-13-12z"/><path fill="#ff7300" d="M2707 2092l13 10 13 11 4 4-44 4-4-4-13-11-13-10z"/><path fill="#ff6a00" d="M2694 2083l13 9 4 3-44 4-4-3-13-10z"/><path fill="#ff6000" d="M2667 2066l14 8 13 9 4 3-44 3-4-3-14-9-13-9z"/><path fill="#ff4f00" d="M2654 2059l13 7 4 2-44 3-4-3-14-8z"/><path fill="#ff4600" d="M2640 2052l14 7 4 2-45 2-4-3-14-6z"/><path fill="#fe3f00" d="M2626 2047l14 5 4 2-44 2-5-2-13-6z"/><path fill="#fd3700" d="M2612 2042l14 5 4 2-44 0-4-1-14-6z"/><path fill="#fc3000" d="M2598 2039l14 3 4 2-44 0-4-2-14-4z"/><path fill="#f92900" d="M2570 2034l14 2 14 3 5 1-45-1-4-1-14-3-14-3z"/><path fill="#f72100" d="M2440 2066l44-21 44-10 42-1 5 0-45-1-4-1-43-1-43 9-44 19z"/><path fill="#f92900" d="M2411 2087l14-11 15-10 5-2-45-7-4 2-15 9-15 10z"/><path fill="#fc3000" d="M2381 2112l15-13 15-12 4-3-44-9-5 3-15 12-14 13z"/><path fill="#fe3f00" d="M2366 2127l15-15 4-4-44-9-4 4-15 14z"/><path fill="#ff4600" d="M2351 2144l15-17 4-4-44-10-4 4-15 16z"/><path fill="#ff4f00" d="M2336 2161l15-17 4-5-44-11-4 5-15 17z"/><path fill="#ff6000" d="M2321 2180l15-19 4-5-44-11-4 5-15 18z"/><path fill="#ff6a00" d="M2291 2223l15-22 15-21 4-5-44-12-4 5-15 20-15 22z"/><path fill="#ff7300" d="M2276 2247l15-24 4-6-44-13-4 6-15 23z"/><path fill="#ff7d00" d="M2261 2272l15-25 4-7-44-14-4 7-15 25z"/></g>
<path stroke-opacity=".55" d="M2194 2251l-13-3 15-25 13 4 15-23-13-3 15-22 13 4 15-20-13-3 15-18 13 2 15-16-13-3 15-15 13 2 15-14M2208 2255l-14-4 15-24 14 4 15-23-14-4 15-21 13 3 15-20-13-3 15-19 13 4 15-18-13-2 15-16 13 3 15-14M2221 2259l-13-4 15-24 13 3 15-23-13-3 14-22 14 4 15-21-14-3 15-18 14 3 15-17-14-4 15-15 14 3 14-15"/><path stroke-opacity=".35" d="M2314 2098l-13-2 15-13 13 3 15-12-14-2 15-9 13 2 15-9-13-2 15-7 13 2 14-6-13-2 15-4 13 1 15-4M2545 2043l-13 1 14 5 13 0 14 6-13 1 13 7 14-1 13 8-13 1 13 9 14-1 13 9-13 1 13 11 13-2 14 11M2558 2043l-13 0 14 6 13-1 14 6-13 1 14 7 13-1 13 8-13 1 14 9 13-2 13 10-13 1 13 10 14-1 13 10M2572 2042l-14 1 14 5 14-1 13 6-13 1 14 7 13-1 14 8-14 1 14 8 13-1 14 9-14 2 14 10 13-2 13 11"/><path stroke-opacity=".2" d="M2432 2034l-14-1 15-2 13 0 14-1-13 0 15-1 13 1 14 0-13 0 14 2 13 0 14 3-13 0 14 4 13-1 14 5M2445 2035l-13-1 14-3 13 1 15-1-14-1 15 0 13 0 14 1-13-1 14 2 13 0 15 3-14 0 14 3 14 0 13 5M2458 2036l-13-1 14-3 14 1 14-2-13 0 14-1 13 1 15 0-14 0 14 1 14 0 14 3-13 0 14 3 13 0 14 4"/><path stroke-opacity=".45" d="M2654 2109l-14 1 14 12 13-2 13 12-13 2 13 13 13-2 12 13-13 2 13 13 13-2 13 14-13 3 12 14 13-2 13 15M2667 2107l-13 2 13 11 13-2 13 12-13 2 13 13 13-2 13 13-14 2 13 13 13-2 13 14-13 2 12 15 14-2 12 15M2680 2106l-13 1 13 11 13-1 13 12-13 1 13 13 13-2 13 13-13 2 12 13 14-1 12 14-13 1 13 15 13-2 12 15"/><path stroke-opacity=".5" d="M2756 2215l-13 2 12 15 13-2 12 16-13 2 13 16 13-2 12 16-13 2 12 17 13-2 11 17-13 2 12 17 13-2 12 18-13 1M2769 2213l-13 2 12 15 13-2 12 16-13 2 13 16 13-2 12 16-13 2 12 17 13-2 11 17-13 2 12 17 13-2 12 18-13 2M2782 2211l-13 2 12 15 13-2 13 16-14 2 13 16 13-2 12 17-13 1 12 17 13-2 11 18-13 1 12 17 13-1 12 17-13 2"/><path stroke-opacity=".4" d="M2327 2101l-13-3 15-12 13 2 15-11-13-3 14-9 14 1 14-8-13-2 15-7 13 1 15-6-14-1 15-5 13 1 15-4M2340 2103l-13-2 15-13 13 2 15-11-13-2 15-11 13 3 15-9-14-2 15-8 13 2 15-7-13-1 14-5 14 1 14-4"/>
<g stroke="none"><path fill="#f0f400" d="M2946 2319l11 18-44 3-11-18z"/><path fill="#faf100" d="M2934 2301l12 18 3 5-44 4-3-6-12-17z"/><path fill="#fff000" d="M2923 2284l11 17 4 6-44 3-4-5-12-18z"/><path fill="#ffeb00" d="M2911 2267l12 17 3 5-44 4-4-6-12-16z"/><path fill="#ffe200" d="M2899 2250l12 17 3 5-44 4-4-5-11-17z"/><path fill="#ffd900" d="M2887 2234l12 16 4 5-45 4-3-5-13-16z"/><path fill="#ffd100" d="M2875 2218l12 16 4 5-45 4-4-5-12-16z"/><path fill="#ffc800" d="M2863 2203l12 15 4 5-45 4-4-5-12-15z"/><path fill="#ffc100" d="M2850 2188l13 15 3 4-44 4-4-4-12-15z"/><path fill="#ffbb00" d="M2838 2174l12 14 4 4-45 4-3-4-13-15z"/><path fill="#ffb400" d="M2825 2160l13 14 4 4-45 4-4-5-12-13z"/><path fill="#ffa000" d="M2813 2147l12 13 4 4-45 4-3-4-13-14z"/><path fill="#ff8e00" d="M2800 2134l13 13 4 4-45 3-4-4-13-13z"/><path fill="#ff7d00" d="M2787 2122l13 12 4 4-45 3-4-4-13-12z"/><path fill="#ff7300" d="M2761 2100l13 11 13 11 4 4-45 3-4-4-13-11-13-11z"/><path fill="#ff6a00" d="M2748 2091l13 9 4 4-45 2-4-3-13-11z"/><path fill="#ff6000" d="M2722 2073l13 8 13 10 4 2-45 3-4-4-13-9-14-9z"/><path fill="#ff4f00" d="M2708 2065l14 8 4 3-46 1-4-3-13-8z"/><path fill="#ff4600" d="M2695 2059l13 6 4 3-45 0-4-2-14-7z"/><path fill="#fe3f00" d="M2681 2053l14 6 4 2-45 0-5-2-13-7z"/><path fill="#fd3700" d="M2667 2048l14 5 4 2-45-1-4-2-14-5z"/><path fill="#fc3000" d="M2654 2044l13 4 4 1-45 0-4-2-14-5z"/><path fill="#f92900" d="M2626 2038l14 2 14 4 4 1-46-1-4-2-14-4-14-2z"/><path fill="#f72100" d="M2597 2037l15 0 14 1 4 1-45-3-5 0-14-2-14-1z"/><path fill="#f41a00" d="M2496 2066l44-20 43-9 14 0 5 0-46-4-4 0-14 0-43 7-44 17z"/><path fill="#f72100" d="M2467 2085l14-10 15-9 5-3-46-8-4 2-15 9-15 9z"/><path fill="#f92900" d="M2437 2109l15-13 15-11 4-3-45-10-5 3-14 11-15 12z"/><path fill="#fc3000" d="M2422 2123l15-14 4-4-45-11-4 4-15 14z"/><path fill="#fd3700" d="M2407 2138l15-15 4-4-45-12-4 5-15 14z"/><path fill="#ff4600" d="M2392 2155l15-17 5-4-46-12-4 4-15 17z"/><path fill="#ff4f00" d="M2377 2173l15-18 5-5-46-12-4 5-15 17z"/><path fill="#ff5700" d="M2362 2193l15-20 5-5-46-13-4 5-15 19z"/><path fill="#ff6000" d="M2347 2214l15-21 4-6-45-13-4 5-15 21z"/><path fill="#ff6a00" d="M2332 2236l15-22 4-6-45-14-4 6-15 22z"/><path fill="#ff7300" d="M2317 2260l15-24 4-6-45-15-4 7-15 24z"/><path fill="#ff7d00" d="M2301 2286l16-26 4-7-45-15-4 8-15 25z"/></g>
<path stroke-opacity=".55" d="M2234 2263l-13-4 15-25 13 4 15-23-13-4 15-21 13 3 15-20-13-4 15-18 13 3 15-17-13-3 15-16 13 3 15-15M2247 2268l-13-5 15-25 13 5 15-24-13-4 15-22 13 4 15-20-13-4 15-19 13 4 15-18-13-3 15-16 13 3 15-15M2261 2272l-14-4 15-25 14 4 15-24-14-4 15-22 14 4 15-21-14-3 15-19 14 3 15-17-14-4 15-16 14 3 15-15"/><path stroke-opacity=".4" d="M2354 2106l-14-3 15-13 14 3 15-12-14-2 15-10 13 2 15-9-13-2 14-8 14 2 15-7-14-2 15-5 13 2 15-5M2367 2109l-13-3 15-13 13 3 15-12-13-3 14-10 14 2 15-9-14-2 15-8 13 2 15-7-13-2 14-5 14 1 14-4M2381 2112l-14-3 15-13 14 3 15-12-14-3 15-11 13 3 15-10-13-2 14-8 14 2 15-7-14-2 15-6 13 2 15-4"/><path stroke-opacity=".2" d="M2472 2037l-14-1 15-3 13 1 14-2-13-1 14 0 14 0 14 1-13-1 14 1 13 1 14 2-13 0 14 3 13 0 14 4M2485 2039l-13-2 14-3 14 2 14-3-14-1 15-1 13 1 15 0-14 0 14 1 14 0 14 2-14 0 14 3 14 0 14 4M2499 2041l-14-2 15-3 13 1 15-2-14-2 14-1 14 1 14 0-13-1 14 1 13 1 14 2-13-1 14 3 13 1 14 3"/><path stroke-opacity=".35" d="M2585 2042l-13 0 14 5 13 0 14 6-14 0 14 7 13 0 14 7-13 1 13 8 14-1 13 9-13 1 13 10 13-1 13 10M2599 2042l-14 0 14 5 14 0 13 6-13 0 13 7 14-1 14 7-14 1 14 8 13 0 13 8-13 1 13 10 14-1 13 10M2612 2042l-13 0 14 5 13 0 14 5-14 1 14 6 14 0 13 7-13 0 13 9 14-1 13 9-14 0 14 10 13-1 13 10"/><path stroke-opacity=".45" d="M2693 2104l-13 2 13 11 13-1 13 11-13 2 13 12 13-1 13 13-13 1 13 14 13-2 12 14-13 2 13 14 13-2 12 15M2707 2103l-14 1 13 12 14-2 13 12-14 1 13 13 14-2 13 13-14 2 13 13 13-2 13 14-14 2 13 14 13-1 13 15M2720 2102l-13 1 13 11 13-1 13 12-13 1 13 12 13-1 13 13-13 1 12 13 14-1 12 14-13 1 12 15 14-2 12 15"/><path stroke-opacity=".5" d="M2795 2209l-13 2 12 15 14-1 12 15-13 2 12 16 13-1 12 16-13 2 12 16 13-1 12 17-14 2 12 17 13-2 12 18-13 1M2809 2208l-14 1 13 16 13-2 12 16-13 1 12 17 13-2 12 17-13 1 12 17 13-2 12 18-13 1 11 17 13-1 12 18-13 1M2822 2206l-13 2 12 15 13-1 12 15-13 2 12 16 14-1 11 16-13 2 12 16 13-1 12 17-13 2 11 17 14-1 11 18-13 1"/>
<g stroke="none"><path fill="#f5f300" d="M2987 2317l11 19-45 1-11-18z"/><path fill="#fff000" d="M2975 2299l12 18 3 6-45 2-3-6-12-18z"/><path fill="#ffeb00" d="M2964 2282l11 17 4 6-45 2-4-6-11-17z"/><path fill="#ffe700" d="M2952 2264l12 18 3 5-45 2-3-5-12-17z"/><path fill="#ffd900" d="M2940 2248l12 16 4 6-46 2-3-5-12-17z"/><path fill="#ffd100" d="M2916 2216l12 15 12 17 4 5-45 2-4-5-12-16-12-16z"/><path fill="#ffc100" d="M2904 2200l12 16 4 4-46 3-3-5-12-15z"/><path fill="#ffbb00" d="M2892 2186l12 14 4 5-46 3-3-5-13-15z"/><path fill="#ffb400" d="M2879 2171l13 15 4 4-46 3-4-5-12-14z"/><path fill="#ffa000" d="M2867 2158l12 13 4 5-45 2-4-4-13-14z"/><path fill="#ff8e00" d="M2854 2145l13 13 4 4-46 2-4-4-12-13z"/><path fill="#ff8500" d="M2842 2133l12 12 4 4-45 2-4-4-13-13z"/><path fill="#ff7d00" d="M2829 2121l13 12 4 3-46 2-4-4-13-12z"/><path fill="#ff7300" d="M2816 2110l13 11 4 3-46 2-4-4-13-11z"/><path fill="#ff6a00" d="M2803 2100l13 10 4 3-46 2-4-4-13-10z"/><path fill="#ff6000" d="M2777 2081l13 9 13 10 4 3-46 1-4-3-13-10-13-10z"/><path fill="#ff4f00" d="M2763 2073l14 8 4 3-46 0-4-3-13-8z"/><path fill="#ff4600" d="M2750 2066l13 7 4 3-45 0-4-3-14-8z"/><path fill="#fe3f00" d="M2737 2060l13 6 4 2-46 0-4-3-13-6z"/><path fill="#fd3700" d="M2723 2055l14 5 4 2-46-1-4-2-14-6z"/><path fill="#fc3000" d="M2709 2050l14 5 4 1-46-2-4-1-14-5z"/><path fill="#f92900" d="M2695 2046l14 4 4 1-46-2-4-1-14-5z"/><path fill="#f72100" d="M2654 2041l41 5 5 1-46-2-5-2-42-6z"/><path fill="#f41a00" d="M2538 2075l44-21 43-11 29-2 4 1-46-5-5 0-28 0-43 9-44 19z"/><path fill="#f72100" d="M2509 2095l14-11 15-9 5-3-47-9-4 2-15 9-14 10z"/><path fill="#f92900" d="M2479 2120l15-13 15-12 4-3-46-11-4 3-15 11-15 13z"/><path fill="#fc3000" d="M2464 2135l15-15 4-4-46-12-4 4-15 14z"/><path fill="#fd3700" d="M2449 2150l15-15 4-5-46-12-4 4-15 15z"/><path fill="#ff4600" d="M2434 2168l15-18 4-4-46-13-4 4-15 17z"/><path fill="#ff4f00" d="M2419 2186l15-18 4-5-46-14-4 5-15 18z"/><path fill="#ff5700" d="M2404 2206l15-20 4-5-46-14-4 5-15 20z"/><path fill="#ff6000" d="M2388 2228l16-22 4-6-46-14-4 6-15 21z"/><path fill="#ff6a00" d="M2373 2251l15-23 5-7-46-15-4 7-15 22z"/><path fill="#ff7300" d="M2358 2275l15-24 5-7-46-16-4 7-16 24z"/><path fill="#ff7d00" d="M2343 2301l15-26 5-7-46-16-5 7-15 25z"/></g>
<path stroke-opacity=".55" d="M2274 2276l-13-4 15-25 13 4 15-24-13-4 15-22 13 4 16-21-14-4 15-19 14 4 15-18-14-3 15-17 14 4 15-15M2288 2281l-14-5 15-25 14 5 15-24-14-5 15-22 14 5 15-21-13-5 15-19 13 4 15-18-13-4 15-16 13 4 15-16M2301 2286l-13-5 15-25 14 4 15-24-14-4 15-22 14 4 15-21-14-4 15-20 14 4 15-18-14-4 15-16 14 3 15-15"/><path stroke-opacity=".4" d="M2395 2116l-14-4 15-13 13 3 15-12-13-3 14-11 14 3 15-10-14-3 15-8 14 3 14-8-13-2 14-6 14 2 14-5M2408 2119l-13-3 14-14 14 3 15-12-14-3 15-11 14 3 15-10-14-3 15-8 13 2 15-7-14-3 15-6 14 2 14-5"/><path stroke-opacity=".2" d="M2512 2042l-13-1 14-4 14 2 14-3-13-1 14-2 14 2 14-1-14-1 14 1 14 1 14 1-14 0 14 3 14 0 14 4M2526 2044l-14-2 15-3 14 1 14-2-14-2 15-1 13 1 15-1-14-1 14 1 14 1 14 1-14-1 14 3 14 1 14 3M2540 2046l-14-2 15-4 13 2 15-3-14-1 14-2 14 1 14 0-13-2 14 1 14 1 14 1-14-1 14 3 14 0 14 4"/><path stroke-opacity=".35" d="M2626 2043l-14-1 14 5 14 0 14 5-14 0 14 7 13 0 14 7-14 0 14 8 13-1 14 9-14 1 13 9 14-1 13 11M2640 2043l-14 0 14 4 14 0 13 5-13 0 13 7 14 0 13 6-13 1 13 7 14 0 13 9-13 0 13 9 13 0 14 10M2654 2044l-14-1 14 4 13 1 14 5-14-1 14 7 14 0 13 6-14 0 14 8 14 0 13 8-14 1 13 9 14 0 13 9"/><path stroke-opacity=".45" d="M2734 2102l-14 0 13 11 14-1 13 12-14 1 13 12 14-1 13 13-14 1 13 13 13-1 13 14-14 1 13 14 13-1 13 15M2748 2101l-14 1 13 10 14 0 13 11-14 1 13 12 13-1 13 13-13 1 12 13 14-1 12 14-13 1 12 14 14-1 12 15M2422 2123l-14-4 15-14 14 4 15-13-14-3 15-11 14 3 14-10-13-3 14-9 14 3 15-8-14-2 15-7 13 3 15-6M2761 2100l-13 1 13 11 13-1 13 11-13 1 12 12 14-1 13 13-14 1 13 13 13-1 13 14-14 1 13 14 13-1 13 15"/><path stroke-opacity=".5" d="M2836 2205l-14 1 12 16 14-2 12 16-14 1 13 17 13-2 12 17-14 1 12 17 14-1 11 17-13 1 12 18 13-1 12 18-14 1M2849 2204l-13 1 12 15 13-1 12 16-13 1 12 16 13-1 12 17-13 1 12 17 13-1 12 17-14 1 12 18 13-1 12 18-13 1M2863 2203l-14 1 12 15 14-1 12 16-14 1 12 16 14-1 12 17-14 1 12 17 14-1 11 17-13 1 11 18 14-1 11 18-13 1"/>
<g stroke="none"><path fill="#faf100" d="M3028 2317l12 18-46 1-11-19z"/><path fill="#fff000" d="M3017 2298l11 19 4 5-46 1-3-6-12-18z"/><path fill="#ffe700" d="M3005 2281l12 17 3 6-45 1-4-6-11-17z"/><path fill="#ffe200" d="M2994 2263l11 18 4 5-46 1-3-5-12-17z"/><path fill="#ffd900" d="M2982 2246l12 17 3 5-46 2-3-5-12-17z"/><path fill="#ffd100" d="M2970 2230l12 16 4 5-46 2-4-5-12-16z"/><path fill="#ffc800" d="M2958 2214l12 16 4 5-46 1-4-4-12-16z"/><path fill="#ffbb00" d="M2946 2199l12 15 4 5-46 2-4-5-12-16z"/><path fill="#ffb400" d="M2934 2184l12 15 4 5-46 1-4-5-12-14z"/><path fill="#ffaa00" d="M2922 2170l12 14 4 5-47 1-3-4-13-14z"/><path fill="#ff9600" d="M2909 2157l13 13 3 5-46 1-4-4-12-14z"/><path fill="#ff8500" d="M2897 2144l12 13 4 4-46 1-4-4-13-13z"/><path fill="#ff7d00" d="M2884 2132l13 12 3 4-46 1-4-4-12-12z"/><path fill="#ff7300" d="M2871 2121l13 11 4 4-47 0-3-3-13-12z"/><path fill="#ff6a00" d="M2845 2100l13 10 13 11 4 3-46 0-4-3-13-11-13-10z"/><path fill="#ff6000" d="M2832 2091l13 9 4 3-46 0-4-3-13-10z"/><path fill="#ff4f00" d="M2819 2083l13 8 4 3-46-1-4-3-13-9z"/><path fill="#ff4600" d="M2806 2075l13 8 4 2-46-1-4-3-14-8z"/><path fill="#fe3f00" d="M2793 2068l13 7 4 2-47-1-4-3-13-7z"/><path fill="#fd3700" d="M2779 2063l14 5 4 2-47-2-4-2-14-6z"/><path fill="#fc3000" d="M2766 2058l13 5 4 1-47-2-4-2-13-6z"/><path fill="#f92900" d="M2752 2054l14 4 4 1-47-3-4-2-14-4z"/><path fill="#f72100" d="M2724 2048l14 2 14 4 4 1-47-4-4-1-14-4-14-3z"/><path fill="#f41a00" d="M2682 2048l42 0 4 1-46-5-5-1-42-2z"/><path fill="#ef1300" d="M2610 2069l44-16 28-5 4 0-47-7-4 0-28 4-44 14z"/><path fill="#f41a00" d="M2566 2095l44-26 4-2-46-10-5 2-44 24z"/><path fill="#f72100" d="M2536 2119l15-13 15-11 4-3-46-12-5 3-15 11-14 12z"/><path fill="#f92900" d="M2521 2132l15-13 5-4-47-13-4 4-15 13z"/><path fill="#fc3000" d="M2506 2147l15-15 5-4-47-13-4 4-15 14z"/><path fill="#fd3700" d="M2491 2164l15-17 5-4-47-14-4 4-15 16z"/><path fill="#ff4600" d="M2476 2182l15-18 5-5-47-15-4 5-15 17z"/><path fill="#ff4f00" d="M2461 2201l15-19 5-6-47-15-4 5-15 19z"/><path fill="#ff5700" d="M2446 2221l15-20 5-6-47-16-4 6-16 20z"/><path fill="#ff6000" d="M2431 2243l15-22 5-6-47-16-5 6-15 21z"/><path fill="#ff6a00" d="M2416 2266l15-23 4-7-46-16-5 6-15 23z"/><path fill="#ff7300" d="M2400 2291l16-25 4-7-46-17-5 7-15 25z"/><path fill="#ff7d00" d="M2385 2317l15-26 5-8-47-17-4 8-15 25z"/></g>
<path stroke-opacity=".55" d="M2315 2291l-14-5 16-26 13 5 15-24-13-5 15-22 14 4 15-21-14-4 15-20 14 5 15-19-14-4 15-17 14 4 15-15M2329 2296l-14-5 15-26 14 5 15-24-14-5 16-23 13 5 16-21-14-5 15-19 14 4 15-19-14-4 15-17 14 4 15-15M2343 2301l-14-5 15-26 14 5 15-24-14-5 15-23 14 5 16-22-14-4 15-20 14 4 15-18-14-5 15-17 14 4 15-15"/><path stroke-opacity=".45" d="M2436 2127l-14-4 15-14 14 3 15-12-14-4 15-11 14 3 14-10-14-3 15-9 14 3 15-8-14-3 14-6 14 2 15-5M2775 2100l-14 0 13 11 14-1 13 12-14 0 13 12 14-1 13 13-14 1 12 13 14-1 13 14-14 1 12 14 14-1 12 15M2450 2131l-14-4 15-15 14 4 15-13-14-3 15-12 14 3 14-10-14-3 15-9 14 3 15-8-14-3 14-7 14 3 15-6M2789 2100l-14 0 13 10 14 0 13 11-14 1 13 11 14 0 12 12-13 1 12 13 14-1 13 14-14 1 12 14 14-1 12 15M2464 2135l-14-4 15-15 14 4 15-13-14-4 15-12 14 4 14-11-14-3 15-9 14 3 15-8-14-3 14-7 14 2 15-5M2803 2100l-14 0 13 10 14 0 13 11-14 0 13 12 14 0 12 12-14 0 13 13 14 0 12 13-13 1 12 14 14 0 12 14"/><path stroke-opacity=".25" d="M2554 2049l-14-3 14-4 14 2 15-3-14-2 14-2 14 2 14-1-14-1 15 0 13 1 15 1-14-1 14 2 14 1 13 3M2568 2051l-14-2 14-5 14 3 15-4-14-2 14-2 14 2 14-1-14-2 14 0 14 2 15 1-14-2 14 2 13 1 14 3M2582 2054l-14-3 14-4 14 2 15-4-14-2 14-2 14 2 14-1-14-2 14 0 15 1 14 1-14-1 13 1 15 2 13 2"/><path stroke-opacity=".35" d="M2667 2044l-13 0 13 4 14 0 14 5-14 0 14 6 14 0 13 7-14-1 14 8 13 0 14 8-14 0 13 10 14-1 13 10M2681 2045l-14-1 14 4 14 1 14 5-14-1 14 6 14 0 13 7-14 0 13 7 14 0 14 8-14 0 13 9 14 0 13 10"/><path stroke-opacity=".5" d="M2876 2202l-13 1 12 15 14-1 12 16-14 1 12 16 14-1 12 17-14 1 12 17 13-1 12 17-14 1 12 18 13-1 12 19-14 0M2890 2201l-14 1 13 15 13-1 12 16-13 1 12 16 13-1 12 17-13 1 11 17 14-1 12 18-14 0 11 18 14 0 12 18-14 1M2904 2200l-14 1 12 15 14 0 12 15-14 1 12 16 14 0 12 16-14 1 12 17 14 0 11 17-13 1 11 18 14-1 11 19-13 0"/><path stroke-opacity=".3" d="M2695 2046l-14-1 14 4 14 1 14 5-14-1 14 5 14 1 13 6-14 0 13 7 14 0 14 8-14 0 13 9 14 0 13 10"/>
<g stroke="none"><path fill="#fff000" d="M3071 2317l11 19-46-1-12-18z"/><path fill="#ffeb00" d="M3059 2299l12 18 3 6-46-1-4-5-11-19z"/><path fill="#ffe200" d="M3048 2281l11 18 4 5-47 0-3-6-12-17z"/><path fill="#ffd900" d="M3036 2263l12 18 3 5-46 0-4-5-11-18z"/><path fill="#ffd100" d="M3025 2246l11 17 4 6-47 0-3-6-12-16z"/><path fill="#ffc800" d="M3013 2230l12 16 3 5-47 1-3-5-12-17z"/><path fill="#ffc100" d="M3001 2214l12 16 3 5-46 0-4-5-12-16z"/><path fill="#ffbb00" d="M2989 2199l12 15 3 5-46 0-4-5-12-15z"/><path fill="#ffaa00" d="M2977 2185l12 14 3 5-46 0-4-5-12-14z"/><path fill="#ff9600" d="M2964 2171l13 14 3 4-47 0-3-4-13-14z"/><path fill="#ff8e00" d="M2952 2157l12 14 4 4-47 0-4-4-12-14z"/><path fill="#ff7d00" d="M2940 2145l12 12 4 4-47 0-4-4-13-13z"/><path fill="#ff7300" d="M2927 2133l13 12 3 4-47-1-4-4-12-12z"/><path fill="#ff6a00" d="M2902 2112l12 10 13 11 4 4-47-1-4-4-13-11-13-11z"/><path fill="#ff6000" d="M2889 2102l13 10 3 3-47-2-4-3-13-10z"/><path fill="#ff5700" d="M2876 2093l13 9 4 3-48-2-4-3-13-9z"/><path fill="#ff4f00" d="M2862 2085l14 8 4 3-48-2-4-3-13-9z"/><path fill="#fe3f00" d="M2849 2078l13 7 4 3-47-3-4-3-13-7z"/><path fill="#fd3700" d="M2836 2072l13 6 4 2-47-3-4-2-14-7z"/><path fill="#fc3000" d="M2822 2066l14 6 4 2-48-4-4-2-13-6z"/><path fill="#f92900" d="M2809 2062l13 4 4 2-47-4-4-2-14-5z"/><path fill="#f72100" d="M2781 2056l14 2 14 4 4 1-48-4-4-2-13-4-14-3z"/><path fill="#f41a00" d="M2740 2054l41 2 5 0-48-5-4-1-42-4z"/><path fill="#ef1300" d="M2654 2079l43-18 43-7 4 0-48-8-4 0-43 6-43 16z"/><path fill="#f41a00" d="M2609 2107l45-28 4-2-48-11-4 2-44 26z"/><path fill="#f72100" d="M2580 2131l15-13 14-11 5-4-48-12-4 3-15 11-15 12z"/><path fill="#f92900" d="M2565 2146l15-15 4-4-47-13-5 3-15 14z"/><path fill="#fc3000" d="M2550 2161l15-15 4-5-47-14-5 4-15 15z"/><path fill="#fd3700" d="M2535 2178l15-17 4-4-47-15-5 4-15 16z"/><path fill="#ff4600" d="M2520 2196l15-18 4-5-47-15-5 4-15 18z"/><path fill="#ff4f00" d="M2504 2216l16-20 4-5-47-16-5 5-15 19z"/><path fill="#ff6000" d="M2489 2236l15-20 5-6-48-17-4 6-15 21z"/><path fill="#ff6a00" d="M2459 2282l15-23 15-23 5-6-48-17-4 7-15 21-16 24z"/><path fill="#ff7300" d="M2443 2307l16-25 4-7-47-17-5 7-15 24z"/><path fill="#ff7d00" d="M2428 2334l15-27 5-7-47-18-5 7-15 26z"/></g>
<path stroke-opacity=".55" d="M2357 2306l-14-5 15-26 14 5 15-24-14-5 15-23 14 5 16-22-14-5 15-20 14 5 15-19-14-4 15-18 14 5 15-16M2371 2312l-14-6 15-26 14 5 15-24-14-5 15-23 15 5 15-22-14-5 15-20 14 5 15-19-14-5 15-17 14 4 15-16M2385 2317l-14-5 15-27 14 6 16-25-15-5 16-23 14 5 15-22-14-5 15-20 14 5 15-19-14-5 15-18 14 5 15-17"/><path stroke-opacity=".45" d="M2478 2139l-14-4 15-15 14 4 15-13-14-4 15-12 14 3 15-10-15-4 15-9 14 3 15-8-14-3 14-8 15 3 14-6M2817 2100l-14 0 13 10 14 0 13 11-14 0 13 12 14-1 12 13-14 0 13 13 14-1 12 14-14 0 13 15 14-1 12 15M2492 2143l-14-4 15-15 14 4 15-13-14-4 15-13 14 4 15-11-14-3 14-10 15 3 14-8-14-3 15-8 14 3 14-6M2831 2100l-14 0 13 10 14 0 13 11-14 0 13 11 14 0 13 12-15 1 13 12 14 0 12 14-14 0 13 14 14 0 12 14M2506 2147l-14-4 15-15 14 4 15-13-14-4 15-13 14 4 15-11-14-4 15-10 14 4 15-9-15-3 15-8 14 4 15-7M2845 2100l-14 0 13 10 14 0 13 11-14 0 13 11 14 0 13 12-14 0 12 13 14 0 13 13-15 1 13 14 14-1 12 15"/><path stroke-opacity=".25" d="M2596 2056l-14-2 14-5 15 2 14-3-14-3 14-2 14 2 15-1-15-2 15-1 14 2 14 1-14-2 14 2 14 1 14 3M2610 2059l-14-3 15-5 14 3 14-4-14-2 14-3 15 2 14-1-14-2 14-1 14 2 14 0-14-1 14 1 14 2 14 2M2625 2062l-15-3 15-5 14 3 15-4-15-3 15-3 14 3 14-2-14-2 14-1 14 2 14 0-14-2 14 2 14 1 14 2"/><path stroke-opacity=".3" d="M2710 2048l-15-2 14 4 14 1 14 4-14 0 14 5 14 1 13 6-14-1 13 7 15 1 13 8-14-1 13 9 14 0 13 10M2724 2049l-14-1 13 3 15 1 13 4-14-1 14 6 14 1 13 6-14-1 14 7 14 0 13 8-14 0 13 8 14 1 13 9M2738 2050l-14-1 14 3 14 2 14 4-15-2 14 6 14 1 14 5-15 0 14 6 14 1 13 8-14-1 13 9 14 0 13 9"/><path stroke-opacity=".5" d="M2918 2200l-14 0 12 16 14-1 12 16-14 0 12 17 14-1 12 17-14 0 12 18 14-1 11 18-14 0 12 18 14 0 11 18-14 1M2932 2199l-14 1 12 15 14 0 12 15-14 1 12 16 14 0 12 17-14 0 12 17 13 0 12 18-14 0 12 18 13 0 12 18-14 0M2946 2199l-14 0 12 16 14-1 12 16-14 0 12 17 14-1 12 17-14 1 11 17 14 0 12 17-14 1 11 18 14 0 12 18-14 0"/>
<g stroke="none"><path fill="#fff000" d="M3114 2319l11 19-47-2-12-19z"/><path fill="#ffe700" d="M3102 2300l12 19 3 5-47-1-4-6-11-18z"/><path fill="#ffe200" d="M3091 2282l11 18 4 6-48-2-3-5-11-18z"/><path fill="#ffd900" d="M3079 2264l12 18 3 5-47-1-3-5-12-18z"/><path fill="#ffd100" d="M3068 2247l11 17 4 6-48-2-3-5-12-17z"/><path fill="#ffc800" d="M3056 2231l12 16 3 6-47-2-4-5-11-16z"/><path fill="#ffbb00" d="M3044 2215l12 16 4 5-48-1-3-5-12-16z"/><path fill="#ffb400" d="M3032 2200l12 15 4 5-48-1-3-5-12-15z"/><path fill="#ffa000" d="M3020 2186l12 14 4 5-48-1-3-5-13-14z"/><path fill="#ff8e00" d="M3008 2172l12 14 4 4-48-1-4-4-12-14z"/><path fill="#ff7d00" d="M2996 2159l12 13 4 4-48-1-4-4-12-14z"/><path fill="#ff7300" d="M2971 2135l12 12 13 12 3 4-47-2-4-4-13-12-12-12z"/><path fill="#ff6a00" d="M2958 2124l13 11 4 4-48-3-4-3-13-11z"/><path fill="#ff6000" d="M2945 2114l13 10 4 3-48-2-4-3-13-11z"/><path fill="#ff5700" d="M2933 2105l12 9 4 3-48-3-4-3-13-9z"/><path fill="#ff4f00" d="M2920 2096l13 9 3 3-48-3-4-3-13-9z"/><path fill="#ff4600" d="M2906 2089l14 7 3 3-48-3-4-3-13-8z"/><path fill="#fd3700" d="M2893 2082l13 7 4 2-48-4-4-2-13-7z"/><path fill="#fc3000" d="M2880 2076l13 6 4 2-48-4-4-2-13-7z"/><path fill="#f92900" d="M2867 2071l13 5 4 2-48-5-4-2-14-5z"/><path fill="#f72100" d="M2839 2064l14 3 14 4 4 2-49-5-4-2-13-5-14-3z"/><path fill="#f41a00" d="M2812 2061l14 1 13 2 4 1-48-6-4-1-14-3-14-2z"/><path fill="#ef1300" d="M2683 2098l44-22 43-12 42-3 4 0-49-7-4-1-42 1-43 11-43 21z"/><path fill="#f41a00" d="M2654 2119l14-11 15-10 5-2-49-13-4 3-15 9-15 10z"/><path fill="#f72100" d="M2624 2145l15-13 15-13 4-3-48-14-5 3-15 12-15 13z"/><path fill="#f92900" d="M2609 2160l15-15 4-4-48-15-5 4-15 14z"/><path fill="#fc3000" d="M2594 2176l15-16 4-5-48-15-5 4-15 16z"/><path fill="#fd3700" d="M2579 2193l15-17 4-5-48-16-5 5-15 17z"/><path fill="#ff4600" d="M2564 2212l15-19 4-5-48-16-5 5-15 18z"/><path fill="#ff4f00" d="M2548 2231l16-19 4-6-48-17-5 6-15 19z"/><path fill="#ff6000" d="M2533 2253l15-22 5-5-48-18-5 6-15 21z"/><path fill="#ff6a00" d="M2502 2299l16-24 15-22 5-7-49-17-4 6-15 22-16 24z"/><path fill="#ff7300" d="M2487 2324l15-25 5-7-48-18-5 7-15 25z"/><path fill="#ff7d00" d="M2472 2351l15-27 5-7-48-19-5 8-15 26z"/></g>
<path stroke-opacity=".55" d="M2399 2322l-14-5 15-26 15 5 15-25-14-5 15-23 14 5 15-22-14-5 15-20 14 5 16-20-15-4 15-18 15 4 15-16M2414 2328l-15-6 16-26 14 6 15-25-14-6 15-23 14 5 16-22-15-5 15-20 15 5 15-20-14-5 15-18 14 5 15-17M2428 2334l-14-6 15-26 14 5 16-25-15-5 15-24 15 6 15-23-14-5 15-20 14 5 16-20-15-5 15-18 15 5 15-17"/><path stroke-opacity=".45" d="M2521 2152l-15-5 15-15 15 5 15-14-15-4 15-13 15 4 14-11-14-4 15-10 14 3 15-8-14-4 14-7 15 3 14-7M2860 2101l-15-1 13 10 15 0 13 11-15 0 13 11 14 0 13 12-14 0 12 13 14 0 13 13-14 0 12 14 14 0 12 15M2535 2156l-14-4 15-15 14 4 15-14-14-4 15-13 14 4 15-11-15-4 15-11 15 4 14-9-14-3 15-8 14 3 15-7M2550 2161l-15-5 15-15 15 5 15-15-15-4 15-13 15 4 14-11-14-4 15-11 14 4 15-9-15-4 15-8 15 4 14-7"/><path stroke-opacity=".25" d="M2639 2065l-14-3 14-5 15 3 14-5-14-2 14-3 14 2 14-2-14-2 14-1 15 2 14 0-15-2 14 1 15 2 13 2M2654 2068l-15-3 15-5 14 3 14-5-14-3 14-3 15 3 14-2-15-3 15-1 14 2 14 0-14-2 14 1 14 2 14 2"/><path stroke-opacity=".3" d="M2752 2052l-14-2 14 4 14 1 14 4-14-1 13 5 14 1 14 5-14-1 13 7 14 1 14 7-15 0 13 8 15 1 13 9M2767 2054l-15-2 14 3 15 2 13 3-14-1 13 5 15 1 13 5-14-1 13 7 15 1 13 7-14-1 13 9 14 0 13 9M2668 2072l-14-4 14-5 15 3 14-5-15-3 15-3 14 3 15-3-15-2 14-2 15 3 14-1-15-2 14 1 15 2 13 2-14-2 14 3 14 1 14 4-15-2 14 5 14 1 14 6-15-2 14 7 14 1 13 7-14-1 13 8 15 1 13 9"/><path stroke-opacity=".5" d="M2960 2199l-14 0 12 15 14 0 12 16-14 0 12 16 14 0 12 17-14 0 11 18 14-1 12 18-14 0 11 19 14 0 12 18-14 0M2975 2199l-15 0 12 15 15 0 12 16-15 0 12 16 14 0 12 17-14 0 11 17 15 1 11 17-14 0 11 19 14 0 12 19-14-1M2989 2199l-14 0 12 15 14 0 12 16-14 0 11 16 15 0 11 17-14 0 12 18 14 0 11 18-14-1 11 19 15 0 11 19-14 0"/><path stroke-opacity=".4" d="M2874 2101l-14 0 13 9 14 1 13 10-14 0 12 11 15 1 12 12-14-1 12 13 15 0 12 13-14 0 12 14 14 0 13 15M2889 2102l-15-1 13 10 15 1 12 10-14-1 13 12 14 0 13 12-15 0 13 12 14 0 12 14-14-1 12 14 15 1 12 14"/>
<g stroke="none"><path fill="#ffeb00" d="M3157 2321l11 20-48-3-11-19z"/><path fill="#ffe200" d="M3146 2303l11 18 3 6-47-3-4-5-11-19z"/><path fill="#ffd900" d="M3135 2284l11 19 3 5-48-3-3-5-11-18z"/><path fill="#ffd100" d="M3123 2267l12 17 3 6-48-3-3-5-12-18z"/><path fill="#ffc800" d="M3112 2250l11 17 4 5-48-2-4-6-12-17z"/><path fill="#ffc100" d="M3100 2233l12 17 3 5-48-3-4-5-11-16z"/><path fill="#ffb400" d="M3088 2218l12 15 4 5-49-2-3-5-12-16z"/><path fill="#ffaa00" d="M3077 2203l11 15 4 4-49-2-3-5-12-15z"/><path fill="#ff9600" d="M3065 2188l12 15 3 4-48-2-4-5-12-14z"/><path fill="#ff8500" d="M3052 2175l13 13 3 5-48-3-4-4-12-14z"/><path fill="#ff7d00" d="M3040 2162l12 13 4 4-49-3-3-4-13-13z"/><path fill="#ff7300" d="M3028 2150l12 12 4 4-49-3-4-4-12-13z"/><path fill="#ff6a00" d="M3015 2138l13 12 4 3-49-3-4-4-13-11z"/><path fill="#ff6000" d="M2990 2118l13 10 12 10 4 4-49-4-4-3-12-11-13-10z"/><path fill="#ff4f00" d="M2977 2109l13 9 4 3-49-4-4-3-13-9z"/><path fill="#ff4600" d="M2964 2101l13 8 4 3-49-5-4-2-13-9z"/><path fill="#fd3700" d="M2951 2094l13 7 4 2-49-4-4-3-13-8z"/><path fill="#fc3000" d="M2938 2087l13 7 4 2-49-5-4-3-13-6z"/><path fill="#f92900" d="M2911 2077l14 5 13 5 4 2-49-5-4-2-13-6-14-5z"/><path fill="#f72100" d="M2898 2074l13 3 4 2-49-7-4-1-13-4z"/><path fill="#f41a00" d="M2871 2069l13 2 14 3 4 1-49-7-4-1-14-4-14-2z"/><path fill="#ef1300" d="M2728 2111l44-24 43-14 42-4 14 0 4 1-50-8-4-1-14-1-42 3-43 12-43 22z"/><path fill="#f41a00" d="M2699 2133l14-12 15-10 4-3-49-13-4 2-15 10-15 11z"/><path fill="#f72100" d="M2669 2160l15-14 15-13 4-4-49-14-5 3-15 12-15 14z"/><path fill="#f92900" d="M2654 2175l15-15 4-5-49-15-5 4-15 14z"/><path fill="#fc3000" d="M2639 2191l15-16 4-5-49-16-5 4-15 16z"/><path fill="#fe3f00" d="M2623 2209l16-18 4-5-49-16-5 4-15 18z"/><path fill="#ff4600" d="M2608 2228l15-19 5-6-49-17-5 6-15 18z"/><path fill="#ff5700" d="M2593 2248l15-20 5-6-49-18-5 6-15 20z"/><path fill="#ff6000" d="M2578 2269l15-21 5-6-50-18-4 6-15 21z"/><path fill="#ff6a00" d="M2562 2292l16-23 4-6-49-18-4 6-16 22z"/><path fill="#ff7300" d="M2531 2342l16-26 15-24 5-7-49-18-5 6-15 24-15 26z"/><path fill="#ff8500" d="M2516 2368l15-26 5-8-49-19-4 8-16 26z"/></g>
<path stroke-opacity=".55" d="M2442 2339l-14-5 15-27 15 6 15-25-14-6 15-23 14 5 16-22-15-6 15-20 15 5 15-20-14-5 15-18 14 5 15-17M2457 2345l-15-6 16-26 14 6 16-26-15-5 15-24 15 6 15-23-14-5 15-21 15 5 15-20-15-5 15-18 15 5 15-17M2472 2351l-15-6 15-26 15 5 15-25-14-6 15-23 15 5 15-22-15-6 16-21 14 5 16-19-15-6 15-18 15 5 15-17"/><path stroke-opacity=".5" d="M2564 2166l-14-5 15-15 14 4 15-14-14-5 15-13 14 5 15-12-15-4 15-11 15 4 15-9-15-4 15-8 14 3 15-7M3003 2199l-14 0 12 15 14 1 12 15-14 0 12 16 14 1 12 17-15-1 12 18 14 0 12 18-15 0 12 18 14 0 11 19-14 0M2579 2171l-15-5 15-16 15 5 15-15-15-4 15-13 15 4 15-12-15-4 15-11 15 4 14-10-14-3 14-9 15 4 15-7M3018 2200l-15-1 12 16 15 0 12 16-15-1 12 17 14 0 12 17-14 0 11 17 14 0 12 18-14 0 11 18 14 1 11 19-14-1M2594 2176l-15-5 15-16 15 5 15-15-15-5 15-13 15 5 15-13-15-4 15-11 14 4 15-10-15-4 15-8 15 4 14-8M3032 2200l-14 0 12 15 14 0 12 16-14 0 11 16 15 0 11 17-14 0 11 17 15 1 11 18-14-1 11 19 15 1 11 19-15-1"/><path stroke-opacity=".3" d="M2683 2075l-15-3 15-6 14 3 15-5-15-3 14-3 15 3 14-3-14-3 14-1 14 2 14 0-14-3 14 1 14 2 14 2-15-2 14 2 15 2 14 3-15-1 13 4 15 2 14 5-15-1 13 6 15 1 13 7-15-1 14 8 14 1 13 9M2698 2079l-15-4 14-6 15 4 14-6-14-3 14-3 15 3 14-3-15-3 14-2 15 3 14-1-15-2 14 0 15 2 14 2-15-2 14 2 15 2 13 3-14-2 13 5 15 1 13 6-14-2 13 6 15 2 13 6-15-1 13 8 15 1 13 9M2712 2082l-14-3 14-6 15 3 14-5-15-4 15-3 15 3 14-3-15-3 14-2 15 3 14-1-15-3 14 0 15 3 14 1"/><path stroke-opacity=".4" d="M2903 2103l-14-1 13 10 14 0 13 11-15-1 13 11 15 1 12 11-14 0 12 12 15 1 12 13-15 0 13 14 14 0 12 14M2918 2104l-15-1 13 9 15 1 12 10-14 0 13 11 14 0 13 12-15-1 13 13 14 0 12 13-14 0 12 14 15 0 12 15M2933 2105l-15-1 13 9 14 1 13 10-15-1 13 11 15 1 12 12-14-1 12 12 15 1 12 13-15-1 13 14 14 1 12 14"/><path stroke-opacity=".25" d="M2826 2062l-15-2 14 2 14 2 14 3-15-2 14 4 15 2 13 5-15-1 14 6 14 1 13 7-14-2 13 8 15 1 13 9"/>
<g stroke="none"><path fill="#ffe700" d="M3201 2325l11 20-48-4-11-20z"/><path fill="#ffe200" d="M3190 2306l11 19 4 6-49-4-3-6-11-19z"/><path fill="#ffd900" d="M3179 2288l11 18 4 6-49-4-3-6-12-18z"/><path fill="#ffd100" d="M3168 2270l11 18 4 5-49-3-4-6-11-18z"/><path fill="#ffc800" d="M3156 2253l12 17 3 6-49-4-3-6-12-17z"/><path fill="#ffbb00" d="M3145 2237l11 16 4 5-49-3-4-6-11-16z"/><path fill="#ffb400" d="M3133 2221l12 16 3 5-49-4-3-5-12-16z"/><path fill="#ffa000" d="M3121 2206l12 15 4 5-50-4-3-5-12-15z"/><path fill="#ff8e00" d="M3110 2192l11 14 4 5-49-4-4-5-12-14z"/><path fill="#ff7d00" d="M3097 2178l13 14 3 4-49-4-4-4-12-14z"/><path fill="#ff7300" d="M3073 2154l12 12 12 12 4 4-49-4-4-4-12-13-13-12z"/><path fill="#ff6a00" d="M3061 2142l12 12 4 3-50-4-4-4-12-11z"/><path fill="#ff6000" d="M3048 2132l13 10 3 4-49-5-4-3-13-11z"/><path fill="#ff5700" d="M3035 2123l13 9 4 3-50-5-4-3-12-10z"/><path fill="#ff4f00" d="M3023 2114l12 9 4 2-50-5-3-3-13-9z"/><path fill="#fe3f00" d="M3010 2106l13 8 3 3-49-6-4-3-13-8z"/><path fill="#fd3700" d="M2997 2099l13 7 4 3-50-6-4-3-13-7z"/><path fill="#fc3000" d="M2984 2093l13 6 4 2-50-6-4-2-13-6z"/><path fill="#f92900" d="M2970 2088l14 5 3 2-50-6-3-2-14-6z"/><path fill="#f72100" d="M2943 2081l14 3 13 4 4 2-50-7-4-2-13-4-14-4z"/><path fill="#f41a00" d="M2916 2078l14 1 13 2 5 1-51-8-4-1-13-3-14-1z"/><path fill="#ef1300" d="M2860 2083l42-5 14 0 4 0-50-9-4 0-14-1-42 4z"/><path fill="#eb0c00" d="M2832 2093l14-6 14-4 5 0-51-12-4 1-14 4-14 4z"/><path fill="#ef1300" d="M2774 2124l44-25 14-6 4-2-50-12-4 1-15 6-43 24z"/><path fill="#f41a00" d="M2744 2147l15-12 15-11 4-3-50-14-4 3-15 10-15 12z"/><path fill="#f72100" d="M2729 2160l15-13 5-3-51-16-4 4-15 12z"/><path fill="#f92900" d="M2699 2190l15-15 15-15 5-4-50-16-5 4-15 14-15 15z"/><path fill="#fc3000" d="M2684 2207l15-17 5-5-50-16-5 4-15 17z"/><path fill="#fe3f00" d="M2669 2225l15-18 5-5-50-17-5 5-15 17z"/><path fill="#ff4600" d="M2654 2244l15-19 5-5-51-18-4 5-15 19z"/><path fill="#ff5700" d="M2638 2265l16-21 4-6-50-18-4 6-16 20z"/><path fill="#ff6000" d="M2623 2286l15-21 5-6-50-19-5 6-15 22z"/><path fill="#ff6a00" d="M2608 2309l15-23 5-6-50-19-5 7-15 22z"/><path fill="#ff7300" d="M2592 2334l16-25 4-6-50-19-4 6-16 24z"/><path fill="#ff7d00" d="M2577 2359l15-25 5-8-50-19-5 7-15 26z"/><path fill="#ff8500" d="M2561 2386l16-27 4-7-49-20-5 8-15 27z"/></g>
<path stroke-opacity=".55" d="M2486 2357l-14-6 15-27 15 6 15-25-15-6 16-24 15 6 15-23-15-5 15-22 15 6 15-20-14-5 15-19 15 5 15-17M2501 2362l-15-5 16-27 15 6 15-26-15-5 16-24 14 5 16-22-15-6 15-21 15 5 15-20-15-5 16-19 14 5 16-17M2516 2368l-15-6 16-26 14 6 16-26-15-6 15-24 15 6 16-23-15-5 15-22 15 6 15-20-15-6 15-19 15 6 16-18"/><path stroke-opacity=".5" d="M2609 2181l-15-5 15-16 15 5 15-15-15-5 15-13 15 4 15-12-15-5 14-11 15 5 15-10-15-5 15-8 15 4 14-8M3047 2201l-15-1 12 15 15 1 12 16-15-1 12 16 14 1 12 17-15-1 12 18 14 1 12 18-15-1 12 19 14 0 11 20-14-1M2624 2186l-15-5 15-16 15 5 15-15-15-5 15-14 15 5 14-13-14-4 14-11 15 4 15-10-15-4 15-9 15 4 14-8M3062 2202l-15-1 12 15 15 1 11 16-14-1 11 16 15 1 12 17-15-1 11 18 15 0 11 19-14-1 11 18 15 1 11 20-15-1M2639 2191l-15-5 15-16 15 5 15-15-15-5 15-14 15 5 15-13-16-5 15-11 15 4 15-10-15-4 15-9 15 4 14-8M3077 2203l-15-1 12 15 14 1 12 15-15 0 12 16 15 1 11 17-14-1 11 17 15 1 11 19-15-1 12 18 14 1 11 20-14-1"/><path stroke-opacity=".3" d="M2727 2086l-15-4 15-6 15 4 14-6-15-3 15-4 14 3 15-3-15-3 14-2 15 3 14-2-15-2 14 0 15 2 14 1M2742 2090l-15-4 15-6 15 3 14-5-15-4 14-4 15 3 15-3-15-3 14-2 15 3 14-2-15-3 14 0 15 3 13 1M2757 2094l-15-4 15-7 15 4 14-6-15-3 14-5 15 4 15-4-15-3 14-2 15 3 14-2-15-3 14 0 15 3 14 0"/><path stroke-opacity=".25" d="M2841 2064l-15-2 13 2 15 2 14 3-15-2 14 4 14 2 14 5-15-2 13 6 15 2 13 6-15-1 14 7 14 2 13 8M2855 2067l-14-3 13 2 15 3 14 2-15-2 13 4 15 2 14 5-15-2 13 6 15 1 13 7-15-2 13 8 15 1 13 8M2871 2069l-16-2 14 2 15 2 14 3-15-3 13 4 15 2 14 5-15-2 13 5 15 2 13 7-15-2 13 7 15 2 13 8"/><path stroke-opacity=".4" d="M2947 2106l-14-1 12 9 15 1 13 10-15-1 13 11 15 1 12 12-15-1 13 12 14 1 13 13-15-1 12 14 15 1 12 14M2962 2107l-15-1 13 9 15 1 13 10-15-1 13 11 14 1 13 11-15 0 12 12 15 1 13 13-15-1 12 14 15 0 12 15M2977 2109l-15-2 13 9 15 2 13 10-15-2 12 11 15 1 13 12-15-2 12 13 15 1 12 13-14-1 12 13 15 1 12 15"/>
<g stroke="none"><path fill="#ffe700" d="M3246 2330l11 20-49-5-11-20z"/><path fill="#ffd900" d="M3235 2311l11 19 4 6-50-5-3-6-11-19z"/><path fill="#ffd100" d="M3224 2293l11 18 4 6-50-5-3-6-11-18z"/><path fill="#ffc800" d="M3213 2275l11 18 4 5-50-5-3-5-12-18z"/><path fill="#ffc100" d="M3202 2258l11 17 4 5-50-5-4-5-11-17z"/><path fill="#ffbb00" d="M3190 2241l12 17 3 5-50-5-3-5-12-17z"/><path fill="#ffaa00" d="M3179 2226l11 15 4 5-50-5-4-5-11-15z"/><path fill="#ff9600" d="M3167 2211l12 15 3 4-50-5-3-4-12-15z"/><path fill="#ff8500" d="M3155 2196l12 15 4 4-51-5-3-4-12-15z"/><path fill="#ff7d00" d="M3143 2183l12 13 4 5-50-5-4-5-12-13z"/><path fill="#ff7300" d="M3131 2170l12 13 4 4-50-5-4-4-12-13z"/><path fill="#ff6a00" d="M3119 2159l12 11 4 4-51-5-3-4-13-12z"/><path fill="#ff6000" d="M3107 2148l12 11 4 3-51-5-4-4-12-11z"/><path fill="#ff5700" d="M3094 2138l13 10 3 3-50-6-4-3-13-10z"/><path fill="#ff4f00" d="M3082 2128l12 10 4 3-51-6-4-3-12-10z"/><path fill="#ff4600" d="M3069 2120l13 8 3 3-50-6-4-3-13-9z"/><path fill="#fd3700" d="M3056 2113l13 7 4 3-51-7-4-3-13-7z"/><path fill="#fc3000" d="M3043 2106l13 7 4 2-51-7-4-2-13-7z"/><path fill="#f92900" d="M3030 2101l13 5 4 2-51-7-4-2-13-6z"/><path fill="#f72100" d="M3003 2092l14 4 13 5 4 1-51-7-4-2-13-5-14-4z"/><path fill="#f41a00" d="M2976 2088l14 2 13 2 4 1-51-8-4-1-13-4-14-2z"/><path fill="#ef1300" d="M2935 2089l41-1 4 0-51-9-4-1-41 0z"/><path fill="#eb0c00" d="M2878 2105l43-14 14-2 4-1-51-11-4 1-14 1-43 12z"/><path fill="#ef1300" d="M2820 2138l44-27 14-6 5-2-51-13-5 1-14 7-44 25z"/><path fill="#f41a00" d="M2791 2162l15-13 14-11 5-3-51-15-5 3-15 11-14 12z"/><path fill="#f72100" d="M2776 2175l15-13 4-4-51-16-4 4-15 13z"/><path fill="#f92900" d="M2746 2206l15-16 15-15 4-4-51-16-4 4-15 14-15 16z"/><path fill="#fd3700" d="M2731 2223l15-17 4-5-51-17-4 5-15 16z"/><path fill="#fe3f00" d="M2715 2241l16-18 4-5-51-18-4 5-16 18z"/><path fill="#ff4f00" d="M2700 2261l15-20 5-5-51-18-5 5-15 20z"/><path fill="#ff5700" d="M2685 2282l15-21 5-6-51-18-5 6-15 20z"/><path fill="#ff6000" d="M2669 2304l16-22 4-7-51-18-4 6-15 22z"/><path fill="#ff6a00" d="M2654 2327l15-23 5-7-51-19-4 7-16 23z"/><path fill="#ff7300" d="M2638 2351l16-24 4-7-50-19-5 7-15 24z"/><path fill="#ff7d00" d="M2623 2377l15-26 5-7-51-19-4 7-16 26z"/><path fill="#ff8500" d="M2607 2404l16-27 4-8-50-19-5 8-15 26z"/></g>
<path stroke-opacity=".55" d="M2531 2374l-15-6 15-26 15 6 16-26-15-6 15-24 15 6 16-23-15-6 15-21 15 5 15-20-15-5 15-19 16 5 15-18M2546 2380l-15-6 15-26 16 5 15-25-15-6 15-24 15 6 16-23-15-6 15-22 15 6 16-20-16-6 16-19 15 5 15-17M2561 2386l-15-6 16-27 15 6 15-25-15-6 15-24 16 5 15-23-15-5 15-22 15 6 16-21-15-5 15-20 15 6 15-18"/><path stroke-opacity=".5" d="M2654 2196l-15-5 15-16 15 5 15-16-15-4 15-14 15 4 15-12-15-5 14-12 16 5 14-11-15-4 15-9 15 4 14-8M3091 2204l-14-1 11 15 15 1 12 15-15-1 12 17 15 1 11 17-15-1 12 17 14 1 12 19-15-1 11 18 15 2 11 19-15-1M2669 2202l-15-6 15-16 15 5 15-15-15-6 15-14 15 5 15-13-15-4 15-12 15 4 14-10-15-5 15-9 15 4 15-8M3106 2205l-15-1 12 15 15 1 12 15-15-1 12 17 14 1 12 17-15-1 11 17 15 2 11 18-14-1 11 19 15 1 11 19-15-1M2684 2207l-15-5 15-17 15 5 15-15-15-5 15-15 15 5 15-13-15-5 15-12 15 5 15-11-16-4 15-10 15 5 15-9M3121 2206l-15-1 12 15 15 1 12 16-15-2 11 17 15 1 12 17-15-1 11 18 15 1 11 18-15-1 12 19 14 1 11 20-14-2"/><path stroke-opacity=".35" d="M2772 2098l-15-4 15-7 15 4 14-6-15-4 14-4 16 3 14-4-15-3 14-2 15 3 14-2-15-3 14 0 15 3 14 0M2788 2102l-16-4 15-7 15 4 15-6-16-4 15-5 15 4 14-4-15-4 14-2 15 3 14-2-15-3 14 0 15 3 14 0M2803 2106l-15-4 14-7 16 4 14-6-15-4 14-5 15 3 14-4-15-3 14-3 16 3 14-1-16-4 14 0 15 3 14 0"/><path stroke-opacity=".25" d="M2886 2072l-15-3 13 2 15 3 14 2-15-2 13 3 15 2 14 5-15-2 13 5 15 2 13 6-15-1 13 7 15 1 13 8M2901 2075l-15-3 13 2 16 2 13 3-15-3 13 3 16 3 13 4-15-2 13 5 15 2 13 6-15-2 13 7 15 2 13 8M2916 2078l-15-3 14 1 15 3 13 2-15-2 14 3 15 2 13 4-15-2 13 5 16 2 13 6-16-2 13 7 16 2 13 8"/><path stroke-opacity=".4" d="M2992 2110l-15-1 13 9 15 1 13 10-15-1 12 10 15 1 13 12-15-1 12 12 15 1 12 13-15-1 13 13 14 1 12 15M3007 2112l-15-2 13 9 15 2 13 9-15-1 12 10 15 2 13 11-15-1 12 12 15 1 12 13-15-1 12 13 15 1 12 15M3023 2114l-16-2 13 9 15 2 13 9-15-2 12 11 16 1 12 12-15-2 12 12 15 2 12 12-15-1 12 13 16 2 11 14"/>
<g stroke="none"><path fill="#ffe200" d="M3292 2337l11 20-50-7-11-20z"/><path fill="#ffd900" d="M3281 2317l11 20 3 6-50-7-3-6-11-19z"/><path fill="#ffd100" d="M3270 2298l11 19 4 6-51-7-3-5-11-19z"/><path fill="#ffc800" d="M3259 2281l11 17 4 6-51-6-3-6-11-18z"/><path fill="#ffbb00" d="M3248 2263l11 18 4 5-51-6-3-6-12-17z"/><path fill="#ffb400" d="M3237 2247l11 16 3 5-50-6-4-5-11-16z"/><path fill="#ffa000" d="M3225 2231l12 16 3 5-51-6-3-5-12-16z"/><path fill="#ff8e00" d="M3214 2216l11 15 4 5-51-6-4-5-11-15z"/><path fill="#ff7d00" d="M3202 2202l12 14 3 5-51-6-3-5-12-14z"/><path fill="#ff7300" d="M3178 2176l12 13 12 13 3 4-51-6-3-4-12-13-12-13z"/><path fill="#ff6a00" d="M3166 2165l12 11 3 4-51-6-3-4-13-12z"/><path fill="#ff6000" d="M3153 2154l13 11 3 3-51-6-4-4-12-11z"/><path fill="#ff5700" d="M3141 2144l12 10 4 3-51-7-4-3-13-10z"/><path fill="#ff4f00" d="M3128 2135l13 9 4 3-52-7-4-3-12-9z"/><path fill="#fe3f00" d="M3116 2127l12 8 4 3-51-7-4-3-13-9z"/><path fill="#fd3700" d="M3103 2120l13 7 4 3-52-8-4-3-13-7z"/><path fill="#f92900" d="M3077 2109l13 5 13 6 4 2-52-8-4-2-13-7-13-5z"/><path fill="#f72100" d="M3064 2104l13 5 4 1-52-9-4-1-13-5z"/><path fill="#f41a00" d="M3037 2099l14 2 13 3 4 2-52-9-4-2-13-4-14-2z"/><path fill="#ef1300" d="M2982 2100l42-3 13 2 4 0-52-10-4 0-13-2-42 1z"/><path fill="#eb0c00" d="M2926 2117l42-15 14-2 4-1-51-12-5 1-14 2-42 13z"/><path fill="#ef1300" d="M2868 2153l43-28 15-8 4-1-52-14-4 1-15 7-43 27z"/><path fill="#f41a00" d="M2838 2177l15-13 15-11 4-4-52-15-4 3-15 11-15 12z"/><path fill="#f72100" d="M2823 2191l15-14 5-4-52-16-5 3-15 14z"/><path fill="#f92900" d="M2808 2206l15-15 5-4-52-17-5 4-15 15z"/><path fill="#fc3000" d="M2793 2222l15-16 5-5-52-17-5 5-15 15z"/><path fill="#fd3700" d="M2778 2240l15-18 5-5-52-17-5 4-15 18z"/><path fill="#fe3f00" d="M2763 2258l15-18 4-6-52-18-4 6-15 18z"/><path fill="#ff4f00" d="M2747 2278l16-20 4-5-52-19-4 6-16 19z"/><path fill="#ff5700" d="M2732 2299l15-21 5-6-52-19-5 6-15 21z"/><path fill="#ff6000" d="M2716 2321l16-22 4-6-51-19-5 6-15 22z"/><path fill="#ff6a00" d="M2701 2344l15-23 5-7-52-19-4 7-16 23z"/><path fill="#ff7300" d="M2685 2369l16-25 5-7-52-19-5 7-15 25z"/><path fill="#ff7d00" d="M2670 2395l15-26 5-8-52-19-4 8-16 25z"/><path fill="#ff8500" d="M2654 2421l16-26 4-8-51-19-5 7-15 27z"/></g>
<path stroke-opacity=".55" d="M2576 2392l-15-6 16-27 15 6 16-25-16-6 16-25 15 6 15-23-15-6 15-21 16 5 15-20-15-6 15-19 15 5 16-18M2592 2398l-16-6 16-27 15 6 16-26-15-5 15-25 15 6 16-23-16-6 16-22 15 6 16-21-16-5 15-20 16 6 15-18M2607 2404l-15-6 15-27 16 6 15-26-15-6 15-24 16 6 15-23-15-6 15-22 16 6 15-21-15-6 15-19 15 5 16-18"/><path stroke-opacity=".5" d="M2700 2212l-16-5 15-17 16 5 15-15-16-5 15-15 16 5 15-13-16-5 15-12 15 5 15-11-15-5 14-9 16 4 14-9M3137 2207l-16-1 12 15 15 1 12 16-15-1 11 16 16 2 11 17-15-2 11 18 15 1 11 19-15-2 11 19 15 2 11 20-15-2M2715 2218l-15-6 15-17 15 6 15-16-15-5 15-15 15 5 15-13-15-5 14-12 16 5 15-11-16-5 15-10 15 5 15-9M3152 2209l-15-2 11 15 16 2 11 16-15-2 12 17 15 1 11 17-15-1 11 17 15 2 11 18-15-1 11 19 15 2 11 19-15-1M2731 2223l-16-5 15-17 16 5 15-16-16-5 15-15 16 5 15-13-16-5 15-12 16 4 14-11-15-4 14-10 16 4 15-9M3167 2211l-15-2 12 15 15 2 11 15-15-1 12 16 15 2 11 17-15-2 11 18 15 2 11 18-15-2 11 20 15 1 11 20-15-2"/><path stroke-opacity=".35" d="M2818 2110l-15-4 15-7 15 4 14-6-15-4 14-6 16 4 14-4-16-4 15-3 15 4 14-2-15-3 13-1 16 3 14 0M2834 2115l-16-5 15-7 15 4 15-6-16-4 15-6 15 4 14-4-15-4 14-3 15 3 14-2-15-3 14-1 15 3 14 0M2850 2119l-16-4 14-8 16 4 14-6-15-4 14-6 16 4 14-4-16-4 14-4 16 4 14-2-16-4 14-1 16 3 14 0"/><path stroke-opacity=".25" d="M2932 2081l-16-3 14 1 15 3 14 2-16-3 14 3 15 3 14 4-16-3 14 5 15 3 13 6-15-3 13 7 15 2 13 8M2947 2084l-15-3 13 1 16 3 13 2-15-3 13 3 16 2 13 4-15-2 13 5 15 2 13 6-15-2 13 6 15 2 13 8M2963 2087l-16-3 14 1 15 3 14 2-16-3 14 2 15 3 14 4-16-3 13 5 16 3 13 5-16-2 13 6 16 3 13 7"/><path stroke-opacity=".4" d="M3038 2116l-15-2 12 9 16 1 12 10-15-2 13 10 15 2 12 11-15-1 12 12 15 1 13 13-16-2 13 14 15 1 12 14M3053 2118l-15-2 13 8 15 2 13 10-16-2 13 10 15 2 13 11-16-2 12 12 16 2 12 12-15-1 12 13 15 2 12 14M3069 2120l-16-2 13 8 16 2 12 10-15-2 12 10 16 2 12 11-15-2 12 12 15 1 12 13-15-2 12 14 15 1 12 15"/>
<path stroke-opacity=".55" d="M2623 2410l-16-6 16-27 15 6 16-26-16-6 16-24 15 6 16-24-16-5 16-22 15 5 16-20-16-6 15-20 16 6 15-18M2638 2416l-15-6 15-27 16 6 16-26-16-6 15-24 16 5 16-23-16-6 15-22 16 6 15-21-15-5 15-20 16 6 15-19M2654 2421l-16-5 16-27 16 6 15-26-15-6 15-25 16 6 15-23-15-6 15-22 16 6 15-21-16-6 16-19 16 5 15-18-16-6 15-17 16 5 15-16-16-5 15-15 16 5 15-14-16-5 15-13 16 5 15-11-16-5 14-11 16 5 15-9"/><path stroke-opacity=".5" d="M2746 2229l-15-6 15-17 15 5 15-16-15-5 15-15 15 6 15-14-15-5 15-13 15 5 15-11-16-5 15-10 16 5 14-9M3182 2212l-15-1 12 15 15 1 12 16-16-2 12 17 15 1 11 18-15-2 11 18 16 1 11 19-16-2 11 19 16 2 10 20-15-2M2762 2234l-16-5 15-18 16 6 15-16-16-6 15-14 16 5 15-14-16-5 15-13 16 5 15-11-16-5 15-10 15 4 15-9M3198 2214l-16-2 12 15 16 2 11 16-15-2 11 16 16 2 11 17-16-1 12 17 15 2 11 19-15-2 11 19 15 2 11 20-16-2M3214 2216l-16-2 12 15 15 2 12 16-16-2 12 16 15 2 11 18-15-3 11 18 15 2 11 19-15-2 11 19 15 3 11 20-15-3"/><path stroke-opacity=".35" d="M2865 2124l-15-5 14-8 16 5 14-7-16-4 15-6 15 4 15-5-16-3 14-4 16 4 14-3-16-3 14-2 16 4 13-1M2881 2128l-16-4 15-8 16 4 14-7-16-4 14-6 16 4 14-5-15-4 14-3 15 4 14-3-15-4 14-1 15 3 14 0M2897 2133l-16-5 15-8 15 5 15-8-16-4 14-6 16 4 14-5-16-4 14-3 16 3 14-2-16-4 14-2 16 4 14-1"/><path stroke-opacity=".25" d="M2978 2090l-15-3 13 1 16 3 14 2-16-3 13 2 16 3 13 4-15-3 13 5 15 2 14 6-16-3 13 7 16 2 12 7M2994 2094l-16-4 14 1 16 3 13 2-15-3 13 2 16 3 13 3-16-2 13 4 16 3 13 5-15-2 13 6 15 3 13 7"/><path stroke-opacity=".4" d="M3084 2122l-15-2 13 8 15 3 13 9-16-2 13 10 15 2 12 11-15-2 12 11 16 2 12 13-16-2 12 13 16 2 11 14M3100 2125l-16-3 13 9 16 2 12 9-15-2 12 10 16 2 12 11-16-2 13 11 15 2 12 13-15-2 12 13 15 2 12 14M3116 2127l-16-2 13 8 15 2 13 9-16-2 13 10 15 2 13 11-16-2 12 11 16 2 12 13-16-2 12 13 16 2 12 14"/><path stroke-opacity=".2" d="M3010 2097l-16-3 14 0 16 3 13 2-16-3 14 2 16 3 13 3-16-3 13 5 16 3 13 5-16-3 13 7 16 2 13 7"/>
<path d="M3051 2101l-16-3M3035 2098l-16-3M3006 2093l13 2M3006 2093l-16-3M2990 2090l-16-3M2974 2087l-15-3M2959 2084l-16-3M2943 2081l-15-2M2915 2076l13 3M2915 2076l-16-2M2899 2074l-15-3M2884 2071l-15-2M2869 2069l-15-3M2854 2066l-15-2M2826 2062l13 2M2826 2062l-15-2M2811 2060l-15-2M2796 2058l-15-2M2781 2056l-14-2M2753 2052l14 2M2753 2052l-14-2M2739 2050l-15-2M2724 2048l-14-1M2710 2047l-14-2M2682 2044l14 1M2682 2044l-14-2M2668 2042l-14-1M2654 2041l-14-2M2640 2039l-14-1M2612 2037l14 1M2612 2037l-14-1M2598 2036l-14-1M2584 2035l-14-1M2556 2033l14 1M2556 2033l-13-1M2543 2032l-14 0M2529 2032l-13-1M2516 2031l-14 0M2488 2030l14 1M2488 2030l-13 0M2475 2030l-13-1M2462 2029l-14 0M2434 2029l14 0M2434 2029l-13 0M2421 2029l-13 0M2408 2029l-13 1M2381 2030l14 0M2381 2030l-13 1M2368 2031l-13 0M2355 2031l-12 1M2328 2033l15-1M2328 2033l-12 1M2316 2034l-13 0M2303 2034l-12 2M2291 2036l-13 1M2264 2038l14-1M2264 2038l-12 2M2252 2040l-13 1M2239 2041l-12 2M2213 2045l14-2M2213 2045l-12 2" stroke-opacity="0.75" stroke-width="6.5" stroke-linecap="round"/>
<path d="M2654 2421l16-26 15-26 16-25 15-23 16-22 15-21 16-20 15-18 15-18 15-16 15-15 15-14 15-13 15-11 14-11 15-9 14-8 15-8 14-6 14-5 14-4 14-2 14-2 14-1 14 0 13 2 14 2 13 3 13 5 13 5 13 6 13 7 12 8 13 9 12 10 13 11 12 11 12 13 12 13 12 14 11 15 12 16 11 16 11 18 11 17 11 19 11 20 11 20M2654 2421l-16-5-15-6-16-6-15-6-16-6-15-6-15-6-15-6-15-6-15-6-15-5-14-6-15-6-15-6-14-5-14-6-15-6-14-5-14-5-14-6-14-5-14-5-14-5-14-5-13-5-14-5-13-4-14-4-13-5-13-4-13-4-14-4-13-3-13-4-12-3-13-3-13-3-13-3-12-2-13-2-12-3-12-1-12-2-13-2-12-1-12-1-12-1-11 0" stroke-opacity="0.8" stroke-width="4"/>
</g>
<text transform="translate(391.9 402.9) scale(1 0.86)" font-size="11.8" text-anchor="end">100</text>
<text transform="translate(389.2 437) scale(1 0.86)" font-size="11.8" text-anchor="end">95</text>
<text transform="translate(390.4 467.9) scale(1 0.86)" font-size="11.8" text-anchor="end">89</text>
<text transform="translate(393.5 502.3) scale(1 0.86)" font-size="11.8" text-anchor="end">84</text>
<text transform="translate(394.5 536.4) scale(1 0.86)" font-size="11.8" text-anchor="end">78</text>
<text transform="translate(395 580.6) scale(1 0.86)" font-size="11.8" text-anchor="middle">35</text>
<text transform="translate(421.2 598.1) scale(1 0.86)" font-size="11.8" text-anchor="middle">32.5</text>
<text transform="translate(455.4 612.7) scale(1 0.86)" font-size="11.8" text-anchor="middle">30</text>
<text transform="translate(485.5 631.1) scale(1 0.86)" font-size="11.8" text-anchor="middle">27.5</text>
<text transform="translate(515.8 646.2) scale(1 0.86)" font-size="11.8" text-anchor="middle">25</text>
<text transform="translate(539.5 646.6) scale(1 0.86)" font-size="11.8" text-anchor="middle">10</text>
<text transform="translate(569.7 631.6) scale(1 0.86)" font-size="11.8" text-anchor="middle">11</text>
<text transform="translate(600.9 614.1) scale(1 0.86)" font-size="11.8" text-anchor="middle">12</text>
<text transform="translate(631.6 600.1) scale(1 0.86)" font-size="11.8" text-anchor="middle">13</text>
<text transform="translate(660.2 584.4) scale(1 0.86)" font-size="11.8" text-anchor="middle">14</text>
<text transform="translate(448.1 503.6)" font-size="18.6" text-anchor="middle">(d)</text>
<text transform="translate(345.9 474.5) rotate(-90)" font-size="12.8" text-anchor="middle">Biodiesel yield (%)</text>
<text transform="translate(424.2 639.6) rotate(27.7) skewX(-7) scale(0.94 1)" font-size="12.4" text-anchor="middle">C: Ultrasonic time (min)</text>
<text transform="translate(626.8 641.8) rotate(-28.6) scale(0.94 1)" font-size="12.4" text-anchor="middle">B: MeOH/WCO molar ratio</text>
</g>
<g id="p_e">
<polygon points="190.1,1000.4 318.6,938.2 190.1,890.2 61.2,938.9" fill="#ffff00"/>
<path d="M209.6 969.4 212.7 968.3 216.1 966.8 219.3 965.1 220.8 964.2 223.4 962.5 225.8 960.6 226.9 959.6 228.8 957.6 229.6 956.5 230.3 955.2 231.2 953.3 231.6 951.7 231.8 950.4 231.8 949.1 231.6 947.6 231.2 946.1 230.6 944.7 230 943.5 229.2 942.4 227.8 940.7 226.5 939.4 225.4 938.4 223.1 936.7 221.2 935.4 219.2 934.2 216.4 932.7 213.4 931.3 210.2 930 206.9 928.7 203.4 927.6 199.8 926.5 197.9 926 194 925 190.4 924.2 187.9 923.7 184.5 923.1 181.4 922.6 179.1 922.2 174.9 921.7 172 921.4 169.5 921.2 166.8 921 163.2 920.7 159.7 920.6 156.4 920.5 153.2 920.5 150.2 920.5 147.2 920.6 144.4 920.7 141.6 920.8 139 921 135.2 921.3 131.4 921.8 129 922.1 125.9 922.5 122.3 923.2 119.9 923.7 116 924.6 112.2 925.6 109.6 926.5 106.8 927.4 104.3 928.5 102 929.5 99.2 931.1 97.3 932.4 95.5 933.8 94.5 934.8 93.1 936.4 92.2 938 91.6 939.4 91.3 940.8 91.2 942.2 91.3 943.4 91.5 944.6 91.9 945.7 92.8 947.6 93.6 948.9 94.3 949.9 96 951.9 97 952.8 99.1 954.6 101.4 956.4 102.6 957.2 105.3 958.9 108.1 960.5 111.1 962 114.2 963.5 117.6 965 121.1 966.3 124.8 967.7 126.7 968.3 130.8 969.5 134.3 970.5 137.2 971.2 141.2 972.1 144.1 972.7 147 973.2 151.6 973.9 154.3 974.2 157.1 974.5 161.2 974.9 165.2 975.1 169 975.3 172.6 975.3 175.9 975.2 179.2 975.1 182.2 974.9 185.2 974.6 188.9 974.2 193.3 973.6 195.8 973.1 200.3 972.2 202.7 971.5 206.9 970.3 209.6 969.4" fill="none" stroke="#ff6a00" stroke-opacity=".75" stroke-width="0.5"/>
<path d="M162.8 987.4 166.7 987.7 169.9 987.8 173.3 987.9 176.8 987.9 180.4 987.9 184.3 987.7 188.2 987.5 191.3 987.3 194.2 987 197.4 986.6 202.5 985.8 205.1 985.4 208.3 984.8 212.5 983.8 215.1 983.2 219.2 982 223.4 980.7 225.4 980.1 229.3 978.6 232.9 977.1 236.3 975.5 239.5 973.9 242.6 972.2 245.4 970.4 246.7 969.5 249.2 967.6 251.3 965.8 252.5 964.7 254.3 962.8 255.3 961.6 256.3 960.2 257.5 958.3 258.1 957.1 258.5 955.9 259.1 954.2 259.4 952.5 259.5 950.9 259.4 949.5 259.2 948.1 258.8 946.7 258.3 945.4 257.7 944.1 257.1 943 256.2 941.6 254.7 939.7 253.7 938.7 252.6 937.7 250.5 935.8 249.3 934.9 246.9 933.2 245.6 932.3 242.9 930.7 240.1 929.2 237.6 928 235.7 927.1 232.6 925.7 229.4 924.5 226.1 923.2 222.6 922.1 220.9 921.5 217.3 920.4 213.7 919.4 210.6 918.6 208 918 204.1 917.1 202.1 916.6 198 915.8 195.9 915.5 191.6 914.7 189.5 914.4 186.6 914 182.7 913.5 180.4 913.2 177.8 912.9 173.8 912.6 170.6 912.3 168.1 912.1 165.5 912 162.8 911.8 159.6 911.7 156.3 911.6 153.2 911.6 150.2 911.6 147.2 911.6 144.3 911.7 141.5 911.8 138.5 911.9 134.9 912.1 131.2 912.4" fill="none" stroke="#ffb000" stroke-opacity=".75" stroke-width="0.4"/>
<path d="M65.2 937.4 64.8 938.7 64.7 940" fill="none" stroke="#ffb000" stroke-opacity=".75" stroke-width="0.4"/>
<path d="M281.3 956.2 281.7 954.4 281.9 953.2 282 951.9 281.9 950.5 281.8 949.2 281.5 947.7 281 946.3 280.4 944.7 279.5 943.1 278.8 941.9 278 940.7 277.1 939.6 275.3 937.7 274.2 936.6 273 935.5 270.8 933.8 269.6 932.9 267.1 931.1 265.8 930.3 263.2 928.7 260.4 927.2 258.9 926.4 256 925 253 923.6 249.9 922.3 246.7 921 243.4 919.8 240 918.6 236.6 917.5 233.1 916.4 230.5 915.6 227.8 914.8 224.1 913.8 220.4 912.9 218.5 912.4 214.6 911.5 212.6 911.1 208.7 910.3 206.6 909.9 202.5 909.2 200.4 908.8 196.2 908.1 194 907.8 191.1 907.4 187.3 906.9 185 906.6 182.4 906.4 178.4 906 175.5 905.7 173.1 905.5 170.6 905.4 167.4 905.2 164 905 160.7 904.9 157.5 904.8 154.4 904.8 151.5 904.7" fill="none" stroke="#f4ec00" stroke-opacity=".75" stroke-width="0.35"/>
<path d="M186.5 998.7 190.4 998.5 194.6 998.2" fill="none" stroke="#f4ec00" stroke-opacity=".75" stroke-width="0.35"/>
<path d="M301 946.7 300.5 945.3 300 944.1 299.3 942.8 298.5 941.6 297.3 939.9 295.9 938.3 295 937.3 293.7 936.1 291.7 934.3 290.6 933.4 288.2 931.6 286.9 930.7 284.3 929 283 928.2 280.3 926.6 277.5 925.2 276 924.4 273 922.9 270 921.6 266.9 920.2 263.7 918.9 260.5 917.7 257.2 916.5 253.8 915.3 250.4 914.2 247 913.1 243.5 912 239.9 911 238.1 910.5 234.5 909.5 230.8 908.6 228.9 908.1 225.1 907.2 221.7 906.5 219.4 906 215.4 905.2 213.4 904.8 209.4 904 207.3 903.7 203.9 903.1 201 902.7 198.9 902.4 194.6 901.8 192.4 901.5 189.9 901.2 185.8 900.7 183.3 900.5 180.9 900.3 178 900 174.3 899.7 171.1 899.5 168.6 899.4 166 899.3" fill="none" stroke="#a8f000" stroke-opacity=".75" stroke-width="0.45"/>
<path d="M315.6 939.6 314.7 938.5 313.7 937.4 312 935.7" fill="none" stroke="#58e000" stroke-opacity=".75" stroke-width="0.45"/>
<path d="M214.8 899.4 211 898.8 209 898.4 204.8 897.8 202.7 897.5 199.6 897 196.3 896.6 194.1 896.3 190.9 895.9 187.3 895.6 185 895.3 182.7 895.1 179.2 894.8" fill="none" stroke="#58e000" stroke-opacity=".75" stroke-width="0.45"/>
<path d="M61.2 938.9L52.6 763.1M52.6 763.1L189.9 732.2M189.9 732.2L326.7 762.8M326.7 762.8L318.6 938.2M189.9 732.2L190.1 890.2" fill="none" stroke="#000" stroke-opacity=".75" stroke-width=".6"/>
<path d="M190.1 1000.4L188.3 999.6M225.5 983.3L223.7 982.5M258.6 967.2L256.8 966.5M289.6 952.2L287.8 951.5M318.6 938.2L316.9 937.5M190.1 1000.4L191.8 999.6M154.6 983.5L156.4 982.7M121.4 967.6L123.2 966.9M90.4 952.8L92.1 952.1M61.2 938.9L62.9 938.2" fill="none" stroke="#000" stroke-opacity=".6" stroke-width=".7"/>
<g transform="scale(.2)" fill="none" stroke="#000" stroke-opacity="0.6" stroke-width="3" stroke-linejoin="round">
<path d="M270 3966l17-14 17-13 17-12 17-11 17-10 16-9 17-8 17-7 16-7 17-5 16-5 17-4 16-4 16-2 16-2 17-1 16 0 15 0 16 1 16 2 16 2 15 3 16 3 15 5 16 4 15 6 15 5 15 7 15 6 15 8 15 7 14 9 15 8 14 9 15 10 14 10 14 10 14 10 14 11 14 12 14 11 14 12 13 12 14 13M1616 4180l-16-13-17-12-16-12-17-11-16-11-17-11-16-9-16-10-16-9-16-8-16-8-16-7-16-7-16-6-16-6-16-6-15-5-16-4-15-4-16-4-15-3-15-3-15-2-16-2-15-1-14-2-15 0-15 0-15 0-14 0-15 1-14 1-15 2-14 2-14 2-14 3-14 3-14 3-14 4-14 4-14 4-13 5-14 5-13 5" stroke-opacity="0.8" stroke-width="6"/>
<g stroke="none"><path fill="#289600" d="M963 4025l14 13-27 10-14-13z"/><path fill="#35a000" d="M936 4000l14 12 13 13 4 4-27 10-4-4-13-12-14-12z"/><path fill="#43aa00" d="M922 3988l14 12 4 4-27 11-4-4-14-11z"/><path fill="#50b400" d="M908 3977l14 11 4 4-27 11-4-3-14-12z"/><path fill="#64be00" d="M894 3965l14 12 5 3-27 12-5-4-14-11z"/><path fill="#78c800" d="M866 3944l14 11 14 10 5 4-27 12-5-4-14-10-14-10z"/><path fill="#8cd200" d="M852 3934l14 10 4 3-27 13-4-3-14-10z"/><path fill="#99de00" d="M838 3924l14 10 4 3-27 13-4-3-15-10z"/><path fill="#a7ea00" d="M808 3906l15 9 15 9 4 3-27 13-5-3-14-9-15-8z"/><path fill="#b4f600" d="M794 3898l14 8 5 3-27 13-5-2-14-9z"/><path fill="#c5f700" d="M779 3890l15 8 4 2-27 14-4-3-15-7z"/><path fill="#d7f900" d="M764 3883l15 7 4 2-27 14-4-2-15-8z"/><path fill="#e8fa00" d="M749 3876l15 7 5 2-27 14-5-3-15-6z"/><path fill="#f0f700" d="M734 3870l15 6 5 2-27 14-5-2-15-7z"/><path fill="#fff000" d="M719 3864l15 6 5 1-27 14-5-2-15-5z"/><path fill="#ffe300" d="M688 3854l16 4 15 6 4 1-27 14-4-1-15-6-16-4z"/><path fill="#ffd500" d="M673 3850l15 4 5 1-27 14-5-1-15-5z"/><path fill="#ffc800" d="M657 3846l16 4 5 1-27 14-5-2-16-3z"/><path fill="#ffbb00" d="M642 3843l15 3 5 1-27 14-5-1-15-3z"/><path fill="#ffad00" d="M610 3840l16 1 16 2 4 1-26 14-5-1-16-2-16-2z"/><path fill="#ffa000" d="M578 3838l16 1 16 1 5 0-27 14-5-1-16-1-15 0z"/><path fill="#ff9300" d="M497 3848l33-6 32-3 16-1 5 1-27 13-4 0-16 0-33 3-32 6z"/><path fill="#ff8700" d="M481 3853l16-5 5-1-26 13-5 1-17 4z"/><path fill="#ff9300" d="M415 3878l33-14 33-11 5-1-27 12-5 1-33 10-33 14z"/><path fill="#ffa000" d="M381 3896l17-9 17-9 5-2-27 11-5 2-17 8-16 9z"/><path fill="#ffad00" d="M347 3918l17-11 17-11 5-2-26 10-5 2-17 10-17 11z"/><path fill="#ffbb00" d="M331 3930l16-12 6-3-27 9-5 3-17 12z"/><path fill="#ffc800" d="M314 3944l17-14 5-3-27 9-5 3-17 13z"/><path fill="#ffd500" d="M297 3958l17-14 5-4-27 8-5 4-17 14z"/></g>
<g stroke="none"><path fill="#35a000" d="M991 4016l13 13-31 10-14-13z"/><path fill="#43aa00" d="M963 3990l14 13 14 13 4 3-32 11-4-4-13-12-14-12z"/><path fill="#50b400" d="M950 3978l13 12 4 4-31 11-4-3-14-12z"/><path fill="#64be00" d="M936 3966l14 12 4 4-32 11-4-3-14-12z"/><path fill="#78c800" d="M922 3955l14 11 4 4-31 12-5-4-14-11z"/><path fill="#8cd200" d="M894 3933l14 11 14 11 4 3-31 13-5-4-14-11-14-10z"/><path fill="#99de00" d="M879 3923l15 10 4 3-32 13-4-3-14-10z"/><path fill="#a7ea00" d="M865 3913l14 10 5 3-32 13-4-3-15-10z"/><path fill="#b4f600" d="M850 3904l15 9 4 3-31 13-5-3-14-9z"/><path fill="#c5f700" d="M836 3895l14 9 5 3-32 13-4-3-15-9z"/><path fill="#d7f900" d="M821 3886l15 9 4 2-31 14-5-3-14-8z"/><path fill="#e8fa00" d="M806 3878l15 8 5 3-32 13-4-2-15-8z"/><path fill="#f0f700" d="M792 3871l14 7 5 3-32 13-4-2-15-7z"/><path fill="#fff000" d="M777 3864l15 7 4 2-31 14-5-2-15-7z"/><path fill="#ffe300" d="M762 3858l15 6 4 2-31 14-5-2-15-6z"/><path fill="#ffd500" d="M746 3852l16 6 4 2-31 13-5-1-15-6z"/><path fill="#ffc800" d="M731 3847l15 5 5 2-32 13-4-1-15-6z"/><path fill="#ffbb00" d="M700 3838l16 4 15 5 5 1-32 14-4-2-16-4-15-4z"/><path fill="#ffad00" d="M685 3834l15 4 5 1-32 14-4-1-16-4z"/><path fill="#ffa000" d="M669 3832l16 2 4 1-31 14-5-1-15-3z"/><path fill="#ff9300" d="M638 3828l15 1 16 3 5 0-32 14-4-1-16-2-16-1z"/><path fill="#ff8700" d="M606 3827l16 0 16 1 4 0-31 14-5 0-16-1-16-1z"/><path fill="#ff7a00" d="M557 3831l33-3 16-1 4 0-31 13-5 0-16 1-32 3z"/><path fill="#ff6c00" d="M492 3848l33-10 32-7 5 0-31 12-5 1-33 6-33 10z"/><path fill="#ff7a00" d="M442 3870l33-16 17-6 5-1-32 11-5 2-16 6-33 14z"/><path fill="#ff8700" d="M408 3888l17-9 17-9 5-3-31 11-5 2-17 8-17 10z"/><path fill="#ff9300" d="M391 3899l17-11 5-3-31 10-5 3-17 10z"/><path fill="#ffa000" d="M357 3924l17-13 17-12 5-3-31 9-5 3-17 11-16 13z"/><path fill="#ffad00" d="M340 3937l17-13 5-4-30 8-5 4-17 13z"/><path fill="#ffbb00" d="M323 3952l17-15 5-4-30 8-5 4-17 14z"/></g>
<path stroke-opacity=".3" d="M283 3961l-13 5 17-14 13-4 17-13-13 4 17-12 13-5 17-11-13 5 17-10 13-5 17-9-14 5 17-8 13-5 17-8-13 6 16-7 14-6 16-5-13 6 16-5 14-6 16-5-13 7 16-4 13-6 17-3-14 7 16-2 14-7 16-1M297 3958l-14 3 17-13 14-4 17-14-14 5 17-13 13-4 17-11-13 4 17-10 13-5 17-9-13 5 16-8 14-6 16-7"/><path stroke-opacity=".45" d="M549 3845l-13 7 16 0 13-7 16 0-14 7 16 1 14-7 16 2-14 7 16 2 13-7 16 3-14 7 16 3 13-7 16 4"/><path stroke-opacity=".5" d="M675 3860l-14 8 16 4 13-7 15 5-13 8 15 5 14-7 15 7-14 7 15 6 14-7 14 8-13 7 15 7 13-7 15 9M688 3854l-13 6 15 5 14-7 15 6-14 6 16 6 13-6 15 6-13 7 15 6 13-6 15 7-14 7 15 7 14-6 14 8"/><path stroke-opacity=".55" d="M795 3913l-14 7 15 8 13-7 15 10-14 6 15 10 13-7 15 10-14 7 14 10 14-6 14 10-14 6 14 11 14-6 14 12-14 6 14 11 14-5 13 12-13 5 13 12 14-5 13 13-13 5M808 3906l-13 7 14 8 14-6 15 9-14 7 14 9 14-6 14 10-13 6 14 11 13-6 14 10-13 6 14 11 13-5 14 11-13 6 14 12 13-6 14 12-14 6 14 12 13-5 14 13-14 5"/><path stroke-opacity=".25" d="M431 3871l-13 5 17-7 13-5 17-6-14 6 17-5 13-6 16-5-13 6 16-3 14-6 16-3-13 6 16-2 13-6 16-1"/><path stroke-opacity=".4" d="M562 3839l-13 6 16 0 13-7 16 1-13 6 16 1 13-6 16 1-13 7 15 2 14-7 15 3-13 7 15 3 14-6 15 4"/>
<g stroke="none"><path fill="#43aa00" d="M1005 3995l13 13 14 13-32 9-14-13-13-13z"/><path fill="#50b400" d="M991 3982l14 13 4 3-32 10-4-4-14-12z"/><path fill="#64be00" d="M977 3969l14 13 4 4-32 9-4-3-13-12z"/><path fill="#78c800" d="M964 3957l13 12 4 4-31 10-4-3-14-12z"/><path fill="#8cd200" d="M936 3935l14 11 14 11 4 4-32 10-4-3-14-12-14-11z"/><path fill="#99de00" d="M921 3924l15 11 4 3-32 11-4-4-15-10z"/><path fill="#a7ea00" d="M907 3913l14 11 5 3-32 11-5-3-14-10z"/><path fill="#b4f600" d="M893 3903l14 10 4 4-32 11-4-3-14-10z"/><path fill="#c5f700" d="M878 3894l15 9 4 3-32 12-4-3-15-10z"/><path fill="#d7f900" d="M864 3885l14 9 5 3-32 11-5-3-14-9z"/><path fill="#f0f700" d="M849 3876l15 9 4 3-32 11-4-3-15-8z"/><path fill="#f7f300" d="M834 3868l15 8 4 3-32 12-4-3-15-8z"/><path fill="#fff000" d="M819 3861l15 7 5 3-32 11-5-2-15-7z"/><path fill="#ffd500" d="M804 3854l15 7 5 2-32 12-5-2-15-7z"/><path fill="#ffc800" d="M789 3848l15 6 5 2-32 12-5-2-15-7z"/><path fill="#ffbb00" d="M774 3842l15 6 5 1-32 12-5-2-15-6z"/><path fill="#ffad00" d="M759 3836l15 6 5 1-32 12-5-2-15-5z"/><path fill="#ffa000" d="M743 3832l16 4 4 2-31 12-5-2-15-4z"/><path fill="#ff9300" d="M712 3824l16 4 15 4 5 1-32 12-4-1-16-4-15-4z"/><path fill="#ff8700" d="M697 3822l15 2 5 1-32 12-4-1-16-3z"/><path fill="#ff7a00" d="M665 3818l16 2 16 2 5 1-32 11-5-1-16-2-16-1z"/><path fill="#ff6c00" d="M649 3818l16 0 5 1-32 11-5 0-15-1z"/><path fill="#ff5e00" d="M601 3820l32-2 16 0 5 0-32 11-4 0-16 0-33 2z"/><path fill="#ff5000" d="M519 3840l33-10 33-7 16-3 5 0-32 10-5 1-16 2-33 7-32 10z"/><path fill="#ff5e00" d="M469 3863l34-16 16-7 5-1-32 9-4 2-17 6-33 15z"/><path fill="#ff6c00" d="M452 3872l17-9 5-3-31 8-5 3-17 9z"/><path fill="#ff7a00" d="M419 3893l16-11 17-10 5-3-31 8-5 3-17 10-17 10z"/><path fill="#ff8700" d="M402 3905l17-12 5-3-32 7-5 3-17 12z"/><path fill="#ff9300" d="M385 3919l17-14 5-3-32 6-5 4-17 13z"/><path fill="#ffa000" d="M368 3933l17-14 5-4-32 6-5 4-17 13z"/><path fill="#ffad00" d="M350 3948l18-15 5-5-32 6-5 4-17 15z"/></g>
<path stroke-opacity=".35" d="M310 3955l-13 3 17-14 13-4 17-13-13 3 16-12 14-4 17-11-14 4 17-11 14-4 16-9-13 4 17-9 13-4 17-8M323 3952l-13 3 17-15 13-3 17-13-13 3 17-13 13-3 17-12-13 4 17-11 13-4 17-9-14 4 17-9 14-4 16-8"/><path stroke-opacity=".25" d="M445 3866l-14 5 17-7 13-5 17-6-13 5 16-5 13-5 17-5-14 5 17-3 13-6 17-2-14 5 16-2 14-5 16-2M458 3862l-13 4 16-7 14-5 17-6-14 5 16-5 14-5 17-5-14 5 16-4 14-5 16-3-13 6 16-2 13-6 17-1"/><path stroke-opacity=".4" d="M576 3833l-14 6 16-1 14-5 16 0-14 6 16 1 14-6 16 1-14 6 16 2 13-6 16 3-14 6 16 4 14-6 15 4M590 3828l-14 5 16 0 14-6 16 0-14 6 16 1 14-6 15 1-13 6 15 2 14-5 16 2-14 6 16 4 13-6 16 4"/><path stroke-opacity=".5" d="M702 3848l-14 6 16 4 13-6 16 6-14 6 15 6 14-7 15 7-14 6 15 7 14-6 15 7-14 6 15 8 13-6 15 8-14 6 15 9 14-6 14 10-13 5 14 10 14-6 14 10-14 6 14 11 14-6 14 11-14 5 14 12 14-6 14 12M716 3842l-14 6 15 4 14-5 15 5-13 6 15 5 14-5 15 6-14 6 15 7 14-6 14 7-13 6 14 8 14-6 15 9-14 5 15 9 13-5 15 9-14 6 15 9 13-5 15 10-14 5 14 11 14-5 14 11-14 5 14 11 14-5 14 12"/><path stroke-opacity=".55" d="M936 3983l-14 5 14 12 14-5 13 12-13 5 13 13 14-5 13 13-13 5M950 3978l-14 5 14 12 13-5 14 13-14 4 14 13 14-4 13 13-14 4"/>
<g stroke="none"><path fill="#43aa00" d="M1046 4001l14 14-32 7-14-13z"/><path fill="#50b400" d="M1033 3988l13 13 4 4-32 8-4-4-13-13z"/><path fill="#64be00" d="M1019 3975l14 13 4 4-32 8-4-4-14-13z"/><path fill="#78c800" d="M1005 3962l14 13 4 4-32 8-4-4-14-12z"/><path fill="#8cd200" d="M992 3950l13 12 5 4-33 8-4-3-14-12z"/><path fill="#99de00" d="M964 3927l14 11 14 12 4 4-32 8-5-3-14-12-14-11z"/><path fill="#a7ea00" d="M950 3916l14 11 4 3-32 9-5-3-14-11z"/><path fill="#b4f600" d="M935 3906l15 10 4 3-33 9-4-3-14-10z"/><path fill="#c5f700" d="M921 3896l14 10 5 3-33 9-4-3-14-10z"/><path fill="#e8fa00" d="M906 3886l15 10 4 3-32 9-4-3-15-10z"/><path fill="#f0f700" d="M892 3877l14 9 5 3-33 9-4-3-14-9z"/><path fill="#fff000" d="M877 3868l15 9 4 3-32 9-4-3-15-8z"/><path fill="#ffe300" d="M862 3860l15 8 5 3-33 9-4-2-15-8z"/><path fill="#ffd500" d="M848 3853l14 7 5 3-33 9-4-2-15-8z"/><path fill="#ffc800" d="M833 3846l15 7 4 2-32 10-5-3-15-7z"/><path fill="#ffbb00" d="M818 3839l15 7 4 2-32 9-5-2-15-6z"/><path fill="#ffad00" d="M802 3834l16 5 4 2-32 10-5-2-15-6z"/><path fill="#ffa000" d="M787 3828l15 6 5 1-32 10-5-2-15-5z"/><path fill="#ff9300" d="M772 3824l15 4 5 2-33 9-4-1-16-5z"/><path fill="#ff8700" d="M756 3820l16 4 4 1-32 10-5-2-15-4z"/><path fill="#ff7a00" d="M741 3817l15 3 5 1-33 9-4-1-16-3z"/><path fill="#ff6c00" d="M725 3814l16 3 4 1-32 9-5-1-15-3z"/><path fill="#ff5e00" d="M709 3812l16 2 5 1-33 9-4-1-16-2z"/><path fill="#ff5000" d="M677 3810l16 1 16 1 5 1-32 9-5-1-16-1-16-1z"/><path fill="#fe4400" d="M645 3812l16-1 16-1 5 1-32 8-5 0-16 0-16 1z"/><path fill="#fd3800" d="M547 3835l33-11 33-8 32-4 5-1-32 9-5 0-32 4-33 7-33 11z"/><path fill="#fe4400" d="M514 3849l16-7 17-7 5-2-32 7-5 2-17 6-16 7z"/><path fill="#ff5000" d="M480 3868l17-10 17-9 5-2-32 6-5 2-17 9-17 9z"/><path fill="#ff5e00" d="M463 3878l17-10 5-3-32 5-5 3-17 10z"/><path fill="#ff6c00" d="M446 3890l17-12 5-3-32 5-5 3-17 11z"/><path fill="#ff7a00" d="M429 3902l17-12 5-4-31 5-6 3-16 12z"/><path fill="#ff8700" d="M412 3916l17-14 5-4-31 5-5 3-17 13z"/><path fill="#ff9300" d="M395 3930l17-14 5-5-31 4-5 4-18 14z"/><path fill="#ffa000" d="M378 3945l17-15 5-4-31 3-6 4-17 15z"/></g>
<path stroke-opacity=".4" d="M337 3950l-14 2 17-15 14-2 17-14-14 3 17-13 14-3 17-12-14 3 17-11 14-3 17-10-14 4 17-9 13-4 17-8M603 3823l-13 5 16-1 13-5 16 0-13 5 16 1 13-5 16 1-14 5 16 3 14-6 16 3-14 5 15 4 14-5 16 4M350 3948l-13 2 17-15 14-2 17-14-14 2 17-13 14-3 17-12-14 3 17-11 13-3 17-10-13 3 16-9 14-3 17-9"/><path stroke-opacity=".2" d="M472 3858l-14 4 17-8 14-3 16-7-13 4 16-5 14-4 16-5-13 4 16-4 14-4 16-3-14 4 16-2 14-4 16-2M486 3854l-14 4 17-7 14-4 16-7-14 4 17-5 14-4 16-5-14 4 17-4 14-4 16-3-14 4 16-2 14-5 16-1"/><path stroke-opacity=".45" d="M730 3837l-14 5 15 5 14-6 15 6-14 5 16 6 13-6 15 7-13 5 15 7 13-5 15 7-14 5 15 8 14-5 15 9M743 3832l-13 5 15 4 14-5 15 6-14 5 15 5 14-4 15 6-14 5 15 7 14-5 15 7-14 5 15 8 14-5 15 9"/><path stroke-opacity=".5" d="M850 3890l-14 5 14 9 14-5 15 9-14 5 14 10 14-5 14 10-13 5 14 11 14-5 14 11-14 5 14 11 14-4 13 12M864 3885l-14 5 14 9 14-5 15 9-14 5 14 10 14-5 14 11-14 4 15 11 14-4 14 11-14 4 14 12 14-5 13 12"/><path stroke-opacity=".55" d="M963 3974l-13 4 13 12 14-4 14 12-14 5 14 13 13-5 14 14-14 4M977 3969l-14 5 14 12 14-4 14 13-14 3 13 13 14-3 14 13-14 4"/><path stroke-opacity=".35" d="M617 3819l-14 4 16-1 14-4 16 0-14 4 16 1 14-5 16 2-14 4 16 2 14-4 15 2-13 5 15 4 14-5 15 4"/>
<g stroke="none"><path fill="#50b400" d="M1075 3996l13 14-33 6-13-14z"/><path fill="#64be00" d="M1061 3983l14 13 4 4-33 6-4-4-13-13z"/><path fill="#78c800" d="M1048 3969l13 14 4 4-32 6-4-4-14-13z"/><path fill="#8cd200" d="M1020 3944l14 13 14 12 4 4-33 7-4-4-14-13-14-12z"/><path fill="#99de00" d="M1006 3933l14 11 4 4-32 7-5-4-14-12z"/><path fill="#a7ea00" d="M992 3921l14 12 4 3-32 7-5-4-14-11z"/><path fill="#b4f600" d="M978 3910l14 11 4 4-32 7-5-4-14-11z"/><path fill="#c5f700" d="M964 3900l14 10 4 3-32 7-5-3-14-10z"/><path fill="#e8fa00" d="M949 3889l15 11 4 3-33 7-4-3-14-10z"/><path fill="#f0f700" d="M935 3880l14 9 5 3-33 8-4-3-15-10z"/><path fill="#fff000" d="M920 3871l15 9 4 3-32 7-5-3-14-9z"/><path fill="#ffe300" d="M906 3862l14 9 5 2-33 8-4-3-15-9z"/><path fill="#ffd500" d="M891 3854l15 8 4 3-33 7-4-3-15-8z"/><path fill="#ffbb00" d="M876 3847l15 7 4 2-32 8-5-3-15-7z"/><path fill="#ffad00" d="M861 3840l15 7 5 2-33 7-5-2-15-7z"/><path fill="#ffa000" d="M846 3833l15 7 5 2-33 7-5-2-15-6z"/><path fill="#ff9300" d="M831 3827l15 6 5 2-33 7-5-1-15-6z"/><path fill="#ff8700" d="M816 3822l15 5 4 2-32 7-5-1-15-5z"/><path fill="#ff7a00" d="M800 3818l16 4 4 2-33 7-4-1-16-5z"/><path fill="#ff6c00" d="M785 3814l15 4 5 1-33 7-5-1-15-4z"/><path fill="#ff5e00" d="M769 3811l16 3 4 1-32 7-5-1-16-3z"/><path fill="#ff5000" d="M754 3808l15 3 5 1-33 7-5-1-15-3z"/><path fill="#fe4400" d="M722 3805l16 2 16 1 4 1-33 7-4-1-16-2-16-1z"/><path fill="#fd3800" d="M706 3805l16 0 5 1-33 6-5 0-16-1z"/><path fill="#fc2c00" d="M674 3807l16-1 16-1 5 0-33 7-5-1-16 1-16 1z"/><path fill="#fa2500" d="M576 3831l33-11 32-8 33-5 5-1-33 6-5 1-32 4-33 8-33 11z"/><path fill="#fc2c00" d="M542 3846l17-8 17-7 5-2-33 5-5 2-17 6-16 8z"/><path fill="#fd3800" d="M525 3855l17-9 5-2-32 4-5 2-17 9z"/><path fill="#fe4400" d="M492 3876l17-11 16-10 5-2-32 3-5 3-17 9-17 11z"/><path fill="#ff5000" d="M475 3888l17-12 5-3-33 2-5 4-17 11z"/><path fill="#ff5e00" d="M458 3901l17-13 5-4-33 3-5 3-17 12z"/><path fill="#ff6c00" d="M441 3914l17-13 5-4-33 2-5 3-17 14z"/><path fill="#ff8700" d="M423 3929l18-15 5-4-33 2-5 4-17 14z"/><path fill="#ff9300" d="M406 3945l17-16 6-4-33 1-5 4-17 16z"/></g>
<path stroke-opacity=".4" d="M364 3946l-14 2 18-15 13-2 17-14-13 2 17-14 13-1 17-13-13 2 16-11 14-2 17-10-14 2 17-9 14-3 17-8"/><path stroke-opacity=".2" d="M500 3852l-14 2 17-7 13-3 17-7-14 3 17-5 14-3 16-5-14 3 17-4 14-4 16-3-14 4 16-3 14-3 16-2"/><path stroke-opacity=".35" d="M631 3815l-14 4 16-1 14-4 16 0-14 4 16 0 14-4 16 2-14 4 16 2 14-4 16 2-15 4 16 4 14-4 16 4M645 3812l-14 3 16-1 14-3 16-1-14 4 16 0 14-3 16 1-14 4 16 2 14-4 16 3-14 3 15 4 14-4 16 4"/><path stroke-opacity=".45" d="M758 3828l-15 4 16 4 14-4 15 5-14 5 15 6 14-5 15 7-14 4 15 7 14-4 15 7-14 4 15 8 14-4 15 9M378 3945l-14 1 17-15 14-1 17-14-14 1 17-13 14-2 17-12-14 1 17-11 14-2 17-10-14 2 17-10 14-2 17-9M772 3824l-14 4 15 4 14-4 15 6-14 3 15 6 15-4 15 7-15 4 15 7 15-4 14 7-14 4 15 8 14-4 15 9"/><path stroke-opacity=".5" d="M878 3881l-14 4 14 9 14-4 15 9-14 4 14 10 14-4 14 11-14 4 15 11 14-4 14 11-14 4 14 11 14-3 13 12M892 3877l-14 4 14 9 14-4 15 10-14 3 14 10 14-3 15 10-15 4 15 11 14-4 14 11-14 4 14 12 14-4 13 12"/><path stroke-opacity=".55" d="M991 3966l-14 3 14 13 14-4 14 13-14 4 13 13 14-4 14 14-14 3M1005 3962l-14 4 14 12 14-3 14 13-14 3 13 13 14-3 14 14-14 3"/><path stroke-opacity=".25" d="M514 3849l-14 3 16-8 14-2 17-7-14 2 17-5 14-3 16-5-14 3 17-5 14-2 16-4-14 3 16-2 14-3 16-2"/>
<g stroke="none"><path fill="#64be00" d="M1103 3992l14 14-33 4-14-13z"/><path fill="#78c800" d="M1076 3966l14 13 13 13 4 4-33 5-4-4-13-14-14-13z"/><path fill="#8cd200" d="M1063 3953l13 13 4 4-33 4-4-4-13-12z"/><path fill="#99de00" d="M1049 3940l14 13 4 4-33 4-4-3-14-13z"/><path fill="#a7ea00" d="M1035 3928l14 12 4 4-33 5-4-4-14-12z"/><path fill="#b4f600" d="M1021 3917l14 11 4 4-33 5-4-4-14-11z"/><path fill="#c5f700" d="M1007 3906l14 11 4 3-33 5-4-3-14-11z"/><path fill="#e8fa00" d="M993 3895l14 11 4 3-33 5-4-3-15-11z"/><path fill="#f0f700" d="M978 3885l15 10 4 3-33 6-5-4-14-10z"/><path fill="#fff000" d="M964 3876l14 9 5 3-34 5-4-3-14-9z"/><path fill="#ffe300" d="M949 3866l15 10 4 2-33 6-4-3-15-9z"/><path fill="#ffd500" d="M935 3858l14 8 5 3-33 5-5-2-15-9z"/><path fill="#ffbb00" d="M920 3850l15 8 4 2-33 6-5-3-14-8z"/><path fill="#ffad00" d="M905 3842l15 8 4 2-33 5-4-2-15-8z"/><path fill="#ffa000" d="M890 3835l15 7 5 3-34 5-4-3-15-7z"/><path fill="#ff9300" d="M875 3829l15 6 5 2-34 6-4-3-15-6z"/><path fill="#ff8700" d="M860 3823l15 6 5 2-34 5-4-2-15-6z"/><path fill="#ff6c00" d="M845 3818l15 5 4 2-33 5-4-2-16-5z"/><path fill="#ff5e00" d="M829 3814l16 4 4 2-33 5-5-2-15-4z"/><path fill="#ff5000" d="M814 3810l15 4 5 1-33 5-5-1-15-4z"/><path fill="#fe4400" d="M798 3807l16 3 4 1-33 5-4-1-16-3z"/><path fill="#fd3800" d="M767 3803l16 2 15 2 5 1-33 5-5-1-16-3-15-2z"/><path fill="#fc2c00" d="M751 3802l16 1 5 1-34 4-4-1-16-1z"/><path fill="#fa2500" d="M735 3802l16 0 5 1-34 4-4-1-16 0z"/><path fill="#f81d00" d="M719 3803l16-1 5 0-33 4-5 0-16 0z"/><path fill="#f61600" d="M687 3806l16-2 16-1 5-1-33 4-5 0-16 1-17 2z"/><path fill="#f21100" d="M621 3823l33-10 33-7 5 0-34 3-5 0-32 7-33 10z"/><path fill="#f61600" d="M588 3837l16-7 17-7 5-1-33 2-5 2-17 6-16 7z"/><path fill="#f81d00" d="M571 3845l17-8 5-2-33 2-5 2-17 8z"/><path fill="#fa2500" d="M554 3855l17-10 5-2-33 1-5 3-17 9z"/><path fill="#fc2c00" d="M537 3865l17-10 5-3-33 1-5 3-17 9z"/><path fill="#fd3800" d="M520 3876l17-11 5-3-33 0-5 3-17 11z"/><path fill="#fe4400" d="M503 3888l17-12 5-3-33 0-5 3-17 12z"/><path fill="#ff5000" d="M486 3901l17-13 5-4-33 0-5 4-17 13z"/><path fill="#ff5e00" d="M469 3915l17-14 5-4-33 0-5 4-17 13z"/><path fill="#ff7a00" d="M452 3930l17-15 5-4-33-1-5 4-17 15z"/><path fill="#ff8700" d="M435 3947l17-17 5-4-33-1-5 4-17 16z"/></g>
<path stroke-opacity=".45" d="M392 3945l-14 0 17-15 14-1 17-14-14 1 17-14 14-1 17-13-14 2 17-12 14-1 17-11-14 2 17-10 14-2 17-8M786 3821l-14 3 15 4 14-3 16 5-15 4 16 5 14-3 15 6-14 4 15 7 14-4 15 8-15 3 15 8 14-3 15 9M406 3945l-14 0 17-16 14 0 18-15-15 1 17-14 15 0 17-13-15 0 17-11 15-1 17-11-15 1 17-10 14-1 17-9M800 3818l-14 3 15 4 15-3 15 5-14 3 15 6 14-3 15 7-14 2 15 7 14-2 15 7-14 3 14 8 15-3 14 9"/><path stroke-opacity=".25" d="M528 3848l-14 1 16-7 15-2 16-7-14 2 17-6 14-2 16-6-14 3 17-4 14-3 16-3-14 2 16-2 14-3 17-2M542 3846l-14 2 17-8 14-2 17-7-15 2 17-6 14-2 17-5-15 1 17-4 14-2 16-3-14 2 16-3 15-2 16-2"/><path stroke-opacity=".3" d="M660 3809l-15 3 16-1 15-3 16 0-15 2 16 1 15-3 15 1-14 3 16 2 14-3 16 2-14 4 15 3 14-3 16 4M674 3807l-14 2 16-1 14-2 16-1-14 3 16 0 14-3 16 2-15 2 16 2 15-3 15 3-14 2 15 4 15-3 15 4"/><path stroke-opacity=".5" d="M906 3874l-14 3 14 9 15-3 14 9-14 4 14 10 14-4 15 11-14 3 14 11 14-3 14 11-14 3 14 12 14-3 14 12M920 3871l-14 3 15 9 14-3 14 9-14 3 14 10 15-2 14 10-14 3 14 11 14-3 14 12-14 2 14 12 14-3 14 13-14 2 13 13 15-3 13 14-14 2 13 13 15-2 13 14-14 2"/><path stroke-opacity=".55" d="M1020 3959l-15 3 14 13 14-3 14 13-14 3 13 13 14-3 14 14-14 3"/>
<g stroke="none"><path fill="#64be00" d="M1132 3990l14 14-34 3-13-14z"/><path fill="#78c800" d="M1119 3976l13 14 4 4-33 3-4-4-13-14z"/><path fill="#8cd200" d="M1105 3963l14 13 4 5-33 2-4-4-14-13z"/><path fill="#99de00" d="M1092 3950l13 13 4 4-33 3-4-4-14-13z"/><path fill="#a7ea00" d="M1078 3938l14 12 4 4-34 3-4-4-13-12z"/><path fill="#b4f600" d="M1064 3926l14 12 4 4-33 3-4-4-14-12z"/><path fill="#c5f700" d="M1050 3915l14 11 4 4-33 3-4-4-14-12z"/><path fill="#d7f900" d="M1036 3903l14 12 4 3-33 3-4-4-14-11z"/><path fill="#f0f700" d="M1022 3893l14 10 4 4-33 3-4-4-15-10z"/><path fill="#fff000" d="M1008 3883l14 10 4 3-33 3-5-3-14-10z"/><path fill="#ffe300" d="M993 3873l15 10 4 3-34 3-4-3-14-10z"/><path fill="#ffd500" d="M979 3864l14 9 5 3-34 3-4-3-15-9z"/><path fill="#ffbb00" d="M964 3856l15 8 4 3-34 3-4-3-15-9z"/><path fill="#ffad00" d="M949 3848l15 8 4 2-33 3-5-3-14-8z"/><path fill="#ffa000" d="M934 3840l15 8 5 2-34 3-4-3-15-7z"/><path fill="#ff9300" d="M920 3833l14 7 5 2-34 3-4-2-15-7z"/><path fill="#ff7a00" d="M904 3827l16 6 4 2-34 3-4-2-15-6z"/><path fill="#ff6c00" d="M889 3821l15 6 5 2-34 3-4-2-15-6z"/><path fill="#ff5e00" d="M874 3817l15 4 5 2-34 3-4-2-16-5z"/><path fill="#ff5000" d="M859 3812l15 5 5 1-34 2-5-1-15-5z"/><path fill="#fe4400" d="M843 3809l16 3 4 2-33 2-5-2-16-3z"/><path fill="#fd3800" d="M828 3806l15 3 5 1-34 2-5-1-15-3z"/><path fill="#fc2c00" d="M812 3803l16 3 4 1-33 2-5-1-16-3z"/><path fill="#fa2500" d="M796 3802l16 1 5 1-34 2-5-1-16-1z"/><path fill="#f61600" d="M780 3801l16 1 5 0-34 2-5 0-15-1z"/><path fill="#f21100" d="M748 3802l16-1 16 0 5 0-34 2-4 0-16-1-16 1z"/><path fill="#ee0d00" d="M716 3806l16-2 16-2 5 0-34 1-4 0-16 1-17 3z"/><path fill="#ea0800" d="M667 3818l33-9 16-3 5-1-34 1-5 1-16 3-33 8z"/><path fill="#ee0d00" d="M634 3831l16-7 17-6 5-1-34 0-5 1-16 6-17 6z"/><path fill="#f21100" d="M600 3847l17-9 17-7 5-2-34-1-5 2-17 7-16 9z"/><path fill="#f61600" d="M583 3856l17-9 5-3-33-1-5 3-17 9z"/><path fill="#fa2500" d="M566 3867l17-11 5-3-33-1-5 3-17 10z"/><path fill="#fc2c00" d="M550 3878l16-11 6-3-34-2-5 3-17 11z"/><path fill="#fd3800" d="M532 3890l18-12 5-3-34-2-5 3-17 12z"/><path fill="#fe4400" d="M515 3904l17-14 6-3-34-3-5 4-17 13z"/><path fill="#ff5000" d="M498 3918l17-14 6-4-34-3-5 4-17 14z"/><path fill="#ff6c00" d="M481 3934l17-16 5-4-33-3-5 4-17 15z"/><path fill="#ff7a00" d="M464 3950l17-16 5-5-33-3-5 4-17 16z"/></g>
<path stroke-opacity=".45" d="M420 3946l-14-1 17-16 15 1 17-15-14-1 17-13 14 0 17-13-14 0 17-12 14 0 17-11-14 0 16-10 15 0 17-9"/><path stroke-opacity=".3" d="M557 3846l-15 0 17-8 14-1 17-7-14 1 16-6 15-1 16-6-14 2 16-5 14-1 17-4-15 2 17-3 14-2 16-2-14 2 16-1 14-2 16-1-14 2 16 0 14-1 16 1-14 2 16 1 14-2 16 3-15 2 16 3 14-2 16 4M571 3845l-14 1 16-9 15 0 16-7-14 0 17-6 14-1 17-5-15 0 16-4 15-1 16-4-14 1 16-3 15-1 16-2"/><path stroke-opacity=".4" d="M815 3816l-15 2 16 4 14-2 15 5-14 2 15 6 15-2 15 6-15 3 15 7 15-3 14 8-14 2 15 8 14-2 15 8M829 3814l-14 2 15 4 15-2 15 5-15 2 16 6 14-2 15 6-14 2 15 7 14-2 15 8-15 2 15 8 15-2 14 8"/><path stroke-opacity=".5" d="M935 3868l-15 3 15 9 14-3 15 10-15 2 15 11 14-3 14 11-14 2 14 11 15-2 14 11-15 3 14 11 14-2 14 13-14 2 14 12 14-2 13 13-14 3 14 13 14-2 13 14-14 2M435 3947l-15-1 18-16 14 0 17-15-14 0 17-14 14 0 17-13-14 0 17-12 14 0 17-11-14 0 17-10 14 0 17-10M949 3866l-14 2 14 9 15-1 14 9-14 2 14 10 15-2 14 11-15 2 15 11 14-2 14 11-14 2 13 12 15-2 14 13-15 2 14 12 14-1 14 13-15 1 14 14 14-2 14 14-15 2"/><path stroke-opacity=".25" d="M703 3804l-15 1 16-1 15-1 16-1-15 1 16 1 15-2 16 1-15 2 16 1 15-1 15 2-14 2 15 3 15-2 15 4"/>
<g stroke="none"><path fill="#78c800" d="M1162 3990l13 14-34 0-13-14z"/><path fill="#8cd200" d="M1135 3963l13 13 14 14 4 4-34 1-4-5-13-13-14-13z"/><path fill="#99de00" d="M1121 3950l14 13 4 4-34 1-4-4-14-13z"/><path fill="#a7ea00" d="M1107 3937l14 13 4 4-34 1-4-4-13-13z"/><path fill="#b4f600" d="M1094 3925l13 12 5 4-34 1-4-4-14-12z"/><path fill="#d7f900" d="M1080 3914l14 11 4 4-34 1-4-4-14-11z"/><path fill="#e8fa00" d="M1066 3903l14 11 4 3-34 1-4-3-14-11z"/><path fill="#f7f300" d="M1051 3892l15 11 4 3-34 1-4-3-14-11z"/><path fill="#ffe300" d="M1037 3882l14 10 5 4-34 0-4-3-15-10z"/><path fill="#ffd500" d="M1023 3873l14 9 5 3-35 1-4-3-14-10z"/><path fill="#ffc800" d="M1008 3864l15 9 4 3-34 0-4-3-15-9z"/><path fill="#ffad00" d="M994 3855l14 9 5 2-34 1-5-3-14-8z"/><path fill="#ffa000" d="M979 3847l15 8 4 3-34 0-4-2-15-8z"/><path fill="#ff9300" d="M964 3840l15 7 4 3-34 0-4-2-15-8z"/><path fill="#ff8700" d="M949 3833l15 7 5 2-34 1-5-3-15-6z"/><path fill="#ff6c00" d="M934 3827l15 6 5 2-34 1-5-2-15-7z"/><path fill="#ff5e00" d="M919 3822l15 5 5 2-34 0-5-2-15-5z"/><path fill="#ff5000" d="M904 3817l15 5 5 1-35 0-4-1-15-5z"/><path fill="#fe4400" d="M888 3813l16 4 4 1-34 0-4-1-16-5z"/><path fill="#fd3800" d="M873 3809l15 4 5 1-34 0-5-2-15-3z"/><path fill="#fc2c00" d="M857 3806l16 3 5 1-35 0-4-1-16-3z"/><path fill="#f81d00" d="M842 3804l15 2 5 1-34 0-5-1-15-2z"/><path fill="#f61600" d="M826 3803l16 1 4 1-34-1-4 0-16-2z"/><path fill="#f21100" d="M810 3802l16 1 5 0-34 0-5-1-16-1z"/><path fill="#ee0d00" d="M794 3803l16-1 5 1-34-1-5-1-16 0z"/><path fill="#ea0800" d="M762 3805l16-1 16-1 5 0-34-2-5 0-16 1-16 2z"/><path fill="#e60500" d="M680 3827l33-11 33-8 16-3 5 0-34-2-5 1-16 2-33 7-33 11z"/><path fill="#ea0800" d="M647 3841l16-7 17-7 5-2-34-3-5 2-17 6-16 8z"/><path fill="#ee0d00" d="M630 3850l17-9 5-2-34-3-5 2-17 8z"/><path fill="#f21100" d="M613 3860l17-10 5-2-34-4-5 2-17 10z"/><path fill="#f61600" d="M596 3871l17-11 5-3-34-4-5 3-17 10z"/><path fill="#fa2500" d="M579 3882l17-11 5-4-34-4-5 3-17 12z"/><path fill="#fd3800" d="M562 3895l17-13 5-3-34-5-5 4-17 12z"/><path fill="#fe4400" d="M545 3909l17-14 5-4-34-5-5 4-17 13z"/><path fill="#ff5000" d="M528 3923l17-14 5-4-34-6-5 4-17 15z"/><path fill="#ff5e00" d="M511 3939l17-16 5-4-34-6-5 5-17 15z"/><path fill="#ff7a00" d="M493 3956l18-17 5-5-34-5-5 4-18 17z"/></g>
<path stroke-opacity=".5" d="M449 3948l-14-1 17-17 14 2 18-15-15-2 17-14 15 1 17-13-15-1 17-12 15 1 17-12-15 0 17-10 15 0 17-9M964 3865l-15 1 15 10 15-2 14 10-15 1 15 10 14-1 14 10-14 2 14 11 15-1 14 11-15 1 14 12 14-1 14 12-14 2 13 13 15-2 13 13-14 2 13 13 15-1 13 14-14 1M464 3950l-15-2 17-16 15 2 17-16-14-1 17-15 14 2 17-14-14-1 17-12 15 1 16-11-14-2 17-10 14 1 17-9M1092 3950l-15 1 14 13 14-1 14 13-15 1 14 14 14-1 14 14-15 1"/><path stroke-opacity=".35" d="M586 3846l-15-1 17-8 14 0 17-7-15 0 17-7 15 0 16-5-14 0 16-5 15 0 16-4-15 0 17-3 14 0 17-2M600 3847l-14-1 16-9 15 1 17-7-15-1 17-7 14 1 17-6-15 0 17-5 14 0 17-4-15 0 16-3 15 0 16-2"/><path stroke-opacity=".25" d="M718 3804l-15 0 16-1 15-1 16-1-15 1 16 0 15-1 15 1-14 1 16 2 14-1 16 2-15 1 16 3 14-1 16 4"/><path stroke-opacity=".4" d="M844 3813l-15 1 16 4 14-1 16 5-15 1 15 6 15-1 15 6-15 1 15 7 15-1 15 7-15 2 15 8 14-2 15 9M859 3812l-15 1 15 4 15 0 15 4-14 1 15 6 14-1 16 6-15 1 15 7 14-1 15 8-14 0 14 8 15 0 15 8"/><path stroke-opacity=".2" d="M732 3804l-14 0 16-2 14 0 16-1-14 0 16 0 14 0 16 1-15 0 16 2 15-1 16 3-15 0 15 3 15 0 16 3"/><path stroke-opacity=".45" d="M979 3864l-15 1 15 9 14-1 15 10-15 1 14 10 15-1 14 10-15 1 15 12 14-1 14 11-14 1 13 12 15-1 14 12"/>
<g stroke="none"><path fill="#78c800" d="M1191 3991l14 13-35 0-13-14z"/><path fill="#8cd200" d="M1178 3977l13 14 4 4-34-1-4-4-13-14z"/><path fill="#99de00" d="M1165 3964l13 13 4 4-34-1-4-4-14-13z"/><path fill="#a7ea00" d="M1151 3951l14 13 4 4-35-1-4-4-13-13z"/><path fill="#b4f600" d="M1137 3939l14 12 4 4-34-1-4-4-14-13z"/><path fill="#c5f700" d="M1123 3927l14 12 4 3-34-1-4-4-14-12z"/><path fill="#e8fa00" d="M1110 3915l13 12 5 3-35-1-4-4-14-11z"/><path fill="#f0f700" d="M1096 3904l14 11 4 4-35-2-4-3-14-11z"/><path fill="#fff000" d="M1081 3894l15 10 4 4-35-2-4-3-14-11z"/><path fill="#ffe300" d="M1067 3884l14 10 5 3-35-1-4-4-14-10z"/><path fill="#ffc800" d="M1053 3874l14 10 4 3-34-2-4-3-15-9z"/><path fill="#ffbb00" d="M1038 3865l15 9 4 3-34-1-5-3-14-9z"/><path fill="#ffad00" d="M1024 3857l14 8 5 3-35-2-4-2-15-9z"/><path fill="#ff9300" d="M1009 3849l15 8 4 3-34-2-5-3-14-8z"/><path fill="#ff8700" d="M994 3842l15 7 4 3-34-2-4-3-15-7z"/><path fill="#ff7a00" d="M979 3835l15 7 5 2-35-2-4-2-15-7z"/><path fill="#ff6c00" d="M964 3830l15 5 5 2-35-2-4-2-15-6z"/><path fill="#ff5000" d="M949 3824l15 6 5 1-35-2-4-2-15-5z"/><path fill="#fe4400" d="M934 3819l15 5 5 2-35-3-4-1-16-5z"/><path fill="#fd3800" d="M919 3815l15 4 5 2-35-3-5-1-15-4z"/><path fill="#fc2c00" d="M903 3812l16 3 4 2-34-3-5-1-15-4z"/><path fill="#f81d00" d="M888 3810l15 2 5 1-35-3-4-1-16-3z"/><path fill="#f61600" d="M872 3808l16 2 4 0-34-3-5-1-16-2z"/><path fill="#ee0d00" d="M840 3806l16 0 16 2 5 0-35-3-5-1-15-1-16-1z"/><path fill="#ea0800" d="M824 3806l16 0 5 0-35-4-4 0-16 0z"/><path fill="#e60500" d="M792 3809l16-1 16-2 5 0-34-4-5 0-16 1-16 2z"/><path fill="#e20300" d="M727 3826l33-10 32-7 5 0-35-5-4 1-33 6-33 9z"/><path fill="#e60500" d="M694 3839l16-7 17-6 5-2-35-5-5 1-16 6-17 7z"/><path fill="#ea0800" d="M660 3856l17-9 17-8 5-2-35-6-5 2-17 8-17 9z"/><path fill="#ee0d00" d="M643 3866l17-10 5-3-35-6-5 3-16 9z"/><path fill="#f61600" d="M626 3877l17-11 5-3-34-7-5 3-17 11z"/><path fill="#f81d00" d="M609 3889l17-12 5-3-34-7-5 3-17 12z"/><path fill="#fc2c00" d="M592 3902l17-13 5-4-34-7-5 4-17 12z"/><path fill="#fd3800" d="M575 3916l17-14 5-4-34-8-5 4-18 14z"/><path fill="#fe4400" d="M558 3930l17-14 5-5-34-7-6 4-17 14z"/><path fill="#ff5e00" d="M540 3946l18-16 5-4-35-8-5 4-17 16z"/><path fill="#ff6c00" d="M523 3963l17-17 6-4-35-9-5 5-17 17z"/></g>
<path stroke-opacity=".55" d="M478 3953l-14-3 17-16 15 2 17-15-15-3 17-14 15 2 17-14-15-2 18-12 14 2 17-12-15-1 17-11 15 2 17-10M493 3956l-15-3 18-17 15 3 17-16-15-2 17-15 15 3 17-14-15-3 17-12 15 2 17-11-15-3 17-10 15 2 17-10"/><path stroke-opacity=".35" d="M615 3848l-15-1 17-9 15 2 17-8-15-1 16-7 15 1 17-6-15-1 16-5 15 1 17-4-15-1 16-3 15 1 16-3M874 3812l-15 0 15 5 15-1 15 5-15 0 15 6 15 0 15 6-14 0 14 7 15 0 15 7-15 1 15 8 15-1 14 9M888 3813l-14-1 15 4 15 1 15 5-15-1 15 6 15 0 15 6-15 0 15 7 15 0 15 7-15 0 15 8 15 0 14 9"/><path stroke-opacity=".2" d="M747 3804l-15 0 16-2 15 1 16-1-15-1 16 0 15 1 16 0-15 0 16 1 15 1 16 2-15 0 15 3 15 0 16 3M762 3805l-15-1 16-1 15 1 16-1-15-1 16 0 15 0 16 1-15-1 16 2 15 0 15 2-14 0 15 3 15 0 15 4"/><path stroke-opacity=".45" d="M993 3864l-14 0 14 9 15 0 14 9-14 1 14 10 15-1 14 11-15 0 14 12 15-1 14 12-15 0 14 12 15 0 13 12M1008 3864l-15 0 15 9 15 0 14 9-15 0 15 10 14 0 15 11-15 0 14 11 15 0 14 11-15 1 14 12 14-1 14 13"/><path stroke-opacity=".5" d="M1106 3950l-14 0 13 13 15 0 14 13-15 0 13 14 15 0 13 14-14 0M1121 3950l-15 0 14 13 15 0 13 13-14 0 13 14 15 0 13 14-15 0"/><path stroke-opacity=".4" d="M630 3850l-15-2 17-8 15 1 16-7-14-2 16-7 15 2 17-6-15-2 16-5 15 2 17-5-15-1 16-3 15 1 16-3"/>
<g stroke="none"><path fill="#78c800" d="M1221 3993l13 14-34-3-13-14z"/><path fill="#8cd200" d="M1208 3980l13 13 4 4-34-3-4-4-13-13z"/><path fill="#99de00" d="M1195 3967l13 13 4 4-34-3-4-4-14-14z"/><path fill="#a7ea00" d="M1181 3954l14 13 4 3-35-3-4-4-14-12z"/><path fill="#b4f600" d="M1167 3942l14 12 4 4-34-3-5-4-13-13z"/><path fill="#d7f900" d="M1154 3930l13 12 5 3-35-3-4-4-14-12z"/><path fill="#e8fa00" d="M1140 3918l14 12 4 3-35-3-4-4-14-11z"/><path fill="#f7f300" d="M1126 3908l14 10 4 4-35-4-4-3-14-11z"/><path fill="#fff000" d="M1112 3897l14 11 4 3-35-4-4-3-14-11z"/><path fill="#ffd500" d="M1098 3887l14 10 4 3-35-3-4-4-14-9z"/><path fill="#ffc800" d="M1083 3878l15 9 4 3-35-4-4-2-15-10z"/><path fill="#ffad00" d="M1069 3869l14 9 4 3-34-4-5-3-14-9z"/><path fill="#ffa000" d="M1054 3861l15 8 4 3-35-4-4-3-15-8z"/><path fill="#ff9300" d="M1040 3853l14 8 5 3-35-5-5-2-14-8z"/><path fill="#ff8700" d="M1025 3846l15 7 4 3-35-5-4-2-15-7z"/><path fill="#ff6c00" d="M1010 3840l15 6 4 2-35-4-4-2-15-7z"/><path fill="#ff5e00" d="M995 3834l15 6 4 2-35-5-4-2-15-6z"/><path fill="#ff5000" d="M980 3829l15 5 4 2-35-5-4-2-15-5z"/><path fill="#fe4400" d="M965 3824l15 5 4 1-35-5-4-1-16-5z"/><path fill="#fc2c00" d="M949 3821l16 3 4 2-35-6-5-1-15-4z"/><path fill="#fa2500" d="M934 3817l15 4 5 1-35-6-5-1-15-3z"/><path fill="#f61600" d="M918 3815l16 2 4 1-35-5-4-1-16-3z"/><path fill="#f21100" d="M903 3813l15 2 5 1-35-6-5-1-16-2z"/><path fill="#ee0d00" d="M887 3812l16 1 4 1-35-6-5-1-15-1z"/><path fill="#ea0800" d="M871 3812l16 0 5 0-36-6-4 0-16-1z"/><path fill="#e60500" d="M839 3814l16-1 16-1 5 0-35-6-5-1-16 1-16 1z"/><path fill="#e20300" d="M741 3839l33-12 33-8 32-5 5-1-35-7-5 1-33 5-32 8-33 11z"/><path fill="#e60500" d="M707 3855l17-8 17-8 5-2-35-8-5 2-17 7-17 8z"/><path fill="#ea0800" d="M691 3864l16-9 5-3-35-8-5 2-17 9z"/><path fill="#ee0d00" d="M674 3874l17-10 5-3-35-9-6 3-16 10z"/><path fill="#f21100" d="M657 3885l17-11 5-3-35-9-5 3-17 11z"/><path fill="#f81d00" d="M640 3898l17-13 5-3-35-9-5 3-17 12z"/><path fill="#fc2c00" d="M623 3911l17-13 5-4-35-10-5 4-17 13z"/><path fill="#fd3800" d="M605 3925l18-14 5-4-35-10-5 4-18 13z"/><path fill="#fe4400" d="M588 3940l17-15 6-5-35-10-6 4-17 15z"/><path fill="#ff5e00" d="M571 3956l17-16 5-5-35-10-5 4-17 16z"/><path fill="#ff6c00" d="M553 3973l18-17 5-5-35-11-5 5-17 17z"/></g>
<path stroke-opacity=".55" d="M508 3959l-15-3 18-17 14 3 18-15-15-4 17-14 15 3 17-14-15-3 17-13 15 3 17-12-15-2 17-11 15 3 17-10M523 3963l-15-4 17-17 15 4 18-16-15-3 17-15 15 4 17-14-15-4 17-13 15 4 17-12-15-4 17-10 15 3 17-10"/><path stroke-opacity=".4" d="M645 3853l-15-3 17-9 15 3 16-8-15-2 17-7 15 2 17-6-15-2 16-5 15 2 17-5-15-2 16-3 15 2 16-3M660 3856l-15-3 17-9 15 3 17-8-16-3 17-7 15 3 17-6-15-3 16-5 15 2 17-4-15-3 16-3 15 2 16-3"/><path stroke-opacity=".2" d="M777 3807l-15-2 16-1 15 1 16-1-15-1 16-1 15 2 16 0-15-1 16 1 15 2 16 2-16-2 16 3 15 1 16 4M792 3809l-15-2 16-2 15 3 16-2-15-2 16 0 15 2 16 0-15-2 16 2 15 2 16 2-15-2 15 2 15 2 16 3"/><path stroke-opacity=".35" d="M904 3814l-16-1 16 4 15 1 15 5-15-1 15 5 15 1 15 6-15-1 15 7 15 1 15 7-15-1 15 8 15 1 14 8M919 3815l-15-1 15 4 15 1 15 5-15-1 15 5 15 2 15 5-15-1 15 7 15 1 15 7-15-1 15 8 15 1 14 8"/><path stroke-opacity=".45" d="M1023 3864l-15 0 15 9 15 0 14 10-15-1 14 10 15 1 15 10-15 0 14 11 15 0 14 12-15-1 13 12 15 1 14 12M1038 3865l-15-1 15 9 15 1 14 10-15-1 14 10 15 1 15 10-15-1 14 11 15 1 13 12-14-1 13 12 15 1 14 12"/><path stroke-opacity=".5" d="M1136 3950l-15 0 14 13 15 0 13 13-15 0 14 14 14 0 14 14-15 0M1151 3951l-15-1 14 13 15 1 13 13-15-1 13 14 15 1 14 13-15 0"/>
<g stroke="none"><path fill="#8cd200" d="M1238 3984l14 14 13 13-35-4-13-14-14-14z"/><path fill="#99de00" d="M1225 3971l13 13 4 4-35-5-4-4-13-13z"/><path fill="#a7ea00" d="M1212 3959l13 12 4 4-35-5-4-4-13-13z"/><path fill="#b4f600" d="M1198 3947l14 12 4 3-35-5-4-4-14-12z"/><path fill="#d7f900" d="M1184 3935l14 12 4 3-35-5-4-4-14-12z"/><path fill="#f0f700" d="M1170 3924l14 11 4 3-35-5-4-4-14-11z"/><path fill="#f7f300" d="M1156 3913l14 11 5 3-36-6-4-3-14-11z"/><path fill="#ffe300" d="M1142 3903l14 10 5 3-36-6-4-3-14-10z"/><path fill="#ffd500" d="M1128 3893l14 10 5 3-36-6-4-3-14-10z"/><path fill="#ffc800" d="M1114 3884l14 9 4 3-35-6-4-3-14-10z"/><path fill="#ffad00" d="M1099 3875l15 9 4 3-35-7-4-3-15-8z"/><path fill="#ffa000" d="M1085 3867l14 8 5 3-36-7-4-2-14-9z"/><path fill="#ff9300" d="M1070 3860l15 7 4 3-35-7-4-3-15-7z"/><path fill="#ff7a00" d="M1056 3853l14 7 5 2-36-7-4-2-15-7z"/><path fill="#ff6c00" d="M1041 3847l15 6 4 2-35-7-5-2-15-7z"/><path fill="#ff5e00" d="M1026 3841l15 6 4 1-35-7-5-2-15-6z"/><path fill="#fe4400" d="M1011 3836l15 5 4 2-35-8-5-2-15-5z"/><path fill="#fd3800" d="M995 3832l16 4 4 1-35-7-5-2-15-4z"/><path fill="#fc2c00" d="M980 3828l15 4 5 1-36-8-4-1-15-4z"/><path fill="#fa2500" d="M965 3825l15 3 5 1-36-8-4-1-16-4z"/><path fill="#f61600" d="M949 3823l16 2 4 1-35-9-5-1-15-2z"/><path fill="#f21100" d="M934 3821l15 2 5 0-36-8-4-1-16-2z"/><path fill="#ee0d00" d="M918 3820l16 1 4 1-35-9-5-1-16-1z"/><path fill="#ea0800" d="M902 3820l16 0 5 1-36-9-5-1-16 0z"/><path fill="#e60500" d="M870 3823l16-2 16-1 5 0-36-9-5 0-16 0-16 2z"/><path fill="#e20300" d="M772 3849l33-12 33-9 32-5 5-1-36-10-5 1-32 5-33 8-33 12z"/><path fill="#e60500" d="M738 3865l17-8 17-8 5-2-36-11-5 2-16 7-17 9z"/><path fill="#ea0800" d="M722 3875l16-10 5-2-35-12-5 3-17 9z"/><path fill="#ee0d00" d="M705 3885l17-10 5-3-36-12-5 3-17 10z"/><path fill="#f61600" d="M688 3896l17-11 5-3-36-12-5 3-17 11z"/><path fill="#f81d00" d="M671 3909l17-13 5-3-36-12-5 3-17 12z"/><path fill="#fc2c00" d="M653 3922l18-13 5-4-36-13-5 4-17 13z"/><path fill="#fd3800" d="M636 3936l17-14 6-4-36-13-5 4-17 14z"/><path fill="#ff5000" d="M619 3951l17-15 5-4-35-13-5 4-17 15z"/><path fill="#ff5e00" d="M602 3968l17-17 5-4-35-13-5 4-18 16z"/><path fill="#ff6c00" d="M584 3985l18-17 5-5-36-13-5 4-17 18z"/></g>
<path stroke-opacity=".55" d="M538 3968l-15-5 17-17 16 5 17-16-15-5 17-14 15 4 17-14-15-4 17-13 15 4 17-12-15-4 17-11 15 4 17-10"/><path stroke-opacity=".45" d="M675 3860l-15-4 17-9 15 4 17-8-15-4 16-7 15 3 17-6-15-3 16-6 16 4 16-5-15-3 16-4 15 3 17-3M1054 3867l-16-2 15 9 15 2 14 9-15-1 14 10 16 1 14 11-15-2 14 11 15 2 14 11-16-1 14 12 15 1 14 12M691 3864l-16-4 17-9 15 4 17-8-15-4 16-8 16 4 16-6-15-4 17-5 15 3 16-4-15-4 16-4 16 4 16-3"/><path stroke-opacity=".25" d="M808 3812l-16-3 16-1 16 2 16-1-16-3 16 0 16 3 15 0-15-3 16 2 15 2 16 2-15-2 15 2 15 2 16 4M823 3816l-15-4 16-2 15 4 16-1-15-4 16 0 15 3 16 0-16-3 16 1 16 3 15 2-15-3 15 2 16 3 15 4"/><path stroke-opacity=".3" d="M934 3818l-15-3 15 4 15 3 15 4-15-2 15 6 16 2 15 5-16-2 15 7 15 2 15 7-15-2 15 8 15 2 15 8M949 3821l-15-3 15 4 16 2 15 5-16-3 16 6 15 2 15 6-15-3 14 7 16 2 15 7-16-2 15 8 15 2 15 8"/><path stroke-opacity=".5" d="M1166 3952l-15-1 14 13 15 1 13 13-15-1 13 14 15 1 13 14-14-2M1181 3954l-15-2 14 13 15 2 13 13-15-2 13 14 15 1 13 14-15-1"/><path stroke-opacity=".6" d="M553 3973l-15-5 18-17 15 5 17-16-15-5 17-15 15 5 18-14-16-5 17-13 16 5 17-13-16-4 17-11 16 4 17-10"/><path stroke-opacity=".4" d="M1069 3869l-15-2 14 9 15 2 15 9-16-2 15 10 15 2 14 11-15-2 14 11 15 1 14 12-15-2 13 12 15 2 14 12"/>
<g stroke="none"><path fill="#8cd200" d="M1282 4004l13 13-35-6-13-14z"/><path fill="#99de00" d="M1269 3990l13 14 4 4-35-7-4-4-13-14z"/><path fill="#a7ea00" d="M1242 3965l14 13 13 12 4 4-35-7-4-4-14-13-13-12z"/><path fill="#c5f700" d="M1229 3953l13 12 4 4-35-7-4-4-14-12z"/><path fill="#d7f900" d="M1215 3942l14 11 4 4-36-8-4-3-13-12z"/><path fill="#f0f700" d="M1201 3931l14 11 4 3-35-7-4-4-14-11z"/><path fill="#f7f300" d="M1187 3920l14 11 4 3-35-8-4-3-14-11z"/><path fill="#ffe300" d="M1173 3910l14 10 4 4-35-9-4-3-14-10z"/><path fill="#ffd500" d="M1159 3901l14 9 4 3-35-8-4-3-14-10z"/><path fill="#ffbb00" d="M1145 3892l14 9 4 3-35-9-4-3-15-9z"/><path fill="#ffad00" d="M1130 3883l15 9 4 3-35-9-5-3-14-9z"/><path fill="#ffa000" d="M1116 3876l14 7 5 3-36-9-4-3-15-8z"/><path fill="#ff8700" d="M1101 3868l15 8 4 2-35-9-5-3-14-7z"/><path fill="#ff7a00" d="M1087 3862l14 6 5 3-36-10-4-2-15-7z"/><path fill="#ff6c00" d="M1072 3856l15 6 4 2-36-10-4-2-15-7z"/><path fill="#ff5e00" d="M1057 3850l15 6 4 1-36-10-4-2-15-5z"/><path fill="#fe4400" d="M1042 3845l15 5 4 2-35-10-5-2-15-5z"/><path fill="#fd3800" d="M1027 3841l15 4 4 2-36-11-4-1-15-5z"/><path fill="#fc2c00" d="M1011 3838l16 3 4 1-36-10-4-2-16-3z"/><path fill="#fa2500" d="M996 3835l15 3 5 1-36-11-5-1-15-3z"/><path fill="#f61600" d="M980 3833l16 2 5 1-36-11-5-1-16-3z"/><path fill="#f21100" d="M965 3832l15 1 5 1-36-12-5-1-15-1z"/><path fill="#ee0d00" d="M949 3831l16 1 5 0-36-12-5 0-16-1z"/><path fill="#ea0800" d="M933 3831l16 0 5 0-36-12-5 0-16 0z"/><path fill="#e60500" d="M885 3836l32-4 16-1 5 0-36-12-5 0-16 1-32 3z"/><path fill="#e20300" d="M836 3849l33-9 16-4 5 0-36-13-5 0-16 4-33 8z"/><path fill="#e60500" d="M786 3869l34-14 16-6 5-2-36-13-5 1-16 6-34 14z"/><path fill="#ea0800" d="M770 3878l16-9 5-2-36-14-5 2-16 9z"/><path fill="#ee0d00" d="M753 3888l17-10 5-3-36-14-5 3-17 9z"/><path fill="#f21100" d="M736 3898l17-10 5-3-36-15-5 3-17 10z"/><path fill="#f61600" d="M719 3909l17-11 5-3-36-15-5 3-17 12z"/><path fill="#fa2500" d="M702 3922l17-13 5-3-36-15-5 4-17 12z"/><path fill="#fd3800" d="M685 3935l17-13 5-4-36-15-5 4-17 13z"/><path fill="#fe4400" d="M667 3950l18-15 5-4-36-15-5 4-17 14z"/><path fill="#ff5000" d="M650 3965l17-15 6-5-36-15-5 4-18 16z"/><path fill="#ff5e00" d="M633 3982l17-17 5-4-36-16-5 5-17 16z"/><path fill="#ff7a00" d="M615 3999l18-17 5-5-36-16-5 5-17 17z"/></g>
<path stroke-opacity=".6" d="M569 3979l-16-6 18-17 15 6 17-17-15-5 17-15 16 5 17-14-15-5 17-13 15 5 17-12-15-6 17-11 15 5 17-10M584 3985l-15-6 17-17 16 6 17-17-16-6 18-15 15 6 17-14-15-6 17-13 16 6 17-13-16-5 17-12 16 6 17-10"/><path stroke-opacity=".45" d="M706 3869l-15-5 16-9 16 5 17-9-16-4 17-8 15 5 17-6-16-5 17-6 15 5 17-5-16-4 17-4 15 4 16-3M1196 3956l-15-2 14 13 15 2 13 13-15-2 13 13 15 2 14 14-16-2M1212 3959l-16-3 14 13 15 2 13 13-15-2 13 13 16 3 13 13-15-2"/><path stroke-opacity=".3" d="M838 3820l-15-4 16-2 15 4 16-2-15-3 16-1 15 4 16 0-15-4 16 1 15 4 16 2-16-4 16 2 15 4 16 3M854 3825l-16-5 16-2 16 5 16-2-16-5 16 0 16 4 16 0-16-4 16 1 16 4 15 2-15-4 15 2 16 4 15 3"/><path stroke-opacity=".25" d="M965 3824l-16-3 16 3 15 4 15 4-15-3 15 5 15 3 15 6-15-3 15 6 15 3 15 7-15-3 14 8 16 3 14 8M980 3828l-15-4 15 4 15 4 16 4-16-4 15 5 16 4 15 6-16-4 15 6 16 4 14 7-15-4 15 8 15 3 14 8"/><path stroke-opacity=".4" d="M1084 3872l-15-3 14 9 15 3 15 9-15-3 14 10 15 3 14 10-15-2 14 10 15 3 14 11-15-2 13 12 16 2 13 12M1099 3875l-15-3 14 9 16 3 14 9-15-3 14 10 15 3 14 10-15-3 14 11 15 3 14 11-15-3 14 12 15 3 14 12"/><path stroke-opacity=".5" d="M722 3875l-16-6 17-9 15 5 17-8-15-6 16-7 16 5 16-6-15-5 16-6 16 5 16-5-15-5 16-4 16 5 16-3"/>
<g stroke="none"><path fill="#8cd200" d="M1313 4012l13 13-35-9-13-13z"/><path fill="#99de00" d="M1300 3999l13 13 4 4-35-9-4-4-14-14z"/><path fill="#a7ea00" d="M1273 3974l14 12 13 13 4 4-36-10-4-4-13-12-13-13z"/><path fill="#c5f700" d="M1260 3962l13 12 4 4-35-10-4-4-14-12z"/><path fill="#d7f900" d="M1246 3951l14 11 4 4-36-10-4-4-14-11z"/><path fill="#f0f700" d="M1232 3940l14 11 4 3-36-10-4-3-13-11z"/><path fill="#f7f300" d="M1219 3930l13 10 5 3-36-10-4-3-14-11z"/><path fill="#ffe300" d="M1205 3920l14 10 4 3-36-11-4-3-14-10z"/><path fill="#ffd500" d="M1190 3911l15 9 4 3-36-11-4-3-15-9z"/><path fill="#ffbb00" d="M1176 3902l14 9 5 3-36-12-5-2-14-9z"/><path fill="#ffad00" d="M1162 3894l14 8 4 3-36-12-4-2-14-9z"/><path fill="#ffa000" d="M1147 3886l15 8 4 2-36-11-4-3-15-8z"/><path fill="#ff9300" d="M1133 3879l14 7 5 3-36-12-5-3-14-7z"/><path fill="#ff7a00" d="M1118 3873l15 6 4 2-36-12-4-2-15-7z"/><path fill="#ff6c00" d="M1103 3867l15 6 5 2-37-13-4-2-15-6z"/><path fill="#ff5e00" d="M1088 3862l15 5 5 2-36-13-5-2-15-5z"/><path fill="#ff5000" d="M1073 3857l15 5 5 1-36-13-5-1-15-5z"/><path fill="#fe4400" d="M1058 3853l15 4 5 2-36-14-5-1-15-4z"/><path fill="#fd3800" d="M1043 3850l15 3 5 1-37-13-4-1-15-4z"/><path fill="#fc2c00" d="M1028 3848l15 2 5 1-37-14-4-1-16-3z"/><path fill="#f81d00" d="M1012 3846l16 2 4 0-36-14-5-1-15-2z"/><path fill="#f61600" d="M997 3845l15 1 5 0-37-14-4-1-16-1z"/><path fill="#f21100" d="M981 3844l16 1 4 0-36-15-5 0-16-1z"/><path fill="#ee0d00" d="M965 3845l16-1 5 0-37-14-5-1-15 0z"/><path fill="#ea0800" d="M933 3848l16-2 16-1 5-1-37-15-4 0-16 1-16 2z"/><path fill="#e60500" d="M852 3870l32-12 33-8 16-2 5-1-37-15-4 0-16 3-33 7-33 11z"/><path fill="#ea0800" d="M818 3884l17-7 17-7 4-2-36-17-5 2-17 7-16 7z"/><path fill="#ee0d00" d="M801 3893l17-9 5-2-36-17-5 2-17 9z"/><path fill="#f21100" d="M785 3903l16-10 6-2-37-18-5 3-17 10z"/><path fill="#f61600" d="M768 3914l17-11 5-3-37-17-5 3-17 10z"/><path fill="#fa2500" d="M751 3925l17-11 5-4-37-17-5 3-17 11z"/><path fill="#fc2c00" d="M734 3938l17-13 5-3-37-18-5 3-17 13z"/><path fill="#fd3800" d="M716 3951l18-13 5-4-37-18-5 4-17 13z"/><path fill="#fe4400" d="M699 3966l17-15 6-4-37-18-5 4-17 15z"/><path fill="#ff5e00" d="M682 3981l17-15 5-5-36-18-5 5-18 15z"/><path fill="#ff6c00" d="M664 3998l18-17 5-4-36-19-6 5-17 17z"/><path fill="#ff7a00" d="M647 4016l17-18 6-5-37-18-5 5-17 17z"/></g>
<path stroke-opacity=".6" d="M600 3992l-16-7 18-17 15 6 18-16-16-7 17-15 16 7 17-15-16-6 18-13 15 6 17-12-15-7 17-11 15 6 17-10M615 3999l-15-7 17-18 16 8 17-17-15-7 17-15 15 7 18-15-16-7 17-13 16 7 17-13-16-6 17-12 16 7 17-10"/><path stroke-opacity=".5" d="M737 3881l-15-6 16-10 16 6 17-8-16-6 17-8 15 6 17-7-16-5 17-6 16 6 16-5-16-6 17-4 15 6 16-4M753 3888l-16-7 17-10 16 7 16-9-15-6 16-8 16 7 17-7-16-7 17-5 15 6 17-5-16-6 16-4 16 6 16-4"/><path stroke-opacity=".35" d="M869 3830l-15-5 16-2 16 5 16-2-16-5 16-1 16 5 15 0-15-5 16 1 15 5 16 2-16-5 16 2 15 5 16 3M885 3836l-16-6 17-2 15 6 16-2-15-6 16-1 15 6 16 0-16-6 16 1 16 6 15 1-15-5 15 2 16 5 15 3"/><path stroke-opacity=".25" d="M996 3833l-16-5 15 4 16 4 15 4-15-4 15 5 15 4 15 6-15-4 15 6 15 4 15 7-16-4 15 7 15 4 15 8"/><path stroke-opacity=".4" d="M1115 3879l-16-4 15 9 15 4 15 9-16-4 14 10 16 3 14 10-16-3 14 11 16 3 14 11-16-3 14 12 15 3 14 12M1130 3883l-15-4 14 9 16 4 14 9-15-4 14 9 15 4 14 10-15-4 14 11 15 4 14 11-15-4 13 12 16 3 13 12"/><path stroke-opacity=".45" d="M1227 3962l-15-3 13 12 15 3 14 13-16-3 14 14 15 2 13 14-15-3M1242 3965l-15-3 13 12 16 4 13 12-15-3 13 13 15 4 13 13-15-3"/><path stroke-opacity=".2" d="M1011 3838l-15-5 15 3 16 5 15 4-16-5 15 5 16 5 15 6-16-5 15 6 16 5 14 6-15-4 14 7 16 5 14 7"/>
<g stroke="none"><path fill="#8cd200" d="M1344 4021l13 13-35-10-13-14z"/><path fill="#99de00" d="M1331 4009l13 12 4 4-36-11-3-4-14-13z"/><path fill="#a7ea00" d="M1305 3984l13 12 13 13 4 3-36-11-4-4-13-12-13-12z"/><path fill="#b4f600" d="M1291 3973l14 11 4 4-36-12-4-3-14-12z"/><path fill="#d7f900" d="M1278 3962l13 11 4 3-36-12-4-3-14-11z"/><path fill="#f0f700" d="M1264 3952l14 10 4 3-36-12-5-3-13-11z"/><path fill="#f7f300" d="M1250 3942l14 10 4 3-36-13-4-3-14-11z"/><path fill="#ffe300" d="M1236 3932l14 10 4 3-36-14-4-3-14-9z"/><path fill="#ffd500" d="M1222 3923l14 9 4 3-36-13-4-3-14-10z"/><path fill="#ffc800" d="M1208 3915l14 8 4 3-36-14-4-3-15-8z"/><path fill="#ffad00" d="M1194 3907l14 8 4 2-36-14-5-2-14-9z"/><path fill="#ffa000" d="M1179 3899l15 8 4 2-37-14-4-3-14-7z"/><path fill="#ff9300" d="M1165 3893l14 6 4 3-36-15-4-2-15-7z"/><path fill="#ff8700" d="M1150 3886l15 7 4 2-37-15-4-2-15-7z"/><path fill="#ff7a00" d="M1135 3881l15 5 4 2-36-15-5-2-14-6z"/><path fill="#ff6c00" d="M1120 3876l15 5 5 2-37-16-4-2-15-5z"/><path fill="#ff5000" d="M1105 3872l15 4 5 1-37-15-4-2-15-5z"/><path fill="#fe4400" d="M1090 3868l15 4 5 1-37-16-4-2-16-4z"/><path fill="#fd3800" d="M1060 3863l15 2 15 3 5 1-37-16-5-2-15-3-15-2z"/><path fill="#fa2500" d="M1044 3861l16 2 4 0-37-17-4 0-16-2z"/><path fill="#f81d00" d="M1029 3860l15 1 5 0-37-17-5 0-15-1z"/><path fill="#f61600" d="M1013 3860l16 0 4 0-37-17-4 0-16-1z"/><path fill="#f21100" d="M997 3861l16-1 5 0-37-18-5 0-16 0z"/><path fill="#ee0d00" d="M949 3867l32-5 16-1 5-1-37-18-5 0-16 2-32 4z"/><path fill="#ea0800" d="M900 3881l33-10 16-4 5-1-37-19-5 1-16 4-33 9z"/><path fill="#ee0d00" d="M867 3894l17-7 16-6 5-2-37-19-5 1-16 6-17 7z"/><path fill="#f21100" d="M850 3902l17-8 5-2-37-20-5 2-17 8z"/><path fill="#f61600" d="M834 3911l16-9 5-2-37-20-5 2-16 9z"/><path fill="#f81d00" d="M817 3921l17-10 5-3-37-20-5 3-17 9z"/><path fill="#fa2500" d="M800 3931l17-10 5-3-37-20-5 2-17 11z"/><path fill="#fc2c00" d="M783 3943l17-12 5-3-37-20-5 3-17 12z"/><path fill="#fd3800" d="M766 3956l17-13 5-3-37-21-5 4-17 12z"/><path fill="#fe4400" d="M749 3970l17-14 5-4-37-21-5 4-17 14z"/><path fill="#ff5000" d="M731 3984l18-14 5-5-37-20-5 4-18 14z"/><path fill="#ff6c00" d="M714 4000l17-16 5-4-36-21-6 4-17 16z"/><path fill="#ff7a00" d="M697 4016l17-16 5-5-37-21-5 5-17 16z"/><path fill="#ff8700" d="M679 4034l18-18 5-5-37-21-5 5-18 18z"/></g>
<path stroke-opacity=".6" d="M631 4007l-16-8 18-17 16 8 17-17-16-8 17-15 16 7 17-14-15-8 17-13 16 7 17-12-16-8 17-11 16 7 17-10M647 4016l-16-9 18-17 15 8 18-17-16-8 17-16 16 9 17-15-16-8 18-14 16 9 17-13-16-8 17-12 16 9 17-11"/><path stroke-opacity=".5" d="M769 3895l-16-7 17-10 16 7 16-8-16-8 17-7 16 7 17-7-16-7 16-6 16 7 17-5-16-7 16-4 16 6 16-3"/><path stroke-opacity=".35" d="M901 3843l-16-7 16-2 16 6 16-1-16-7 16-1 16 7 16-1-16-6 16 1 16 6 15 1-16-6 16 2 16 6 15 3M1146 3888l-16-5 15 9 15 5 15 9-16-5 14 9 16 5 14 10-16-5 14 11 16 4 14 11-16-4 14 11 15 5 14 11M1162 3894l-16-6 14 9 16 5 14 9-15-5 14 9 16 5 14 10-16-5 14 10 15 5 14 11-15-5 13 12 16 4 13 12"/><path stroke-opacity=".2" d="M1027 3844l-16-6 16 3 15 6 16 4-16-6 15 5 16 6 15 5-16-5 15 6 15 5 15 7-16-6 15 8 16 5 14 7M1043 3850l-16-6 15 3 16 6 15 4-15-6 15 5 15 6 15 5-15-6 14 6 16 6 15 6-16-5 15 7 15 5 15 8"/><path stroke-opacity=".45" d="M1258 3969l-16-4 14 13 15 4 13 12-15-4 13 14 16 3 13 14-16-4M1273 3974l-15-5 13 13 16 4 13 13-16-5 14 13 15 5 13 13-15-4"/><path stroke-opacity=".55" d="M785 3903l-16-8 17-10 15 8 17-9-16-7 17-8 16 8 17-7-16-8 16-6 16 7 16-5-15-7 16-5 16 8 16-4"/><path stroke-opacity=".4" d="M917 3850l-16-7 16-3 16 8 16-2-16-7 16-1 16 7 16-1-16-7 16 1 16 7 15 1-16-7 16 2 16 7 15 2"/>
<g stroke="none"><path fill="#8cd200" d="M1376 4033l13 13-36-13-13-13z"/><path fill="#99de00" d="M1350 4009l13 12 13 12 4 4-36-13-4-4-13-13-14-12z"/><path fill="#a7ea00" d="M1336 3997l14 12 4 3-37-14-4-3-13-12z"/><path fill="#b4f600" d="M1323 3986l13 11 4 4-36-15-4-3-14-12z"/><path fill="#d7f900" d="M1309 3975l14 11 4 3-36-14-5-4-13-11z"/><path fill="#e8fa00" d="M1296 3965l13 10 4 4-36-15-4-4-14-10z"/><path fill="#f7f300" d="M1282 3956l14 9 4 3-37-15-4-3-14-10z"/><path fill="#fff000" d="M1268 3946l14 10 4 2-37-15-4-3-14-10z"/><path fill="#ffe300" d="M1254 3938l14 8 4 3-36-16-5-3-14-9z"/><path fill="#ffc800" d="M1240 3929l14 9 4 2-36-16-5-3-14-8z"/><path fill="#ffbb00" d="M1226 3922l14 7 4 3-37-17-4-2-14-8z"/><path fill="#ffad00" d="M1211 3915l15 7 4 2-37-17-4-2-15-8z"/><path fill="#ffa000" d="M1197 3908l14 7 4 2-36-17-5-3-14-6z"/><path fill="#ff9300" d="M1182 3902l15 6 4 2-37-17-4-2-15-7z"/><path fill="#ff8700" d="M1167 3897l15 5 4 2-36-18-5-2-15-5z"/><path fill="#ff6c00" d="M1152 3892l15 5 5 2-37-19-5-1-15-5z"/><path fill="#ff5e00" d="M1137 3888l15 4 5 2-37-19-5-1-15-5z"/><path fill="#ff5000" d="M1122 3885l15 3 5 2-37-19-5-2-15-3z"/><path fill="#fe4400" d="M1092 3880l15 2 15 3 5 1-37-19-5-1-15-3-15-3z"/><path fill="#fd3800" d="M1076 3879l16 1 4 1-37-20-4-1-16-1z"/><path fill="#fc2c00" d="M1061 3878l15 1 5 0-37-20-5 0-15-1z"/><path fill="#fa2500" d="M1045 3878l16 0 5 0-38-20-4 0-16-1z"/><path fill="#f81d00" d="M1029 3879l16-1 5 0-37-20-5-1-16 1z"/><path fill="#f61600" d="M998 3883l16-2 15-2 5 0-37-21-5 0-16 1-16 2z"/><path fill="#f21100" d="M933 3900l32-10 33-7 4-1-37-21-5 0-32 7-33 10z"/><path fill="#f61600" d="M900 3914l16-7 17-7 5-1-38-23-5 2-16 6-17 7z"/><path fill="#f81d00" d="M883 3922l17-8 5-2-38-23-5 2-16 8z"/><path fill="#fa2500" d="M866 3931l17-9 5-2-37-23-5 2-17 9z"/><path fill="#fc2c00" d="M849 3941l17-10 5-3-37-23-5 3-17 10z"/><path fill="#fd3800" d="M832 3952l17-11 5-3-37-23-5 3-17 11z"/><path fill="#fe4400" d="M798 3977l17-13 17-12 5-3-37-24-5 4-17 11-17 13z"/><path fill="#ff5000" d="M781 3990l17-13 5-4-37-24-5 4-17 14z"/><path fill="#ff6c00" d="M764 4005l17-15 5-4-37-23-5 4-18 14z"/><path fill="#ff7a00" d="M746 4021l18-16 5-5-37-23-6 4-17 16z"/><path fill="#ff8700" d="M729 4037l17-16 6-5-38-24-5 5-17 17z"/><path fill="#ff9300" d="M711 4055l18-18 5-5-37-23-5 5-18 17z"/></g>
<path stroke-opacity=".6" d="M663 4025l-16-9 17-18 16 9 18-17-16-9 17-15 16 9 17-15-16-9 18-13 16 8 17-12-16-9 17-11 16 8 17-11M679 4034l-16-9 17-18 17 9 17-16-16-10 17-15 16 9 18-14-17-10 18-14 16 10 17-13-16-9 17-12 16 9 17-10"/><path stroke-opacity=".55" d="M801 3911l-16-8 16-10 17 9 16-9-16-9 17-7 16 8 17-7-16-8 16-7 16 9 16-6-16-8 17-4 16 8 16-4M817 3921l-16-10 17-9 16 9 16-9-16-9 17-8 16 9 17-7-16-9 16-6 16 9 17-6-17-9 17-4 16 9 16-4"/><path stroke-opacity=".4" d="M933 3858l-16-8 16-2 16 7 16-2-16-7 16-1 16 7 16 0-16-8 16 1 15 7 16 1-16-7 16 2 16 7 15 2M949 3867l-16-9 16-3 16 9 16-2-16-9 16-1 16 9 16-1-16-8 15 0 17 8 15 1-16-8 16 2 16 8 15 2M1305 3984l-16-5 13 12 16 5 13 13-15-6 13 13 15 5 13 13-15-5"/><path stroke-opacity=".2" d="M1059 3857l-16-7 15 3 16 7 15 4-16-7 15 5 16 7 15 5-16-7 15 6 16 6 15 7-16-7 14 7 16 7 15 7"/><path stroke-opacity=".35" d="M1178 3900l-16-6 14 8 16 6 14 9-16-6 15 9 15 6 14 9-15-5 13 10 16 6 14 10-16-5 14 11 15 5 14 12"/><path stroke-opacity=".45" d="M1289 3979l-16-5 14 12 15 5 14 12-16-4 13 13 16 4 13 13-16-4"/><path stroke-opacity=".25" d="M1075 3865l-16-8 15 3 16 8 15 4-16-8 15 5 16 7 15 5-16-7 15 5 16 7 15 7-16-7 14 7 16 6 15 8"/><path stroke-opacity=".3" d="M1194 3907l-16-7 14 8 16 7 14 8-16-6 14 9 16 6 14 10-16-7 14 11 16 6 14 10-16-6 13 11 16 6 14 11"/>
<g stroke="none"><path fill="#8cd200" d="M1395 4035l13 12 13 12-37-15-13-13-13-12z"/><path fill="#99de00" d="M1382 4023l13 12 4 3-37-16-4-3-13-12z"/><path fill="#a7ea00" d="M1368 4012l14 11 3 4-36-17-4-3-13-12z"/><path fill="#b4f600" d="M1355 4001l13 11 4 3-36-16-4-4-14-11z"/><path fill="#c5f700" d="M1341 3991l14 10 4 3-37-17-4-3-13-11z"/><path fill="#e8fa00" d="M1328 3981l13 10 4 3-36-17-4-4-14-10z"/><path fill="#f0f700" d="M1314 3972l14 9 4 3-37-18-4-3-14-10z"/><path fill="#f7f300" d="M1300 3963l14 9 4 3-37-19-4-3-14-9z"/><path fill="#ffe300" d="M1286 3955l14 8 4 3-37-19-4-3-14-9z"/><path fill="#ffd500" d="M1272 3947l14 8 4 2-37-19-4-3-14-8z"/><path fill="#ffc800" d="M1258 3939l14 8 4 2-37-19-4-3-14-7z"/><path fill="#ffbb00" d="M1244 3933l14 6 4 3-37-20-4-2-15-8z"/><path fill="#ffad00" d="M1229 3927l15 6 4 2-37-20-5-3-14-6z"/><path fill="#ff9300" d="M1214 3921l15 6 4 1-37-20-4-2-15-6z"/><path fill="#ff8700" d="M1185 3912l15 4 14 5 5 2-37-21-5-2-15-5-14-5z"/><path fill="#ff7a00" d="M1170 3908l15 4 4 1-37-22-4-1-15-4z"/><path fill="#ff6c00" d="M1155 3905l15 3 4 1-37-22-4-1-15-4z"/><path fill="#ff5e00" d="M1140 3902l15 3 4 1-37-23-4-1-16-2z"/><path fill="#ff5000" d="M1125 3900l15 2 4 1-37-23-5 0-15-3z"/><path fill="#fe4400" d="M1109 3899l16 1 4 1-37-23-5-1-15-1z"/><path fill="#fd3800" d="M1078 3899l16 0 15 0 5 1-38-24-4 0-16-1-16 0z"/><path fill="#fc2c00" d="M1030 3905l32-5 16-1 5 0-38-24-5 0-15 1-32 4z"/><path fill="#fa2500" d="M966 3923l32-11 32-7 5-1-37-25-5 1-33 7-32 10z"/><path fill="#fc2c00" d="M916 3945l33-16 17-6 4-2-37-25-5 1-17 7-33 15z"/><path fill="#fd3800" d="M899 3954l17-9 5-3-38-25-5 2-17 9z"/><path fill="#fe4400" d="M865 3975l17-11 17-10 5-3-38-26-5 3-17 10-17 11z"/><path fill="#ff5000" d="M848 3987l17-12 5-3-37-26-6 3-17 12z"/><path fill="#ff5e00" d="M831 4000l17-13 5-4-37-26-6 4-17 12z"/><path fill="#ff6c00" d="M814 4013l17-13 5-4-38-26-5 3-17 14z"/><path fill="#ff7a00" d="M797 4028l17-15 5-4-38-26-5 4-17 15z"/><path fill="#ff8700" d="M779 4044l18-16 5-4-38-27-5 5-17 15z"/><path fill="#ff9300" d="M762 4060l17-16 5-5-37-26-5 4-18 17z"/><path fill="#ffa000" d="M744 4078l18-18 5-5-38-26-5 5-17 18z"/></g>
<path stroke-opacity=".6" d="M695 4044l-16-10 18-18 16 11 17-17-16-10 17-16 16 10 18-14-16-10 17-14 16 10 17-13-16-10 17-12 16 10 17-10M711 4055l-16-11 18-17 16 10 17-16-16-11 17-16 17 11 17-15-16-10 17-14 16 11 17-13-16-11 17-12 16 11 17-11-16-10 17-10 16 10 17-9-16-10 16-8 17 10 16-7-16-11 16-6 17 10 16-5-16-10 16-5 16 10 17-4"/><path stroke-opacity=".55" d="M833 3931l-16-10 17-10 16 10 17-9-17-10 17-8 16 10 17-8-16-9 16-6 16 9 17-5-16-10 16-4 16 9 16-4"/><path stroke-opacity=".45" d="M965 3876l-16-9 16-3 16 9 16-2-16-9 16-1 16 8 16 0-16-9 16 0 16 9 15 1-16-9 16 2 16 8 15 2M982 3886l-17-10 16-3 17 10 16-2-17-10 16-2 16 10 16-1-16-9 16 0 16 9 15 1-16-9 16 1 16 9 15 2"/><path stroke-opacity=".25" d="M1091 3873l-16-8 15 3 16 8 15 4-16-8 15 4 16 8 15 5-16-8 15 5 16 8 15 6-16-7 14 6 16 8 15 7M1107 3882l-16-9 15 3 16 9 15 3-16-8 15 4 16 8 15 5-16-8 15 5 16 8 15 6-16-8 14 7 16 8 15 7"/><path stroke-opacity=".3" d="M1210 3914l-16-7 14 8 16 7 14 8-16-7 14 9 16 7 14 9-16-6 14 10 16 6 13 10-15-6 13 11 16 6 13 12M1226 3922l-16-8 14 8 16 7 14 9-16-8 14 9 16 7 14 10-16-8 14 10 16 7 13 10-16-7 14 11 16 7 13 11"/><path stroke-opacity=".4" d="M1320 3991l-15-7 13 12 16 6 13 12-16-5 13 12 16 6 13 13-16-6M1336 3997l-16-6 14 11 16 7 13 12-16-7 13 13 16 6 13 13-16-6"/>
<g stroke="none"><path fill="#78c800" d="M1440 4062l13 12-37-17-13-12z"/><path fill="#8cd200" d="M1427 4051l13 11 4 4-37-18-4-3-13-13z"/><path fill="#99de00" d="M1414 4039l13 12 4 3-37-18-4-4-13-11z"/><path fill="#a7ea00" d="M1387 4018l13 11 14 10 4 4-37-19-4-3-14-11-13-11z"/><path fill="#b4f600" d="M1374 4009l13 9 4 3-37-19-4-3-13-11z"/><path fill="#d7f900" d="M1360 3999l14 10 4 2-37-19-4-4-14-9z"/><path fill="#e8fa00" d="M1346 3990l14 9 4 3-37-20-4-3-14-10z"/><path fill="#f0f700" d="M1333 3982l13 8 5 3-38-21-4-3-14-9z"/><path fill="#fff000" d="M1319 3974l14 8 4 2-38-21-4-3-14-8z"/><path fill="#ffe300" d="M1305 3966l14 8 4 2-37-22-5-2-14-8z"/><path fill="#ffd500" d="M1290 3959l15 7 4 3-38-23-4-2-14-7z"/><path fill="#ffc800" d="M1276 3953l14 6 5 3-38-23-4-2-14-7z"/><path fill="#ffbb00" d="M1262 3947l14 6 4 2-37-23-4-2-15-6z"/><path fill="#ffad00" d="M1247 3942l15 5 4 2-37-23-5-2-14-6z"/><path fill="#ffa000" d="M1233 3937l14 5 5 2-38-24-4-2-15-5z"/><path fill="#ff9300" d="M1218 3933l15 4 4 2-38-24-4-2-15-4z"/><path fill="#ff8700" d="M1203 3930l15 3 4 2-37-25-5-1-15-4z"/><path fill="#ff7a00" d="M1188 3927l15 3 4 1-37-25-5-1-15-3z"/><path fill="#ff6c00" d="M1173 3925l15 2 4 1-37-25-5-1-15-3z"/><path fill="#ff5e00" d="M1142 3923l15 0 16 2 4 1-38-26-4-1-15-2-16-1z"/><path fill="#ff5000" d="M1111 3923l16-1 15 1 5 0-38-26-5-1-15 0-16 0z"/><path fill="#fe4400" d="M1064 3929l31-5 16-1 5 0-38-27-5 0-16 1-31 4z"/><path fill="#fd3800" d="M999 3948l32-11 33-8 4-1-38-27-4 0-33 8-32 10z"/><path fill="#fe4400" d="M949 3970l33-16 17-6 5-2-38-29-5 2-17 7-33 15z"/><path fill="#ff5000" d="M916 3990l16-10 17-10 5-2-38-29-5 2-17 10-17 10z"/><path fill="#ff5e00" d="M899 4001l17-11 5-3-39-29-5 3-17 10z"/><path fill="#ff6c00" d="M882 4013l17-12 5-4-39-29-5 3-17 12z"/><path fill="#ff7a00" d="M864 4025l18-12 5-4-39-29-5 3-17 13z"/><path fill="#ff8700" d="M830 4054l17-15 17-14 6-3-39-30-5 4-17 14-17 15z"/><path fill="#ff9300" d="M813 4069l17-15 5-5-38-29-5 5-18 15z"/><path fill="#ffa000" d="M795 4086l18-17 5-4-38-30-6 5-17 17z"/><path fill="#ffbb00" d="M778 4104l17-18 5-5-38-29-5 5-18 17z"/></g>
<path stroke-opacity=".6" d="M728 4066l-17-11 18-18 16 12 18-17-17-11 18-16 16 11 17-14-16-12 17-13 17 11 17-13-17-11 17-12 17 11 17-11-17-11 17-10 17 11 16-9-16-11 17-8 16 11 17-7-17-11 17-7 16 11 16-5-16-11 16-5 17 11 16-4M744 4078l-16-12 17-17 17 11 17-16-16-12 17-16 17 12 17-15-17-11 18-14 16 12 17-13-16-12 17-12 16 12 17-11-16-12 17-10 16 12 17-9-17-12 17-8 17 12 16-8-16-11 16-7 17 12 16-6-17-11 17-5 16 11 16-4"/><path stroke-opacity=".45" d="M998 3897l-16-11 16-3 16 10 16-2-16-10 15-2 17 10 16-1-17-10 16 0 16 10 16 1-17-10 16 1 16 10 15 2"/><path stroke-opacity=".3" d="M1123 3892l-16-10 15 3 17 10 15 3-17-10 15 4 17 10 14 4-16-9 15 5 16 9 15 6-16-9 14 7 16 8 15 7M1140 3902l-17-10 16 3 16 10 15 3-16-10 15 4 16 10 15 4-17-10 15 5 16 10 15 6-16-10 14 6 17 10 14 6"/><path stroke-opacity=".25" d="M1242 3930l-16-8 14 7 16 9 14 8-16-8 14 8 16 8 14 9-16-7 14 9 16 8 13 10-16-8 14 11 16 7 13 11M1258 3939l-16-9 14 8 16 9 14 8-16-9 14 8 16 9 14 9-16-9 14 10 16 8 13 10-16-8 14 10 16 8 13 11"/><path stroke-opacity=".4" d="M1352 4004l-16-7 14 12 16 7 13 11-16-6 13 12 16 7 13 12-16-6"/><path stroke-opacity=".5" d="M1014 3908l-16-11 16-4 16 12 16-3-16-11 16-2 16 11 16-1-16-11 15 0 17 11 15 0-16-10 15 1 17 10 15 2"/><path stroke-opacity=".35" d="M1368 4012l-16-8 14 12 16 7 13 12-16-8 13 13 16 7 13 12-16-7"/>
<g stroke="none"><path fill="#78c800" d="M1472 4080l13 11-37-19-13-12z"/><path fill="#8cd200" d="M1446 4058l13 11 13 11 4 3-37-20-4-3-13-12-13-11z"/><path fill="#99de00" d="M1433 4048l13 10 4 3-37-21-4-3-13-11z"/><path fill="#a7ea00" d="M1420 4038l13 10 4 3-37-22-4-3-14-10z"/><path fill="#b4f600" d="M1406 4028l14 10 4 3-38-22-4-3-13-10z"/><path fill="#c5f700" d="M1393 4020l13 8 4 3-37-22-4-3-14-10z"/><path fill="#d7f900" d="M1379 4011l14 9 4 2-38-23-4-3-13-9z"/><path fill="#e8fa00" d="M1365 4003l14 8 4 3-37-24-4-3-14-8z"/><path fill="#f7f300" d="M1351 3995l14 8 4 2-37-24-4-2-14-8z"/><path fill="#fff000" d="M1337 3988l14 7 5 3-38-25-4-2-14-8z"/><path fill="#ffe300" d="M1323 3982l14 6 5 3-38-25-4-3-14-7z"/><path fill="#ffd500" d="M1309 3976l14 6 5 2-38-26-4-2-15-6z"/><path fill="#ffc800" d="M1295 3971l14 5 4 2-37-26-5-2-14-6z"/><path fill="#ffbb00" d="M1280 3966l15 5 4 1-38-26-4-2-15-5z"/><path fill="#ffad00" d="M1266 3961l14 5 5 1-38-27-5-1-14-5z"/><path fill="#ffa000" d="M1251 3958l15 3 4 2-38-28-4-1-15-4z"/><path fill="#ff9300" d="M1221 3952l15 3 15 3 4 1-38-28-4-1-15-4-15-2z"/><path fill="#ff8700" d="M1206 3950l15 2 4 1-38-29-4 0-15-3z"/><path fill="#ff7a00" d="M1175 3949l16 0 15 1 4 1-38-29-4-1-16-1-15-1z"/><path fill="#ff6c00" d="M1144 3949l16 0 15 0 5 0-38-30-5 0-15 0-16 0z"/><path fill="#ff5e00" d="M1097 3956l32-5 15-2 5 0-38-30-5 0-16 2-31 4z"/><path fill="#ff5000" d="M1032 3976l33-12 32-8 5-1-39-31-4 1-33 8-32 11z"/><path fill="#ff5e00" d="M983 3998l33-16 16-6 5-2-38-32-5 2-17 7-33 15z"/><path fill="#ff6c00" d="M949 4018l17-10 17-10 5-2-39-32-5 2-17 10-17 10z"/><path fill="#ff7a00" d="M932 4029l17-11 5-3-38-32-6 3-16 11z"/><path fill="#ff8700" d="M898 4054l17-13 17-12 5-3-38-33-5 4-17 12-18 12z"/><path fill="#ff9300" d="M881 4067l17-13 5-4-38-32-6 3-17 14z"/><path fill="#ffa000" d="M864 4082l17-15 5-4-39-32-5 4-17 15z"/><path fill="#ffad00" d="M846 4097l18-15 5-4-39-33-5 5-17 15z"/><path fill="#ffbb00" d="M829 4114l17-17 5-4-38-32-5 4-18 17z"/><path fill="#ffc800" d="M811 4131l18-17 5-5-39-32-5 5-17 18z"/></g>
<path stroke-opacity=".6" d="M761 4091l-17-13 18-18 16 13 18-17-17-12 18-16 16 13 18-15-17-13 17-13 17 12 17-13-17-12 17-12 17 13 17-11-17-13 17-10 17 12 16-9-16-12 17-8 16 12 17-8-17-12 17-6 16 12 16-6-16-12 16-5 17 12 16-4M778 4104l-17-13 17-18 17 13 18-17-17-13 17-15 17 13 17-15-16-13 17-14 16 13 18-12-17-14 17-11 17 13 17-11-17-13 17-11 16 14 17-10-17-13 17-8 17 13 16-8-16-13 16-6 17 13 16-6-17-13 17-5 16 13 17-4"/><path stroke-opacity=".5" d="M1031 3920l-17-12 16-3 17 11 16-2-17-12 16-2 17 12 15-1-16-12 16 0 16 11 16 1-17-12 16 1 16 12 15 1M1048 3933l-17-13 16-4 17 13 15-3-16-12 16-2 16 12 16-1-17-12 16-1 17 12 15 1-16-12 15 1 16 11 16 2"/><path stroke-opacity=".35" d="M1156 3913l-16-11 15 3 16 11 15 3-16-11 15 4 16 10 15 4-16-10 14 5 17 10 14 6-16-10 15 6 16 10 14 6M1384 4020l-16-8 14 11 16 8 13 11-16-7 13 12 16 7 13 12-16-7M1173 3925l-17-12 15 3 17 11 15 3-17-11 15 3 17 11 15 4-17-11 15 5 16 11 15 5-17-10 15 6 16 10 14 6M1400 4029l-16-9 14 11 16 8 13 12-16-9 13 12 16 8 13 12-16-8"/><path stroke-opacity=".2" d="M1274 3949l-16-10 14 8 16 9 14 8-16-9 14 8 16 9 14 9-16-9 14 9 16 9 13 9-16-8 14 10 16 8 13 11M1290 3959l-16-10 14 7 17 10 14 8-17-10 14 8 17 10 13 8-16-9 14 9 16 9 14 10-17-10 14 10 16 9 13 11"/>
<g stroke="none"><path fill="#64be00" d="M1505 4099l12 11-37-21-13-12z"/><path fill="#78c800" d="M1492 4089l13 10 3 4-37-22-4-4-13-11z"/><path fill="#8cd200" d="M1479 4079l13 10 4 3-38-23-4-3-13-11z"/><path fill="#99de00" d="M1452 4060l14 9 13 10 4 3-38-24-4-3-13-10-13-10z"/><path fill="#a7ea00" d="M1439 4051l13 9 4 2-37-24-4-3-14-10z"/><path fill="#b4f600" d="M1426 4042l13 9 4 2-38-25-4-3-13-9z"/><path fill="#c5f700" d="M1412 4034l14 8 4 3-38-26-4-3-14-8z"/><path fill="#d7f900" d="M1398 4027l14 7 4 3-38-27-4-2-14-8z"/><path fill="#e8fa00" d="M1384 4020l14 7 4 2-37-27-5-2-13-8z"/><path fill="#f0f700" d="M1370 4013l14 7 5 2-38-28-4-2-15-7z"/><path fill="#fff000" d="M1356 4007l14 6 5 2-38-28-5-2-14-6z"/><path fill="#ffe300" d="M1342 4001l14 6 5 2-38-29-5-1-14-7z"/><path fill="#ffd500" d="M1313 3992l15 4 14 5 4 2-38-29-4-2-14-5-15-5z"/><path fill="#ffc800" d="M1299 3988l14 4 5 1-38-29-5-2-14-4z"/><path fill="#ffbb00" d="M1284 3985l15 3 4 1-38-30-4-1-15-4z"/><path fill="#ffad00" d="M1269 3982l15 3 5 1-39-31-4-1-15-3z"/><path fill="#ffa000" d="M1239 3978l15 2 15 2 5 1-39-31-4-1-15-3-15-2z"/><path fill="#ff9300" d="M1209 3977l15 0 15 1 5 1-39-32-4-1-15-1-16 0z"/><path fill="#ff8700" d="M1178 3979l16-1 15-1 5 0-39-32-5 0-15 0-16 0z"/><path fill="#ff7a00" d="M1033 4021l33-15 33-11 32-9 31-6 16-1 5-1-39-33-5 0-15 2-32 5-32 8-33 11-33 15z"/><path fill="#ff8700" d="M983 4049l34-20 16-8 5-3-39-35-5 3-16 8-34 20z"/><path fill="#ff9300" d="M966 4060l17-11 5-3-39-36-5 4-17 11z"/><path fill="#ffa000" d="M932 4084l17-12 17-12 5-4-39-35-5 4-17 11-17 13z"/><path fill="#ffad00" d="M915 4098l17-14 5-3-39-36-5 4-17 14z"/><path fill="#ffbb00" d="M898 4113l17-15 5-4-39-35-5 4-18 15z"/><path fill="#ffc800" d="M880 4128l18-15 5-5-39-35-6 5-17 15z"/><path fill="#ffd500" d="M863 4144l17-16 5-5-39-34-5 4-17 17z"/><path fill="#ffe300" d="M845 4162l18-18 5-4-39-35-5 5-18 17z"/></g>
<path stroke-opacity=".6" d="M794 4117l-16-13 17-18 17 14 17-17-16-14 17-15 17 14 17-15-17-14 17-14 17 14 17-13-16-13 17-12 16 13 17-11-16-13 16-10 17 13 17-9-17-14 17-8 17 14 16-8-17-14 17-6 17 13 16-6-17-13 16-5 17 13 16-4M811 4131l-17-14 18-17 17 14 17-17-17-14 18-15 17 14 17-15-17-14 17-14 17 15 17-13-17-15 17-12 17 15 17-11-17-15 17-10 17 15 17-10-17-14 17-8 16 14 17-8-17-14 17-7 16 15 17-6-17-15 16-5 17 14 16-4"/><path stroke-opacity=".5" d="M1064 3946l-16-13 16-4 16 13 16-3-17-13 16-2 17 13 16-1-17-13 16-1 16 13 16 0-17-12 15 0 17 13 15 1"/><path stroke-opacity=".4" d="M1189 3937l-16-12 15 2 16 12 15 3-16-12 15 3 16 12 15 4-16-12 14 5 17 12 14 5-16-12 14 6 17 11 14 6M1206 3950l-17-13 15 2 17 13 15 3-17-13 15 3 17 13 15 3-17-12 15 5 16 12 15 5-17-12 15 5 16 12 14 6"/><path stroke-opacity=".2" d="M1307 3970l-17-11 15 7 16 11 14 7-16-10 14 8 16 10 14 8-17-10 14 9 16 10 14 9-16-9 13 9 16 10 14 10M1323 3982l-16-12 14 7 16 11 14 7-16-11 14 8 16 11 14 8-16-11 13 9 17 11 13 8-16-10 13 10 17 10 13 10"/><path stroke-opacity=".3" d="M1417 4038l-17-9 14 10 16 9 13 11-16-8 13 11 16 9 13 11-16-8M1433 4048l-16-10 13 10 16 10 13 11-16-10 13 12 16 9 13 11-16-9"/><path stroke-opacity=".55" d="M1081 3960l-17-14 16-4 17 14 16-3-17-14 16-2 17 14 15-2-16-13 15-1 17 14 15 0-16-14 15 1 17 13 15 1"/>
<g stroke="none"><path fill="#64be00" d="M1537 4121l13 11-37-25-13-11z"/><path fill="#78c800" d="M1512 4102l13 9 12 10 4 3-37-24-4-4-13-10-13-10z"/><path fill="#8cd200" d="M1499 4093l13 9 4 3-38-26-4-3-13-10z"/><path fill="#99de00" d="M1472 4075l13 9 14 9 4 2-38-26-4-3-13-10-14-9z"/><path fill="#a7ea00" d="M1459 4067l13 8 4 3-38-28-4-3-13-8z"/><path fill="#b4f600" d="M1445 4060l14 7 4 3-38-29-4-2-14-8z"/><path fill="#c5f700" d="M1432 4053l13 7 4 2-38-29-4-2-14-8z"/><path fill="#d7f900" d="M1418 4046l14 7 4 2-39-30-4-2-14-7z"/><path fill="#e8fa00" d="M1404 4040l14 6 4 2-38-30-5-2-13-7z"/><path fill="#f0f700" d="M1390 4035l14 5 4 2-38-31-4-2-15-6z"/><path fill="#f7f300" d="M1376 4030l14 5 4 1-38-31-5-2-14-5z"/><path fill="#fff000" d="M1361 4025l15 5 4 1-39-32-4-1-14-6z"/><path fill="#ffe300" d="M1332 4017l15 4 14 4 5 1-39-32-4-2-15-4-14-4z"/><path fill="#ffd500" d="M1318 4015l14 2 5 2-39-34-4-1-15-3z"/><path fill="#ffc800" d="M1303 4012l15 3 4 0-38-33-5-1-15-3z"/><path fill="#ffbb00" d="M1273 4009l15 1 15 2 4 1-38-34-5-1-15-2-15-2z"/><path fill="#ffad00" d="M1243 4009l15 0 15 0 5 1-39-36-5 0-15-1-15 0z"/><path fill="#ffa000" d="M1196 4013l31-4 16 0 4 0-39-36-4 0-16 0-31 3z"/><path fill="#ff9300" d="M1067 4054l33-15 33-11 32-9 31-6 5-1-39-37-5 1-31 5-32 9-33 11-33 15z"/><path fill="#ffa000" d="M1034 4072l17-9 16-9 5-2-39-38-5 2-16 9-17 9z"/><path fill="#ffad00" d="M1000 4093l17-11 17-10 5-3-39-38-5 3-17 10-17 11z"/><path fill="#ffbb00" d="M966 4118l17-13 17-12 6-3-40-38-5 3-17 12-17 13z"/><path fill="#ffc800" d="M949 4131l17-13 6-4-40-38-5 4-17 13z"/><path fill="#ffd500" d="M932 4146l17-15 5-4-39-38-5 4-18 15z"/><path fill="#ffe300" d="M915 4161l17-15 5-4-39-38-6 4-17 15z"/><path fill="#fff000" d="M897 4177l18-16 5-4-40-38-5 4-17 17z"/><path fill="#f7f300" d="M880 4194l17-17 5-5-39-37-5 5-18 17z"/></g>
<path stroke-opacity=".6" d="M828 4146l-17-15 18-17 17 15 17-17-17-15 18-15 16 15 18-15-17-15 17-13 17 15 17-13-17-15 17-12 17 15 17-11-17-15 17-10 17 15 17-10-17-15 16-8 17 15 17-8-17-15 16-6 17 14 17-6-17-14 16-6 17 15 16-4M845 4162l-17-16 18-17 17 15 17-16-17-16 17-15 18 16 17-15-17-16 17-13 17 15 17-12-17-16 17-12 17 16 17-11-17-16 17-10 17 16 17-10-17-16 16-8 17 16 17-8-17-16 16-7 17 16 16-6-16-16 16-5 17 16 16-5"/><path stroke-opacity=".55" d="M1098 3975l-17-15 16-4 17 15 16-3-17-15 16-2 16 14 16-1-17-15 16 0 17 14 15 0-17-14 16 0 16 14 16 1M1115 3990l-17-15 16-4 17 15 16-3-17-15 15-3 17 15 16-1-17-15 16-1 17 15 15-1-17-14 15 0 17 14 15 1"/><path stroke-opacity=".4" d="M1223 3964l-17-14 15 2 17 14 15 2-17-13 15 3 16 13 15 3-16-13 14 5 17 13 14 4-16-12 14 5 17 12 14 6"/><path stroke-opacity=".2" d="M1340 3994l-17-12 14 6 17 12 14 7-17-12 14 8 17 12 14 7-17-11 14 9 16 11 14 8-17-11 14 10 16 11 13 9"/><path stroke-opacity=".25" d="M1449 4058l-16-10 13 10 16 10 13 11-16-10 13 11 16 9 13 12-16-10M1356 4007l-16-13 14 6 16 13 14 7-16-13 14 8 16 12 14 7-16-12 13 9 17 11 13 9-16-12 13 10 16 11 14 9-17-11 13 10 17 11 13 10-17-10 13 10 17 10 12 11-16-9"/><path stroke-opacity=".45" d="M1239 3978l-16-14 15 2 16 14 15 2-16-14 14 3 17 14 15 3-17-14 15 5 16 13 15 4-17-13 15 5 16 13 14 6"/>
<g stroke="none"><path fill="#50b400" d="M1571 4145l12 10-38-27-12-10z"/><path fill="#64be00" d="M1558 4136l13 9 3 3-38-27-3-3-13-10z"/><path fill="#78c800" d="M1532 4118l13 9 13 9 4 3-38-28-4-3-13-10-13-9z"/><path fill="#8cd200" d="M1519 4110l13 8 4 3-38-29-4-3-13-9z"/><path fill="#99de00" d="M1492 4095l13 7 14 8 4 3-39-30-3-3-14-8-13-8z"/><path fill="#a7ea00" d="M1465 4082l14 6 13 7 4 2-38-31-4-2-14-8-13-7z"/><path fill="#b4f600" d="M1451 4076l14 6 4 2-38-33-4-2-14-7z"/><path fill="#c5f700" d="M1437 4070l14 6 4 1-38-33-4-2-14-6z"/><path fill="#d7f900" d="M1423 4065l14 5 5 2-39-34-4-2-14-6z"/><path fill="#e8fa00" d="M1409 4060l14 5 5 1-39-34-4-2-14-5z"/><path fill="#f0f700" d="M1395 4056l14 4 4 2-38-35-4-2-15-4z"/><path fill="#f7f300" d="M1366 4050l15 3 14 3 4 1-38-35-5-1-14-4-15-4z"/><path fill="#fff000" d="M1352 4047l14 3 5 0-39-36-5-1-14-3z"/><path fill="#ffe300" d="M1337 4045l15 2 4 1-39-37-4-1-15-2z"/><path fill="#ffd500" d="M1307 4043l15 1 15 1 4 1-39-38-4 0-15-2-15-2z"/><path fill="#ffc800" d="M1262 4044l30-1 15 0 5 0-39-38-5-1-15 0-31 0z"/><path fill="#ffbb00" d="M1215 4051l31-5 16-2 4 0-39-40-5 0-15 2-32 4z"/><path fill="#ffad00" d="M1135 4076l32-12 32-10 16-3 5-1-40-40-5 0-15 4-32 9-33 11z"/><path fill="#ffbb00" d="M1069 4109l33-18 33-15 5-2-40-42-5 2-33 15-33 18z"/><path fill="#ffc800" d="M1035 4130l17-11 17-10 5-3-40-42-5 3-17 10-17 11z"/><path fill="#ffd500" d="M1001 4154l17-13 17-11 5-4-40-41-5 3-17 12-17 13z"/><path fill="#ffe300" d="M984 4167l17-13 5-4-40-41-5 4-17 13z"/><path fill="#fff000" d="M967 4182l17-15 5-4-40-41-5 4-17 15z"/><path fill="#f7f300" d="M949 4197l18-15 5-5-40-41-5 5-18 15z"/><path fill="#f0f700" d="M932 4213l17-16 5-5-39-40-6 4-17 16z"/><path fill="#e8fa00" d="M914 4230l18-17 5-5-40-41-5 5-18 17z"/></g>
<path stroke-opacity=".6" d="M862 4178l-17-16 18-18 17 17 17-17-17-16 18-15 17 16 17-15-17-16 17-14 17 17 17-13-17-16 17-12 17 16 17-11-17-16 17-10 17 16 17-9-17-17 16-8 17 16 17-8-17-16 16-7 17 16 17-6-18-16 17-5 17 16 16-5M880 4194l-18-16 18-17 17 16 18-16-18-17 18-15 17 17 17-15-17-17 17-13 17 17 17-13-17-17 17-12 17 17 17-11-17-17 17-10 17 17 17-9-17-17 16-9 17 17 17-8-17-17 16-7 17 17 17-6-17-17 16-5 17 17 16-5-17-17 16-4 17 17 16-4-17-16 15-3 17 17 16-2-17-17 15-1 17 16 16 0-17-16 15 0 17 16 15 0"/><path stroke-opacity=".55" d="M1132 4006l-17-16 16-4 17 16 16-3-17-16 15-3 17 16 16-2-17-15 16-1 16 15 16 0-17-16 15 0 17 16 15 0"/><path stroke-opacity=".45" d="M1256 3993l-17-15 15 2 17 15 15 2-17-15 15 3 17 14 15 3-17-14 14 4 17 14 15 4-17-14 14 5 17 14 14 6M1273 4009l-17-16 15 2 17 15 15 2-17-15 15 2 17 16 14 2-16-15 14 4 17 15 14 4-16-15 14 5 17 15 14 5"/><path stroke-opacity=".25" d="M1373 4021l-17-14 14 6 17 13 14 7-17-13 14 7 17 13 14 7-17-13 14 8 16 13 14 8-17-12 13 9 17 11 13 9"/><path stroke-opacity=".2" d="M1482 4080l-16-11 13 10 16 11 13 10-16-11 13 10 16 11 13 11-17-11"/><path stroke-opacity=".3" d="M1390 4035l-17-14 14 5 17 14 14 6-17-13 14 7 17 13 13 7-16-13 13 8 17 12 13 8-16-12 13 8 16 13 14 9"/><path stroke-opacity=".15" d="M1499 4093l-17-13 13 10 17 12 13 9-17-11 13 10 16 11 13 11-16-11"/>
<g stroke="none"><path fill="#50b400" d="M1591 4163l13 8 12 9-38-29-12-9-13-10z"/><path fill="#64be00" d="M1578 4154l13 9 4 2-38-30-4-3-13-9z"/><path fill="#78c800" d="M1552 4139l13 8 13 7 4 3-38-31-4-3-13-9-13-8z"/><path fill="#8cd200" d="M1526 4125l13 7 13 7 4 2-38-32-4-3-14-8-13-7z"/><path fill="#99de00" d="M1499 4113l13 6 14 6 4 2-39-34-4-2-13-7-14-7z"/><path fill="#a7ea00" d="M1471 4102l14 5 14 6 4 2-39-36-4-2-14-6-14-6z"/><path fill="#b4f600" d="M1457 4098l14 4 4 2-39-37-4-2-14-5z"/><path fill="#c5f700" d="M1443 4094l14 4 4 1-38-37-5-2-14-4z"/><path fill="#d7f900" d="M1415 4087l14 3 14 4 4 1-39-38-4-1-14-5-14-3z"/><path fill="#e8fa00" d="M1400 4084l15 3 4 1-39-39-4-1-15-3z"/><path fill="#f0f700" d="M1386 4082l14 2 5 1-40-39-4-1-14-3z"/><path fill="#f7f300" d="M1356 4080l15 1 15 1 4 1-39-40-4-1-15-2-15-1z"/><path fill="#fff000" d="M1326 4079l15 0 15 1 5 0-40-41-4 0-15-1-15-1z"/><path fill="#ffe300" d="M1281 4083l30-3 15-1 5 0-40-42-4 0-15 1-31 2z"/><path fill="#ffd500" d="M1137 4130l33-15 32-13 32-9 31-7 16-3 4 0-39-43-5 0-16 2-31 7-32 9-32 12-33 15z"/><path fill="#ffe300" d="M1087 4158l33-20 17-8 5-3-40-44-5 2-17 9-33 19z"/><path fill="#fff000" d="M1053 4180l17-11 17-11 5-3-40-45-5 3-17 11-17 12z"/><path fill="#f7f300" d="M1036 4193l17-13 5-3-40-45-5 4-17 13z"/><path fill="#f0f700" d="M1002 4220l17-14 17-13 5-4-40-44-5 4-17 13-18 14z"/><path fill="#e8fa00" d="M984 4235l18-15 5-4-40-44-6 4-17 15z"/><path fill="#d7f900" d="M967 4251l17-16 5-4-40-44-5 4-17 16z"/><path fill="#c5f700" d="M949 4267l18-16 5-5-40-43-5 4-18 17z"/></g>
<path stroke-opacity=".6" d="M897 4212l-17-18 17-17 17 18 18-16-17-18 17-15 17 17 17-14-17-18 17-13 18 18 17-13-18-18 17-12 18 18 17-11-18-18 17-10 17 18 17-9-17-18 16-9 18 18 16-8-17-18 16-7 18 18 16-6-17-18 16-5 17 17 16-5-17-17 16-4 17 17 16-3-17-18 15-2 17 17 16-2-17-17 15-2 17 17 16-1-17-16 15 0 17 16 15 1M914 4230l-17-18 17-17 18 18 17-16-17-18 17-16 18 19 17-15-18-18 18-13 17 18 17-13-17-18 17-12 17 19 17-11-17-19 16-10 18 19 16-10-17-18 17-9 17 19 16-8-17-19 17-7 17 19 16-7-17-18 16-6 17 19 16-5-17-19 16-4 17 18 16-3-17-18 15-3 18 18 15-2-17-18 15-2 18 18 15-1-17-18 15 0 17 18 15 0"/><path stroke-opacity=".5" d="M1290 4026l-17-17 15 1 17 17 15 1-17-16 15 3 17 15 14 3-17-16 15 4 17 15 14 4-17-15 15 5 16 15 15 4M1307 4043l-17-17 15 1 17 17 15 1-17-17 15 2 17 17 14 3-17-17 15 3 17 17 14 3-17-16 14 5 17 15 14 5"/><path stroke-opacity=".3" d="M1407 4049l-17-14 14 5 17 15 13 6-16-15 14 7 16 14 14 7-17-14 14 7 16 14 14 8-17-14 13 9 17 13 13 8"/><path stroke-opacity=".15" d="M1515 4105l-16-12 13 9 16 12 13 9-16-12 12 10 17 12 13 10-17-11M1532 4118l-17-13 13 9 17 13 13 9-17-13 13 10 17 12 12 10-16-12"/><path stroke-opacity=".35" d="M1423 4065l-16-16 14 6 16 15 14 6-17-15 14 6 17 15 14 6-17-14 13 7 17 14 13 7-16-13 13 8 17 13 13 8"/>
<path stroke-opacity=".6" d="M932 4248l-18-18 18-17 17 18 18-15-18-19 18-15 17 19 17-15-17-19 17-13 18 19 17-12-18-20 17-11 18 19 16-11-17-19 17-10 17 19 17-10-18-19 17-8 17 19 17-8-18-19 17-7 17 19 16-7-17-19 16-5 17 19 16-5-17-19 16-5 17 19 16-3-17-19 16-3 17 19 15-3-17-18 16-2 17 18 15-1-17-18 15 0 17 18 15 0M949 4267l-17-19 17-17 18 20 17-16-17-19 17-15 18 19 17-14-18-20 18-13 17 20 17-13-17-19 17-12 17 20 17-11-18-20 17-10 18 20 16-10-17-20 16-8 18 20 16-8-17-20 16-7 18 20 16-7-18-20 16-5 18 19 16-5-18-19 16-5 18 20 15-4-17-19 16-3 17 19 16-3-18-19 16-2 17 19 15-1-17-19 15 0 17 18 15 0"/><path stroke-opacity=".5" d="M1324 4061l-17-18 15 1 17 17 15 2-17-18 15 2 17 17 14 3-17-17 15 3 17 17 14 3-17-17 14 4 17 17 14 4M1341 4079l-17-18 15 0 17 19 15 1-17-18 15 1 17 18 14 2-17-17 15 3 17 17 14 3-17-17 14 4 17 17 14 4"/><path stroke-opacity=".35" d="M1440 4081l-17-16 14 5 17 16 14 5-17-15 14 6 17 15 13 6-16-15 13 7 17 15 13 7-17-15 14 8 16 14 14 8"/><path stroke-opacity=".2" d="M1549 4132l-17-14 13 9 17 13 12 9-16-13 13 9 16 13 13 9-17-12"/><path stroke-opacity=".4" d="M1457 4098l-17-17 14 5 17 16 14 5-17-16 14 6 17 16 13 6-17-16 14 7 17 15 13 7-17-15 13 7 17 15 13 8"/><path stroke-opacity=".25" d="M1565 4147l-16-15 13 8 16 14 13 9-17-14 13 9 17 13 12 9-16-13"/>
<path d="M1571 4145l12 10M1571 4145l-17-12M1541 4123l13 10M1541 4123l-16-12M1512 4102l13 9M1512 4102l-17-12M1482 4080l13 10M1482 4080l-16-11M1452 4060l14 9M1452 4060l-16-11M1423 4039l13 10M1423 4039l-17-11M1393 4020l13 8M1393 4020l-17-11M1363 4000l13 9M1363 4000l-17-10M1333 3982l13 8M1333 3982l-17-10M1302 3964l14 8M1302 3964l-16-9M1272 3947l14 8M1272 3947l-16-9M1242 3930l14 8M1242 3930l-16-8M1211 3915l15 7M1211 3915l-16-8M1195 3907l-16-8M1165 3893l14 6M1165 3893l-16-7M1134 3879l15 7M1134 3879l-16-6M1103 3867l15 6M1103 3867l-15-6M1073 3856l15 5M1073 3856l-16-6M1042 3845l15 5M1042 3845l-16-5M1026 3840l-15-4M995 3832l16 4M995 3832l-15-4M965 3824l15 4M965 3824l-16-3M934 3817l15 4M934 3817l-16-3M903 3812l15 2M903 3812l-15-2M872 3808l16 2M872 3808l-15-2M857 3806l-15-2M826 3803l16 1M826 3803l-15-1M795 3802l16 0M795 3802l-15-1M764 3801l16 0M764 3801l-14 0M734 3802l16-1M734 3802l-15 1M719 3803l-15 1M688 3805l16-1M688 3805l-14 2M658 3809l16-2M658 3809l-15 2M627 3814l16-3M627 3814l-14 2M597 3820l16-4M597 3820l-14 2M583 3822l-14 4M552 3830l17-4M552 3830l-14 4M522 3839l16-5M522 3839l-14 4M492 3848l16-5M492 3848l-14 5M461 3859l17-6M461 3859l-13 5M448 3864l-13 5M418 3876l17-7M418 3876l-13 6" stroke-opacity="0.75" stroke-width="6.5" stroke-linecap="round"/>
<path d="M949 4267l18-16 17-16 18-15 17-14 17-13 17-13 17-11 17-11 17-10 16-10 17-8 16-8 17-7 16-7 16-6 16-5 16-4 15-4 16-3 16-3 15-2 15-1 15-1 15 0 15 1 15 1 15 1 14 2 15 3 14 3 14 4 14 4 14 4 14 5 14 6 13 6 14 6 13 7 13 7 13 8 13 7 13 9 13 8 12 9M949 4267l-17-19-18-18-17-18-17-18-18-16-17-16-17-16-17-15-17-14-16-13-17-13-17-13-16-12-17-11-16-11-16-10-16-9-16-9-16-9-16-8-15-7-16-7-15-6-16-6-15-5-15-5-15-4-15-3-15-3-14-3-15-2-14-1-15-1-14-1-14 0-14 0-14 1-14 2-13 2-14 2-13 3-13 3-14 3-13 5" stroke-opacity="0.8" stroke-width="4"/>
</g>
<circle cx="189.3" cy="764" r="1.5" fill="#e00000"/>
<circle cx="189.3" cy="766.9" r="1.8" fill="#b8acb0" stroke="#7a5a60" stroke-width=".5"/>
<text transform="translate(48.5 768.2) scale(1 0.86)" font-size="11.8" text-anchor="end">99</text>
<text transform="translate(50 801.6) scale(1 0.86)" font-size="11.8" text-anchor="end">93</text>
<text transform="translate(51.1 836) scale(1 0.86)" font-size="11.8" text-anchor="end">87</text>
<text transform="translate(53.1 867.3) scale(1 0.86)" font-size="11.8" text-anchor="end">81</text>
<text transform="translate(55 902) scale(1 0.86)" font-size="11.8" text-anchor="end">75</text>
<text transform="translate(51.1 947.4) scale(1 0.86)" font-size="11.8" text-anchor="middle">65</text>
<text transform="translate(80.3 964.9) scale(1 0.86)" font-size="11.8" text-anchor="middle">62.5</text>
<text transform="translate(115.9 979.8) scale(1 0.86)" font-size="11.8" text-anchor="middle">60</text>
<text transform="translate(142.2 996.4) scale(1 0.86)" font-size="11.8" text-anchor="middle">57.5</text>
<text transform="translate(176.6 1011.6) scale(1 0.86)" font-size="11.8" text-anchor="middle">55</text>
<text transform="translate(196 1012) scale(1 0.86)" font-size="11.8" text-anchor="middle">10</text>
<text transform="translate(225.3 998.7) scale(1 0.86)" font-size="11.8" text-anchor="middle">11</text>
<text transform="translate(257.4 983.9) scale(1 0.86)" font-size="11.8" text-anchor="middle">12</text>
<text transform="translate(289.3 968.1) scale(1 0.86)" font-size="11.8" text-anchor="middle">13</text>
<text transform="translate(320.8 951.7) scale(1 0.86)" font-size="11.8" text-anchor="middle">14</text>
<text transform="translate(91.1 851.2)" font-size="18.6" text-anchor="middle">(e)</text>
<text transform="translate(9.9 839.1) rotate(-90)" font-size="12.8" text-anchor="middle">Biodiesel yield (%)</text>
<text transform="translate(74.8 1005.1) rotate(29) skewX(-7) scale(0.94 1)" font-size="12.4" text-anchor="middle">D: Temperature (<tspan dy="-4.6" font-size="8.6">0</tspan><tspan dy="4.6">C)</tspan></text>
<text transform="translate(280.2 1014.3) rotate(-26.9) scale(0.94 1)" font-size="12.4" text-anchor="middle">B: MeOH/WCO molar ratio</text>
</g>
<g id="p_f">
<polygon points="530.4,1000.4 658.8,938.6 530.3,890.8 401.6,939" fill="#ffff00"/>
<path d="M499.7 985.8 503.3 984.1 506.9 982.4 510.3 980.7 513.6 979 516.8 977.2 520 975.4 521.5 974.5 524.5 972.7 527.4 970.9 529.4 969.6 531.6 968.1 534.2 966.2 535.8 965.2 538.1 963.4 540.6 961.5 541.8 960.6 544.2 958.7 545.4 957.8 547.6 955.8 548.9 954.8 550.9 953 552.2 951.9 554.1 950.1 555.2 949.1 557.1 947.2 558.1 946.3 560 944.4 560.9 943.4 562.8 941.5 563.7 940.5 565.1 939 566.3 937.7 567.1 936.7 568.8 934.8 569.6 933.9 571 932.3 572 931.1 572.8 930.1 574.3 928.2 575.1 927.3 576 926.1 577.3 924.5 578 923.6 579.1 922.2 580.1 920.8 580.8 919.9 581.9 918.4 582.8 917.2 583.5 916.3 584.6 914.7 585.4 913.5 586 912.6" fill="none" stroke="#ffb000" stroke-opacity=".75" stroke-width="0.4"/>
<path d="M407.3 936.9 405.8 937.9 403.8 939.4" fill="none" stroke="#ffb000" stroke-opacity=".75" stroke-width="0.4"/>
<path d="M574.6 979.2 576.9 977.3 579.4 975.4 580.6 974.4 582.9 972.4 584.5 971.1 586.4 969.4 588.6 967.5 589.7 966.5 591.9 964.5 592.9 963.5 595 961.6 596 960.6 598.1 958.7 599.1 957.7 601 955.7 602 954.8 603.9 952.9 604.9 951.9 606.8 950 607.7 949 609.5 947.2 610.4 946.2 612.2 944.4 613.1 943.4 614.9 941.6 615.7 940.7 617.5 938.8 618.3 937.9 620.1 936.1 620.9 935.2 622.6 933.4 623.4 932.5 625.1 930.8 626 929.9 627.6 928.2 628.5 927.3" fill="none" stroke="#a0f800" stroke-opacity=".75" stroke-width="0.45"/>
<path d="M635.9 949.7 637.5 947.8 638.4 946.9 640.1 945 640.9 944.1 642.6 942.3 643.5 941.3 645.1 939.5 646 938.6 647.6 936.8 648.4 935.9" fill="none" stroke="#50e800" stroke-opacity=".75" stroke-width="0.45"/>
<path d="M401.6 939L393.1 762.4M393.1 762.4L530.4 732.2M530.4 732.2L667.5 762.5M667.5 762.5L658.8 938.6M530.4 732.2L530.3 890.8" fill="none" stroke="#000" stroke-opacity=".75" stroke-width=".6"/>
<path d="M530.4 1000.4L528.7 999.6M565.8 983.4L564.1 982.6M598.9 967.5L597.1 966.7M629.8 952.6L628.1 951.9M658.8 938.6L657.1 938M530.4 1000.4L532.2 999.6M494.9 983.5L496.7 982.7M461.8 967.7L463.5 967M430.7 952.9L432.5 952.2M401.6 939L403.3 938.4" fill="none" stroke="#000" stroke-opacity=".6" stroke-width=".7"/>
<g transform="scale(.2)" fill="none" stroke="#000" stroke-opacity="0.6" stroke-width="3" stroke-linejoin="round">
<path d="M1974 3984l15-10 16-10 16-10 15-9 15-8 16-8 15-8 15-8 16-8 15-7 15-6 15-7 15-6 15-6 14-6 15-5 15-5 14-5 15-5 14-4 15-4 14-4 14-4 14-4 15-3 14-4 14-3 13-3 14-2 14-3 14-2 13-3 14-2 13-2 14-2 13-2 13-2 14-1 13-2 13-1 13-2 13-1 13-1 12-2 13-1 13-1 12-1 13-1M3305 4470l-14-34-14-34-14-32-14-32-14-30-14-30-14-29-14-28-14-26-14-26-14-25-14-25-14-23-14-22-14-22-14-20-14-20-14-19-14-18-14-17-14-16-13-16-14-14-14-14-14-13-14-12-13-12-14-11-14-10-13-9-14-8-13-8-14-7-13-6-14-6-13-5-13-4-13-4-14-3-13-2-13-2-13-1-12-1-13 0-13 1-13 1-12 2-13 2" stroke-opacity="0.8" stroke-width="6"/>
<g stroke="none"><path fill="#ff3700" d="M2652 3777l38-2-38 5-38 3z"/><path fill="#ff2e00" d="M2535 3787l40-4 39-3 38-3 4 0-38 6-4 0-38 4-39 4-40 5z"/><path fill="#fd2600" d="M2194 3861l45-15 44-14 44-11 43-10 42-8 42-6 41-6 40-4 4-1-38 10-4 0-40 6-41 7-41 8-43 10-42 12-44 13-44 15-44 18z"/><path fill="#ff2e00" d="M2118 3893l46-20 30-12 5-1-37 23-4 2-30 13-46 23z"/><path fill="#ff3700" d="M2056 3923l47-23 15-7 5-2-36 27-5 3-15 8-46 25z"/><path fill="#ff3f00" d="M2025 3941l15-9 16-9 5-2-36 31-4 2-16 10-16 10z"/><path fill="#ff4800" d="M2009 3950l16-9 4-3-35 33-5 3-15 10z"/></g>
<g stroke="none"><path fill="#ff2e00" d="M2665 3777l38-1 25-1-42 0-25 2-38 2z"/><path fill="#fd2600" d="M2547 3785l40-3 39-3 39-2 4 0-42 2-4 0-39 3-40 4-40 4z"/><path fill="#fc1e00" d="M2171 3866l46-17 45-14 44-12 44-10 44-9 42-7 42-5 41-5 28-2 4-1-43 6-4 0-27 4-41 6-42 7-42 9-43 10-44 12-44 15-45 16-46 19z"/><path fill="#fd2600" d="M2077 3907l47-22 47-19 4-2-41 22-4 2-46 22-47 25z"/><path fill="#ff2e00" d="M2045 3924l16-9 16-8 5-2-40 27-5 3-16 9-16 9z"/></g>
<path stroke-opacity=".3" d="M1985 3972l-11 12 15-10 12-12 16-10-12 12 16-10 11-11 16-8-12 10 15-8 12-11 16-8-12 11 15-8 12-11 15-7"/><path stroke-opacity=".25" d="M2109 3903l-12 10 16-8 12-9 15-7-12 9 15-6 12-9 15-6-12 8 15-6 12-8 15-6-12 8 14-6 12-7 15-6-12 8 15-5 12-8 15-4-13 7 15-5 12-7 15-4-13 7 15-4 12-7 14-4-12 7 14-4 13-6 14-4M1997 3960l-12 12 16-10 12-11 15-9-11 10 15-9 12-10 16-8-12 10 15-9 12-10 16-7-12 9 15-8 12-9 15-7-12 9 16-7 12-9 15-6-12 8 15-6 12-8 15-6-12 8 15-6 12-8 15-6-12 8 14-5 13-8 15-5M2009 3950l-12 10 16-9 12-10 15-9-12 10 16-9 12-10 16-8-12 10 15-9 12-9 16-7-12 9 15-8 12-8 16-7-13 8 16-7 12-8 15-6-12 8 15-6 12-8 15-6-12 8 15-6 12-7 15-5-12 6 15-5 12-6 15-5"/><path stroke-opacity=".2" d="M2345 3821l-13 6 15-3 12-6 14-3-12 5 14-3 12-5 14-3-13 5 14-2 13-5 13-3-12 5 14-2 12-5 14-2-13 4 14-2 12-4 14-2-13 4 14-2 12-4 14-2-13 4 13-2 13-3 13-2-12 4 13-2 12-3 13-2M2242 3847l-13 7 15-5 12-6 15-5-12 7 14-5 12-6 15-4-12 6 14-4 12-6 15-3-13 5 15-3 12-6 14-3-12 5 14-3 12-5 14-3-12 5 14-3 12-5 14-2-12 4 14-2 12-5 14-2-13 4 14-2 13-4 13-2-12 4 13-2 13-4 13-2-12 4 13-2 13-3 13-2-12 3 13-1 13-3 13-2-13 3 13-1 13-3 13-1M2254 3841l-12 6 14-4 13-6 14-5-12 6 14-4 13-6 14-3-12 5 14-4 13-5 14-3-12 5 14-4 13-5 14-3-13 5 14-3 13-4 14-3-13 4 14-3 13-4 14-2-13 4 14-3 13-3 14-2-13 3 14-2 12-3 14-2"/><path stroke-opacity=".15" d="M2562 3786l-12 4 13-2 12-3 13-1-12 3 13-1 12-3 13-1-13 2 13-1 13-2 12-1-12 2 12-1 13-2 13-1-13 2M2575 3784l-13 2 13-1 13-2 13-1-13 2 13-1 13-2 13-1-13 2 13-1 12-2 13-1-13 2 13-1 13-2 12-1-12 2M2481 3793l-13 3 14-2 13-3 13-1-13 2 14-1 13-3 13-1-13 2 14-1 12-3 13-1-12 2 13-1 13-2 13-1"/><path stroke-opacity=".1" d="M2588 3782l-13 2 13-1 13-2 13-1-13 2 13-1 13-2 12-1-12 2 12-1 13-2 13-1-13 2 13-1 12-1 13-1-13 1"/>
<g stroke="none"><path fill="#ff2e00" d="M2742 3781l13-1 12 0-42-5-13 0-13 1z"/><path fill="#fd2600" d="M2652 3783l39-1 39-1 12 0 4-1-43-4-4 0-12 0-39 2-39 2z"/><path fill="#fc1e00" d="M2531 3789l41-3 40-2 40-1 4-1-43-2-4 0-40 3-40 3-41 4z"/><path fill="#fa1600" d="M2375 3809l43-7 43-6 42-5 28-2 4 0-43 1-4 0-28 4-42 6-43 8-43 9z"/><path fill="#f91300" d="M2300 3826l45-11 30-6 4 0-43 7-4 1-29 7-45 12z"/><path fill="#fa1600" d="M2162 3870l47-17 46-15 45-12 5-1-42 10-5 1-45 15-46 17-47 19z"/><path fill="#fc1e00" d="M2083 3905l48-22 31-13 5-2-42 17-5 2-31 15-47 24z"/></g>
<path stroke-opacity=".2" d="M2021 3940l-12 10 16-9 12-10 16-8-13 9 16-9 12-8 16-8-12 8 15-8 12-8 16-7-12 8 15-7 12-8 16-7-12 8 15-7 12-7 15-6-12 7 15-6 13-7 15-5-13 6 15-5 13-6 15-5-13 6 15-5 13-6 14-4-12 5 15-4 12-6 15-4-13 5 15-4 12-5 15-3-13 5 15-4 12-4 15-4-13 5 15-4 12-4 14-3M2033 3932l-12 8 16-9 12-8 16-8-12 8 15-8 12-8 16-8-12 8 15-8 13-7 15-7-12 7 15-7 13-7 15-6-12 6 15-6 13-6 15-6-13 6 16-6 12-6 15-5-12 6 15-5 12-6 15-5-12 6 15-5 12-5 15-4"/><path stroke-opacity=".15" d="M2382 3807l-12 4 14-2 13-4 14-3-13 4 14-3 13-3 14-2-13 3 14-2 13-3 13-2-12 3 13-2 13-3 14-2-13 3 14-2 12-2 14-2-13 3 14-2 12-2 14-1-13 2 13-2 13-2 13-1-13 2 14-1 12-2 13-1M2279 3831l-13 5 15-5 13-4 14-4-12 4 14-4 13-4 15-3-13 4 14-3 13-4 15-3-13 3 14-3 13-3 14-3-13 3 15-2 12-3 14-3-12 3 14-2 12-3 14-2-12 3 14-2 12-3 14-1-13 2 14-2 13-2 14-2M2045 3924l-12 8 16-9 12-8 16-8-12 8 15-8 13-7 16-8-13 7 16-7 12-7 16-7-13 7 16-7 12-6 16-6-13 6 16-6 12-6 15-6-12 6 15-6 13-5 15-5-13 5 15-5 13-5 15-4-13 4 15-4 13-4 15-4M2626 3779l-13 1 13-1 13 0 13-1-13 0 13-1 13 0 13 0-13 0 13-1 13 0 12 0-13-1 13 0 13 0 12 0-12-1"/><path stroke-opacity=".05" d="M2600 3780l-12 2 13-1 12-2 13 0-12 1 13-1 12-1 13-1-13 1 13-1 13-1 13 0-13 0 12 0 13-1 13-1-13 1"/><path stroke-opacity=".1" d="M2507 3788l-13 2 13-1 13-2 14-1-13 1 13-1 13-2 13-1-12 2 13-2 13-1 13-1-13 1 13-1 13-1 13 0-13 0 13-1 13 0 13-1-13 1 13-1 13-1 13 0-13 0 13-1 13 0 12-1-12 1 12-1 13 0 13-1-13 0M2292 3827l-13 4 15-4 12-4 15-4-13 4 15-4 13-3 14-3-12 3 14-3 13-3 14-3-12 3 14-3 13-3 14-2-13 2 14-2 13-3 14-2-13 2 14-2 13-2 14-2-13 2 14-2 13-1 14-2-13 2 14-2 13-2 13-1-12 1 13-1 13-1 14-1-13 1 13-2 13 0 13-1-13 0 14-1 13 0 13-1-13 0 13-1 13 0 13-1"/>
<g stroke="none"><path fill="#ff2e00" d="M2795 3791l12 0-43-12-13 1z"/><path fill="#fd2600" d="M2705 3791l39 0 38 0 13 0 3 0-43-11-4 0-13 0-38 1-39 1z"/><path fill="#fc1e00" d="M2612 3792l40-1 40 0 13 0 4 0-44-9-4 0-13 0-39 2-41 2z"/><path fill="#fa1600" d="M2529 3797l42-3 41-2 4 0-44-6-4 0-41 3-42 4z"/><path fill="#f91300" d="M2472 3802l43-4 14-1 4-1-43-4-5 1-14 1-42 6z"/><path fill="#f71100" d="M2201 3863l47-16 46-13 46-11 45-9 44-7 43-5 5-1-44-2-4 1-44 7-44 9-44 10-46 13-46 15-47 17z"/><path fill="#f91300" d="M2153 3881l48-18 5-2-43 9-5 1-47 21z"/><path fill="#fa1600" d="M2121 3895l16-7 16-7 5-2-42 11-5 2-16 7-16 8z"/></g>
<path stroke-opacity=".1" d="M2058 3917l-13 7 16-9 13-6 15-8-12 6 16-7 12-7 16-7-12 6 15-7 13-6 15-6-12 5 15-6 13-5 15-6-12 5 15-6 13-5 15-5-13 4 16-5 12-4 16-5-13 4 15-5 13-4 15-4-13 4 15-4 13-4 14-4M2421 3800l-13 2 14-3 13-1 14-2-13 1 14-2 13-1 14-2-13 1 14-1 13-2 14-1-13 1 14-2 13 0 13-2M2070 3911l-12 6 16-8 12-6 16-8-13 6 16-8 13-5 16-7-13 5 16-7 12-5 16-6-13 5 16-6 13-5 15-6-13 5 16-6 13-4 15-5-13 4 15-5 13-4 15-5-12 4 15-5 12-3 16-4-13 3 15-4 12-3 15-4-13 3 15-4 13-2 15-3-13 2 15-3 13-2 14-3-13 2 15-3 13-2 14-2-13 1 15-2 13-1 14-3"/><path stroke-opacity=".05" d="M2304 3823l-12 4 14-4 13-4 15-3-13 3 15-3 13-3 14-3-13 3 15-3 13-3 14-3-13 3 15-3 13-2 14-2"/><path stroke-opacity=".15" d="M2532 3786l-13 1 14-1 13-1 13-1-12 1 13-1 13-1 13-1-13 1 14-1 13 0 13-1-13 0 13-1 13 0 13 0-13-1 13 0 13 0 13 0-13-1 13-1 13 1 13 0-13-1 13-1 13 1 12 0-13-1 13-1 13 1 12 0-13-1M2434 3798l-13 2 14-2 13-2 14-1-13 1 14-2 13-1 14-2-13 1 14-2 13 0 14-1-13 0 14-1 13-1 13-1-13 0 14-1 13 0 14-1-14 0 14-1 13 1 13-1-13-1 14 0 13 0 13 0-13-1 13-1 13 1 13 0M2083 3905l-13 6 16-8 13-5 16-8-13 5 16-7 13-5 15-6-12 4 15-7 13-4 16-6-13 4 16-6 12-4 16-5-13 3 16-5 12-3 16-5-13 3 15-5 13-3 15-4-13 2 15-4 13-2 15-4-12 2 14-4 13-2 15-4-13 2 15-3 13-2 15-3-13 2 15-3 13-2 14-2-13 1 15-3 13-1 14-2-13 1 15-2 13-1 14-2-13 0 14-2 13 0 14-2-13 1 14-2 13 0 14-2-13 0 14-1 13 0 14-1-13 0 14-2 13 1 13-1"/><path stroke-opacity=".2" d="M2652 3781l-13-1 13-1 13 1 13 0-13-1 13-1 13 1 13 0-13-1 13-1 13 2 12-1-13-1 13-1 13 2 12 0-13-2M2558 3787l-13-1 14-1 13 1 14-1-13-1 13 0 13 1 13-1-13-1 14-1 13 1 13 0-13-1 13-1 13 2 13-1-13-1 13-1 13 2 13 0-13-2 13-1 13 2 13 0-13-2 13 0 13 2 12 0-13-3 13 0 13 2 12 0-13-2"/>
<g stroke="none"><path fill="#ff2e00" d="M2822 3807l13 1 12 0-44-18-12 0-13 0z"/><path fill="#fd2600" d="M2745 3806l39 0 38 1 4 0-44-17-4 0-38 0-39 0z"/><path fill="#fc1e00" d="M2666 3805l40 0 39 1 4 0-44-16-4 0-39 0-41 1z"/><path fill="#fa1600" d="M2597 3806l42-1 27 0 4 0-45-14-4 0-27 1-41 2z"/><path fill="#f91300" d="M2541 3808l43-2 13 0 5 0-45-12-4 0-14 1-42 3z"/><path fill="#f71100" d="M2498 3812l43-4 5 0-45-10-4 0-43 5z"/><path fill="#f60e00" d="M2410 3823l45-7 43-4 5-1-45-8-4 0-44 6-44 8z"/><path fill="#f30b00" d="M2273 3853l46-12 46-10 45-8 5-1-45-6-4 1-45 10-46 11-46 14z"/><path fill="#f60e00" d="M2193 3880l48-17 32-10 4-1-44-1-4 1-32 11-47 19z"/><path fill="#f71100" d="M2161 3892l16-6 16-6 5-2-44 2-4 2-16 6-17 8z"/></g>
<path stroke-opacity=".2" d="M2095 3901l-12 4 16-7 13-5 16-7-13 4 16-7 12-3 16-7-13 4 16-7 13-3 16-6-13 3 15-6 13-3 16-5-13 3 15-5 13-3 16-5-13 3 15-5 13-2 15-4-13 2 15-4 13-2 16-4-14 2 15-4 14-1 14-4-13 1 15-3 13-1 15-3-13 1 15-3 13 0 14-3-13 1 15-3 13 0 14-2-13 0 15-2 13 0 14-2-13 0 14-2 13 0 14-1-13-1 14-1 13 0 14-1-13-1 14-1 13 1 14-1-13-1 14-1 13 1 14-1-14-1 14-1 13 1 14 0-13-2 13 0 13 1 14 0-14-2 14-1 13 2 13 0-13-2 13 0 13 2 13-1-13-2 13 0 13 2 13 0-13-2 13-1 13 3 13 0-13-3 13 0 13 2 12 0-13-2 13-1 13 3 13 0-14-3M2235 3848l-13 2 15-5 13-2 16-4-13 1 15-4 13-1 15-4-13 1 15-4 14-1 15-4-13 1 15-3 13-1 15-3-14 0 15-3 13 0 15-3-13 0 15-2 13 0 15-3-14 0 15-2 13 0 15-2-14 0 15-2 13 0 14-1-13-1 14-2 14 1 14-1-14-1 14-2 14 2 14-1-14-2 14-1 14 2 13-1-13-2 14-1 13 2 14-1-13-2 13-1 14 3 13-1-13-2 13-1 14 3 13-1-13-2 13-1 13 3 13 0-13-3 13 0 14 2 13 0"/><path stroke-opacity=".25" d="M2108 3897l-13 4 17-8 12-3 16-7-12 3 15-6 13-3 16-7-13 3 16-6 13-3 16-5-13 2 15-6 13-2 16-5M2692 3787l-14-3 13 0 14 3 13 0-14-3 13 0 14 3 12 0-13-3 13-1 13 4 13 0-14-4 13 0 13 4 13 0-13-4M2121 3895l-13 2 16-7 13-2 16-7-13 2 16-6 13-2 16-6-13 1 16-6 13-1 16-6-13 2 15-6 14-1 15-5-13 1 15-5 14 0 15-5-13 1 15-4 13-1 16-4-14 1 16-4 13 0 15-4-13 0 15-3 13 0 15-3-13 0 14-3 14 0 15-2-14-1 15-2 13 0 15-2-13-1 14-2 13 1 15-2-13-1 14-2 13 2 15-2-14-1 15-2 13 2 14-1-13-2 14-1 13 2 14-1-13-2 14-1 13 2 14-1-14-2 14-1 14 2 13 0-13-3 14 0 13 2 13 0-13-3 14 0 13 3 13-1-13-3 13 0 14 3 13 0-14-3 14-1 13 4 13 0-13-4 13 0 13 4 13 0-13-4 13 0 13 4 13 0-14-4 13 0 13 4 13 0-13-4 12 0 14 4 12 0-13-4"/>
<g stroke="none"><path fill="#ff3700" d="M2875 3831l13 0-45-25-12 0z"/><path fill="#ff2e00" d="M2825 3828l38 2 12 1 4 0-45-25-3 0-13-1-38 0z"/><path fill="#fd2600" d="M2760 3825l39 2 26 1 4 0-45-23-4 0-26-1-39-1z"/><path fill="#fc1e00" d="M2680 3823l40 1 40 1 4 1-45-23-4 0-40 0-40 0z"/><path fill="#fa1600" d="M2611 3823l41 0 28 0 4 0-45-20-4 0-28 1-42 2z"/><path fill="#f91300" d="M2582 3824l15 0 14-1 4 0-45-18-5 1-14 0-14 1z"/><path fill="#f71100" d="M2525 3827l43-2 14-1 5 0-46-17-4 0-14 1-43 4z"/><path fill="#f60e00" d="M2466 3833l44-4 15-2 4 0-45-15-4 0-15 2-44 5z"/><path fill="#f30b00" d="M2234 3886l48-15 47-13 47-10 45-9 45-6 5 0-45-14-5 0-45 8-45 10-47 11-47 15-48 16z"/><path fill="#f60e00" d="M2202 3898l16-6 16-6 5-1-45-7-5 1-16 7-16 6z"/></g>
<path stroke-opacity=".3" d="M2134 3893l-13 2 16-7 14-2 16-6-14 1 16-6 14-2 16-5-14 1 16-6 13-1 16-5-13 0 16-5 13 0 15-5M2148 3892l-14 1 17-7 13 0 16-7-13 1 16-7 13 0 16-6-13 1 15-6 14 0 15-5-13 0 16-5 13 0 16-5-14 0 16-5 13 1 16-4-14-1 16-4 13 1 15-3-13-1 15-4 14 2 15-4-14-1 15-3 14 2 15-3M2732 3800l-14-5 13 0 14 5 13 0-14-5 13 0 14 6 12 0-13-6 13 1 13 5 13 0-14-5 13 0 13 5 13 1-14-6M2161 3892l-13 0 16-6 13 0 16-6-13-1 16-6 13 1 16-6-13-1 16-5 13 1 16-5-14-1 16-5 14 1 15-4-13-2 15-4 14 2 15-4-13-2 15-4 14 2 15-3-14-2 16-3 13 2 15-3-13-3 15-2 13 2 15-2-13-3 15-2 13 2 15-2-14-3 15-2 14 3 14-1-13-4 14-1 14 3 14-1-13-4 14-1 14 3 14-1-14-3 15-2 13 4 14-1-13-4 14 0 14 4 14-1-14-4 14-1 13 5 14-1-13-4 13-1 14 5 14 0-14-5 14 0 13 5 14 0-14-5 14 0 13 5 14 0-14-5 13 0 14 5 13 0-13-5 13 0 13 5 13 1-13-6 13 0 13 6 13 0-13-6 13 1 13 5 13 1-14-6 13 0 13 6 13 0-13-6 12 0 14 7 12 0-13-6"/><path stroke-opacity=".25" d="M2261 3847l-13 0 16-4 13-1 15-4-13 0 15-4 14 0 15-3-13-1 15-3 13 0 15-3-13-1 15-3 13 1 15-3-13-1 15-3 13 2 15-3-13-1 14-3 14 2 14-2-13-2 14-2 14 2 14-2-13-2 14-1 14 2 14-1-13-3 14-1 13 2 14-1-13-2 14-1 13 2 14-1-13-2 14-1 13 3 14-1-13-3 14-1 13 4 14-1-14-3 14-1 13 4 14-1-14-3 14 0 13 3 14 0-14-4 14 0 13 4 13 0-13-4 13 0 13 4 13 0-13-4 13 0 13 4 13 0-13-4 13 0 13 4 13 0-13-4 12 0 14 5 12 0-13-5 13 0 13 5 12 0-13-5M2397 3820l-14-2 15-2 14 2 14-3-13-2 15-2 13 2 15-2-14-2 15-2 13 3 15-2-14-3 15-1 13 3 14-1-13-3 14-2 14 3 14-1-14-3 14-1 14 4 14-1-14-4 14 0 14 3 14 0-14-4 14 0 13 3 14 0-13-4 13 0 14 4 13 0-13-5 13 0 14 5 13 0-13-5 13 0 13 5 14 0-14-5 13 0 14 5 13 0"/>
<g stroke="none"><path fill="#ff3f00" d="M2904 3859l12 1 13 1-45-32-13-1-12 0z"/><path fill="#ff3700" d="M2866 3857l38 2 3 1-45-32-3 0-38-2z"/><path fill="#ff2e00" d="M2814 3853l39 3 13 1 4 0-46-31-3 0-13-1-39-1z"/><path fill="#fd2600" d="M2748 3849l40 3 26 1 4 0-45-29-4 0-26-1-40-1z"/><path fill="#fc1e00" d="M2680 3847l41 1 27 1 4 1-45-28-4 0-27-1-42 0z"/><path fill="#fa1600" d="M2610 3847l42 0 28 0 4 0-45-26-5 0-28 1-42 1z"/><path fill="#f91300" d="M2581 3848l15 0 14-1 4 0-46-24-4 0-14 1-15 1z"/><path fill="#f71100" d="M2523 3852l44-3 14-1 5 0-46-24-5 1-14 1-44 4z"/><path fill="#f60e00" d="M2463 3858l45-5 15-1 4 0-46-23-4 1-15 2-45 6z"/><path fill="#f30b00" d="M2260 3906l48-15 47-13 47-10 46-7 15-3 5 0-46-21-5 1-15 3-46 9-47 11-47 14-48 16z"/><path fill="#f60e00" d="M2243 3912l17-6 4-1-45-16-5 2-16 6z"/></g>
<path stroke-opacity=".35" d="M2174 3893l-13-1 16-6 14 1 16-6-14-1 16-6 14 1 16-5-14-2 16-5 14 2 15-5-13-2 16-5 13 2 16-4M2188 3895l-14-2 17-6 13 2 16-6-13-2 16-6 13 2 16-5-13-2 16-5 13 2 16-4-14-3 16-5 14 3 15-4-13-3 15-4 14 3 15-3-13-4 15-3 14 3 15-3-14-3 16-3 13 3 16-2-14-4 15-3 14 4 15-2M2202 3898l-14-3 16-6 14 3 16-6-14-3 16-6 14 4 16-5-14-4 16-5 14 4 16-5-14-3 16-5 14 4 15-4-14-4 16-4 14 4 15-3-14-4 16-4 14 5 15-3-14-5 15-3 14 5 15-3-13-4 15-3 13 5 15-2-13-5 14-2 14 5 15-2-14-5 15-1 14 5 14-1-13-6 14-1 14 5 14-1-13-5 14-1 14 6 14-1-14-6 15-1 13 6 15 0-14-6 14-1 14 6 14 0-14-6 14 0 13 6 14 0-13-7 13 0 14 7 14 0-14-7 14 0 13 7 14 1-14-7 13 0 14 7 14 0-14-7 13 1 14 7 13 0-14-7 13 0 14 8 13 1-14-8 13 0 14 8 13 1-14-8 13 0 14 8 12 1-13-8 13 0 13 8 13 1-14-8 13 0 13 9 13 0-14-8"/><path stroke-opacity=".3" d="M2302 3851l-14-2 16-4 13 2 16-4-14-2 16-4 13 3 15-3-13-3 15-3 14 3 15-3-14-3 15-3 14 3 15-2-14-3 15-3 14 4 15-2-14-4 15-2 13 4 15-2-14-3 15-2 14 4 14-1-14-4 15-2 13 5 15-1-14-5 14-1 14 5 14-1-14-5 15 0 13 5 14-1-13-5 13 0 14 5 14-1-14-5 14 0 14 5 13 0-13-5 13 0 14 5 13 0-13-5 13 0 14 5 13 1-13-6 13 0 13 6 14 0-14-6 13 0 14 6 13 1-14-6 13 0 14 6 13 1-14-7 13 0 14 7 12 0-13-6 12 0 14 7 13 0-14-7 13 1 13 7 13 0-14-7M2438 3830l-14-4 15-2 13 4 15-2-13-4 14-2 14 5 15-2-14-5 15-1 13 5 15-1-14-5 14-1 14 5 14-1-13-5 14-1 14 5 14 0-14-6 14 0 14 5 14 0-14-6 14 0 14 6 14-1-14-6 14 0 13 6 14 0-14-6 14 0 14 6 13 1-14-7 14 0 13 7 14 0-14-6 13 0 14 7 13 0-13-7 13 0 13 7 13 1-13-7 13 0 13 7 13 1-13-7 13 0 13 7 13 1-14-8 13 1 14 7 12 1-13-8 12 1 14 7 12 1-13-8"/>
<g stroke="none"><path fill="#ff4800" d="M2920 3893l38 4 12 1-46-40-12-1-38-2z"/><path fill="#ff3f00" d="M2882 3890l38 3 4 1-46-39-4 0-38-3z"/><path fill="#ff3700" d="M2856 3887l13 1 13 2 4 0-46-38-4 0-13-1-13-1z"/><path fill="#ff2e00" d="M2804 3883l39 3 13 1 4 1-46-37-4-1-13-1-40-2z"/><path fill="#fd2600" d="M2736 3879l41 2 27 2 4 0-47-35-4-1-26-1-41-1z"/><path fill="#fc1e00" d="M2652 3877l43 0 41 2 4 0-46-34-4 0-42-1-42 1z"/><path fill="#fa1600" d="M2595 3878l43-1 14 0 5 0-47-32-4 0-15 0-43 2z"/><path fill="#f91300" d="M2551 3881l44-3 4 0-47-31-4 0-44 4z"/><path fill="#f71100" d="M2475 3889l46-6 30-2 4-1-47-29-4 0-30 3-45 7z"/><path fill="#f60e00" d="M2286 3934l48-15 48-13 47-10 46-7 5-1-47-28-4 1-47 8-47 11-47 14-49 16z"/></g>
<path stroke-opacity=".4" d="M2215 3902l-13-4 16-6 14 4 16-6-14-4 16-5 14 4 16-5-14-4 16-5 14 4 16-4-14-5 16-4 13 5 16-4M2229 3906l-14-4 17-6 14 4 16-5-14-5 16-5 14 5 16-5-14-5 16-5 14 5 16-4-14-5 15-4 14 5 16-4-14-5 16-4 14 6 15-3-14-6 16-3 13 6 16-3-14-6 15-3 14 7 15-3-14-6 15-2 14 6 15-2M2243 3912l-14-6 17-6 14 6 16-5-14-6 16-5 14 6 16-5-14-6 16-5 14 6 16-4-14-6 15-4 14 6 16-3-14-7 16-3 14 6 15-3-14-6 15-3 15 7 15-3-14-7 15-2 14 7 15-3-14-7 15-2 14 7 15-1"/><path stroke-opacity=".35" d="M2343 3863l-14-5 16-4 14 5 15-3-14-5 16-3 14 5 15-3-14-5 15-3 14 5 15-2-14-6 15-2 14 6 15-2-14-6 15-2 14 6 15-2-14-6 15-1 14 6 14-1-14-6 15-2 14 7 14-1-14-7 15 0 14 6 14 0-14-7 14-1 14 7 14 0-13-7 14-1 13 8 14-1-13-7 13 0 14 7 14 0-14-7 14 0 14 8 13 0-13-8 13 0 14 8 14 1-14-8 13 0 14 8 13 1-13-9 13 1 14 8 13 1-14-9 13 1 14 8 13 1-14-8 13 0 14 9 13 0-14-8 13 0 13 9 13 1-14-9 13 0 14 9 12 1-13-9 12 1 14 9 12 0-13-9M2479 3847l-14-6 15-2 14 7 15-2-14-7 15-1 14 7 14-1-14-7 15-1 14 7 14-1-14-7 15-1 14 8 14-1-14-7 14-1 14 8 14-1-14-7 14 0 14 7 14 0-14-8 14 0 14 8 14 1-14-9 14 1 14 8 13 0-14-8 14 0 14 9 13 0-13-8 13 0 14 9 13 0-14-8 14 0 13 9 13 1-13-9 13 0 14 9 13 1-14-9 13 1 13 9 13 1-13-10 12 1 14 10 13 0-14-9 13 0 13 10 13 1-14-10 13 1 13 10 13 0-14-10M2493 3855l-14-8 15-1 14 7 15-1-14-8 15-1 14 8 14-1-14-8 15-1 14 8 14-1-14-8 15 0 14 8 14-1-14-8 14 0 14 8 14 0-14-9 14 0 14 9 14 0-14-9 14 0 14 9 14 1-14-9 14 0 14 9 13 0-14-9 14 1 14 9 13 0-14-9 14 1 14 9 13 1-14-10 13 1 14 10 13 0-14-9 14 0 13 10 13 1-13-10 12 1 14 10 13 1-14-10 13 1 14 10 13 1-14-11 12 1 14 11 13 0-14-10 12 1 14 10 13 1-14-11"/>
<g stroke="none"><path fill="#ff6700" d="M2974 3937l37 5-45-48-38-3z"/><path fill="#ff5700" d="M2937 3933l37 4 4 1-46-47-4 0-37-4z"/><path fill="#ff4800" d="M2885 3927l39 4 13 2 4 0-47-46-3 0-13-1-39-3z"/><path fill="#ff3f00" d="M2859 3924l13 2 13 1 4 0-46-44-4 0-13-1-13-2z"/><path fill="#ff3700" d="M2819 3920l40 4 4 1-46-44-4-1-40-2z"/><path fill="#ff2e00" d="M2765 3916l41 3 13 1 4 1-46-43-4 0-14-1-41-2z"/><path fill="#fd2600" d="M2695 3913l42 2 28 1 4 1-47-42-4 0-28-1-42 0z"/><path fill="#fc1e00" d="M2609 3914l43-1 43 0 5 1-48-40-4 0-43 0-44 2z"/><path fill="#fa1600" d="M2519 3922l45-5 45-3 4 0-47-38-5 0-44 4-46 6z"/><path fill="#f91300" d="M2329 3964l49-14 48-12 47-9 46-7 4-1-47-36-5 1-46 8-47 10-48 12-48 16z"/></g>
<path stroke-opacity=".45" d="M2257 3918l-14-6 17-6 14 7 16-6-14-6 16-5 14 6 16-4-14-7 16-5 14 7 16-4-14-7 15-4 15 8 15-4M2272 3926l-15-8 17-5 14 7 16-5-14-8 16-5 14 8 16-4-14-8 16-5 14 8 16-4-14-8 16-3 14 8 15-4M2286 3934l-14-8 16-6 14 9 16-6-14-8 16-5 14 9 16-5-14-8 16-5 14 9 16-4-14-9 16-3 14 9 16-4-15-9 16-3 14 9 16-3-15-9 16-2 14 9 15-2-14-10 15-2 15 10 15-2-14-10 15-2 14 10 15-1"/><path stroke-opacity=".4" d="M2385 3882l-14-7 16-4 14 8 15-3-14-8 16-2 14 7 15-2-14-8 15-2 14 7 15-2-14-8 15-2 14 9 15-2-14-8 15-2 14 9 15-2-14-8 15-1 14 8 14-1-14-8 15-1 14 9 14-1-14-9 15 0 14 9 14-1-14-9 14 0 14 9 14 0-14-9 14 0 14 9 14 0-14-9 14 0 14 10 14 0-14-9 14 0 14 10 13 0M2399 3890l-14-8 16-3 14 8 15-3-14-8 16-3 14 9 15-3-14-8 15-3 14 9 16-2-15-9 15-1 15 8 15-1-15-9 15-1 14 9 15-2-14-9 15-1 14 10 15-1-15-10 15 0 14 9 15 0-15-10 15 0 14 9 14 0-14-10 14 0 14 10 14 0-14-10 14 0 14 10 14 1-14-11 14 1 14 10 14 1-14-11 14 1 14 10 13 1-14-11 14 1 14 11 13 0-14-10 14 0 14 11 13 1-14-11 13 1 14 11 13 1-14-11 13 1 14 11 13 1-14-11 13 1 14 11 13 1-14-11 13 1 14 11 12 2-14-12 13 1 14 12 12 1-14-12 13 1 14 12 12 1-14-12M2536 3882l-14-10 14-1 15 10 15-2-15-10 15 0 14 10 15-1-14-10 14-1 14 10 15 0-14-10 14-1 14 11 14 0-14-11 14 0 15 11 14 0-15-11 14 0 15 11 14 1-15-11 14 0 14 11 14 1-14-11 14 0 14 12 13 0-14-11 14 1 14 11 13 1-14-12 14 1 14 12 13 1-14-12 13 1 14 12 13 1-14-12 13 1 14 12 13 1-14-12 13 1 14 13 13 1-14-13 13 1 13 13 13 1-14-12 13 1 14 12 12 2-14-13 13 1 14 13 12 1-14-13"/><path stroke-opacity=".35" d="M2735 3858l-14-10 14 1 14 10 13 1-14-11 14 1 14 10 13 1-14-10 13 1 14 10 13 1-14-11 13 1 14 11 13 1-14-11 13 1 14 11 13 1-14-11 13 1 14 11 12 1-13-11 12 1 14 11 12 1-13-12 12 1 14 12 12 1-13-12"/>
<g stroke="none"><path fill="#ff7e00" d="M3029 3990l12 1 12 2-46-56-12-1-12-2z"/><path fill="#ff7a00" d="M3016 3988l13 2 4 0-47-55-3-1-13-1z"/><path fill="#ff7600" d="M2979 3982l37 6 4 0-46-55-4 0-37-5z"/><path fill="#ff6700" d="M2941 3977l38 5 4 1-47-54-3-1-39-4z"/><path fill="#ff5700" d="M2889 3970l39 5 13 2 4 0-47-52-4-1-13-1-39-4z"/><path fill="#ff4800" d="M2849 3966l40 4 4 1-47-52-4 0-40-4z"/><path fill="#ff3f00" d="M2808 3962l41 4 4 0-47-50-4-1-41-3z"/><path fill="#ff3700" d="M2781 3960l14 1 13 1 4 0-47-49-4-1-14 0-14-1z"/><path fill="#ff2e00" d="M2725 3957l42 2 14 1 4 0-48-49-4 0-14-1-42-1z"/><path fill="#fd2600" d="M2638 3957l44-1 43 1 4 0-48-48-4 0-43 1-44 1z"/><path fill="#fc1e00" d="M2470 3978l47-9 46-6 45-4 30-2 4 0-48-46-4 0-30 3-46 4-46 7-47 10z"/><path fill="#fa1600" d="M2374 4003l48-14 48-11 5-1-49-43-5 1-47 11-49 15z"/></g>
<path stroke-opacity=".45" d="M2300 3943l-14-9 16-5 15 9 16-5-15-10 16-4 15 9 16-4-15-10 16-4 15 10 16-4-15-10 16-3 14 9 16-3-14-10 15-3 15 10 15-2-14-11 15-2 15 10 15-2-15-10 16-2 14 10 15-2-14-10 15-2 14 11 15-2M2443 3920l-15-11 16-3 14 11 16-3-15-10 16-3 14 11 15-2-14-11 15-2 15 11 15-2-15-11 15-1 15 11 15-1-15-12 15-1 14 12 15-1-14-12 15 0 14 11 14 0-14-12 15 0 14 11 14 0-14-12 14 0 15 12 14 0M2457 3932l-14-12 15-3 15 12 15-3-14-12 15-2 15 12 15-2-15-12 16-2 14 12 15-1-14-13 15-1 14 12 15-1-14-12 14-1 15 12 15-1-15-12 15-1 14 13 15-1-15-12 15-1 14 13 15 0-15-13 15 0 14 13 14 0-14-13 14 1 14 13 14 0-14-13 14 1 14 13 14 1-14-14 14 1 14 13 14 1-14-13 13 1 14 13 14 1"/><path stroke-opacity=".4" d="M2550 3892l-14-10 15-1 14 10 15-1-14-11 14 0 15 11 14-1-14-11 14-1 15 12 14-1-14-11 14 0 14 11 15 0-15-11 15 0 14 11 14 1-14-12 14 0 14 12 14 1-14-12 13 0 15 12 13 1-14-12 14 1 14 12 14 1-15-13 14 1 14 12 13 1-14-12 14 1 14 13 13 1-14-13 13 1 14 13 13 1-14-13 13 1 14 13 13 2-14-14 13 2 14 13 13 1-14-13 12 1 14 13 13 2-14-14 13 1 14 14 12 1-14-13 13 1 13 13 13 2-14-14M2681 3900l-14-12 14 0 14 13 14 0-14-12 14 0 14 13 14 0-14-12 14 0 14 13 14 1-15-13 14 1 14 13 14 1-14-13 13 0 14 14 14 1-15-14 14 2 14 13 13 1-14-13 13 1 14 13 13 2-14-14 13 1 14 14 13 1-14-13 13 1 14 14 13 1-14-14 12 1 14 15 13 1-14-14 13 1 13 14 13 2-14-15 12 1 14 15 13 1-14-14M2806 3919l-14-13 13 1 14 13 14 2-14-14 13 1 14 14 13 1-14-14 13 1 14 15 13 1-14-14 13 1 14 14 13 2-14-15 13 2 14 14 13 2-14-15 12 2 14 14 13 2-14-15 12 1 14 15 13 2-14-15 12 1 14 15 12 2-13-16"/><path stroke-opacity=".5" d="M2315 3953l-15-10 17-5 14 10 16-5-14-10 16-5 14 10 16-4-14-10 16-4 14 10 16-4-14-10 15-4 15 11 16-3M2329 3964l-14-11 16-5 15 11 16-5-15-11 16-5 15 12 16-5-15-11 16-4 15 12 16-4-15-12 16-3 14 12 16-3"/>
<g stroke="none"><path fill="#ffa200" d="M3071 4048l12 2 12 2-46-64-12-2-12-2z"/><path fill="#ff9200" d="M3022 4039l37 7 12 2 4 1-47-64-3-1-13-1-37-6z"/><path fill="#ff8200" d="M2996 4035l13 2 13 2 3 1-46-62-4-1-13-2-13-1z"/><path fill="#ff7e00" d="M2984 4033l12 2 4 1-47-62-4 0-12-2z"/><path fill="#ff7a00" d="M2958 4029l13 2 13 2 3 0-47-61-3 0-13-2-13-2z"/><path fill="#ff7600" d="M2932 4025l13 2 13 2 4 0-47-60-4-1-13-1-13-2z"/><path fill="#ff6700" d="M2892 4019l40 6 4 0-48-59-3-1-40-4z"/><path fill="#ff5700" d="M2838 4013l41 5 13 1 4 1-47-59-4 0-14-2-41-3z"/><path fill="#ff4800" d="M2797 4010l41 3 4 0-48-57-4 0-41-3z"/><path fill="#ff3f00" d="M2754 4007l43 3 4 0-48-56-4-1-43-1z"/><path fill="#ff3700" d="M2711 4006l43 1 5 0-49-55-4 0-43 0z"/><path fill="#ff2e00" d="M2623 4010l44-3 44-1 5 1-49-55-4 0-44 1-45 4z"/><path fill="#fd2600" d="M2419 4050l48-14 48-11 46-8 46-6 16-1 4 0-49-53-4 0-16 2-46 6-47 8-47 12-49 14z"/></g>
<path stroke-opacity=".5" d="M2344 3976l-15-12 17-5 14 12 16-5-14-12 16-4 15 12 16-4-15-13 16-3 14 12 16-4-14-12 15-3 15 12 16-3M2359 3989l-15-13 16-5 15 13 16-5-15-13 17-4 14 13 16-4-14-13 15-4 15 13 16-3-15-14 16-3 15 13 15-3-14-13 15-3 15 14 15-3-14-13 15-2 15 13 15-2-15-13 16-2 14 14 15-2-14-13 15-2 14 14 15-1M2374 4003l-15-14 16-5 15 14 16-5-15-14 16-4 15 14 16-4-15-14 16-4 15 14 16-3-15-14 16-4 15 14 15-2-15-15 16-2 15 14 15-2-15-15 16-2 15 15 15-2-15-15 15-1 15 14 15-1-15-15 15-1 15 15 15-1"/><path stroke-opacity=".45" d="M2472 3944l-15-12 16-3 14 12 16-2-15-13 16-2 14 13 15-2-14-13 15-2 15 13 15-1-15-13 15-2 15 13 15-1-15-13 15-1 14 13 15 0-14-14 14 0 15 13 14 0-14-14 14 0 15 14 14 0-14-14 14 0 15 14 14 0-15-14 14 1 15 14 14 0-15-14 14 1 15 14 14 1-15-14 14 0 14 15 14 1-14-15 13 1 15 15 13 1-14-15 13 1 15 15 13 1-14-14 13 1 14 15 13 1-14-15 13 2 15 15 13 1-15-15 13 1 14 16 13 1-14-15 13 1 14 16 13 2-14-16 12 1 14 16 13 2-14-16 12 1 14 16 13 2-14-16 12 1 14 17 12 1-14-16M2608 3943l-14-14 14-1 15 14 15 0-15-14 15-1 14 14 15 0-15-14 15 0 14 14 15 0-15-14 15 0 14 14 14 1-14-15 14 1 14 14 14 1-14-15 14 1 14 15 14 1-14-15 13 1 15 15 13 1-14-15 14 1 14 15 14 1-15-15 14 1 14 16 13 1-14-16 13 2 15 16 13 1-15-16 14 2 14 16 13 1-14-16 12 2 15 16 12 2-14-17 13 2 14 16 13 2-14-16 12 1 14 17 13 2-14-17 12 1 14 17 13 2-14-17 12 2 14 17 12 1-14-17M2623 3958l-15-15 15-1 15 15 14 0-14-15 14-1 15 15 15 0-15-15 14 0 15 15 14 0-14-15 14 0 15 16 14 0-15-15 14 0 15 16 14 1-15-16 14 1 15 16 14 1-15-16 14 1 14 16 14 1-15-16 14 1 14 16 14 2-14-17 13 2 14 16 14 2-15-17 14 2 14 16 13 2-14-17 13 2 14 16 13 2-14-17 13 2 14 17 13 2-15-17 13 1 14 18 13 1-14-17 12 2 15 17 12 2-14-17 12 1 14 18 13 2-14-18 12 2 14 17 12 2-14-18"/>
<g stroke="none"><path fill="#ffd600" d="M3125 4117l12 2-46-73-12-2z"/><path fill="#ffd000" d="M3113 4114l12 3 4 1-46-73-4-1-12-2z"/><path fill="#ffc600" d="M3089 4109l12 3 12 2 4 1-47-72-3-1-12-2-13-2z"/><path fill="#ffbc00" d="M3077 4107l12 2 4 1-47-72-4 0-12-2z"/><path fill="#ffb200" d="M3052 4101l12 3 13 3 3 0-47-71-3 0-13-3-12-2z"/><path fill="#ffa200" d="M3014 4094l38 7 3 1-47-70-3-1-38-6z"/><path fill="#ff9200" d="M2975 4087l39 7 4 1-48-69-3-1-39-6z"/><path fill="#ff8200" d="M2936 4080l39 7 4 1-47-68-4-1-40-5z"/><path fill="#ff7e00" d="M2923 4078l13 2 4 1-48-67-4 0-13-2z"/><path fill="#ff7a00" d="M2909 4076l14 2 4 1-48-67-4 0-14-2z"/><path fill="#ff7600" d="M2868 4071l41 5 4 1-48-66-4-1-41-4z"/><path fill="#ff6700" d="M2813 4066l42 4 13 1 5 1-49-65-4-1-14-1-42-2z"/><path fill="#ff5700" d="M2756 4064l43 2 14 0 4 1-49-64-4 0-14-1-43-1z"/><path fill="#ff4800" d="M2697 4065l44-1 15 0 4 0-49-63-4 0-15 0-44 2z"/><path fill="#ff3f00" d="M2637 4069l46-3 14-1 5 0-50-62-4 0-15 1-45 4z"/><path fill="#ff3700" d="M2464 4105l49-14 47-10 47-8 30-4 5 0-50-62-4 1-31 4-47 8-47 11-49 14z"/></g>
<path stroke-opacity=".55" d="M2388 4018l-14-15 16-5 15 15 16-5-15-15 16-4 15 15 16-4-15-15 16-4 15 15 16-3-15-15 16-4 14 16 16-3M2403 4033l-15-15 17-5 15 15 16-4-15-16 16-4 15 15 16-4-15-15 16-4 15 16 16-4-15-15 15-3 15 15 16-2M2419 4050l-16-17 17-5 15 17 16-5-15-16 16-5 15 17 16-4-15-17 16-3 15 17 16-4-15-17 15-3 15 17 16-2"/><path stroke-opacity=".5" d="M2516 3987l-15-15 16-3 15 15 15-2-15-15 16-2 14 15 16-2-15-15 15-2 15 16 15-2-15-15 15-1 15 15 15 0-15-16 15-1 14 16 15 0-15-16 15-1 15 16 14 0-14-16 14 0 15 16 14 1-15-17 15 1 14 16 14 1M2531 4003l-15-16 16-3 14 16 16-2-15-16 15-2 15 16 15-2-14-16 15-1 15 16 15-1-15-17 15-1 15 17 14-1-14-16 14-1 15 16 15 0-15-16 15-1 14 17 15 0-15-17 15 0 14 17 15 1-15-17 14 0 15 17 14 1M2546 4020l-15-17 15-3 15 17 16-2-15-17 15-2 15 17 15-2-15-17 16-1 15 17 15-1-15-17 15-1 14 17 15-1-15-17 15-1 15 18 15 0-15-18 14 0 15 17 15 1-15-18 14 0 15 18 14 0-14-17 14 0 15 18 14 1-15-18 14 1 15 18 14 1-15-19 14 2 14 18 14 1-14-18 13 1 15 18 13 2-14-19 13 2 15 19 13 1"/><path stroke-opacity=".45" d="M2753 3974l-14-17 14 1 14 16 14 1-14-16 14 1 14 16 14 1-14-16 13 1 15 16 13 2-14-17 13 1 15 17 13 2-14-17 13 1 15 17 13 2-14-17 13 1 14 17 13 2-14-17 13 1 14 18 13 2-14-18 13 2 14 18 13 2-14-18 12 2 15 18 12 1-14-18 13 2 14 18 12 2-14-18 12 2 15 18 12 2-14-18 12 1 14 19 12 2-14-19M2768 3991l-15-17 14 0 15 18 14 0-15-17 14 1 15 18 14 1-15-18 14 1 14 18 14 1-15-17 14 1 14 18 14 1-15-17 14 1 14 18 13 2-14-18 13 1 15 19 13 2-15-19 13 2 15 18 12 2-14-18 13 2 14 18 13 2-14-18 13 2 14 18 12 2-14-19 13 2 14 20 12 2-14-20 13 2 14 20 12 2-14-20 12 2 14 20 12 2-14-20M2892 4019l-14-19 13 2 15 19 13 2-15-19 14 2 14 19 13 2-14-19 13 1 14 20 13 2-15-20 13 2 15 20 12 2-14-20 13 2 14 20 13 2-15-20 13 3 14 19 12 3-14-20 13 2 14 20 12 2-14-20 12 2 14 20 12 2-14-20"/>
<g stroke="none"><path fill="#ffea00" d="M3156 4189l12 3 11 3-46-83-12-2-12-3z"/><path fill="#ffe600" d="M3131 4182l13 4 12 3 3 0-46-81-4-1-12-2-12-3z"/><path fill="#ffe200" d="M3107 4177l12 2 12 3 4 1-47-80-3-1-13-2-12-3z"/><path fill="#ffdc00" d="M3095 4174l12 3 4 0-47-79-4-1-13-2z"/><path fill="#ffd600" d="M3070 4168l12 3 13 3 3 0-47-79-4 0-12-3-13-2z"/><path fill="#ffd000" d="M3057 4165l13 3 3 1-47-78-4-1-12-3z"/><path fill="#ffc600" d="M3032 4159l12 3 13 3 4 1-48-78-3-1-13-2-13-2z"/><path fill="#ffbc00" d="M3019 4157l13 2 3 1-47-77-4 0-13-3z"/><path fill="#ffb200" d="M2993 4152l13 2 13 3 4 0-48-76-4-1-13-2-13-2z"/><path fill="#ffa200" d="M2953 4145l40 7 4 0-48-75-4-1-40-6z"/><path fill="#ff9200" d="M2899 4137l41 6 13 2 4 0-48-74-4-1-14-2-41-4z"/><path fill="#ff8200" d="M2872 4134l13 1 14 2 4 0-49-73-4 0-14-1-13-2z"/><path fill="#ff7e00" d="M2844 4132l14 1 14 1 4 0-49-72-4-1-14-1-15 0z"/><path fill="#ff7a00" d="M2830 4131l14 1 4 0-49-72-5 0-14-1z"/><path fill="#ff7600" d="M2787 4129l43 2 4 0-50-72-4 0-43-1z"/><path fill="#ff6700" d="M2713 4131l44-2 30 0 4 0-50-71-4 0-29 0-45 3z"/><path fill="#ff5700" d="M2575 4151l47-10 46-6 45-4 5-1-50-70-5 1-45 4-47 7-47 10z"/><path fill="#ff4800" d="M2511 4168l48-13 16-4 4-1-50-69-5 1-16 4-48 13z"/></g>
<path stroke-opacity=".55" d="M2434 4067l-15-17 16-5 15 17 16-4-15-18 16-4 15 18 16-4-15-18 16-3 15 17 16-3-15-18 15-3 15 18 16-3-15-17 15-3 15 18 16-2-15-18 15-2 15 18 15-2-15-18 16-1 14 18 15-1-14-18 14-1 15 18 15-1M2449 4086l-15-19 16-5 15 19 16-5-15-18 16-4 15 18 16-4-15-18 16-4 15 19 16-4-15-18 15-3 16 18 15-2-15-19 15-2 16 18 15-2-15-18 15-2 15 19 15-2-15-19 15-1 15 19 15-1-15-19 15-1 15 19 15-1M2464 4105l-15-19 16-5 15 19 17-4-16-20 16-4 16 19 16-4-16-19 16-3 15 19 16-3-15-20 16-3 15 20 15-3-15-19 16-3 15 20 15-2-15-20 15-1 15 19 15-1-15-20 15-1 16 20 15-1-16-20 15-1 15 20 15-1"/><path stroke-opacity=".5" d="M2682 4025l-15-18 15 0 15 18 15 0-15-18 14-1 15 19 15 0-15-18 14 0 15 18 14 1-15-19 15 1 14 19 14 0-14-18 14 1 14 18 14 2-14-19 13 1 15 19 14 1-15-19 14 1 14 20 14 1-15-19 14 2 14 19 14 2-15-20 14 2 14 20 13 2-14-20 13 2 14 20 13 2-14-20 13 2 14 20 13 2-14-20 13 2 14 20 13 2-15-20 13 2 14 21 13 2-14-21 12 2 14 21 13 3-15-21 13 2 14 21 12 2-14-21 12 2 14 22 12 2-14-22M2697 4044l-15-19 15 0 15 19 14 0-14-19 14 0 15 19 14 0-14-19 14 0 15 20 14 0-15-19 14 1 15 19 14 1-15-20 14 1 15 20 14 1-15-19 14 1 15 20 13 1-14-20 13 2 15 20 14 1-15-20 13 2 15 20 13 2-14-20 13 2 15 20 13 2-15-20 13 2 15 20 13 2-15-20 13 2 15 21 13 2-15-21 13 2 14 21 13 3-14-22 12 3 14 21 13 3-14-22 12 2 14 22 13 2-14-21 12 2 14 22 12 2-14-22 12 3 14 22 12 2-14-22M2712 4064l-15-20 15 0 15 20 14 0-15-20 15 0 15 20 14 0-15-20 15 1 15 20 14 1-15-21 14 1 15 20 14 2-15-21 14 1 15 21 14 1-15-21 14 2 14 20 14 2-15-21 14 2 15 21 13 1-14-21 13 2 15 21 13 2-15-21 14 2 14 21 13 3-14-22 13 2 14 22 13 2-14-22 13 3 14 22 13 2-14-22 12 2 15 22 12 3-14-22 12 2 15 22 12 3-14-22 12 2 15 23 12 2-14-23 12 3 14 23 12 2-14-23 12 3 14 23 12 2-14-23"/>
<g stroke="none"><path fill="#e8f200" d="M3186 4267l35 11-46-91-36-9z"/><path fill="#f3f000" d="M3150 4257l36 10 4 2-47-90-4-1-36-9z"/><path fill="#ffee00" d="M3113 4247l37 10 3 1-47-88-3-1-38-9z"/><path fill="#ffea00" d="M3088 4241l12 3 13 3 4 1-48-87-4-1-12-2-13-3z"/><path fill="#ffe600" d="M3062 4234l13 3 13 4 4 0-48-85-4-1-13-3-13-3z"/><path fill="#ffe200" d="M3050 4231l12 3 4 1-48-85-4-1-12-2z"/><path fill="#ffdc00" d="M3024 4226l13 2 13 3 4 1-49-84-3-1-14-3-13-2z"/><path fill="#ffd600" d="M2997 4220l14 3 13 3 4 1-49-84-4-1-13-2-13-2z"/><path fill="#ffd000" d="M2984 4218l13 2 4 1-48-83-4 0-14-3z"/><path fill="#ffc600" d="M2957 4214l14 2 13 2 4 1-49-83-4-1-13-1-14-2z"/><path fill="#ffbc00" d="M2944 4212l13 2 4 0-49-82-4 0-13-2z"/><path fill="#ffb200" d="M2916 4208l14 2 14 2 4 0-49-82-4 0-14-2-14-1z"/><path fill="#ffa200" d="M2861 4203l42 3 13 2 5 0-50-81-4 0-14-1-42-3z"/><path fill="#ff9200" d="M2803 4201l43 1 15 1 4 0-50-80-4 0-15 0-43-1z"/><path fill="#ff8200" d="M2759 4202l44-1 4 0-50-79-4 0-44 2z"/><path fill="#ff7e00" d="M2714 4206l45-4 4 0-50-78-4 0-46 4z"/><path fill="#ff7a00" d="M2668 4212l46-6 4 0-50-78-5 0-46 7z"/><path fill="#ff7600" d="M2557 4239l48-13 48-11 15-3 5 0-51-78-5 1-16 2-47 11-48 14z"/></g>
<path stroke-opacity=".55" d="M2480 4125l-16-20 16-5 16 20 16-4-15-20 16-5 15 20 16-3-15-21 15-3 16 20 15-3-15-20 16-3 15 20 16-2-16-21 16-2 15 20 15-2-15-20 15-2 15 21 16-2-16-20 16-1 15 20 15-1-15-20 14-1 15 20 15 0-15-21 15 0 15 21 14 0-15-21 15 0 15 21 14 0-15-21 15 1 15 21 14 1-15-21 14 0 15 22 14 1M2495 4146l-15-21 16-5 15 21 16-4-15-21 16-5 15 22 16-4-15-21 16-4 15 21 16-3-16-21 16-3 15 21 16-2-15-21 15-3 15 21 16-1-16-22 15-1 16 21 15-1-15-22 15-1 15 21 15 0-15-22 14-1 16 22 14 0-15-22 15 0 15 21 14 0-15-21 15 0 15 22 14 0-15-22 15 1 15 22 14 1-15-22 14 1 15 22 14 1M2511 4168l-16-22 16-5 16 22 16-4-16-22 16-4 16 22 16-4-16-22 16-4 15 22 16-3-15-22 15-3 16 22 15-2-15-22 15-3 16 23 15-2-15-22 15-2 15 22 15-1-15-22 15-2 15 23 15-1-15-22 15-1 15 22 14 0-15-22 15-1 15 23 15 0-16-23 15 1 15 22 14 1-15-23 15 1 15 23 14 1-15-23 14 1 15 23 14 1-15-23 14 1 14 23 14 2-15-23 14 1 15 24 13 2-14-24 13 2 15 24 13 2-14-24 13 2 15 24 13 2"/><path stroke-opacity=".5" d="M2842 4089l-15-21 14 1 15 21 14 1-15-21 13 1 15 22 14 2-15-22 14 2 14 21 14 2-15-22 14 2 14 22 13 2-14-22 13 2 15 23 13 2-15-22 13 2 15 22 13 3-15-23 13 3 15 22 12 3-14-23 13 2 14 23 13 3-15-23 13 2 14 24 12 2-14-23 13 3 14 23 12 3-14-24 12 3 14 23 12 3-14-24 12 3 14 24 12 3-14-25M2857 4111l-15-22 14 1 15 22 13 2-14-23 13 2 15 22 14 2-15-22 13 1 15 23 14 2-15-23 13 2 15 23 13 2-15-23 14 3 14 23 13 2-14-23 13 2 14 24 13 2-14-23 13 2 14 24 13 2-15-23 13 2 14 24 13 3-14-24 12 3 14 24 13 2-15-24 13 3 14 24 12 3-14-24 12 2 14 25 12 3-14-25 12 3 14 25 12 3-14-25M2980 4149l-15-24 13 3 15 24 13 2-15-24 13 3 15 24 13 2-15-24 13 3 14 24 13 3-14-25 12 3 15 25 12 3-14-25 12 3 15 25 12 3-14-26 12 3 14 25 12 3-14-25 12 3 15 26 12 3-15-26 12 3 15 26 11 3-14-26"/>
<g stroke="none"><path fill="#a5f000" d="M3252 4366l11 4-46-101-12-3z"/><path fill="#b7f100" d="M3216 4354l36 12 3 1-46-100-4-1-35-10z"/><path fill="#caf300" d="M3193 4346l12 4 11 4 4 1-47-98-3-1-12-4-12-3z"/><path fill="#dcf400" d="M3156 4334l37 12 3 1-47-97-3-1-37-10z"/><path fill="#e8f200" d="M3119 4323l37 11 4 1-48-95-3-1-38-10z"/><path fill="#f3f000" d="M3081 4313l38 10 4 1-48-94-4-1-39-8z"/><path fill="#ffee00" d="M3042 4304l39 9 4 1-49-93-4 0-39-8z"/><path fill="#ffea00" d="M3029 4301l13 3 4 1-49-92-4 0-13-3z"/><path fill="#ffe600" d="M2989 4294l40 7 4 1-49-91-4-1-41-6z"/><path fill="#ffe200" d="M2975 4292l14 2 4 1-50-91-4 0-13-2z"/><path fill="#ffdc00" d="M2948 4288l14 2 13 2 4 0-49-89-4-1-14-2-14-1z"/><path fill="#ffd600" d="M2920 4285l14 1 14 2 4 0-50-89-4 0-14-2-14-1z"/><path fill="#ffd000" d="M2892 4283l14 1 14 1 4 0-50-88-4-1-14-1-14 0z"/><path fill="#ffc600" d="M2863 4281l15 1 14 1 4 0-50-88-4 0-15-1-14 0z"/><path fill="#ffbc00" d="M2835 4281l14 0 14 0 5 0-51-87-4 0-14 0-15 0z"/><path fill="#ffb200" d="M2790 4283l45-2 4 0-51-87-4 0-45 2z"/><path fill="#ffa200" d="M2668 4301l47-10 45-6 30-2 5-1-51-86-5 0-30 3-46 6-46 9z"/><path fill="#ff9200" d="M2605 4318l48-14 15-3 5-1-52-87-4 1-16 4-48 14z"/></g>
<path stroke-opacity=".55" d="M2526 4191l-15-23 16-5 15 23 16-4-15-23 16-4 15 22 16-3-15-23 15-4 16 23 15-3-15-23 16-3 15 23 16-2-16-23 16-2 15 22 15-1-15-23 15-2 15 23 15-1-15-23 15-1 15 23 15-1-15-23 15-1 15 23 15 0-16-23 15 0 15 23 15 0-15-23 14 0 15 24 14 0-15-23 15 1 15 23 14 1-15-23 14 1 15 23 14 2-15-24 13 1 15 24 14 2-15-24 14 2 15 24 13 2-15-24 14 2 15 24 13 2-15-24 14 2 14 24 13 3M2542 4215l-16-24 16-5 16 24 16-5-16-23 16-5 16 24 16-4-16-23 16-4 15 24 16-3-16-24 16-3 16 24 15-3-15-23 15-3 15 24 16-2-16-23 15-2 16 24 15-1-16-24 15-1 16 24 14-1-15-24 15-1 15 24 15 0-15-24 14 0 15 24 15 1-15-25 14 1 15 24 14 1-15-25 15 1 15 25 14 1-15-25 14 1 15 25 13 1-14-24 13 1 15 25 14 2-15-25 14 2 15 25 13 2-15-25 14 2 14 25 14 2-15-25 13 2 15 26 13 2-15-25 13 2 15 26 13 3-15-26 13 3 15 26 13 2-15-26 13 3 14 26 13 4-14-27 12 3 14 27 13 3M2557 4239l-15-24 16-5 16 24 16-4-16-25 16-4 15 25 16-4-15-25 15-3 16 24 16-3-16-24 16-3 15 24 15-2-15-25 15-2 16 25 15-2-15-25 15-1 15 25 15-2-15-24 15-1 15 24 15 0-16-25 15-1 15 25 15 0-15-25 14 0 16 25 14 1-15-25 14 0 15 25 15 1-16-25 15 1 15 25 14 1-15-25 14 1 15 25 13 2-15-26 14 2 15 26 14 2-15-26 14 2 14 26 14 2-15-26 13 2 15 26 13 2-14-26 13 3 15 26 13 3-15-27 13 3 15 26 13 3-15-26 13 3 14 26 13 3-14-27 12 3 15 28 12 3-14-27 12 3 15 27 12 3-14-27 12 3 15 28 12 3-14-28 12 4 14 28 12 3-14-28 12 3 14 28 12 4-14-28 12 3 14 28 11 4-14-29"/><path stroke-opacity=".5" d="M2994 4174l-14-25 13 3 14 24 13 3-14-25 13 3 14 25 13 2-14-25 12 3 15 25 13 3-15-25 13 3 14 25 13 3-15-25 13 3 14 25 12 3-14-25 12 2 14 27 13 3-15-27 13 4 14 26 12 3-14-26 12 3 14 26 11 3-14-26M3111 4223l-14-27 12 3 14 27 13 3-15-27 12 4 15 27 12 3-14-27 12 3 14 27 12 4-14-28 12 3 14 28 11 3-14-28"/>
<g stroke="none"><path fill="#58e800" d="M3282 4461l12 4 11 5-46-110-11-4-12-4z"/><path fill="#72eb00" d="M3259 4452l11 4 12 5 3 1-46-108-3-2-12-4-12-4z"/><path fill="#8bed00" d="M3223 4438l36 14 3 1-46-107-4-2-36-11z"/><path fill="#a5f000" d="M3187 4425l36 13 4 2-47-106-4-1-37-11z"/><path fill="#b7f100" d="M3162 4417l13 4 12 4 4 2-48-104-4-1-12-4-13-4z"/><path fill="#caf300" d="M3125 4406l37 11 4 2-48-103-4-2-38-10z"/><path fill="#dcf400" d="M3086 4395l39 11 4 1-49-102-4-1-39-9z"/><path fill="#e8f200" d="M3047 4386l39 9 4 1-49-100-4-1-39-7z"/><path fill="#f3f000" d="M2993 4377l41 7 13 2 4 1-49-99-4 0-14-3-41-6z"/><path fill="#ffee00" d="M2966 4373l13 2 14 2 4 1-50-98-4-1-14-1-13-2z"/><path fill="#ffea00" d="M2924 4370l42 3 4 1-50-97-4-1-43-2z"/><path fill="#ffe600" d="M2881 4368l43 2 4 0-51-96-4 0-43-1z"/><path fill="#ffe200" d="M2852 4369l14-1 15 0 4 0-51-95-4 0-15 0-14 1z"/><path fill="#ffdc00" d="M2807 4372l45-3 4 0-51-96-4 1-45 3z"/><path fill="#ffd600" d="M2747 4380l45-7 15-1 5-1-52-94-4 0-15 2-46 7z"/><path fill="#ffd000" d="M2653 4405l47-14 47-11 4 0-52-95-4 1-47 10-48 14z"/></g>
<path stroke-opacity=".55" d="M2573 4265l-16-26 17-5 15 26 16-5-15-25 15-4 16 25 16-4-16-25 16-4 16 26 15-3-15-26 15-3 16 26 15-3-16-25 16-2 15 25 15-1-15-26 15-1 16 25 14-1-15-26 15-1 15 26 15-1-15-25 14-1 16 26 14 0-15-26 15 0 15 26 14 1-15-26 14 0 16 26 14 1-15-26 14 1 15 26 14 1-15-26 14 1 15 27 13 1-15-26 14 2 15 26 14 2-15-26 13 2 15 26 14 3-15-27 13 2 15 27 13 2-15-27 14 3 14 27 13 3-14-27 13 2 14 28 13 3-14-28 12 3 15 28 13 3-15-28 13 4 14 27 13 4-15-28 13 3 14 28 13 4-15-29 13 4 14 28 12 4-14-29 12 4 14 28 12 4-14-29 12 3 14 30 12 3-14-29 12 3 14 30 11 4-14-30M2589 4291l-16-26 16-5 16 26 16-5-16-26 16-4 16 26 16-4-16-26 16-3 15 26 16-3-16-26 16-3 15 26 16-2-16-27 15-2 16 27 15-2-16-26 16-2 15 26 15-1-16-26 15-1 16 26 15 0-16-27 15 0 15 27 15 0-16-27 15 0 15 27 15 0-16-26 15 0 15 27 14 1-15-27 14 1 15 27 14 1-15-27 14 2 15 27 14 2-16-28 14 2 15 27 14 3-15-28 13 2 15 28 14 2-15-27 13 2 15 28 13 2-15-28 13 3 15 28 13 3-15-28 13 3 15 28 13 3-15-28 13 3 15 28 12 4-14-29 12 3 15 29 12 4-14-29 12 3 15 29 12 4-14-29 12 3 14 30 12 3-14-29 12 3 14 30 12 4-14-30 12 4 14 30 12 4-14-31 12 4 14 30 11 4-14-30M2605 4318l-16-27 16-5 16 27 16-4-16-28 16-4 16 27 15-3-15-28 15-3 16 27 15-3-15-27 15-3 16 27 15-2-15-27 15-2 15 27 15-2-15-27 15-2 15 28 15-1-15-28 15-1 15 28 15-1-15-27 14 0 16 27 14 0-15-27 14 0 15 27 15 1-15-28 14 1 15 28 14 1-15-28 14 1 15 28 14 1-15-28 14 2 15 28 14 2-15-28 13 1 15 29 14 2-15-28 13 2 15 28 13 3-14-29 13 3 15 28 13 3-15-29 13 3 15 29 13 3-15-29 13 3 15 29 13 4-15-30 13 3 14 30 13 3-15-29 13 3 14 30 13 4-15-30 13 3 14 30 12 4-14-30 12 4 14 30 13 4-15-31 12 4 15 31 11 4-14-31 12 4 14 31 12 4-14-31 12 3 14 32 11 4-14-32"/>
<path stroke-opacity=".55" d="M2621 4346l-16-28 16-5 16 28 16-4-16-28 16-5 15 28 16-3-16-28 16-4 16 28 15-3-16-28 16-3 15 28 16-2-16-28 15-2 16 28 15-2-16-28 15-1 16 28 15-1-16-28 15-1 16 28 14-1-15-28 15 0 15 28 14 0-15-28 14 0 16 29 14 0-15-28 14 1 15 28 14 1-15-28 14 1 15 28 14 2-15-29 14 2 15 29 14 2-15-29 13 2 15 29 14 2-15-29 13 2 15 29 13 3-15-29 14 2 15 30 13 3-15-30 13 3 15 30 13 3-15-30 13 3 14 30 13 4-14-30 12 3 15 30 12 4-14-31 12 4 15 30 12 4-14-30 12 3 14 31 13 4-15-31 12 4 15 31 12 4-14-31 12 4 14 31 12 4-15-31 12 4 14 32 12 4-14-32 12 4 14 32 11 4-14-32M2637 4375l-16-29 16-5 16 29 15-5-15-28 15-5 16 29 16-4-16-28 16-4 15 29 16-3-16-29 15-3 16 29 15-2-15-29 15-2 16 29 15-2-16-29 15-1 16 29 14-1-15-29 15-1 15 29 15-1-16-29 15 0 15 29 15 0-16-29 15 1 15 29 14 1-15-30 14 1 16 29 14 2-16-30 14 1 15 30 14 2-15-30 14 2 15 29 14 2-15-29 13 2 15 30 14 2-15-30 13 2 15 31 13 2-15-30 14 3 14 30 13 3-14-30 13 3 14 30 13 4-14-31 12 3 15 31 13 4-15-31 13 3 14 31 13 4-15-31 13 3 14 32 13 4-15-32 12 4 15 32 12 4-14-32 12 4 14 32 12 4-14-32 12 4 14 33 12 4-14-33 11 5 14 32 12 5-14-33 12 4 14 33 11 5-14-34M2653 4405l-16-30 16-5 15 30 16-5-16-30 16-4 16 30 16-4-16-30 15-3 16 30 16-4-16-29 15-3 16 30 15-3-16-29 16-2 15 29 15-1-15-30 15-1 15 29 15-1-16-29 15-1 16 30 14-1-15-30 14 0 16 30 14 0-15-30 14 1 16 30 14 1-16-30 15 0 15 31 14 1-15-30 13 1 16 30 13 2-15-30 14 1 15 31 14 2-15-31 13 3 15 30 14 3-15-31 13 3 15 30 13 3-15-31 13 3 15 31 13 3-15-31 13 3 15 32 13 3-15-31 13 3 15 32 12 4-14-32 12 3 15 32 12 4-14-32 12 4 15 32 12 4-14-32 12 4 14 33 12 4-14-33 12 4 14 33 12 5-14-34 12 5 14 33 12 5-14-34 11 4 14 34 12 5-14-34 12 4 14 34 11 5-14-34"/>
<path d="M2058 3917l16-8M2074 3909l15-8M2089 3901l16-8M2105 3893l16-7M2121 3886l16-7M2137 3879l15-6M2152 3873l16-6M2168 3867l15-6M2183 3861l16-6M2199 3855l15-5M2214 3850l15-5M2229 3845l16-5M2245 3840l15-5M2260 3835l15-4M2275 3831l15-4M2290 3827l14-4M2304 3823l15-4M2319 3819l15-3M2334 3816l15-3M2349 3813l14-3M2363 3810l-13 3M2350 3813l15-3M2365 3810l14-3M2379 3807l15-3M2394 3804l14-2M2408 3802l14-3M2422 3799l14-2M2436 3797l14-2M2450 3795l14-2M2464 3793l14-1M2478 3792l14-2M2492 3790l14-2M2506 3788l13-1M2519 3787l-12 1M2507 3788l13-1M2520 3787l14-1M2534 3786l13-2M2547 3784l13-1M2560 3783l14-1M2574 3782l13-1M2587 3781l13-1M2600 3780l13 0M2613 3780l-13 0M2600 3780l13-1M2613 3779l13 0M2626 3779l13-1M2639 3778l13-1M2652 3777l13-1M2665 3776l13 0M2678 3776l12-1M2690 3775l-13 1M2677 3776l13-1" stroke-opacity="0.75" stroke-width="6.5" stroke-linecap="round"/>
<path d="M2653 4405l15-5 16-5 16-4 16-4 15-3 16-4 15-2 15-3 15-2 15-1 15-2 15-1 15 0 14-1 15 0 14 0 15 1 14 1 14 1 14 1 14 1 13 2 14 2 14 2 13 2 14 3 13 2 13 3 13 3 13 3 13 4 13 3 13 4 12 4 13 3 12 4 13 4 12 4 12 5 12 4 12 4 12 5 12 4 12 5 11 4 12 5 12 4 11 5M2653 4405l-16-30-16-29-16-28-16-27-16-26-16-26-15-24-16-24-15-23-16-22-15-21-16-20-15-19-15-19-15-17-16-17-15-15-14-15-15-14-15-13-15-12-14-11-15-10-14-9-14-8-15-8-14-6-14-6-14-4-13-4-14-3-14-2-13-1-13 0-14 1-13 2-13 2-13 4-12 4-13 6-12 6-13 7-12 8-12 8-12 10-12 10-12 12-11 12" stroke-opacity="0.8" stroke-width="4"/>
</g>
<text transform="translate(386.9 767.9) scale(1 0.86)" font-size="11.8" text-anchor="end">99</text>
<text transform="translate(389.9 800) scale(1 0.86)" font-size="11.8" text-anchor="end">96</text>
<text transform="translate(392.2 833.2) scale(1 0.86)" font-size="11.8" text-anchor="end">92</text>
<text transform="translate(393.5 867.8) scale(1 0.86)" font-size="11.8" text-anchor="end">88</text>
<text transform="translate(395.3 902.5) scale(1 0.86)" font-size="11.8" text-anchor="end">85</text>
<text transform="translate(391.2 947.4) scale(1 0.86)" font-size="11.8" text-anchor="middle">65</text>
<text transform="translate(419.8 964.9) scale(1 0.86)" font-size="11.8" text-anchor="middle">62.5</text>
<text transform="translate(456 980.4) scale(1 0.86)" font-size="11.8" text-anchor="middle">60</text>
<text transform="translate(484.6 995.5) scale(1 0.86)" font-size="11.8" text-anchor="middle">57.5</text>
<text transform="translate(519.3 1011.6) scale(1 0.86)" font-size="11.8" text-anchor="middle">55</text>
<text transform="translate(538.1 1011.6) scale(1 0.86)" font-size="11.8" text-anchor="middle">25</text>
<text transform="translate(569.7 998.7) scale(1 0.86)" font-size="11.8" text-anchor="middle">27.5</text>
<text transform="translate(600.3 981.8) scale(1 0.86)" font-size="11.8" text-anchor="middle">30</text>
<text transform="translate(635.4 965.8) scale(1 0.86)" font-size="11.8" text-anchor="middle">32.5</text>
<text transform="translate(664 949.7) scale(1 0.86)" font-size="11.8" text-anchor="middle">35</text>
<text transform="translate(437.9 851)" font-size="18.6" text-anchor="middle">(f)</text>
<text transform="translate(349.8 838.3) rotate(-90)" font-size="12.8" text-anchor="middle">Biodiesel yield (%)</text>
<text transform="translate(422.7 1004.3) rotate(28.5) skewX(-7) scale(0.94 1)" font-size="12.4" text-anchor="middle">D: Temperature (<tspan dy="-4.6" font-size="8.6">0</tspan><tspan dy="4.6">C)</tspan></text>
<text transform="translate(628.4 1005.1) rotate(-28.4) scale(0.94 1)" font-size="12.4" text-anchor="middle">C: Ultrasonic time (min)</text>
</g>
</svg>
</body></html>
